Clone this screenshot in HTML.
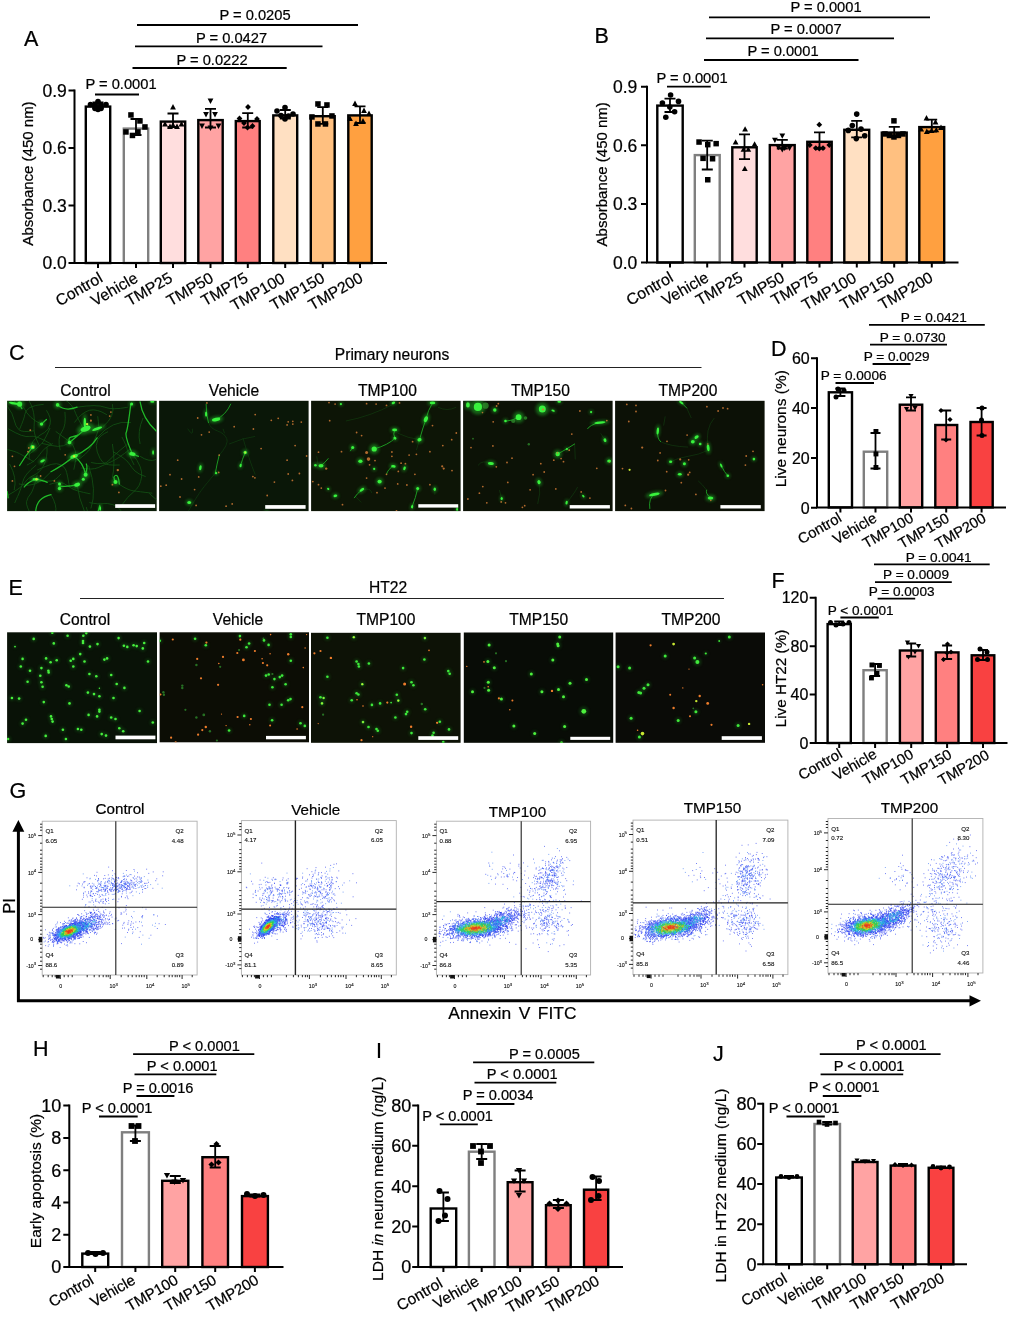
<!DOCTYPE html>
<html lang="en"><head><meta charset="utf-8"><title>Figure</title><style>html,body{margin:0;padding:0;background:#fff}svg{display:block}text{stroke:#000;stroke-width:.22px}.ns2 text{stroke:#111;stroke-width:.12px}</style></head><body>
<svg width="1010" height="1317" viewBox="0 0 1010 1317" font-family="'Liberation Sans', Arial, sans-serif" fill="#000">
<defs>
<filter id="b1" x="-20%" y="-20%" width="140%" height="140%"><feGaussianBlur stdDeviation="0.55"/></filter>
<filter id="b2" x="-20%" y="-20%" width="140%" height="140%"><feGaussianBlur stdDeviation="1.6"/></filter>
<filter id="b3" x="-20%" y="-20%" width="140%" height="140%"><feGaussianBlur stdDeviation="0.35"/></filter>
<filter id="b4" x="-20%" y="-20%" width="140%" height="140%"><feGaussianBlur stdDeviation="0.8"/></filter>
</defs>
<g><rect x="85.8" y="106.6" width="24.4" height="156.4" fill="#fff" stroke="#000" stroke-width="2.4"/><rect x="123.8" y="128.6" width="24.4" height="134.4" fill="#fff" stroke="#7f7f7f" stroke-width="2.4"/><rect x="160.8" y="121.6" width="24.4" height="141.4" fill="#FFDEDE" stroke="#000" stroke-width="2.4"/><rect x="198.3" y="120.1" width="24.4" height="142.9" fill="#FFA3A3" stroke="#000" stroke-width="2.4"/><rect x="235.8" y="121.1" width="23.9" height="141.9" fill="#FF8080" stroke="#000" stroke-width="2.4"/><rect x="273.3" y="115.4" width="23.9" height="147.6" fill="#FFE0C2" stroke="#000" stroke-width="2.4"/><rect x="310.8" y="116.2" width="23.9" height="146.8" fill="#FFC080" stroke="#000" stroke-width="2.4"/><rect x="348.3" y="115.4" width="23.4" height="147.6" fill="#FFA040" stroke="#000" stroke-width="2.4"/><path d="M74.5 90.5V263H386" fill="none" stroke="#000" stroke-width="2.0" stroke-linecap="square"/><path d="M74.5 90.5h-6M74.5 148h-6M74.5 205.5h-6M74.5 263h-6M98 263v5M136 263v5M173 263v5M210.5 263v5M247.8 263v5M285.2 263v5M322.8 263v5M360 263v5" stroke="#000" stroke-width="2.0" fill="none"/><text x="66.8" y="96.7" font-size="17.5" text-anchor="end">0.9</text><text x="66.8" y="154.2" font-size="17.5" text-anchor="end">0.6</text><text x="66.8" y="211.7" font-size="17.5" text-anchor="end">0.3</text><text x="66.8" y="269.2" font-size="17.5" text-anchor="end">0.0</text><path d="M92.5 102.5h11M92.5 108h11M98 102.5V108" stroke="#000" stroke-width="1.8" fill="none"/><circle cx="98" cy="101.5" r="2.8"/><circle cx="90.5" cy="104.5" r="2.8"/><circle cx="95" cy="105" r="2.8"/><circle cx="101" cy="105" r="2.8"/><circle cx="106" cy="104.5" r="2.8"/><circle cx="98" cy="109.5" r="2.8"/><circle cx="95" cy="108.5" r="2.8"/><circle cx="101" cy="108.5" r="2.8"/><path d="M130.5 119h11M130.5 135h11M136 119V135" stroke="#000" stroke-width="1.8" fill="none"/><rect x="128.2" y="112.2" width="5.5" height="5.5"/><rect x="137.2" y="118.2" width="5.5" height="5.5"/><rect x="142.2" y="124.2" width="5.5" height="5.5"/><rect x="123.2" y="129.2" width="5.5" height="5.5"/><rect x="135.2" y="129.2" width="5.5" height="5.5"/><rect x="129.7" y="132.7" width="5.5" height="5.5"/><path d="M167.5 113.5h11M167.5 127h11M173 113.5V127" stroke="#000" stroke-width="1.8" fill="none"/><path d="M173 104.1L175.9 109.4L170.1 109.4Z"/><path d="M165 121.1L167.9 126.4L162.1 126.4Z"/><path d="M170 123.6L172.9 128.9L167.1 128.9Z"/><path d="M177 123.6L179.9 128.9L174.1 128.9Z"/><path d="M181.5 121.1L184.4 126.4L178.6 126.4Z"/><path d="M173 122.1L175.9 127.4L170.1 127.4Z"/><path d="M205 108.8h11M205 127.5h11M210.5 108.8V127.5" stroke="#000" stroke-width="1.8" fill="none"/><path d="M210.5 103.9L213.4 98.6L207.6 98.6Z"/><path d="M206 117.4L208.9 112.1L203.1 112.1Z"/><path d="M215 117.4L217.9 112.1L212.1 112.1Z"/><path d="M202 128.9L204.9 123.6L199.1 123.6Z"/><path d="M218.5 128.9L221.4 123.6L215.6 123.6Z"/><path d="M210.5 130.9L213.4 125.6L207.6 125.6Z"/><path d="M242.2 113.2h11M242.2 127.5h11M247.8 113.2V127.5" stroke="#000" stroke-width="1.8" fill="none"/><path d="M248 104.1L250.9 107L248 109.9L245.1 107Z"/><path d="M239.5 115.6L242.4 118.5L239.5 121.4L236.6 118.5Z"/><path d="M257 116.1L259.9 119L257 121.9L254.1 119Z"/><path d="M244 120.1L246.9 123L244 125.9L241.1 123Z"/><path d="M252.5 123.1L255.4 126L252.5 128.9L249.6 126Z"/><path d="M247.5 124.6L250.4 127.5L247.5 130.4L244.6 127.5Z"/><path d="M279.8 110h11M279.8 118.5h11M285.2 110V118.5" stroke="#000" stroke-width="1.8" fill="none"/><circle cx="285" cy="107.5" r="2.8"/><circle cx="277" cy="111" r="2.8"/><circle cx="281" cy="115.5" r="2.8"/><circle cx="288.5" cy="116" r="2.8"/><circle cx="293" cy="114" r="2.8"/><circle cx="285" cy="119" r="2.8"/><path d="M317.2 107.2h11M317.2 123.8h11M322.8 107.2V123.8" stroke="#000" stroke-width="1.8" fill="none"/><rect x="315.2" y="101.2" width="5.5" height="5.5"/><rect x="324.2" y="102.2" width="5.5" height="5.5"/><rect x="309.2" y="114.2" width="5.5" height="5.5"/><rect x="329.2" y="113.2" width="5.5" height="5.5"/><rect x="315.2" y="121.2" width="5.5" height="5.5"/><rect x="322.7" y="121.2" width="5.5" height="5.5"/><path d="M354.5 106.4h11M354.5 123h11M360 106.4V123" stroke="#000" stroke-width="1.8" fill="none"/><path d="M355 100.6L357.9 105.9L352.1 105.9Z"/><path d="M364 107.6L366.9 112.9L361.1 112.9Z"/><path d="M369 110.6L371.9 115.9L366.1 115.9Z"/><path d="M350 115.6L352.9 120.9L347.1 120.9Z"/><path d="M363 118.1L365.9 123.4L360.1 123.4Z"/><path d="M356 120.6L358.9 125.9L353.1 125.9Z"/><text font-size="15.8" text-anchor="end" transform="translate(103.7 281) rotate(-30)">Control</text><text font-size="15.8" text-anchor="end" transform="translate(139 281) rotate(-30)">Vehicle</text><text font-size="15.8" text-anchor="end" transform="translate(173.5 281) rotate(-30)">TMP25</text><text font-size="15.8" text-anchor="end" transform="translate(214.5 281) rotate(-30)">TMP50</text><text font-size="15.8" text-anchor="end" transform="translate(249.2 281) rotate(-30)">TMP75</text><text font-size="15.8" text-anchor="end" transform="translate(286.2 281.5) rotate(-30)">TMP100</text><text font-size="15.8" text-anchor="end" transform="translate(325.8 281) rotate(-30)">TMP150</text><text font-size="15.8" text-anchor="end" transform="translate(364 281) rotate(-30)">TMP200</text><text font-size="15" text-anchor="middle" transform="translate(32.5 173.5) rotate(-90)">Absorbance (450 nm)</text><path d="M137 25H358" stroke="#000" stroke-width="1.8"/><text x="255" y="19.9" font-size="14.7" text-anchor="middle">P = 0.0205</text><path d="M135 46.3H322.5" stroke="#000" stroke-width="1.8"/><text x="231.5" y="42.9" font-size="14.7" text-anchor="middle">P = 0.0427</text><path d="M132.5 68H286.7" stroke="#000" stroke-width="1.8"/><text x="212" y="64.7" font-size="14.7" text-anchor="middle">P = 0.0222</text><path d="M95 94.5H139" stroke="#000" stroke-width="1.8"/><text x="121" y="89.2" font-size="14.7" text-anchor="middle">P = 0.0001</text><text x="24" y="45.8" font-size="21.5" text-anchor="start">A</text></g>
<g><rect x="657.3" y="105.6" width="25.4" height="156.9" fill="#fff" stroke="#000" stroke-width="2.4"/><rect x="694.8" y="155.1" width="24.9" height="107.4" fill="#fff" stroke="#7f7f7f" stroke-width="2.4"/><rect x="732.3" y="147.3" width="24.4" height="115.2" fill="#FFDEDE" stroke="#000" stroke-width="2.4"/><rect x="769.8" y="145.1" width="24.9" height="117.4" fill="#FFA3A3" stroke="#000" stroke-width="2.4"/><rect x="807.3" y="141.8" width="24.4" height="120.7" fill="#FF8080" stroke="#000" stroke-width="2.4"/><rect x="844.3" y="129.8" width="24.9" height="132.7" fill="#FFE0C2" stroke="#000" stroke-width="2.4"/><rect x="881.8" y="132.6" width="24.9" height="129.9" fill="#FFC080" stroke="#000" stroke-width="2.4"/><rect x="919.3" y="127.1" width="24.9" height="135.4" fill="#FFA040" stroke="#000" stroke-width="2.4"/><path d="M647 86.7V262.5H957.5" fill="none" stroke="#000" stroke-width="2.0" stroke-linecap="square"/><path d="M647 86.7h-6M647 145.3h-6M647 203.9h-6M647 262.5h-6M670 262.5v5M707.2 262.5v5M744.5 262.5v5M782.2 262.5v5M819.5 262.5v5M856.8 262.5v5M894.2 262.5v5M931.8 262.5v5" stroke="#000" stroke-width="2.0" fill="none"/><text x="637.3" y="92.9" font-size="17.5" text-anchor="end">0.9</text><text x="637.3" y="151.5" font-size="17.5" text-anchor="end">0.6</text><text x="637.3" y="210.1" font-size="17.5" text-anchor="end">0.3</text><text x="637.3" y="268.7" font-size="17.5" text-anchor="end">0.0</text><path d="M664.5 98.7h11M664.5 112h11M670 98.7V112" stroke="#000" stroke-width="1.8" fill="none"/><circle cx="670.6" cy="95" r="2.8"/><circle cx="662.4" cy="103" r="2.8"/><circle cx="678.5" cy="101.4" r="2.8"/><circle cx="669.8" cy="107" r="2.8"/><circle cx="674.6" cy="111.7" r="2.8"/><circle cx="665.8" cy="117.2" r="2.8"/><path d="M701.8 140.7h11M701.8 169.5h11M707.2 140.7V169.5" stroke="#000" stroke-width="1.8" fill="none"/><rect x="696.3" y="139.3" width="5.5" height="5.5"/><rect x="705" y="141.9" width="5.5" height="5.5"/><rect x="713.4" y="140.9" width="5.5" height="5.5"/><rect x="700.3" y="155.6" width="5.5" height="5.5"/><rect x="709.8" y="156" width="5.5" height="5.5"/><rect x="705" y="177" width="5.5" height="5.5"/><path d="M739 134.4h11M739 159.2h11M744.5 134.4V159.2" stroke="#000" stroke-width="1.8" fill="none"/><path d="M745.1 126.2L748 131.5L742.2 131.5Z"/><path d="M735.6 139.2L738.5 144.5L732.7 144.5Z"/><path d="M754.6 141.3L757.5 146.6L751.7 146.6Z"/><path d="M743.5 146.4L746.4 151.7L740.6 151.7Z"/><path d="M748.3 146.4L751.2 151.7L745.4 151.7Z"/><path d="M744.8 165.8L747.7 171.1L741.9 171.1Z"/><path d="M776.8 139.9h11M776.8 148.5h11M782.2 139.9V148.5" stroke="#000" stroke-width="1.8" fill="none"/><path d="M782.3 138.7L785.2 133.4L779.4 133.4Z"/><path d="M774.9 143.1L777.8 137.8L772 137.8Z"/><path d="M789.5 151L792.4 145.7L786.6 145.7Z"/><path d="M778.4 150.3L781.3 145L775.5 145Z"/><path d="M784.7 151L787.6 145.7L781.8 145.7Z"/><path d="M782.3 152.6L785.2 147.3L779.4 147.3Z"/><path d="M814 132.3h11M814 148.5h11M819.5 132.3V148.5" stroke="#000" stroke-width="1.8" fill="none"/><path d="M819.3 121.8L822.2 124.7L819.3 127.6L816.4 124.7Z"/><path d="M809.8 142.1L812.7 145L809.8 147.9L806.9 145Z"/><path d="M829.3 142.1L832.2 145L829.3 147.9L826.4 145Z"/><path d="M815.8 145.2L818.7 148.1L815.8 151L812.9 148.1Z"/><path d="M819.3 145.6L822.2 148.5L819.3 151.4L816.4 148.5Z"/><path d="M823 145.2L825.9 148.1L823 151L820.1 148.1Z"/><path d="M851.2 120.9h11M851.2 137.4h11M856.8 120.9V137.4" stroke="#000" stroke-width="1.8" fill="none"/><circle cx="856.7" cy="114.1" r="2.8"/><circle cx="852.3" cy="125.6" r="2.8"/><circle cx="848.3" cy="130.4" r="2.8"/><circle cx="861" cy="129.1" r="2.8"/><circle cx="864.7" cy="135.8" r="2.8"/><circle cx="856.3" cy="138.6" r="2.8"/><path d="M888.8 126.8h11M888.8 137h11M894.2 126.8V137" stroke="#000" stroke-width="1.8" fill="none"/><rect x="891.2" y="118.1" width="5.5" height="5.5"/><rect x="882.2" y="131.2" width="5.5" height="5.5"/><rect x="886.7" y="132.7" width="5.5" height="5.5"/><rect x="891.2" y="134.2" width="5.5" height="5.5"/><rect x="895.7" y="132.7" width="5.5" height="5.5"/><rect x="900.2" y="131.2" width="5.5" height="5.5"/><path d="M926.2 119.6h11M926.2 131.5h11M931.8 119.6V131.5" stroke="#000" stroke-width="1.8" fill="none"/><path d="M926.5 115.1L929.4 120.4L923.6 120.4Z"/><path d="M935.5 119.1L938.4 124.4L932.6 124.4Z"/><path d="M921.2 126.2L924.1 131.5L918.3 131.5Z"/><path d="M926.8 128.6L929.7 133.9L923.9 133.9Z"/><path d="M931.5 127.8L934.4 133.1L928.6 133.1Z"/><path d="M936.3 127L939.2 132.3L933.4 132.3Z"/><path d="M941 124.6L943.9 129.9L938.1 129.9Z"/><text font-size="15.8" text-anchor="end" transform="translate(674.3 280.5) rotate(-30)">Control</text><text font-size="15.8" text-anchor="end" transform="translate(709.8 280.5) rotate(-30)">Vehicle</text><text font-size="15.8" text-anchor="end" transform="translate(743.8 280.5) rotate(-30)">TMP25</text><text font-size="15.8" text-anchor="end" transform="translate(785.5 280.5) rotate(-30)">TMP50</text><text font-size="15.8" text-anchor="end" transform="translate(819.2 280.5) rotate(-30)">TMP75</text><text font-size="15.8" text-anchor="end" transform="translate(857.5 281) rotate(-30)">TMP100</text><text font-size="15.8" text-anchor="end" transform="translate(895.6 280.5) rotate(-30)">TMP150</text><text font-size="15.8" text-anchor="end" transform="translate(934.2 280.5) rotate(-30)">TMP200</text><text font-size="15" text-anchor="middle" transform="translate(606.5 174.3) rotate(-90)">Absorbance (450 nm)</text><path d="M709 17.3H930" stroke="#000" stroke-width="1.8"/><text x="826" y="11.7" font-size="14.7" text-anchor="middle">P = 0.0001</text><path d="M706 38.4H894" stroke="#000" stroke-width="1.8"/><text x="806" y="33.9" font-size="14.7" text-anchor="middle">P = 0.0007</text><path d="M704 60H858.5" stroke="#000" stroke-width="1.8"/><text x="783" y="56.4" font-size="14.7" text-anchor="middle">P = 0.0001</text><path d="M667 86.7H710.8" stroke="#000" stroke-width="1.8"/><text x="692" y="83.3" font-size="14.7" text-anchor="middle">P = 0.0001</text><text x="594.5" y="43.2" font-size="21.5" text-anchor="start">B</text></g>
<g><rect x="828.8" y="392.3" width="23.2" height="115.1" fill="#fff" stroke="#000" stroke-width="2.4"/><rect x="863.8" y="451.7" width="23.4" height="55.7" fill="#fff" stroke="#7f7f7f" stroke-width="2.4"/><rect x="899.8" y="404.7" width="22.4" height="102.7" fill="#FFA3A3" stroke="#000" stroke-width="2.4"/><rect x="935.3" y="425" width="21.9" height="82.4" fill="#FF8080" stroke="#000" stroke-width="2.4"/><rect x="970.5" y="422" width="22.2" height="85.4" fill="#F94141" stroke="#000" stroke-width="2.4"/><path d="M817 358.3V507.4H1005" fill="none" stroke="#000" stroke-width="2.0" stroke-linecap="square"/><path d="M817 358.3h-6M817 408.1h-6M817 457.9h-6M817 507.8h-6M840.4 507.4v5M875.5 507.4v5M911 507.4v5M946.2 507.4v5M981.6 507.4v5" stroke="#000" stroke-width="2.0" fill="none"/><text x="809.7" y="364" font-size="16" text-anchor="end">60</text><text x="809.7" y="413.8" font-size="16" text-anchor="end">40</text><text x="809.7" y="463.6" font-size="16" text-anchor="end">20</text><text x="809.7" y="513.5" font-size="16" text-anchor="end">0</text><path d="M835.4 388.5h10M835.4 396h10M840.4 388.5V396" stroke="#000" stroke-width="1.8" fill="none"/><circle cx="838" cy="389" r="2.5"/><circle cx="844" cy="390.5" r="2.5"/><circle cx="836" cy="397" r="2.5"/><path d="M870.5 433h10M870.5 468.5h10M875.5 433V468.5" stroke="#000" stroke-width="1.8" fill="none"/><rect x="873.5" y="429" width="4.9" height="4.9"/><rect x="873.5" y="451.5" width="4.9" height="4.9"/><rect x="873.5" y="465" width="4.9" height="4.9"/><path d="M906 397.3h10M906 410.5h10M911 397.3V410.5" stroke="#000" stroke-width="1.8" fill="none"/><path d="M911 398.6L913.6 393.9L908.4 393.9Z"/><path d="M906.5 411.6L909.1 406.9L903.9 406.9Z"/><path d="M915 410.6L917.6 405.9L912.4 405.9Z"/><path d="M941.2 410.5h10M941.2 439.5h10M946.2 410.5V439.5" stroke="#000" stroke-width="1.8" fill="none"/><path d="M941 407.9L943.6 410.5L941 413.1L938.4 410.5Z"/><path d="M950 416.9L952.6 419.5L950 422.1L947.4 419.5Z"/><path d="M946 437.4L948.6 440L946 442.6L943.4 440Z"/><path d="M976.6 408h10M976.6 435.5h10M981.6 408V435.5" stroke="#000" stroke-width="1.8" fill="none"/><circle cx="982" cy="408" r="2.5"/><circle cx="981.5" cy="420" r="2.5"/><circle cx="982" cy="435.5" r="2.5"/><text font-size="14.8" text-anchor="end" transform="translate(842.7 520.7) rotate(-30)">Control</text><text font-size="14.8" text-anchor="end" transform="translate(877.8 520.9) rotate(-30)">Vehicle</text><text font-size="14.8" text-anchor="end" transform="translate(914.6 520.9) rotate(-30)">TMP100</text><text font-size="14.8" text-anchor="end" transform="translate(950.5 521.1) rotate(-30)">TMP150</text><text font-size="14.8" text-anchor="end" transform="translate(987.1 521.1) rotate(-30)">TMP200</text><text font-size="15.5" text-anchor="middle" transform="translate(786 428.7) rotate(-90)">Live neurons (%)</text><path d="M869 324.9H984.8" stroke="#000" stroke-width="1.8"/><text x="933.8" y="322" font-size="13.6" text-anchor="middle">P = 0.0421</text><path d="M870 344.7H947" stroke="#000" stroke-width="1.8"/><text x="912.7" y="342.1" font-size="13.6" text-anchor="middle">P = 0.0730</text><path d="M872.6 364H910.5" stroke="#000" stroke-width="1.8"/><text x="896.6" y="360.6" font-size="13.6" text-anchor="middle">P = 0.0029</text><path d="M835.5 383H874" stroke="#000" stroke-width="1.8"/><text x="853.6" y="379.7" font-size="13.6" text-anchor="middle">P = 0.0006</text><text x="771" y="356.3" font-size="21.5" text-anchor="start">D</text></g>
<g><rect x="827.6" y="624.1" width="23.2" height="118.9" fill="#fff" stroke="#000" stroke-width="2.4"/><rect x="863.5" y="670.2" width="23.2" height="72.8" fill="#fff" stroke="#7f7f7f" stroke-width="2.4"/><rect x="899.9" y="650.5" width="22.7" height="92.5" fill="#FFA3A3" stroke="#000" stroke-width="2.4"/><rect x="935.8" y="652.4" width="22.7" height="90.6" fill="#FF8080" stroke="#000" stroke-width="2.4"/><rect x="971.7" y="655.3" width="22.6" height="87.7" fill="#F94141" stroke="#000" stroke-width="2.4"/><path d="M815.7 597.7V743H1006.5" fill="none" stroke="#000" stroke-width="2.0" stroke-linecap="square"/><path d="M815.7 597.7h-6M815.7 646.2h-6M815.7 694.6h-6M815.7 743h-6M839.2 743v5M875.1 743v5M911.2 743v5M947.1 743v5M983 743v5" stroke="#000" stroke-width="2.0" fill="none"/><text x="808.4" y="603.4" font-size="16" text-anchor="end">120</text><text x="808.4" y="651.9" font-size="16" text-anchor="end">80</text><text x="808.4" y="700.3" font-size="16" text-anchor="end">40</text><text x="808.4" y="748.7" font-size="16" text-anchor="end">0</text><path d="M834.2 621.5h10M834.2 625h10M839.2 621.5V625" stroke="#000" stroke-width="1.8" fill="none"/><circle cx="830.5" cy="622.5" r="2.5"/><circle cx="836" cy="625" r="2.5"/><circle cx="843" cy="624" r="2.5"/><circle cx="849" cy="622.5" r="2.5"/><path d="M870.1 664h10M870.1 676h10M875.1 664V676" stroke="#000" stroke-width="1.8" fill="none"/><rect x="869.5" y="662.5" width="4.9" height="4.9"/><rect x="877" y="663" width="4.9" height="4.9"/><rect x="874.5" y="671" width="4.9" height="4.9"/><rect x="869" y="675.5" width="4.9" height="4.9"/><path d="M906.2 643.5h10M906.2 656.5h10M911.2 643.5V656.5" stroke="#000" stroke-width="1.8" fill="none"/><path d="M907.5 645.1L910.1 640.4L904.9 640.4Z"/><path d="M918.5 648.6L921.1 643.9L915.9 643.9Z"/><path d="M915 654.6L917.6 649.9L912.4 649.9Z"/><path d="M908.5 659.6L911.1 654.9L905.9 654.9Z"/><path d="M942.1 645.5h10M942.1 659h10M947.1 645.5V659" stroke="#000" stroke-width="1.8" fill="none"/><path d="M947.5 641.4L950.1 644L947.5 646.6L944.9 644Z"/><path d="M951 649.4L953.6 652L951 654.6L948.4 652Z"/><path d="M943.5 656.9L946.1 659.5L943.5 662.1L940.9 659.5Z"/><path d="M947 650.4L949.6 653L947 655.6L944.4 653Z"/><path d="M978 650h10M978 660h10M983 650V660" stroke="#000" stroke-width="1.8" fill="none"/><circle cx="980" cy="649" r="2.5"/><circle cx="987" cy="652" r="2.5"/><circle cx="977.5" cy="659.5" r="2.5"/><circle cx="987.5" cy="659.5" r="2.5"/><text font-size="14.8" text-anchor="end" transform="translate(843.3 756.7) rotate(-30)">Control</text><text font-size="14.8" text-anchor="end" transform="translate(877.8 757) rotate(-30)">Vehicle</text><text font-size="14.8" text-anchor="end" transform="translate(914.6 757.2) rotate(-30)">TMP100</text><text font-size="14.8" text-anchor="end" transform="translate(953 757.5) rotate(-30)">TMP150</text><text font-size="14.8" text-anchor="end" transform="translate(990.3 757.9) rotate(-30)">TMP200</text><text font-size="15.3" text-anchor="middle" transform="translate(786 678.5) rotate(-90)">Live HT22 (%)</text><path d="M874 564.3H989.7" stroke="#000" stroke-width="1.8"/><text x="938.7" y="562" font-size="13.6" text-anchor="middle">P = 0.0041</text><path d="M875 582.1H951.8" stroke="#000" stroke-width="1.8"/><text x="916" y="579.3" font-size="13.6" text-anchor="middle">P = 0.0009</text><path d="M877.6 598.7H915.2" stroke="#000" stroke-width="1.8"/><text x="901.6" y="596.1" font-size="13.6" text-anchor="middle">P = 0.0003</text><path d="M840.4 617.5H878.8" stroke="#000" stroke-width="1.8"/><text x="860.7" y="615.2" font-size="13.6" text-anchor="middle">P &lt; 0.0001</text><text x="771.5" y="588.3" font-size="21.5" text-anchor="start">F</text></g>
<g><rect x="82.3" y="1253.6" width="25.9" height="13.4" fill="#fff" stroke="#000" stroke-width="2.4"/><rect x="122" y="1132.3" width="26.9" height="134.7" fill="#fff" stroke="#7f7f7f" stroke-width="2.4"/><rect x="162.2" y="1180.8" width="26.1" height="86.2" fill="#FFA3A3" stroke="#000" stroke-width="2.4"/><rect x="202.4" y="1157.2" width="25.6" height="109.8" fill="#FF8080" stroke="#000" stroke-width="2.4"/><rect x="242" y="1196.1" width="25.9" height="70.9" fill="#F94141" stroke="#000" stroke-width="2.4"/><path d="M69.3 1105.6V1267H282.5" fill="none" stroke="#000" stroke-width="2.0" stroke-linecap="square"/><path d="M69.3 1105.6h-6M69.3 1137.9h-6M69.3 1170.2h-6M69.3 1202.5h-6M69.3 1234.8h-6M69.3 1267h-6M95.2 1267v5M135.4 1267v5M175.2 1267v5M215.2 1267v5M254.9 1267v5" stroke="#000" stroke-width="2.0" fill="none"/><text x="61.3" y="1112" font-size="18" text-anchor="end">10</text><text x="61.3" y="1144.3" font-size="18" text-anchor="end">8</text><text x="61.3" y="1176.6" font-size="18" text-anchor="end">6</text><text x="61.3" y="1208.9" font-size="18" text-anchor="end">4</text><text x="61.3" y="1241.2" font-size="18" text-anchor="end">2</text><text x="61.3" y="1273.4" font-size="18" text-anchor="end">0</text><path d="M89.8 1252h11M89.8 1254h11M95.2 1252V1254" stroke="#000" stroke-width="1.8" fill="none"/><circle cx="88" cy="1253" r="3"/><circle cx="95.5" cy="1254" r="3"/><circle cx="103" cy="1253" r="3"/><path d="M129.9 1125.5h11M129.9 1141h11M135.4 1125.5V1141" stroke="#000" stroke-width="1.8" fill="none"/><rect x="128.6" y="1123.1" width="5.8" height="5.8"/><rect x="135.6" y="1123.1" width="5.8" height="5.8"/><rect x="132.1" y="1138.1" width="5.8" height="5.8"/><path d="M169.8 1176h11M169.8 1183h11M175.2 1176V1183" stroke="#000" stroke-width="1.8" fill="none"/><path d="M167 1178.6L170.1 1173L163.9 1173Z"/><path d="M174.5 1185.1L177.6 1179.5L171.4 1179.5Z"/><path d="M183 1183.6L186.1 1178L179.9 1178Z"/><path d="M209.7 1146h11M209.7 1167.5h11M215.2 1146V1167.5" stroke="#000" stroke-width="1.8" fill="none"/><path d="M216.5 1140.9L219.6 1144L216.5 1147.1L213.4 1144Z"/><path d="M211.5 1161.4L214.6 1164.5L211.5 1167.6L208.4 1164.5Z"/><path d="M218.5 1159.4L221.6 1162.5L218.5 1165.6L215.4 1162.5Z"/><path d="M249.4 1194.5h11M249.4 1196.5h11M254.9 1194.5V1196.5" stroke="#000" stroke-width="1.8" fill="none"/><circle cx="247" cy="1194" r="3"/><circle cx="255" cy="1196" r="3"/><circle cx="263.5" cy="1195" r="3"/><text font-size="15.2" text-anchor="end" transform="translate(94.8 1283) rotate(-30)">Control</text><text font-size="15.2" text-anchor="end" transform="translate(136.5 1283) rotate(-30)">Vehicle</text><text font-size="15.2" text-anchor="end" transform="translate(179.4 1283) rotate(-30)">TMP100</text><text font-size="15.2" text-anchor="end" transform="translate(217.6 1283) rotate(-30)">TMP150</text><text font-size="15.2" text-anchor="end" transform="translate(259.9 1283) rotate(-30)">TMP200</text><text font-size="15.5" text-anchor="middle" transform="translate(41 1181) rotate(-90)">Early apoptosis (%)</text><path d="M133.1 1054.1H254.3" stroke="#000" stroke-width="1.8"/><text x="204.4" y="1050.6" font-size="14.6" text-anchor="middle">P &lt; 0.0001</text><path d="M134.5 1074.4H216.3" stroke="#000" stroke-width="1.8"/><text x="182.2" y="1071.2" font-size="14.6" text-anchor="middle">P &lt; 0.0001</text><path d="M136.4 1096H174.4" stroke="#000" stroke-width="1.8"/><text x="158" y="1092.8" font-size="14.6" text-anchor="middle">P = 0.0016</text><path d="M99 1116.5H137.7" stroke="#000" stroke-width="1.8"/><text x="117" y="1113" font-size="14.6" text-anchor="middle">P &lt; 0.0001</text><text x="33" y="1055.5" font-size="21.5" text-anchor="start">H</text></g>
<g><rect x="430.7" y="1208.5" width="25.5" height="58.5" fill="#fff" stroke="#000" stroke-width="2.4"/><rect x="468.9" y="1151.7" width="25.6" height="115.3" fill="#fff" stroke="#7f7f7f" stroke-width="2.4"/><rect x="507.7" y="1182.2" width="24.8" height="84.8" fill="#FFA3A3" stroke="#000" stroke-width="2.4"/><rect x="546" y="1205.2" width="24.7" height="61.8" fill="#FF8080" stroke="#000" stroke-width="2.4"/><rect x="584" y="1189.7" width="24.2" height="77.3" fill="#F94141" stroke="#000" stroke-width="2.4"/><path d="M418.2 1105.4V1267H622" fill="none" stroke="#000" stroke-width="2.0" stroke-linecap="square"/><path d="M418.2 1105.4h-6M418.2 1145.8h-6M418.2 1186.2h-6M418.2 1226.6h-6M418.2 1267h-6M443.4 1267v5M481.7 1267v5M520.1 1267v5M558.4 1267v5M596.1 1267v5" stroke="#000" stroke-width="2.0" fill="none"/><text x="411.2" y="1111.8" font-size="18" text-anchor="end">80</text><text x="411.2" y="1152.2" font-size="18" text-anchor="end">60</text><text x="411.2" y="1192.6" font-size="18" text-anchor="end">40</text><text x="411.2" y="1233" font-size="18" text-anchor="end">20</text><text x="411.2" y="1273.4" font-size="18" text-anchor="end">0</text><path d="M437.9 1192.5h11M437.9 1221h11M443.4 1192.5V1221" stroke="#000" stroke-width="1.8" fill="none"/><circle cx="439.5" cy="1191" r="3"/><circle cx="447.5" cy="1199" r="3"/><circle cx="445" cy="1215.5" r="3"/><circle cx="438.5" cy="1221" r="3"/><path d="M476.2 1144h11M476.2 1159h11M481.7 1144V1159" stroke="#000" stroke-width="1.8" fill="none"/><rect x="470.1" y="1143.1" width="5.8" height="5.8"/><rect x="487.1" y="1143.1" width="5.8" height="5.8"/><rect x="478.1" y="1148.6" width="5.8" height="5.8"/><rect x="478.1" y="1160.1" width="5.8" height="5.8"/><path d="M514.6 1170.5h11M514.6 1191.5h11M520.1 1170.5V1191.5" stroke="#000" stroke-width="1.8" fill="none"/><path d="M519 1173.6L522.1 1168L515.9 1168Z"/><path d="M514 1184.1L517.1 1178.5L510.9 1178.5Z"/><path d="M524 1184.1L527.1 1178.5L520.9 1178.5Z"/><path d="M519 1198.6L522.1 1193L515.9 1193Z"/><path d="M552.9 1200h11M552.9 1208h11M558.4 1200V1208" stroke="#000" stroke-width="1.8" fill="none"/><path d="M549.5 1200.4L552.6 1203.5L549.5 1206.6L546.4 1203.5Z"/><path d="M566.5 1200.4L569.6 1203.5L566.5 1206.6L563.4 1203.5Z"/><path d="M558 1197.4L561.1 1200.5L558 1203.6L554.9 1200.5Z"/><path d="M558 1205.9L561.1 1209L558 1212.1L554.9 1209Z"/><path d="M590.6 1176.5h11M590.6 1200h11M596.1 1176.5V1200" stroke="#000" stroke-width="1.8" fill="none"/><circle cx="592.5" cy="1177" r="3"/><circle cx="599" cy="1181" r="3"/><circle cx="598.5" cy="1196" r="3"/><circle cx="591" cy="1200" r="3"/><text font-size="15.5" text-anchor="end" transform="translate(443.8 1286.3) rotate(-30)">Control</text><text font-size="15.5" text-anchor="end" transform="translate(480.3 1284.3) rotate(-30)">Vehicle</text><text font-size="15.5" text-anchor="end" transform="translate(523.3 1284.3) rotate(-30)">TMP100</text><text font-size="15.5" text-anchor="end" transform="translate(560.8 1284.3) rotate(-30)">TMP150</text><text font-size="15.5" text-anchor="end" transform="translate(600.6 1284) rotate(-30)">TMP200</text><text font-size="15.5" text-anchor="middle" transform="translate(382.5 1178.8) rotate(-90)">LDH <tspan font-style="italic">in</tspan> neuron medium (<tspan font-style="italic">n</tspan>g/L)</text><path d="M473.1 1062.4H594.3" stroke="#000" stroke-width="1.8"/><text x="544.4" y="1058.7" font-size="14.6" text-anchor="middle">P = 0.0005</text><path d="M474.5 1082.7H556.3" stroke="#000" stroke-width="1.8"/><text x="522.2" y="1079.4" font-size="14.6" text-anchor="middle">P &lt; 0.0001</text><path d="M476.4 1104H514.4" stroke="#000" stroke-width="1.8"/><text x="498" y="1100.3" font-size="14.6" text-anchor="middle">P = 0.0034</text><path d="M439.8 1124.3H477.8" stroke="#000" stroke-width="1.8"/><text x="457.6" y="1121.1" font-size="14.6" text-anchor="middle">P &lt; 0.0001</text><text x="376" y="1057.7" font-size="21.5" text-anchor="start">I</text></g>
<g><rect x="776.2" y="1177.5" width="25.6" height="86.8" fill="#fff" stroke="#000" stroke-width="2.4"/><rect x="814.5" y="1124" width="25.5" height="140.3" fill="#fff" stroke="#7f7f7f" stroke-width="2.4"/><rect x="852.7" y="1162" width="24.8" height="102.3" fill="#FFA3A3" stroke="#000" stroke-width="2.4"/><rect x="890.7" y="1165.6" width="24.7" height="98.7" fill="#FF8080" stroke="#000" stroke-width="2.4"/><rect x="928.7" y="1167.8" width="24.7" height="96.5" fill="#F94141" stroke="#000" stroke-width="2.4"/><path d="M763.2 1103.8V1264.3H966" fill="none" stroke="#000" stroke-width="2.0" stroke-linecap="square"/><path d="M763.2 1103.8h-6M763.2 1143.9h-6M763.2 1184h-6M763.2 1224.2h-6M763.2 1264.3h-6M789 1264.3v5M827.2 1264.3v5M865.1 1264.3v5M903 1264.3v5M941 1264.3v5" stroke="#000" stroke-width="2.0" fill="none"/><text x="756.5" y="1110.2" font-size="18" text-anchor="end">80</text><text x="756.5" y="1150.3" font-size="18" text-anchor="end">60</text><text x="756.5" y="1190.4" font-size="18" text-anchor="end">40</text><text x="756.5" y="1230.6" font-size="18" text-anchor="end">20</text><text x="756.5" y="1270.7" font-size="18" text-anchor="end">0</text><path d="M784 1176h10M784 1177.5h10M789 1176V1177.5" stroke="#000" stroke-width="1.8" fill="none"/><circle cx="781" cy="1176.5" r="2.4"/><circle cx="789" cy="1177.5" r="2.4"/><circle cx="797" cy="1176.5" r="2.4"/><path d="M822.2 1122h10M822.2 1124.5h10M827.2 1122V1124.5" stroke="#000" stroke-width="1.8" fill="none"/><rect x="816.7" y="1119.7" width="4.6" height="4.6"/><rect x="824.7" y="1122.2" width="4.6" height="4.6"/><rect x="833.2" y="1120.7" width="4.6" height="4.6"/><path d="M860.1 1160.5h10M860.1 1162h10M865.1 1160.5V1162" stroke="#000" stroke-width="1.8" fill="none"/><path d="M857 1163L859.5 1158.5L854.5 1158.5Z"/><path d="M865 1164L867.5 1159.5L862.5 1159.5Z"/><path d="M873.5 1163.5L876 1159L871 1159Z"/><path d="M898 1164h10M898 1165.5h10M903 1164V1165.5" stroke="#000" stroke-width="1.8" fill="none"/><path d="M895 1162L897.5 1164.5L895 1167L892.5 1164.5Z"/><path d="M903 1163L905.5 1165.5L903 1168L900.5 1165.5Z"/><path d="M911.5 1162.5L914 1165L911.5 1167.5L909 1165Z"/><path d="M936 1166.5h10M936 1168h10M941 1166.5V1168" stroke="#000" stroke-width="1.8" fill="none"/><circle cx="933" cy="1166.5" r="2.4"/><circle cx="941" cy="1168" r="2.4"/><circle cx="949.5" cy="1167" r="2.4"/><text font-size="15.5" text-anchor="end" transform="translate(788.3 1281.6) rotate(-30)">Control</text><text font-size="15.5" text-anchor="end" transform="translate(825.4 1281.6) rotate(-30)">Vehicle</text><text font-size="15.5" text-anchor="end" transform="translate(867.5 1281.5) rotate(-30)">TMP100</text><text font-size="15.5" text-anchor="end" transform="translate(904.9 1281.4) rotate(-30)">TMP150</text><text font-size="15.5" text-anchor="end" transform="translate(945.5 1281.3) rotate(-30)">TMP200</text><text font-size="15.5" text-anchor="middle" transform="translate(726 1185.5) rotate(-90)">LDH in HT22 medium (ng/L)</text><path d="M819.8 1054.1H940.6" stroke="#000" stroke-width="1.8"/><text x="891.3" y="1050.4" font-size="14.6" text-anchor="middle">P &lt; 0.0001</text><path d="M820.6 1074.4H903.2" stroke="#000" stroke-width="1.8"/><text x="869.1" y="1071.2" font-size="14.6" text-anchor="middle">P &lt; 0.0001</text><path d="M822.8 1096H861.4" stroke="#000" stroke-width="1.8"/><text x="844.2" y="1092.2" font-size="14.6" text-anchor="middle">P &lt; 0.0001</text><path d="M786.5 1116.5H824.8" stroke="#000" stroke-width="1.8"/><text x="804" y="1113" font-size="14.6" text-anchor="middle">P &lt; 0.0001</text><text x="713" y="1061" font-size="21.5" text-anchor="start">J</text></g>
<g><clipPath id="mc1"><rect x="7.1" y="400.8" width="149.6" height="110.3"/></clipPath><rect x="7.1" y="400.8" width="149.6" height="110.3" fill="#0a1c07"/><g clip-path="url(#mc1)"><path d="M74.7 462.1Q87.8 453.7 91.1 446.9Q94.4 440.1 97 434Q99.6 427.9 97.7 416.2M29 459.8Q29.9 443.1 35.2 438.8Q40.5 434.5 44.6 432.4Q48.7 430.3 50.1 424.2Q51.5 418.1 46.4 410.2M43.7 404.3Q34.3 405 29.8 407.6Q25.4 410.3 24.8 414.5Q24.2 418.7 19.6 429.2M89.3 502.6Q98.9 504.4 103 503.7Q107.1 502.9 112.5 504.5Q118 506.1 124.8 515M149.2 493.4Q155.1 499.1 161.1 502.8Q167.2 506.5 179 511.5M37.3 474.6Q33.3 490.7 30.5 494Q27.6 497.3 26.6 501.5Q25.5 505.7 33.2 518.5M34.2 462Q21.6 454.4 16.4 452.2Q11.3 450.1 -5.2 446.6M8.1 495.2Q21.9 487.5 24.8 482.6Q27.7 477.8 34 475.1Q40.2 472.5 43.9 465Q47.6 457.4 47 447.4M121.9 436.9Q126.3 445.4 127.2 449.2Q128.1 453.1 134.1 465M26.8 465.1Q35.4 461.4 39.7 454.6Q43.9 447.8 52.8 443.5M36 481.6Q47.3 481.2 51.5 480.9Q55.6 480.6 61.1 473.8M83.6 428.9Q76.2 415.5 74.5 410.6Q72.8 405.7 67.2 401.3Q61.5 397 51.8 398.1M90.5 493.9Q74.7 490.8 71.4 488.3Q68.1 485.8 63.7 483.4Q59.3 481.1 49.5 484.4M86.3 507.1Q91 523.1 91.1 530.1Q91.1 537.1 89.8 546M13.2 403Q18.2 396.7 21.3 394Q24.4 391.2 24.7 385.9Q25.1 380.7 22.7 377.2Q20.4 373.7 13.5 365.1M14.6 503.1Q21.5 488.6 22.8 481.7Q24 474.8 36.3 465M69.5 487.2Q67.3 473.6 65.8 470Q64.4 466.4 60.5 464.7Q56.6 462.9 51.8 464.3Q46.9 465.6 37.2 470M145.7 476.7Q137.8 473.9 135 471Q132.2 468.2 128.8 463.2Q125.4 458.2 112.9 451.6M81.3 468Q92.1 470.3 98.2 467.6Q104.2 464.8 111 461.9Q117.7 459.1 130.3 448.9M81.5 427.4Q76.6 438 70 442.5Q63.3 446.9 57.7 446.4Q52.1 445.9 41.9 443.4M28.1 455.2Q41.2 445.3 43.5 441.3Q45.9 437.3 50.1 428M39.6 446.2Q33.1 433.5 34.1 426.8Q35 420.2 33.6 412.7Q32.3 405.1 25 394M108 431.7Q100.7 434.7 97.8 439.8Q94.8 445 97.3 452.2Q99.8 459.4 103.1 462.6Q106.3 465.7 119.7 465M73.8 469.7Q77 456.1 75.1 450.4Q73.3 444.6 70.2 442.2Q67.2 439.8 55.7 431.4M34.5 430.7Q22.3 432.8 18.9 429.7Q15.5 426.7 14 419.8Q12.5 412.9 8.8 408.6Q5 404.2 5 393M74.4 422.5Q82.1 412.2 89.4 410.3Q96.7 408.4 106.9 414.7M8.1 428.7Q23.4 437.9 29.6 436.4Q35.7 434.8 51 444M51 471.7Q35.7 490.1 18.8 483.9M77.1 407.2Q97.1 404.1 104.8 407.2Q112.4 410.3 127.8 407.2M97.1 437.9Q104.8 428.7 113.2 424.9Q121.6 421 130.8 422.6M90.9 462.5Q104.8 465.5 108.6 460.9Q112.4 456.3 127.8 444M88.6 465.5Q97.1 490.1 90.9 508.5M112.4 444Q115.5 462.5 112.4 477.8M132.4 454Q143.1 467.1 141.6 477Q140.1 487 133.9 491.6Q127.8 496.2 121.6 505.4M51 494.7Q57.2 505.4 55.6 512.3M77.1 484.7Q78.7 497.8 84.8 512.3M23.4 407.2Q29.6 419.5 41.8 424.1M140.1 456.3Q149.3 462.5 156.2 459.4M9.6 464Q17.3 477.8 14.2 490.1M64.9 411.8Q66.4 425.6 61.8 431.8Q57.2 437.9 60.2 450.2M118.6 483.9Q127.8 490.1 133.1 490.8Q138.5 491.6 152.3 493.2M103.2 426.4Q115.5 416.4 112.4 404.1M143.1 418Q137 431.8 140.1 444" fill="none" stroke="#1b7a20" stroke-width="0.8" opacity="0.6" filter="url(#b3)"/><path d="M85.6 428.7Q78.7 434.8 69.5 442.5M69.5 442.5Q67.9 437.9 71 437.1Q74.1 436.4 78.7 434.8M74.1 456.3Q90.9 448.6 97.1 437.9M74.1 456.3Q63.3 465.5 51 471.7M74.1 456.3Q83.3 462.5 85.6 474.7M85.6 474.7Q87.9 467.1 86.3 464M35.7 479.3Q28 481.6 24.2 487M35.7 479.3Q43.4 480.1 47.2 482.4M59.5 486.2Q69.5 487 77.1 484.7M132.4 454Q124.7 436.4 126.2 432.5Q127.8 428.7 130.8 404.1M132.4 454L138.5 456.3M140.1 401.8Q142.4 418 156.2 431M57.6 404.9Q64.9 411.8 77.1 407.2M32.6 447.1Q25 456.3 19.6 465.5M115.5 482.1Q112.4 476.3 115.5 475.5Q118.6 474.7 119.3 483.9M35.7 511.6Q36.5 497.8 51 494.7M97.8 512.3L99.8 505.4M19.6 404.1L21.9 408.7M41.5 424.1L46.4 419.5M8.1 497.8L7.3 491.6" fill="none" stroke="#23c42c" stroke-width="1.25" opacity="0.95" stroke-linecap="round" filter="url(#b3)"/><g fill="#22b52a" opacity="0.5" filter="url(#b2)"><circle cx="19.6" cy="404.1" r="4.9"/><ellipse cx="14.2" cy="403.4" rx="9" ry="2.2" transform="rotate(10 14.2 403.4)"/><circle cx="57.6" cy="404.9" r="3.5"/><circle cx="41.5" cy="424.1" r="3.1"/><ellipse cx="85.6" cy="428.7" rx="9" ry="5.1" transform="rotate(-20 85.6 428.7)"/><ellipse cx="97.1" cy="428.7" rx="9" ry="2.6" transform="rotate(-20 97.1 428.7)"/><ellipse cx="84.8" cy="422.6" rx="2.1" ry="9.1" transform="rotate(0 84.8 422.6)"/><circle cx="69.5" cy="442.5" r="3.5"/><circle cx="32.6" cy="447.1" r="4.2"/><ellipse cx="74.1" cy="456.3" rx="6.6" ry="3.6" transform="rotate(-20 74.1 456.3)"/><ellipse cx="42.6" cy="460.9" rx="4.2" ry="2.2" transform="rotate(-25 42.6 460.9)"/><ellipse cx="132.4" cy="454" rx="5.4" ry="3.6" transform="rotate(10 132.4 454)"/><circle cx="131.6" cy="404.1" r="2.8"/><circle cx="85.6" cy="474.7" r="3.8"/><circle cx="83.3" cy="479.3" r="2.8"/><ellipse cx="35.7" cy="479.3" rx="5.4" ry="2.6" transform="rotate(0 35.7 479.3)"/><circle cx="59.5" cy="483.9" r="2.8"/><circle cx="59.5" cy="488.5" r="3.1"/><ellipse cx="77.1" cy="484.7" rx="5.1" ry="3.6" transform="rotate(-20 77.1 484.7)"/><circle cx="115.5" cy="482.1" r="3.8"/><ellipse cx="100.2" cy="508.5" rx="1.5" ry="4.4" transform="rotate(0 100.2 508.5)"/><ellipse cx="152.3" cy="401.8" rx="3.6" ry="1.8" transform="rotate(0 152.3 401.8)"/><ellipse cx="153.1" cy="452.5" rx="1.5" ry="4.4" transform="rotate(0 153.1 452.5)"/></g><g fill="#38f23c" filter="url(#b1)"><circle cx="19.6" cy="404.1" r="2.6"/><ellipse cx="14.2" cy="403.4" rx="5.3" ry="1.2" transform="rotate(10 14.2 403.4)"/><circle cx="57.6" cy="404.9" r="1.8"/><circle cx="41.5" cy="424.1" r="1.7"/><ellipse cx="85.6" cy="428.7" rx="5.3" ry="2.7" transform="rotate(-20 85.6 428.7)"/><ellipse cx="97.1" cy="428.7" rx="5.3" ry="1.3" transform="rotate(-20 97.1 428.7)"/><ellipse cx="84.8" cy="422.6" rx="1.2" ry="4.8" transform="rotate(0 84.8 422.6)"/><circle cx="69.5" cy="442.5" r="1.8"/><circle cx="32.6" cy="447.1" r="2.2"/><ellipse cx="74.1" cy="456.3" rx="3.9" ry="1.9" transform="rotate(-20 74.1 456.3)"/><ellipse cx="42.6" cy="460.9" rx="2.5" ry="1.2" transform="rotate(-25 42.6 460.9)"/><ellipse cx="132.4" cy="454" rx="3.2" ry="1.9" transform="rotate(10 132.4 454)"/><circle cx="131.6" cy="404.1" r="1.5"/><circle cx="85.6" cy="474.7" r="2"/><circle cx="83.3" cy="479.3" r="1.5"/><ellipse cx="35.7" cy="479.3" rx="3.2" ry="1.3" transform="rotate(0 35.7 479.3)"/><circle cx="59.5" cy="483.9" r="1.5"/><circle cx="59.5" cy="488.5" r="1.7"/><ellipse cx="77.1" cy="484.7" rx="3" ry="1.9" transform="rotate(-20 77.1 484.7)"/><circle cx="115.5" cy="482.1" r="2"/><ellipse cx="100.2" cy="508.5" rx="0.9" ry="2.3" transform="rotate(0 100.2 508.5)"/><ellipse cx="152.3" cy="401.8" rx="2.1" ry="1" transform="rotate(0 152.3 401.8)"/><ellipse cx="153.1" cy="452.5" rx="0.9" ry="2.3" transform="rotate(0 153.1 452.5)"/></g><g fill="#c8e832" filter="url(#b1)"><circle cx="87.1" cy="424.1" r="1.2"/><circle cx="32.9" cy="447.1" r="1.1"/><circle cx="74.1" cy="456.3" r="1.2"/><circle cx="36.5" cy="479.3" r="1.2"/></g><g fill="#cf7a36" opacity="0.85" filter="url(#b1)"><circle cx="30.3" cy="430.2" r="0.9"/><circle cx="28.8" cy="447.9" r="0.9"/><circle cx="28" cy="451.7" r="0.9"/><circle cx="12.4" cy="456.3" r="0.9"/><circle cx="14.5" cy="466.3" r="0.9"/><circle cx="40.6" cy="476" r="0.9"/><circle cx="54.4" cy="480.9" r="0.9"/><circle cx="12.4" cy="480.9" r="0.9"/><circle cx="65.2" cy="454.8" r="0.9"/><circle cx="90.9" cy="420.7" r="1.1"/><circle cx="90.9" cy="414.9" r="0.9"/><circle cx="117.8" cy="470.1" r="1.2"/><circle cx="112.4" cy="484.7" r="0.9"/><circle cx="118.9" cy="492.4" r="0.9"/><circle cx="110.9" cy="412.1" r="0.9"/><circle cx="109.7" cy="416.1" r="0.9"/></g></g><rect x="115.2" y="504.2" width="39.9" height="3.7" fill="#fff"/></g>
<g><clipPath id="mc2"><rect x="159.1" y="400.8" width="149.5" height="110.3"/></clipPath><rect x="159.1" y="400.8" width="149.5" height="110.3" fill="#0a1708"/><g clip-path="url(#mc2)"><path d="M208.4 422.6Q210.7 428.7 217.6 431Q224.5 433.3 226.8 438.7Q229.1 444 218.4 456.3M215.3 473.2Q206.1 483.9 201.5 490.1Q196.9 496.2 187.7 512.3M187.7 428.7Q193.8 437.9 192.3 428.7M229.1 444Q242.9 437.9 255.2 436.4M224.5 433.3L223 428.7M242.9 437.9Q249.1 459.4 255.2 474.7" fill="none" stroke="#1b7a20" stroke-width="0.8" opacity="0.33" filter="url(#b3)"/><path d="M216.1 419.5Q226.1 414.9 230.7 404.1M206.1 404.1Q206.1 414.1 208.4 422.6M219.2 455.1Q216.9 464 215.3 473.2M245.2 452.5Q242.2 459.4 240.6 465.5" fill="none" stroke="#23c42c" stroke-width="1.0" opacity="0.75" stroke-linecap="round" filter="url(#b3)"/><g fill="#22b52a" opacity="0.5" filter="url(#b2)"><ellipse cx="216.1" cy="419.5" rx="7.2" ry="3.3" transform="rotate(-10 216.1 419.5)"/><ellipse cx="206.1" cy="414.1" rx="1.8" ry="5.1" transform="rotate(0 206.1 414.1)"/><circle cx="245.2" cy="452.5" r="3.1"/><ellipse cx="240.6" cy="465.5" rx="1.8" ry="3.3" transform="rotate(10 240.6 465.5)"/><ellipse cx="200.4" cy="467.8" rx="2.1" ry="4.7" transform="rotate(10 200.4 467.8)"/><ellipse cx="189.2" cy="502.4" rx="3.3" ry="2.9" transform="rotate(0 189.2 502.4)"/><circle cx="216.1" cy="473.2" r="2.1"/><ellipse cx="266.7" cy="511.9" rx="2.4" ry="1.8" transform="rotate(0 266.7 511.9)"/></g><g fill="#38f23c" filter="url(#b1)"><ellipse cx="216.1" cy="419.5" rx="4.2" ry="1.7" transform="rotate(-10 216.1 419.5)"/><ellipse cx="206.1" cy="414.1" rx="1.1" ry="2.7" transform="rotate(0 206.1 414.1)"/><circle cx="245.2" cy="452.5" r="1.7"/><ellipse cx="240.6" cy="465.5" rx="1.1" ry="1.7" transform="rotate(10 240.6 465.5)"/><ellipse cx="200.4" cy="467.8" rx="1.2" ry="2.5" transform="rotate(10 200.4 467.8)"/><ellipse cx="189.2" cy="502.4" rx="1.9" ry="1.5" transform="rotate(0 189.2 502.4)"/><circle cx="216.1" cy="473.2" r="1.1"/><ellipse cx="266.7" cy="511.9" rx="1.4" ry="1" transform="rotate(0 266.7 511.9)"/></g><g fill="#c8e832" filter="url(#b1)"><circle cx="245.2" cy="452.5" r="0.9"/></g><g fill="#cf7a36" opacity="0.85" filter="url(#b1)"><circle cx="206.9" cy="402.9" r="0.9"/><circle cx="197.7" cy="418" r="0.9"/><circle cx="201.5" cy="434.8" r="0.9"/><circle cx="209.2" cy="432.1" r="0.9"/><circle cx="234.2" cy="426.7" r="0.9"/><circle cx="255.2" cy="414.6" r="0.9"/><circle cx="253.4" cy="429" r="0.9"/><circle cx="271.3" cy="420.3" r="0.9"/><circle cx="278.2" cy="418.3" r="0.9"/><circle cx="288.2" cy="421.8" r="0.9"/><circle cx="292.8" cy="421.3" r="0.9"/><circle cx="292.8" cy="424.1" r="0.9"/><circle cx="287.1" cy="424.9" r="0.9"/><circle cx="301.3" cy="422.1" r="0.9"/><circle cx="295.1" cy="445.6" r="0.9"/><circle cx="261.1" cy="448.6" r="0.9"/><circle cx="219.2" cy="455.1" r="0.9"/><circle cx="177.7" cy="460.2" r="0.9"/><circle cx="287.1" cy="460.2" r="0.9"/><circle cx="170" cy="474.7" r="0.9"/><circle cx="181.6" cy="479" r="0.9"/><circle cx="198.7" cy="476.9" r="0.9"/><circle cx="218.7" cy="472.4" r="0.9"/><circle cx="252.9" cy="476.6" r="0.9"/><circle cx="254.9" cy="477.8" r="0.9"/><circle cx="288.2" cy="474" r="0.9"/><circle cx="299.4" cy="473.5" r="0.9"/><circle cx="292.4" cy="480.4" r="0.9"/><circle cx="274.4" cy="482.1" r="0.9"/><circle cx="166.2" cy="485.2" r="0.9"/><circle cx="160.8" cy="486.2" r="0.9"/><circle cx="194.6" cy="489.6" r="0.9"/><circle cx="180" cy="497" r="0.9"/><circle cx="267.2" cy="495.5" r="0.9"/><circle cx="196.1" cy="505.4" r="0.9"/><circle cx="226.1" cy="506.2" r="0.9"/><circle cx="232.2" cy="503.9" r="0.9"/><circle cx="306.6" cy="456" r="0.9"/></g></g><rect x="265.2" y="505.1" width="40.4" height="3.7" fill="#fff"/></g>
<g><clipPath id="mc3"><rect x="311.1" y="400.8" width="149.5" height="110.3"/></clipPath><rect x="311.1" y="400.8" width="149.5" height="110.3" fill="#0d1506"/><g clip-path="url(#mc3)"><path d="M419.5 439.7Q407.2 437.9 398 433.3M345.8 421Q370.4 416.4 393.4 404.1M362.7 490.1Q370.4 487 371.9 493.2M355 496.2L361.2 502.4M434.8 489.3L434.8 494.7M419.5 439.7L416.4 450.2M316.7 456.3L318.2 465.5M437.9 407.2Q447.1 411.8 456.3 407.2" fill="none" stroke="#1b7a20" stroke-width="0.8" opacity="0.33" filter="url(#b3)"/><path d="M432.5 402.9Q427.9 410.3 425.9 419.2M425.9 419.2Q422.6 428.7 419.5 439.7M374.2 449Q388.8 444.8 394.9 438.2M394.9 438.2Q392.6 434.1 394.6 429.9M321 465.8Q325.1 462.5 328.2 458.6M412.1 506.7Q415.7 497.8 417.7 488.5M361.9 489.8Q356.6 493.9 354.3 497.8M393.4 466.3Q388 468.6 386.5 474.3M352.7 447.4L350.4 450.9" fill="none" stroke="#23c42c" stroke-width="1.0" opacity="0.75" stroke-linecap="round" filter="url(#b3)"/><g fill="#22b52a" opacity="0.5" filter="url(#b2)"><circle cx="340.9" cy="404.1" r="2.1"/><ellipse cx="393.4" cy="402.9" rx="3" ry="2.2" transform="rotate(-20 393.4 402.9)"/><ellipse cx="432.5" cy="402.9" rx="4.8" ry="2.6" transform="rotate(0 432.5 402.9)"/><ellipse cx="425.9" cy="419.2" rx="3.3" ry="5.8" transform="rotate(20 425.9 419.2)"/><ellipse cx="394.6" cy="429.9" rx="4.2" ry="2.6" transform="rotate(0 394.6 429.9)"/><ellipse cx="394.9" cy="438.2" rx="2.7" ry="2.6" transform="rotate(30 394.9 438.2)"/><ellipse cx="419.5" cy="439.7" rx="3.6" ry="3.3" transform="rotate(-20 419.5 439.7)"/><circle cx="352.7" cy="447.4" r="2.8"/><circle cx="374.2" cy="449" r="4.9"/><ellipse cx="360.4" cy="461.2" rx="3.6" ry="3.3" transform="rotate(0 360.4 461.2)"/><ellipse cx="321" cy="465.8" rx="4.2" ry="3.3" transform="rotate(0 321 465.8)"/><circle cx="315.4" cy="465.2" r="2.4"/><circle cx="374.2" cy="468.9" r="2.1"/><ellipse cx="393.4" cy="466.3" rx="3.9" ry="2.6" transform="rotate(10 393.4 466.3)"/><ellipse cx="404.5" cy="468.3" rx="2.1" ry="3.6" transform="rotate(20 404.5 468.3)"/><ellipse cx="379.6" cy="481.6" rx="3.6" ry="3.6" transform="rotate(0 379.6 481.6)"/><ellipse cx="361.9" cy="489.8" rx="4.5" ry="2.6" transform="rotate(-35 361.9 489.8)"/><circle cx="417.7" cy="488.5" r="2.8"/><ellipse cx="434.8" cy="489.3" rx="2.1" ry="3.3" transform="rotate(0 434.8 489.3)"/><ellipse cx="328.2" cy="488.9" rx="2.1" ry="1.8" transform="rotate(30 328.2 488.9)"/><ellipse cx="335.4" cy="495.8" rx="3.3" ry="2.6" transform="rotate(-10 335.4 495.8)"/><ellipse cx="412.1" cy="506.7" rx="1.8" ry="3.3" transform="rotate(10 412.1 506.7)"/><ellipse cx="457.1" cy="509.3" rx="1.5" ry="3.3" transform="rotate(0 457.1 509.3)"/></g><g fill="#38f23c" filter="url(#b1)"><circle cx="340.9" cy="404.1" r="1.1"/><ellipse cx="393.4" cy="402.9" rx="1.8" ry="1.2" transform="rotate(-20 393.4 402.9)"/><ellipse cx="432.5" cy="402.9" rx="2.8" ry="1.3" transform="rotate(0 432.5 402.9)"/><ellipse cx="425.9" cy="419.2" rx="1.9" ry="3.1" transform="rotate(20 425.9 419.2)"/><ellipse cx="394.6" cy="429.9" rx="2.5" ry="1.3" transform="rotate(0 394.6 429.9)"/><ellipse cx="394.9" cy="438.2" rx="1.6" ry="1.3" transform="rotate(30 394.9 438.2)"/><ellipse cx="419.5" cy="439.7" rx="2.1" ry="1.7" transform="rotate(-20 419.5 439.7)"/><circle cx="352.7" cy="447.4" r="1.5"/><circle cx="374.2" cy="449" r="2.6"/><ellipse cx="360.4" cy="461.2" rx="2.1" ry="1.7" transform="rotate(0 360.4 461.2)"/><ellipse cx="321" cy="465.8" rx="2.5" ry="1.7" transform="rotate(0 321 465.8)"/><circle cx="315.4" cy="465.2" r="1.3"/><circle cx="374.2" cy="468.9" r="1.1"/><ellipse cx="393.4" cy="466.3" rx="2.3" ry="1.3" transform="rotate(10 393.4 466.3)"/><ellipse cx="404.5" cy="468.3" rx="1.2" ry="1.9" transform="rotate(20 404.5 468.3)"/><ellipse cx="379.6" cy="481.6" rx="2.1" ry="1.9" transform="rotate(0 379.6 481.6)"/><ellipse cx="361.9" cy="489.8" rx="2.6" ry="1.3" transform="rotate(-35 361.9 489.8)"/><circle cx="417.7" cy="488.5" r="1.5"/><ellipse cx="434.8" cy="489.3" rx="1.2" ry="1.7" transform="rotate(0 434.8 489.3)"/><ellipse cx="328.2" cy="488.9" rx="1.2" ry="1" transform="rotate(30 328.2 488.9)"/><ellipse cx="335.4" cy="495.8" rx="1.9" ry="1.3" transform="rotate(-10 335.4 495.8)"/><ellipse cx="412.1" cy="506.7" rx="1.1" ry="1.7" transform="rotate(10 412.1 506.7)"/><ellipse cx="457.1" cy="509.3" rx="0.9" ry="1.7" transform="rotate(0 457.1 509.3)"/></g><g fill="#cf7a36" opacity="0.85" filter="url(#b1)"><circle cx="366.6" cy="452.5" r="1.5"/><circle cx="368.5" cy="459.1" r="1.8"/><circle cx="329" cy="402.6" r="0.9"/><circle cx="335.1" cy="404.1" r="0.9"/><circle cx="366.6" cy="403.7" r="0.9"/><circle cx="376.1" cy="404.1" r="0.9"/><circle cx="386.5" cy="405.4" r="0.9"/><circle cx="399.5" cy="402.9" r="0.9"/><circle cx="329.7" cy="420.7" r="0.9"/><circle cx="356.6" cy="432.5" r="0.9"/><circle cx="361.6" cy="435.6" r="0.9"/><circle cx="318.5" cy="452.2" r="0.9"/><circle cx="341.5" cy="451.7" r="0.9"/><circle cx="326.2" cy="468.6" r="1.2"/><circle cx="312.8" cy="481.6" r="0.9"/><circle cx="318.5" cy="484.7" r="0.9"/><circle cx="321.3" cy="488.1" r="0.9"/><circle cx="342.5" cy="504.7" r="0.9"/><circle cx="366.6" cy="478.1" r="0.9"/><circle cx="369.6" cy="464.8" r="0.9"/><circle cx="375" cy="460.6" r="0.9"/><circle cx="391.9" cy="452" r="0.9"/><circle cx="391.9" cy="456.3" r="0.9"/><circle cx="386.5" cy="474.3" r="0.9"/><circle cx="397.7" cy="483.9" r="0.9"/><circle cx="385" cy="488.1" r="0.9"/><circle cx="377" cy="492.7" r="0.9"/><circle cx="406.9" cy="485" r="0.9"/><circle cx="401.1" cy="463.2" r="0.9"/><circle cx="405.4" cy="463.7" r="0.9"/><circle cx="398.3" cy="471.4" r="0.9"/><circle cx="409.1" cy="455.1" r="0.9"/><circle cx="416.4" cy="454.3" r="0.9"/><circle cx="414.9" cy="474.3" r="0.9"/><circle cx="412.6" cy="441.7" r="0.9"/><circle cx="429.9" cy="451.7" r="0.9"/><circle cx="432.5" cy="425.6" r="0.9"/><circle cx="442.8" cy="445.6" r="0.9"/><circle cx="451.7" cy="439.7" r="0.9"/><circle cx="456.3" cy="433" r="0.9"/><circle cx="442.2" cy="466.3" r="1.1"/><circle cx="443.7" cy="468.6" r="1.1"/><circle cx="452" cy="470.6" r="0.9"/><circle cx="429.9" cy="484.7" r="0.9"/><circle cx="396.5" cy="510.8" r="0.9"/></g></g><rect x="418.3" y="504.2" width="39.9" height="3.4" fill="#fff"/></g>
<g><clipPath id="mc4"><rect x="463.1" y="400.8" width="149.5" height="110.3"/></clipPath><rect x="463.1" y="400.8" width="149.5" height="110.3" fill="#0c1206"/><g clip-path="url(#mc4)"><path d="M539 482.1Q541.1 493.2 537.7 503.9M600.7 433.3L605 440.2M490.9 463.5Q482.5 459.4 477.9 465.5M574.6 444L575.3 459.4M566.6 502.7Q574.6 493.2 577.6 487M501.7 498.5L499.4 490.1" fill="none" stroke="#1b7a20" stroke-width="0.8" opacity="0.33" filter="url(#b3)"/><path d="M557.7 454Q566.9 449 574.6 444M599.1 422.6Q589.9 424.9 587.6 428.7M518.6 417.2Q511.6 421 507 421" fill="none" stroke="#23c42c" stroke-width="1.0" opacity="0.75" stroke-linecap="round" filter="url(#b3)"/><g fill="#22b52a" opacity="0.5" filter="url(#b2)"><ellipse cx="467.9" cy="404.9" rx="3.3" ry="5.1" transform="rotate(0 467.9 404.9)"/><circle cx="477.9" cy="406.9" r="7.7"/><circle cx="494.8" cy="410" r="3.1"/><circle cx="518.6" cy="417.2" r="5.6"/><circle cx="505.5" cy="421" r="2.4"/><circle cx="542.3" cy="409" r="6.6"/><ellipse cx="553.1" cy="410.6" rx="3" ry="1.8" transform="rotate(20 553.1 410.6)"/><ellipse cx="559.2" cy="401.8" rx="3" ry="1.8" transform="rotate(0 559.2 401.8)"/><circle cx="591.1" cy="412.1" r="2.1"/><ellipse cx="599.9" cy="422.6" rx="9.6" ry="2.2" transform="rotate(-5 599.9 422.6)"/><ellipse cx="605" cy="440.2" rx="2.4" ry="3.6" transform="rotate(-20 605 440.2)"/><ellipse cx="609.1" cy="460.9" rx="3.3" ry="2.9" transform="rotate(0 609.1 460.9)"/><circle cx="566.9" cy="449" r="2.1"/><circle cx="557.7" cy="454" r="4.2"/><ellipse cx="490.9" cy="463.5" rx="5.1" ry="2.9" transform="rotate(5 490.9 463.5)"/><ellipse cx="539" cy="482.1" rx="2.7" ry="4" transform="rotate(-20 539 482.1)"/><ellipse cx="501.7" cy="498.5" rx="1.8" ry="2.9" transform="rotate(0 501.7 498.5)"/><ellipse cx="566.6" cy="502.7" rx="1.8" ry="3.6" transform="rotate(10 566.6 502.7)"/><ellipse cx="583.3" cy="496.2" rx="1.5" ry="2.9" transform="rotate(-40 583.3 496.2)"/></g><g fill="#2f8a2c" opacity="0.8" filter="url(#b1)"><circle cx="528.8" cy="444.3" r="1.2"/><circle cx="473" cy="438.7" r="0.9"/><circle cx="485.6" cy="405.7" r="3.1"/><circle cx="513.2" cy="421" r="2.1"/><circle cx="525.5" cy="418" r="1.8"/></g><g fill="#38f23c" filter="url(#b1)"><ellipse cx="467.9" cy="404.9" rx="1.9" ry="2.7" transform="rotate(0 467.9 404.9)"/><circle cx="477.9" cy="406.9" r="4.1"/><circle cx="494.8" cy="410" r="1.7"/><circle cx="518.6" cy="417.2" r="2.9"/><circle cx="505.5" cy="421" r="1.3"/><circle cx="542.3" cy="409" r="3.5"/><ellipse cx="553.1" cy="410.6" rx="1.8" ry="1" transform="rotate(20 553.1 410.6)"/><ellipse cx="559.2" cy="401.8" rx="1.8" ry="1" transform="rotate(0 559.2 401.8)"/><circle cx="591.1" cy="412.1" r="1.1"/><ellipse cx="599.9" cy="422.6" rx="5.6" ry="1.2" transform="rotate(-5 599.9 422.6)"/><ellipse cx="605" cy="440.2" rx="1.4" ry="1.9" transform="rotate(-20 605 440.2)"/><ellipse cx="609.1" cy="460.9" rx="1.9" ry="1.5" transform="rotate(0 609.1 460.9)"/><circle cx="566.9" cy="449" r="1.1"/><circle cx="557.7" cy="454" r="2.2"/><ellipse cx="490.9" cy="463.5" rx="3" ry="1.5" transform="rotate(5 490.9 463.5)"/><ellipse cx="539" cy="482.1" rx="1.6" ry="2.1" transform="rotate(-20 539 482.1)"/><ellipse cx="501.7" cy="498.5" rx="1.1" ry="1.5" transform="rotate(0 501.7 498.5)"/><ellipse cx="566.6" cy="502.7" rx="1.1" ry="1.9" transform="rotate(10 566.6 502.7)"/><ellipse cx="583.3" cy="496.2" rx="0.9" ry="1.5" transform="rotate(-40 583.3 496.2)"/></g><g fill="#cf7a36" opacity="0.85" filter="url(#b1)"><circle cx="543.1" cy="409.5" r="1.1"/><circle cx="498.3" cy="403.7" r="0.9"/><circle cx="496.6" cy="406" r="0.9"/><circle cx="482.5" cy="412.6" r="0.8"/><circle cx="493.2" cy="421.8" r="0.9"/><circle cx="579.9" cy="411" r="0.9"/><circle cx="606.8" cy="420.6" r="0.9"/><circle cx="571.8" cy="434.1" r="0.9"/><circle cx="471" cy="447.6" r="0.9"/><circle cx="492.9" cy="445.9" r="0.9"/><circle cx="512" cy="458.2" r="0.9"/><circle cx="507" cy="462.5" r="0.9"/><circle cx="496.3" cy="466.8" r="0.9"/><circle cx="540.8" cy="463.7" r="0.9"/><circle cx="553.8" cy="460.2" r="0.9"/><circle cx="561.1" cy="458.6" r="0.9"/><circle cx="563.5" cy="461.7" r="0.9"/><circle cx="569.2" cy="450.2" r="0.9"/><circle cx="533.1" cy="474.7" r="0.9"/><circle cx="544.2" cy="472" r="0.9"/><circle cx="596.8" cy="468.3" r="0.9"/><circle cx="507.8" cy="482.4" r="0.9"/><circle cx="482.8" cy="486.6" r="0.9"/><circle cx="479.4" cy="493.2" r="0.9"/><circle cx="467.9" cy="499" r="0.9"/><circle cx="486.8" cy="502.8" r="0.9"/><circle cx="501.2" cy="501.9" r="0.9"/><circle cx="505.5" cy="502.8" r="0.9"/><circle cx="522.4" cy="507.3" r="0.9"/><circle cx="524.7" cy="505.7" r="0.9"/><circle cx="530.1" cy="489.8" r="0.9"/><circle cx="555.8" cy="488.9" r="0.9"/><circle cx="581.2" cy="491.9" r="0.9"/><circle cx="589.9" cy="498.1" r="0.9"/><circle cx="609.6" cy="462.1" r="0.7"/><circle cx="557.4" cy="452.9" r="0.8"/></g></g><rect x="569.7" y="505.1" width="40.2" height="3.4" fill="#fff"/></g>
<g><clipPath id="mc5"><rect x="615.1" y="400.8" width="149.5" height="110.3"/></clipPath><rect x="615.1" y="400.8" width="149.5" height="110.3" fill="#0c1106"/><g clip-path="url(#mc5)"><path d="M660.6 441.7Q669.8 446.3 688.2 447.1M708.2 447.9Q704.8 428.7 714.3 418M686.7 408L691.3 418M706.6 490.1Q702 483.9 698.2 480.9M670.6 461.7Q677.5 457.9 688.2 456.3Q698.9 454.8 708.2 450.2M665.2 416.4L663.6 425.6" fill="none" stroke="#1b7a20" stroke-width="0.8" opacity="0.33" filter="url(#b3)"/><path d="M657.8 431Q656.7 437.9 660.6 441.7M721.2 465.5Q724.3 472.4 727.8 475.8M654.4 494.4Q648.3 497.8 649.8 508.5M710.5 497.8Q705.1 493.9 706.6 490.1M681.3 402.6L686.7 408" fill="none" stroke="#23c42c" stroke-width="1.0" opacity="0.75" stroke-linecap="round" filter="url(#b3)"/><g fill="#22b52a" opacity="0.5" filter="url(#b2)"><ellipse cx="681.3" cy="402.6" rx="4.2" ry="1.8" transform="rotate(35 681.3 402.6)"/><ellipse cx="657.8" cy="431" rx="2.1" ry="6.6" transform="rotate(5 657.8 431)"/><ellipse cx="696.6" cy="437.1" rx="3.9" ry="2.9" transform="rotate(-35 696.6 437.1)"/><ellipse cx="692.8" cy="441.7" rx="3.3" ry="3.3" transform="rotate(0 692.8 441.7)"/><circle cx="700.2" cy="444" r="2.4"/><ellipse cx="708.2" cy="447.9" rx="2.4" ry="6.2" transform="rotate(-5 708.2 447.9)"/><ellipse cx="670.6" cy="461.7" rx="2.7" ry="2.6" transform="rotate(0 670.6 461.7)"/><circle cx="684.4" cy="463.7" r="2.8"/><ellipse cx="679.8" cy="474.3" rx="3.3" ry="2.6" transform="rotate(0 679.8 474.3)"/><circle cx="753.9" cy="459.1" r="2.4"/><ellipse cx="721.2" cy="465.5" rx="1.5" ry="4" transform="rotate(-25 721.2 465.5)"/><circle cx="727.8" cy="475.8" r="2.4"/><ellipse cx="654.4" cy="494.4" rx="9" ry="2.9" transform="rotate(-12 654.4 494.4)"/><ellipse cx="710.5" cy="498.1" rx="4.8" ry="3.3" transform="rotate(0 710.5 498.1)"/></g><g fill="#38f23c" filter="url(#b1)"><ellipse cx="681.3" cy="402.6" rx="2.5" ry="1" transform="rotate(35 681.3 402.6)"/><ellipse cx="657.8" cy="431" rx="1.2" ry="3.5" transform="rotate(5 657.8 431)"/><ellipse cx="696.6" cy="437.1" rx="2.3" ry="1.5" transform="rotate(-35 696.6 437.1)"/><ellipse cx="692.8" cy="441.7" rx="1.9" ry="1.7" transform="rotate(0 692.8 441.7)"/><circle cx="700.2" cy="444" r="1.3"/><ellipse cx="708.2" cy="447.9" rx="1.4" ry="3.3" transform="rotate(-5 708.2 447.9)"/><ellipse cx="670.6" cy="461.7" rx="1.6" ry="1.3" transform="rotate(0 670.6 461.7)"/><circle cx="684.4" cy="463.7" r="1.5"/><ellipse cx="679.8" cy="474.3" rx="1.9" ry="1.3" transform="rotate(0 679.8 474.3)"/><circle cx="753.9" cy="459.1" r="1.3"/><ellipse cx="721.2" cy="465.5" rx="0.9" ry="2.1" transform="rotate(-25 721.2 465.5)"/><circle cx="727.8" cy="475.8" r="1.3"/><ellipse cx="654.4" cy="494.4" rx="5.3" ry="1.5" transform="rotate(-12 654.4 494.4)"/><ellipse cx="710.5" cy="498.1" rx="2.8" ry="1.7" transform="rotate(0 710.5 498.1)"/></g><g fill="#c8e832" filter="url(#b1)"><circle cx="629.6" cy="469.8" r="1.1"/></g><g fill="#cf7a36" opacity="0.85" filter="url(#b1)"><circle cx="626.8" cy="404.4" r="0.9"/><circle cx="636" cy="405.4" r="0.9"/><circle cx="636" cy="411.5" r="0.9"/><circle cx="628.8" cy="421.5" r="0.9"/><circle cx="706.9" cy="406.7" r="0.9"/><circle cx="718.1" cy="411" r="0.9"/><circle cx="723" cy="408" r="0.9"/><circle cx="727.6" cy="408.7" r="0.9"/><circle cx="687.1" cy="435.1" r="0.9"/><circle cx="667" cy="441.3" r="0.9"/><circle cx="642.2" cy="447.6" r="1.1"/><circle cx="660.1" cy="452.9" r="0.9"/><circle cx="657.8" cy="460.5" r="0.9"/><circle cx="680.2" cy="459.4" r="1.1"/><circle cx="688.7" cy="459.8" r="0.9"/><circle cx="666.7" cy="471.7" r="0.9"/><circle cx="689.7" cy="472.4" r="0.9"/><circle cx="688.2" cy="474.7" r="1.1"/><circle cx="681.3" cy="482.7" r="0.9"/><circle cx="622.5" cy="468.6" r="0.9"/><circle cx="665.5" cy="490.5" r="0.9"/><circle cx="695.9" cy="494.4" r="0.9"/><circle cx="710.8" cy="500.5" r="0.8"/><circle cx="625.3" cy="505.4" r="0.9"/><circle cx="631.4" cy="508.5" r="0.9"/><circle cx="753" cy="451.3" r="0.9"/><circle cx="746.2" cy="456" r="0.9"/><circle cx="745.4" cy="465.1" r="0.9"/><circle cx="707.8" cy="444" r="0.7"/></g></g><rect x="720.4" y="505.1" width="40.4" height="3.4" fill="#fff"/></g>
<g><clipPath id="mc6"><rect x="7.1" y="632.3" width="149.9" height="110.8"/></clipPath><rect x="7.1" y="632.3" width="149.9" height="110.8" fill="#091207"/><g clip-path="url(#mc6)"><g fill="#22b52a" opacity="0.25" filter="url(#b2)"><circle cx="52.3" cy="632.8" r="2.6"/><circle cx="86.3" cy="633.1" r="2.6"/><circle cx="67.6" cy="635.8" r="2.6"/><circle cx="83.3" cy="635.8" r="2.6"/><circle cx="33.7" cy="638.9" r="2.6"/><circle cx="118.6" cy="638.1" r="2.6"/><circle cx="53.8" cy="643.4" r="2.6"/><circle cx="83" cy="641" r="2.6"/><circle cx="83" cy="643" r="2.6"/><circle cx="89.9" cy="646.6" r="2.6"/><circle cx="97.5" cy="644.1" r="2.6"/><circle cx="123.9" cy="645.7" r="2.6"/><circle cx="127.3" cy="646.9" r="2.6"/><circle cx="133.6" cy="645.3" r="2.6"/><circle cx="136.7" cy="646.1" r="2.6"/><circle cx="144.2" cy="643" r="2.6"/><circle cx="142.8" cy="648.4" r="2.6"/><circle cx="80.2" cy="654.1" r="2.6"/><circle cx="22.6" cy="658.9" r="2.6"/><circle cx="46.1" cy="658.4" r="2.6"/><circle cx="50.6" cy="662.2" r="2.6"/><circle cx="56.7" cy="660.2" r="2.6"/><circle cx="70.7" cy="660.7" r="2.6"/><circle cx="73.3" cy="658.9" r="2.6"/><circle cx="84.5" cy="661.5" r="2.6"/><circle cx="104.4" cy="659.6" r="2.6"/><circle cx="107.1" cy="658.4" r="2.6"/><circle cx="148" cy="661.5" r="2.6"/><circle cx="20.8" cy="666.5" r="2.6"/><circle cx="41.4" cy="668.1" r="2.6"/><circle cx="73.3" cy="666.5" r="2.6"/><circle cx="30" cy="670.7" r="2.6"/><circle cx="48.4" cy="670.7" r="2.6"/><circle cx="48.7" cy="672.5" r="2.6"/><circle cx="40.3" cy="675.7" r="2.6"/><circle cx="89.4" cy="674" r="2.6"/><circle cx="96.3" cy="676.3" r="2.6"/><circle cx="111.2" cy="675" r="2.6"/><circle cx="27.6" cy="681.7" r="2.6"/><circle cx="41.4" cy="682.2" r="2.6"/><circle cx="42.6" cy="686.8" r="2.6"/><circle cx="66.4" cy="685.2" r="2.6"/><circle cx="68.7" cy="686.5" r="2.6"/><circle cx="116.7" cy="684" r="2.6"/><circle cx="124.4" cy="687.9" r="2.6"/><circle cx="87.9" cy="692.6" r="2.6"/><circle cx="94" cy="694.1" r="2.6"/><circle cx="99.4" cy="696.3" r="2.6"/><circle cx="11.9" cy="698" r="2.6"/><circle cx="19.1" cy="698.6" r="2.6"/><circle cx="113.5" cy="698" r="2.6"/><circle cx="43.8" cy="702.1" r="2.6"/><circle cx="69.5" cy="703.4" r="2.6"/><circle cx="99.4" cy="709.8" r="2.6"/><circle cx="99.4" cy="711.6" r="2.6"/><circle cx="139.6" cy="711" r="2.6"/><circle cx="88.6" cy="714.9" r="2.6"/><circle cx="97.1" cy="716.4" r="2.6"/><circle cx="111.2" cy="717.5" r="2.6"/><circle cx="115.5" cy="719" r="2.6"/><circle cx="51" cy="716.4" r="2.6"/><circle cx="51.8" cy="719" r="2.6"/><circle cx="52.6" cy="721.6" r="2.6"/><circle cx="26" cy="719.8" r="2.6"/><circle cx="22.6" cy="723.6" r="2.6"/><circle cx="152.8" cy="722.5" r="2.6"/><circle cx="62.9" cy="729.8" r="2.6"/><circle cx="77.9" cy="729" r="2.6"/><circle cx="81.3" cy="729.8" r="2.6"/><circle cx="119.3" cy="728.2" r="2.6"/><circle cx="123.2" cy="731.3" r="2.6"/><circle cx="101.7" cy="734.1" r="2.6"/><circle cx="106" cy="735.6" r="2.6"/><circle cx="45.7" cy="735.9" r="2.6"/><circle cx="65.9" cy="739" r="2.6"/><circle cx="8.1" cy="739" r="2.6"/><circle cx="15" cy="646.6" r="1.7"/><circle cx="99.4" cy="688.3" r="1.4"/></g><g fill="#46ee3c" filter="url(#b1)"><circle cx="52.3" cy="632.8" r="1.3"/><circle cx="86.3" cy="633.1" r="1.3"/><circle cx="67.6" cy="635.8" r="1.3"/><circle cx="83.3" cy="635.8" r="1.3"/><circle cx="33.7" cy="638.9" r="1.3"/><circle cx="118.6" cy="638.1" r="1.3"/><circle cx="53.8" cy="643.4" r="1.3"/><circle cx="83" cy="641" r="1.3"/><circle cx="83" cy="643" r="1.3"/><circle cx="89.9" cy="646.6" r="1.3"/><circle cx="97.5" cy="644.1" r="1.3"/><circle cx="123.9" cy="645.7" r="1.3"/><circle cx="127.3" cy="646.9" r="1.3"/><circle cx="133.6" cy="645.3" r="1.3"/><circle cx="136.7" cy="646.1" r="1.3"/><circle cx="144.2" cy="643" r="1.3"/><circle cx="142.8" cy="648.4" r="1.3"/><circle cx="80.2" cy="654.1" r="1.3"/><circle cx="22.6" cy="658.9" r="1.3"/><circle cx="46.1" cy="658.4" r="1.3"/><circle cx="50.6" cy="662.2" r="1.3"/><circle cx="56.7" cy="660.2" r="1.3"/><circle cx="70.7" cy="660.7" r="1.3"/><circle cx="73.3" cy="658.9" r="1.3"/><circle cx="84.5" cy="661.5" r="1.3"/><circle cx="104.4" cy="659.6" r="1.3"/><circle cx="107.1" cy="658.4" r="1.3"/><circle cx="148" cy="661.5" r="1.3"/><circle cx="20.8" cy="666.5" r="1.3"/><circle cx="41.4" cy="668.1" r="1.3"/><circle cx="73.3" cy="666.5" r="1.3"/><circle cx="30" cy="670.7" r="1.3"/><circle cx="48.4" cy="670.7" r="1.3"/><circle cx="48.7" cy="672.5" r="1.3"/><circle cx="40.3" cy="675.7" r="1.3"/><circle cx="89.4" cy="674" r="1.3"/><circle cx="96.3" cy="676.3" r="1.3"/><circle cx="111.2" cy="675" r="1.3"/><circle cx="27.6" cy="681.7" r="1.3"/><circle cx="41.4" cy="682.2" r="1.3"/><circle cx="42.6" cy="686.8" r="1.3"/><circle cx="66.4" cy="685.2" r="1.3"/><circle cx="68.7" cy="686.5" r="1.3"/><circle cx="116.7" cy="684" r="1.3"/><circle cx="124.4" cy="687.9" r="1.3"/><circle cx="87.9" cy="692.6" r="1.3"/><circle cx="94" cy="694.1" r="1.3"/><circle cx="99.4" cy="696.3" r="1.3"/><circle cx="11.9" cy="698" r="1.3"/><circle cx="19.1" cy="698.6" r="1.3"/><circle cx="113.5" cy="698" r="1.3"/><circle cx="43.8" cy="702.1" r="1.3"/><circle cx="69.5" cy="703.4" r="1.3"/><circle cx="99.4" cy="709.8" r="1.3"/><circle cx="99.4" cy="711.6" r="1.3"/><circle cx="139.6" cy="711" r="1.3"/><circle cx="88.6" cy="714.9" r="1.3"/><circle cx="97.1" cy="716.4" r="1.3"/><circle cx="111.2" cy="717.5" r="1.3"/><circle cx="115.5" cy="719" r="1.3"/><circle cx="51" cy="716.4" r="1.3"/><circle cx="51.8" cy="719" r="1.3"/><circle cx="52.6" cy="721.6" r="1.3"/><circle cx="26" cy="719.8" r="1.3"/><circle cx="22.6" cy="723.6" r="1.3"/><circle cx="152.8" cy="722.5" r="1.3"/><circle cx="62.9" cy="729.8" r="1.3"/><circle cx="77.9" cy="729" r="1.3"/><circle cx="81.3" cy="729.8" r="1.3"/><circle cx="119.3" cy="728.2" r="1.3"/><circle cx="123.2" cy="731.3" r="1.3"/><circle cx="101.7" cy="734.1" r="1.3"/><circle cx="106" cy="735.6" r="1.3"/><circle cx="45.7" cy="735.9" r="1.3"/><circle cx="65.9" cy="739" r="1.3"/><circle cx="8.1" cy="739" r="1.3"/><circle cx="15" cy="646.6" r="0.9"/><circle cx="99.4" cy="688.3" r="0.7"/></g></g><rect x="115.5" y="735.6" width="39.9" height="3.7" fill="#fff"/></g>
<g><clipPath id="mc7"><rect x="159.6" y="632.3" width="149.4" height="110"/></clipPath><rect x="159.6" y="632.3" width="149.4" height="110" fill="#0c0d05"/><g clip-path="url(#mc7)"><g fill="#22b52a" opacity="0.25" filter="url(#b2)"><circle cx="239.9" cy="636.1" r="2.6"/><circle cx="290.8" cy="634.3" r="2.6"/><circle cx="290.8" cy="636.9" r="2.6"/><circle cx="195.1" cy="638.7" r="2.6"/><circle cx="205.8" cy="645.3" r="2.6"/><circle cx="249.1" cy="643.5" r="2.6"/><circle cx="246.5" cy="647.2" r="2.6"/><circle cx="264" cy="640.4" r="2.6"/><circle cx="268.6" cy="644.9" r="2.6"/><circle cx="290.8" cy="660.7" r="2.6"/><circle cx="266" cy="675.6" r="2.6"/><circle cx="268.7" cy="674.5" r="2.6"/><circle cx="279.8" cy="677.1" r="2.6"/><circle cx="282.1" cy="675.6" r="2.6"/><circle cx="274.4" cy="679.1" r="2.6"/><circle cx="285.6" cy="684.2" r="2.6"/><circle cx="272.4" cy="687.2" r="2.6"/><circle cx="288.2" cy="700.3" r="2.6"/><circle cx="290.5" cy="699.1" r="2.6"/><circle cx="269.5" cy="704.7" r="2.6"/><circle cx="281.6" cy="704.7" r="2.6"/><circle cx="244.2" cy="715.9" r="2.6"/><circle cx="272.1" cy="720.2" r="2.6"/><circle cx="300.5" cy="723.2" r="2.6"/><circle cx="304.8" cy="725.9" r="2.6"/><circle cx="229.1" cy="730.5" r="2.6"/><circle cx="159.8" cy="640.7" r="2.6"/></g><g fill="#2f8a2c" opacity="0.8" filter="url(#b1)"><circle cx="196.4" cy="665" r="1.2"/><circle cx="220.2" cy="666.8" r="1.1"/><circle cx="272.4" cy="674" r="1.1"/><circle cx="182.3" cy="685.6" r="1.2"/><circle cx="182.3" cy="688" r="1.2"/><circle cx="163.4" cy="692.2" r="1.2"/><circle cx="163.9" cy="694.8" r="1.2"/><circle cx="185.4" cy="709.8" r="1.1"/><circle cx="203.8" cy="714.9" r="1.4"/><circle cx="196.4" cy="717.5" r="1.2"/><circle cx="209.9" cy="731.3" r="1.2"/><circle cx="216.9" cy="740.5" r="1.1"/><circle cx="239.1" cy="650" r="1.1"/><circle cx="263.4" cy="638.4" r="0.9"/></g><g fill="#3ee83a" filter="url(#b1)"><circle cx="239.9" cy="636.1" r="1.3"/><circle cx="290.8" cy="634.3" r="1.3"/><circle cx="290.8" cy="636.9" r="1.3"/><circle cx="195.1" cy="638.7" r="1.3"/><circle cx="205.8" cy="645.3" r="1.3"/><circle cx="249.1" cy="643.5" r="1.3"/><circle cx="246.5" cy="647.2" r="1.3"/><circle cx="264" cy="640.4" r="1.3"/><circle cx="268.6" cy="644.9" r="1.3"/><circle cx="290.8" cy="660.7" r="1.3"/><circle cx="266" cy="675.6" r="1.3"/><circle cx="268.7" cy="674.5" r="1.3"/><circle cx="279.8" cy="677.1" r="1.3"/><circle cx="282.1" cy="675.6" r="1.3"/><circle cx="274.4" cy="679.1" r="1.3"/><circle cx="285.6" cy="684.2" r="1.3"/><circle cx="272.4" cy="687.2" r="1.3"/><circle cx="288.2" cy="700.3" r="1.3"/><circle cx="290.5" cy="699.1" r="1.3"/><circle cx="269.5" cy="704.7" r="1.3"/><circle cx="281.6" cy="704.7" r="1.3"/><circle cx="244.2" cy="715.9" r="1.3"/><circle cx="272.1" cy="720.2" r="1.3"/><circle cx="300.5" cy="723.2" r="1.3"/><circle cx="304.8" cy="725.9" r="1.3"/><circle cx="229.1" cy="730.5" r="1.3"/><circle cx="159.8" cy="640.7" r="1.3"/></g><g fill="#ee7d2c" opacity="1" filter="url(#b1)"><circle cx="172.8" cy="639.5" r="1.1"/><circle cx="240.3" cy="639.7" r="1.1"/><circle cx="206.4" cy="642.6" r="1.1"/><circle cx="254.9" cy="651" r="1.1"/><circle cx="237.3" cy="653" r="1.1"/><circle cx="223" cy="656.9" r="1.1"/><circle cx="197.2" cy="658.9" r="1.1"/><circle cx="243.4" cy="659.9" r="1.4"/><circle cx="262.1" cy="658.7" r="0.8"/><circle cx="262.9" cy="663" r="1.1"/><circle cx="267.2" cy="665.3" r="1.1"/><circle cx="288.2" cy="654.2" r="1.2"/><circle cx="218.8" cy="663.5" r="0.8"/><circle cx="270.1" cy="653.8" r="0.7"/><circle cx="305.1" cy="648" r="0.7"/><circle cx="303.3" cy="667.6" r="0.8"/><circle cx="201" cy="678.3" r="1.1"/><circle cx="218.1" cy="684.8" r="1.1"/><circle cx="160.4" cy="694.5" r="1.1"/><circle cx="302.3" cy="707.2" r="1.1"/><circle cx="237.6" cy="717" r="1.1"/><circle cx="250.9" cy="719" r="1.1"/><circle cx="249.8" cy="724.7" r="0.7"/><circle cx="226.1" cy="725.6" r="0.7"/><circle cx="205.8" cy="727" r="1.2"/><circle cx="202.3" cy="730.1" r="1.1"/><circle cx="198.1" cy="734.7" r="1.1"/><circle cx="171.1" cy="737.7" r="1.1"/><circle cx="297.1" cy="729" r="0.8"/><circle cx="270.1" cy="725.5" r="1"/><circle cx="221.5" cy="714.1" r="0.6"/><circle cx="175.7" cy="742.3" r="1.1"/><circle cx="270.6" cy="634.6" r="0.8"/><circle cx="306.6" cy="634.6" r="0.7"/></g></g><rect x="266" y="735.9" width="39.9" height="3.4" fill="#fff"/></g>
<g><clipPath id="mc8"><rect x="311" y="632.8" width="149.6" height="110"/></clipPath><rect x="311" y="632.8" width="149.6" height="110" fill="#0d1206"/><g clip-path="url(#mc8)"><g fill="#22b52a" opacity="0.25" filter="url(#b2)"><circle cx="327.4" cy="637.7" r="2.6"/><circle cx="353.8" cy="637.2" r="2.6"/><circle cx="424.9" cy="638.1" r="2.6"/><circle cx="356.6" cy="661.5" r="2.6"/><circle cx="358.4" cy="664.1" r="2.6"/><circle cx="358.9" cy="666.5" r="2.6"/><circle cx="368.9" cy="663.5" r="2.6"/><circle cx="403.1" cy="668.1" r="2.6"/><circle cx="424.4" cy="659.5" r="2.6"/><circle cx="448.3" cy="671.1" r="2.6"/><circle cx="449.7" cy="673.7" r="2.6"/><circle cx="327.4" cy="676.8" r="2.6"/><circle cx="362.3" cy="684.2" r="2.6"/><circle cx="411.5" cy="682.2" r="2.6"/><circle cx="413.4" cy="685.2" r="2.6"/><circle cx="356.6" cy="693.2" r="2.6"/><circle cx="358.4" cy="694.5" r="2.6"/><circle cx="396.8" cy="694.8" r="2.6"/><circle cx="320.5" cy="697.2" r="2.6"/><circle cx="323.6" cy="698" r="2.6"/><circle cx="322" cy="703.4" r="2.6"/><circle cx="351.7" cy="700.3" r="2.6"/><circle cx="398.3" cy="700.6" r="2.6"/><circle cx="371.9" cy="704.9" r="2.6"/><circle cx="380.1" cy="703.4" r="2.6"/><circle cx="425.2" cy="709.3" r="2.6"/><circle cx="407.2" cy="711.8" r="2.6"/><circle cx="406" cy="714.1" r="2.6"/><circle cx="395.4" cy="717.5" r="2.6"/><circle cx="363" cy="722.1" r="2.6"/><circle cx="368.5" cy="727" r="2.6"/><circle cx="376.5" cy="729" r="2.6"/><circle cx="377.8" cy="730.8" r="2.6"/><circle cx="439.8" cy="721.8" r="2.6"/><circle cx="449" cy="729.4" r="2.6"/><circle cx="411.5" cy="733.1" r="2.6"/><circle cx="433.6" cy="732.8" r="2.6"/><circle cx="432.5" cy="735.6" r="2.6"/><circle cx="443.3" cy="742" r="2.6"/><circle cx="391.1" cy="702.6" r="1.7"/></g><g fill="#2f8a2c" opacity="0.8" filter="url(#b1)"><circle cx="421.8" cy="704" r="1.2"/><circle cx="323.1" cy="714.7" r="1.1"/></g><g fill="#3ee83a" filter="url(#b1)"><circle cx="327.4" cy="637.7" r="1.3"/><circle cx="353.8" cy="637.2" r="1.3"/><circle cx="424.9" cy="638.1" r="1.3"/><circle cx="356.6" cy="661.5" r="1.3"/><circle cx="358.4" cy="664.1" r="1.3"/><circle cx="358.9" cy="666.5" r="1.3"/><circle cx="368.9" cy="663.5" r="1.3"/><circle cx="403.1" cy="668.1" r="1.3"/><circle cx="424.4" cy="659.5" r="1.3"/><circle cx="448.3" cy="671.1" r="1.3"/><circle cx="449.7" cy="673.7" r="1.3"/><circle cx="327.4" cy="676.8" r="1.3"/><circle cx="362.3" cy="684.2" r="1.3"/><circle cx="411.5" cy="682.2" r="1.3"/><circle cx="413.4" cy="685.2" r="1.3"/><circle cx="356.6" cy="693.2" r="1.3"/><circle cx="358.4" cy="694.5" r="1.3"/><circle cx="396.8" cy="694.8" r="1.3"/><circle cx="320.5" cy="697.2" r="1.3"/><circle cx="323.6" cy="698" r="1.3"/><circle cx="322" cy="703.4" r="1.3"/><circle cx="351.7" cy="700.3" r="1.3"/><circle cx="398.3" cy="700.6" r="1.3"/><circle cx="371.9" cy="704.9" r="1.3"/><circle cx="380.1" cy="703.4" r="1.3"/><circle cx="425.2" cy="709.3" r="1.3"/><circle cx="407.2" cy="711.8" r="1.3"/><circle cx="406" cy="714.1" r="1.3"/><circle cx="395.4" cy="717.5" r="1.3"/><circle cx="363" cy="722.1" r="1.3"/><circle cx="368.5" cy="727" r="1.3"/><circle cx="376.5" cy="729" r="1.3"/><circle cx="377.8" cy="730.8" r="1.3"/><circle cx="439.8" cy="721.8" r="1.3"/><circle cx="449" cy="729.4" r="1.3"/><circle cx="411.5" cy="733.1" r="1.3"/><circle cx="433.6" cy="732.8" r="1.3"/><circle cx="432.5" cy="735.6" r="1.3"/><circle cx="443.3" cy="742" r="1.3"/><circle cx="391.1" cy="702.6" r="0.9"/></g><g fill="#c8e832" filter="url(#b1)"><circle cx="353.8" cy="637.2" r="0.9"/><circle cx="424.9" cy="638.1" r="0.8"/><circle cx="362.3" cy="684.2" r="0.9"/><circle cx="398.3" cy="700.6" r="0.9"/><circle cx="322" cy="703.4" r="0.8"/><circle cx="363" cy="722.1" r="0.8"/><circle cx="323.6" cy="698" r="0.8"/></g><g fill="#ee7d2c" opacity="1" filter="url(#b1)"><circle cx="314.4" cy="653.3" r="1.1"/><circle cx="320.5" cy="651" r="1.1"/><circle cx="330.9" cy="657.9" r="1.2"/><circle cx="429" cy="650.4" r="0.8"/><circle cx="404.6" cy="684" r="1.5"/><circle cx="357" cy="699.8" r="0.8"/><circle cx="363" cy="706" r="0.8"/><circle cx="387.3" cy="702.6" r="1.1"/><circle cx="411.1" cy="726.7" r="1.2"/><circle cx="437.1" cy="722.8" r="1.1"/><circle cx="361.5" cy="740.2" r="1.1"/><circle cx="372.7" cy="736.7" r="0.6"/><circle cx="318.2" cy="723.6" r="0.6"/></g></g><rect x="418.3" y="736.2" width="39.9" height="3.7" fill="#fff"/></g>
<g><clipPath id="mc9"><rect x="463.8" y="632.5" width="149.4" height="110.3"/></clipPath><rect x="463.8" y="632.5" width="149.4" height="110.3" fill="#080c06"/><g clip-path="url(#mc9)"><g fill="#22b52a" opacity="0.25" filter="url(#b2)"><circle cx="559.7" cy="636.9" r="2.8"/><circle cx="489.1" cy="644.9" r="2.8"/><circle cx="557.7" cy="644.1" r="2.8"/><circle cx="558.1" cy="645.8" r="2.8"/><circle cx="487.9" cy="661.5" r="2.8"/><circle cx="552.8" cy="660.1" r="2.8"/><circle cx="494.3" cy="667.8" r="2.8"/><circle cx="531.3" cy="673.9" r="2.8"/><circle cx="586.5" cy="679.6" r="2.8"/><circle cx="488.3" cy="682.2" r="2.8"/><circle cx="570" cy="683.3" r="2.8"/><circle cx="488.6" cy="690.3" r="2.8"/><circle cx="472.5" cy="691.7" r="2.8"/><circle cx="541.9" cy="691.7" r="2.8"/><circle cx="558.5" cy="689.4" r="2.8"/><circle cx="563.5" cy="696.8" r="2.8"/><circle cx="501.4" cy="699.1" r="2.8"/><circle cx="513.9" cy="726.1" r="2.8"/><circle cx="564.6" cy="726.4" r="2.8"/><circle cx="534.7" cy="733.6" r="2.8"/><circle cx="561.5" cy="742.8" r="2.8"/><circle cx="583.8" cy="711.3" r="4.5"/></g><g fill="#2f8a2c" opacity="0.8" filter="url(#b1)"><circle cx="496" cy="653.3" r="1.1"/><circle cx="506" cy="661.2" r="1.1"/><circle cx="484.5" cy="687.9" r="1.1"/></g><g fill="#4df03c" filter="url(#b1)"><circle cx="559.7" cy="636.9" r="1.5"/><circle cx="489.1" cy="644.9" r="1.5"/><circle cx="557.7" cy="644.1" r="1.5"/><circle cx="558.1" cy="645.8" r="1.5"/><circle cx="487.9" cy="661.5" r="1.5"/><circle cx="552.8" cy="660.1" r="1.5"/><circle cx="494.3" cy="667.8" r="1.5"/><circle cx="531.3" cy="673.9" r="1.5"/><circle cx="586.5" cy="679.6" r="1.5"/><circle cx="488.3" cy="682.2" r="1.5"/><circle cx="570" cy="683.3" r="1.5"/><circle cx="488.6" cy="690.3" r="1.5"/><circle cx="472.5" cy="691.7" r="1.5"/><circle cx="541.9" cy="691.7" r="1.5"/><circle cx="558.5" cy="689.4" r="1.5"/><circle cx="563.5" cy="696.8" r="1.5"/><circle cx="501.4" cy="699.1" r="1.5"/><circle cx="513.9" cy="726.1" r="1.5"/><circle cx="564.6" cy="726.4" r="1.5"/><circle cx="534.7" cy="733.6" r="1.5"/><circle cx="561.5" cy="742.8" r="1.5"/><circle cx="583.8" cy="711.3" r="2.4"/></g><g fill="#ee7d2c" opacity="1" filter="url(#b1)"><circle cx="484" cy="661.9" r="0.8"/><circle cx="466.8" cy="666.4" r="0.7"/><circle cx="488.2" cy="686.8" r="0.8"/><circle cx="552" cy="690.9" r="1.2"/><circle cx="498.9" cy="698.3" r="1.1"/><circle cx="512.4" cy="700.6" r="1"/><circle cx="509.8" cy="709.8" r="0.8"/></g></g><rect x="570.3" y="736.8" width="39.9" height="3.1" fill="#fff"/></g>
<g><clipPath id="mc10"><rect x="615.6" y="632.5" width="149.4" height="110.3"/></clipPath><rect x="615.6" y="632.5" width="149.4" height="110.3" fill="#0a0b07"/><g clip-path="url(#mc10)"><g fill="#22b52a" opacity="0.25" filter="url(#b2)"><circle cx="729.3" cy="636.9" r="2.9"/><circle cx="665.2" cy="656.1" r="2.9"/><circle cx="694.6" cy="658.1" r="2.9"/><circle cx="618.1" cy="666.8" r="2.9"/><circle cx="629.6" cy="668.1" r="2.9"/><circle cx="648" cy="684.8" r="2.9"/><circle cx="644" cy="688.3" r="2.9"/><circle cx="640.6" cy="692.9" r="2.9"/><circle cx="638.8" cy="692.6" r="2.9"/><circle cx="695.9" cy="711.8" r="2.9"/><circle cx="631.1" cy="718.2" r="2.9"/><circle cx="678.2" cy="720.5" r="2.9"/><circle cx="738.1" cy="725.5" r="2.9"/><circle cx="639.4" cy="737" r="2.9"/><circle cx="697.4" cy="661.9" r="3.8"/><circle cx="719.2" cy="641" r="1.7"/><circle cx="705.8" cy="653.5" r="2.1"/></g><g fill="#2f8a2c" opacity="0.8" filter="url(#b1)"><circle cx="693.3" cy="708.3" r="0.9"/></g><g fill="#3fe83a" filter="url(#b1)"><circle cx="729.3" cy="636.9" r="1.5"/><circle cx="665.2" cy="656.1" r="1.5"/><circle cx="694.6" cy="658.1" r="1.5"/><circle cx="618.1" cy="666.8" r="1.5"/><circle cx="629.6" cy="668.1" r="1.5"/><circle cx="648" cy="684.8" r="1.5"/><circle cx="644" cy="688.3" r="1.5"/><circle cx="640.6" cy="692.9" r="1.5"/><circle cx="638.8" cy="692.6" r="1.5"/><circle cx="695.9" cy="711.8" r="1.5"/><circle cx="631.1" cy="718.2" r="1.5"/><circle cx="678.2" cy="720.5" r="1.5"/><circle cx="738.1" cy="725.5" r="1.5"/><circle cx="639.4" cy="737" r="1.5"/><circle cx="697.4" cy="661.9" r="2"/><circle cx="719.2" cy="641" r="0.9"/><circle cx="705.8" cy="653.5" r="1.1"/></g><g fill="#c8e832" filter="url(#b1)"><circle cx="673.6" cy="644.1" r="1.4"/><circle cx="696.3" cy="701.1" r="1.2"/><circle cx="749.1" cy="723.9" r="1.2"/><circle cx="642.5" cy="733.6" r="1.8"/></g><g fill="#ee7d2c" opacity="1" filter="url(#b1)"><circle cx="650.6" cy="645.3" r="1.1"/><circle cx="689" cy="669.1" r="0.7"/><circle cx="762.6" cy="684.8" r="0.8"/><circle cx="699.7" cy="696" r="1.2"/><circle cx="707.7" cy="703.4" r="1.4"/><circle cx="673.6" cy="708" r="1.2"/><circle cx="670.2" cy="694.8" r="1"/><circle cx="690" cy="716.2" r="1"/><circle cx="711.5" cy="724.8" r="1.1"/><circle cx="637.6" cy="730.2" r="0.8"/><circle cx="682.8" cy="687.9" r="0.7"/></g></g><rect x="721.7" y="736.2" width="40.2" height="3.7" fill="#fff"/></g>
<g font-size="15.6" text-anchor="middle"><text x="392" y="360" font-size="15.6" text-anchor="middle">Primary neurons</text><text x="85.5" y="396" font-size="15.6" text-anchor="middle">Control</text><text x="234" y="396" font-size="15.6" text-anchor="middle">Vehicle</text><text x="387.5" y="396" font-size="15.6" text-anchor="middle">TMP100</text><text x="540.5" y="396" font-size="15.6" text-anchor="middle">TMP150</text><text x="688" y="396" font-size="15.6" text-anchor="middle">TMP200</text><text x="388" y="592.5" font-size="15.6" text-anchor="middle">HT22</text><text x="85" y="625" font-size="15.6" text-anchor="middle">Control</text><text x="238" y="625" font-size="15.6" text-anchor="middle">Vehicle</text><text x="386" y="625" font-size="15.6" text-anchor="middle">TMP100</text><text x="538.7" y="625" font-size="15.6" text-anchor="middle">TMP150</text><text x="691" y="625" font-size="15.6" text-anchor="middle">TMP200</text></g>
<path d="M55 367.5H701.5M80 598.5H724" stroke="#222" stroke-width="1" fill="none"/>
<text x="9" y="360" font-size="21.5" text-anchor="start">C</text><text x="8.5" y="595" font-size="21.5" text-anchor="start">E</text>
<g><rect x="42.2" y="821.2" width="154.9" height="153.8" fill="#fff" stroke="#b0b0b0" stroke-width="0.9"/><path d="M112.1 883.8h.8M100.1 885.2h.8M135.1 886.2h.8M122.8 885.7h.8M88 891.8h.8M124.8 887.3h.8M86.6 877.8h.8M121.2 884.6h.8M124.6 881.1h.8M121.4 887h.8M125.9 891h.8M105.2 882h.8M126.9 885.8h.8M107.6 892.4h.8M102.4 887.5h.8M113.9 880.9h.8M124.5 884.3h.8M91.4 891.4h.8M127.8 889.5h.8M117.6 878.1h.8M107.8 878.9h.8M137.2 872.7h.8M91.3 888.2h.8M121.8 880.8h.8M97.3 891.8h.8M134.8 884.8h.8M120.4 887.3h.8M143.4 886.7h.8M125.1 887.6h.8M89.8 894h.8M132.5 886.9h.8M82.2 884.1h.8M129.7 874.5h.8M113.3 890.9h.8M94.3 895.5h.8M125.4 883.8h.8M121.8 888.3h.8M118.5 891.3h.8M104.6 883.8h.8M133.7 884.1h.8M140.8 881.1h.8M92.5 886.1h.8M113.4 883.8h.8M139.5 878h.8M137 876.9h.8M102.9 889.6h.8M135.5 888.5h.8M121.9 885.6h.8M118.8 888.1h.8M113.1 886.9h.8M125.8 884.5h.8M129.2 887.4h.8M108.6 883.7h.8M116.1 890.2h.8M110.4 887.7h.8M146.3 869.2h.8M108.9 889.3h.8M120.6 882.1h.8M106.6 885.3h.8M112.2 885.1h.8M132.7 877.7h.8M131.1 892.2h.8M110.5 889h.8M133.6 869.5h.8M134 876.1h.8M127.1 876.4h.8M119.5 891.5h.8M129.6 885h.8M115.1 893.6h.8M133.7 882.4h.8M162.3 875.8h.8M131.5 882.7h.8M118.5 888.9h.8M120 888.4h.8M126.1 879.3h.8M98 878.5h.8M115.6 879.1h.8M129.7 892.9h.8M83 895.1h.8M114.2 882.1h.8M141.1 877.9h.8M140.7 882.5h.8M118 885.8h.8M76.8 885.9h.8M84.8 891.8h.8M117.9 892.3h.8M115.4 890.9h.8M142 892.1h.8M104.9 890.8h.8M83.7 881.6h.8M83 893.3h.8M95.1 886.6h.8M146.5 883.3h.8M125.4 890h.8M107 891.7h.8M133.5 888.3h.8M116.5 889.6h.8M118.4 878.7h.8M89.2 883.6h.8M131.5 881.1h.8M100.4 882.1h.8M89.9 886.4h.8M96.1 888.6h.8M76 889.8h.8M104.4 875.5h.8M128.2 882.9h.8M77.8 883.2h.8M120.8 882.4h.8M129.6 888.3h.8M127.5 886.2h.8M131.8 891.2h.8M110.8 883h.8M148.4 873.4h.8M124.9 897.7h.8M100.5 890h.8M148.1 882.3h.8M125.9 889.4h.8M100.6 885.8h.8M121.3 889.3h.8M115.4 884.2h.8M98.6 884.5h.8M131.2 884.7h.8M125.9 870.5h.8M126.8 887.1h.8M144.8 885.5h.8M115.1 888.1h.8M121.3 881h.8M152.5 888.3h.8M145.4 888.5h.8M79 883.8h.8M124 886.7h.8M127 885.6h.8M116.6 880.7h.8M114.2 886.2h.8M113.3 878.6h.8M123.6 890.4h.8M123.3 879.5h.8M83.8 887.8h.8M100.5 890.3h.8M96.6 872.3h.8M98.9 895h.8M109 878.3h.8M103.2 888.9h.8M141.5 887.3h.8M144.5 888.5h.8M113.8 889.3h.8M111.4 891.3h.8M126.5 889.4h.8M113.4 899.2h.8M118.5 899.1h.8M110.5 890.3h.8M96.2 887.6h.8M129.3 884.4h.8M130.7 887.1h.8M112.1 889.2h.8M115.6 877.3h.8M107.9 874.9h.8M125.6 884.3h.8M111.5 877.9h.8M134.3 879.2h.8M129.7 889.3h.8M83.7 887.2h.8M84.6 881.6h.8M104.8 878.4h.8M116.7 886.5h.8M127.1 888.2h.8M142 889.7h.8M93.5 884.1h.8M97.6 880.7h.8M114.6 885.3h.8M123.8 876.1h.8M112.5 883.8h.8M114.7 881.2h.8M128.1 886.3h.8M114.3 881.7h.8M112 870.7h.8M99.3 886.6h.8M90.5 888.1h.8M118 877.6h.8M111.6 883.8h.8M124.1 888h.8M115.1 880.7h.8M113.5 885h.8M128.6 885.9h.8M103.2 878.8h.8M109.4 881.7h.8M107.7 886.4h.8M124.8 882.4h.8M155.4 880.7h.8M134.8 884.6h.8M127.2 897.1h.8M122 891.7h.8M129.4 889.4h.8M124.6 883.8h.8M124.3 878.8h.8M135.7 878.3h.8M121.1 896.4h.8M112.2 885.6h.8M126.2 888.4h.8M144.4 883.3h.8M120.4 882.6h.8M139.8 879.7h.8M127.3 881.8h.8M104.5 889.9h.8M104.8 890.4h.8M115.3 887h.8M108 898.2h.8M116.4 889.5h.8M105 885.7h.8M86.9 896.9h.8M138.8 877h.8M135.8 881.3h.8M114.9 883.6h.8M113.6 879.5h.8M115.9 877.4h.8M108.4 894.2h.8M100 884.4h.8M126.5 895.9h.8M104 886.1h.8M162.8 871.8h.8M107.2 886.8h.8M118.8 887.2h.8M112.1 887.5h.8M83.5 882.7h.8M105.2 889.4h.8M128.8 886h.8M124.6 884.1h.8M123.5 881.8h.8M114.6 889.4h.8M101.3 889.7h.8M118.5 884.2h.8M131 880.4h.8M115.7 885.2h.8M86.4 895.1h.8M90.5 885.9h.8M98.1 879.1h.8M95.4 888.5h.8M121 897h.8M106.9 882.2h.8M125.2 887.5h.8M121.1 886.2h.8M107 888.3h.8M110.4 891.3h.8M130.1 880.1h.8M117.5 889.2h.8M141.6 881.4h.8M114.8 886.4h.8M90.6 887.1h.8M96.1 875.9h.8M116.8 886.6h.8M107 890.7h.8M123.6 876.2h.8M104.5 885.9h.8M130.4 883.3h.8M121 881.3h.8M121.8 893.8h.8M105.2 898.8h.8M105.1 886.1h.8M94.2 875.4h.8M126.6 888.8h.8M127.6 898.7h.8M108.3 867.1h.8M107.2 881.3h.8M105.5 889.4h.8M116.7 885.5h.8M113.4 890.4h.8M97 894.4h.8M134.5 885.8h.8M90 895.8h.8M122 889.6h.8M119.3 884.2h.8M116.4 883.6h.8M122 885.2h.8M127.4 882.4h.8M114.6 873.7h.8M109.1 889.4h.8M138.6 881.7h.8M110.8 889.6h.8M144.6 883.4h.8M119.5 884.6h.8M156.4 878.8h.8M106.4 888.6h.8M98.3 889.2h.8M125.6 883h.8M128.4 876h.8M109.5 890.3h.8M117.3 883h.8M116.3 887.2h.8M95.1 900.2h.8M152.8 871.9h.8M115.5 887.5h.8M118.2 890.7h.8M97.1 881h.8M114.9 874.8h.8M102.5 902.2h.8M88.6 906.8h.8M97.7 909.2h.8M93 893.7h.8M108.1 900.4h.8M90.7 891.6h.8M90.8 896.1h.8M100.1 896.4h.8M98.8 897.2h.8M99.9 901.1h.8M99.2 902.9h.8M81.9 899.3h.8M96.4 891.6h.8M93.1 902.2h.8M88.2 893.2h.8M102.9 901.5h.8M105.1 900.4h.8M102 895h.8M90.7 890.7h.8M100.7 899.7h.8M98.1 902.1h.8M95 901.2h.8M117.5 901.7h.8M105.1 899.5h.8M113.5 894.4h.8M95.4 893.5h.8M102.7 903.4h.8M102.6 899.1h.8M95.6 899.2h.8M85 905.1h.8M92.7 893.8h.8M89.7 895.6h.8M106 901.5h.8M83 897.2h.8M91.7 900.7h.8M98.2 890.8h.8M104.7 891.2h.8M90.3 895.4h.8M99 890.6h.8M92.1 896.5h.8M88.7 902h.8M127 932.5h.8M145.6 909.2h.8M127.5 924.4h.8M131.2 921.8h.8M142.2 916.3h.8M130.6 927.5h.8M130.3 925.4h.8M132.6 932.1h.8M122.1 928.2h.8M131 916.4h.8M157 916h.8M156.9 928.5h.8M153.4 914.9h.8M150.5 935.2h.8M135.5 922h.8M164.9 924.5h.8M141.9 925.8h.8M138.8 937.4h.8M133.1 927h.8M121.3 913.9h.8M124.9 907.7h.8M118.3 920.4h.8M114.9 929.5h.8M128.4 920.8h.8M137.4 927.6h.8M132.8 923.2h.8M130.6 924h.8M123.4 923.6h.8M158.7 923.7h.8M122.4 925.2h.8M125.7 909.3h.8M128.4 929.2h.8M126.2 914.1h.8M125.9 905.5h.8M121.1 943.6h.8M123.7 922.4h.8M139.2 921.7h.8M128.2 930.1h.8M117.4 920.8h.8M139.8 931.7h.8M124 928h.8M141.2 916.9h.8M142.3 915.6h.8M127.7 922.9h.8M105.8 922.1h.8M125.4 910.9h.8M132 929.4h.8M123.6 912.1h.8M82.9 922.5h.8M104.8 919.9h.8M76.1 918.4h.8M70.2 925h.8M59.9 938.3h.8M88.9 937.4h.8M101.8 919h.8M80.6 934.9h.8M99.6 928.4h.8M76.5 933.7h.8M69.8 934.3h.8M100.2 926.5h.8M76 934.6h.8M75.2 925h.8M71.7 936.7h.8M102.8 914.7h.8M115.7 918.1h.8M75.2 919.4h.8M79.3 933.8h.8M105.9 915.2h.8M75.9 926h.8M64.7 938.1h.8M74.3 935.1h.8M62.7 927.2h.8M72.4 933.5h.8M91 912.4h.8M106.9 918.9h.8M90.2 913h.8M94.6 913.3h.8M70.8 919.9h.8M64.2 930.3h.8M93.7 930.1h.8M92 920.6h.8M69.5 926.3h.8M87.4 933.1h.8M86.2 918.8h.8M104.5 922.3h.8M61.3 929.1h.8M93.9 917.2h.8M69.9 932.2h.8M95.1 928.6h.8M77 933.6h.8M74.7 933h.8M87.4 925.4h.8M96 920.5h.8M99.3 924h.8M85.3 921.9h.8M120.5 914.2h.8M92.1 917.6h.8M85.1 919.4h.8M102.4 915h.8M92.9 909.3h.8M85.3 926.5h.8M61.6 930.7h.8M58.9 939h.8M74.3 926.3h.8M109.4 924.5h.8M86.6 931.4h.8M62.9 923.6h.8M77.6 923.3h.8M78.7 928.6h.8M118.6 907.9h.8M86.2 929.6h.8M103 911.1h.8M86.2 923.2h.8M86.1 916.4h.8M60.2 922.6h.8M91.3 923.6h.8M81.3 913.8h.8M79.1 923.4h.8M66.8 927.5h.8M93.9 924.4h.8M78 928.3h.8M86.3 927.5h.8M83.8 924.8h.8M111.6 917.1h.8M94.1 933.7h.8M98.2 911.4h.8M94.4 925.8h.8M109.1 922.4h.8M91.6 916.1h.8M75.3 930.4h.8M88.8 918.1h.8M79.6 925.1h.8M79.2 920.8h.8M102.2 926.7h.8M85.5 930.4h.8M91.2 926.1h.8M93.4 927.1h.8M78.1 938.4h.8M112.4 923.8h.8M109.2 919.3h.8M75.7 929.5h.8M85.7 928.4h.8M65.8 945.3h.8M111.1 914.4h.8M93.5 924.2h.8M87.6 922.9h.8M81.9 921.9h.8M86.9 919.7h.8M89.8 917.4h.8M91.5 927.7h.8M91.1 920.6h.8M78.7 926.3h.8M96.2 928.9h.8M73 926h.8M84.9 928.7h.8M69.1 926h.8M88.3 917.1h.8M86.8 926.3h.8M81.7 920.9h.8M87.2 919.7h.8M94.3 912.3h.8M82.8 926h.8M94.8 917.8h.8M90.1 920h.8M96.6 929.7h.8M81 929.1h.8M75.9 934h.8M98.9 919.6h.8M72.5 932.3h.8M100.2 924.8h.8M90.8 912.9h.8M79.6 934.9h.8M72.8 936.1h.8M108 919.9h.8M97.2 918.4h.8M70.5 930.4h.8M92.6 921.2h.8M88.2 933.7h.8M90.1 923.5h.8M81.3 923.2h.8M100.7 919.5h.8M71.3 927.6h.8M95.2 914.7h.8M90.8 923.5h.8M71.3 930.9h.8M80.2 928.6h.8M63.6 927.9h.8M95.9 926.3h.8M93.5 910.4h.8M76.8 932h.8M90.5 917.3h.8M65.7 940.7h.8M84.9 920.3h.8M56.9 942.4h.8M89.5 912h.8M90.4 913.3h.8M98.8 921.7h.8M109.7 911.8h.8M86.9 930h.8M73.2 932.4h.8M91.3 922.9h.8M103.9 915.7h.8M98.9 916.5h.8M90 912.7h.8M78 924.6h.8M58.4 932.6h.8M77.5 925.3h.8M72.4 929.5h.8M81.7 933.7h.8M97.9 924.8h.8M97.6 918.2h.8M85.4 930.9h.8M78.2 927.2h.8M83.5 931h.8M98.5 923.2h.8M91.2 916.3h.8M68.5 928.4h.8M93.1 929.9h.8M71.3 932.3h.8M73.6 925.7h.8M82.9 929.6h.8M89.5 929.6h.8M75.1 933.9h.8M95.7 921.1h.8M71.5 928.4h.8M82.8 941.5h.8M82.3 935h.8M92 918.1h.8M96.1 922.6h.8M68.4 935h.8M92.1 924.6h.8M102.4 915.8h.8M92.2 926.2h.8M76.7 934.9h.8M65.6 925.9h.8M88.8 917.7h.8M80.4 918.1h.8M83.5 919.6h.8M85.9 916.4h.8M85.5 924.5h.8M83.9 918.4h.8M55.2 937.3h.8M73.2 927.4h.8M86.1 914h.8M73.2 931.6h.8M81.7 922h.8M75 933.5h.8M86.5 914.3h.8M72.3 930.2h.8M90.3 927.1h.8M96.1 926.2h.8M80.1 925.9h.8M94.1 912.8h.8M63.9 938.9h.8M71.5 928h.8M100.8 914.2h.8M43.1 937.4h.8M70.7 930.1h.8M78.6 922.8h.8M77.1 933.9h.8M71.8 940.9h.8M76.5 922.6h.8M95 924.1h.8M74.2 933.5h.8M61.8 929.5h.8M97.4 918.7h.8M70.7 933.6h.8M63.3 932h.8M105.8 915.3h.8M79.2 927.2h.8M97 915.1h.8M94.8 906.3h.8M92.8 918.3h.8M91.4 926.2h.8M71 930.3h.8M88.7 926.7h.8M72.2 924.9h.8M67.3 945.9h.8M69.3 936.4h.8M81.3 934.3h.8M91.2 916.6h.8M80 924h.8M70.2 931.1h.8M85.8 932.5h.8M44.8 937.7h.8M73.3 927.3h.8M90.5 925h.8M63 932.5h.8M66.7 926.1h.8M86.6 924.7h.8M84.5 920.6h.8M90.5 926.5h.8M107.5 922.8h.8M74.7 926.8h.8M109.1 919.2h.8M57.1 929.6h.8M70.9 933.6h.8M103.9 913h.8M78.7 938.2h.8M58.5 927.6h.8M56.7 936.9h.8M87.2 929.5h.8M81.9 922.6h.8M79.8 937.4h.8M64.7 934.2h.8M94 920.6h.8M102.7 924.9h.8M85.6 926.3h.8M97.4 927.1h.8M65.5 936.5h.8M76.1 935.6h.8M67.3 941.7h.8M96.7 933.1h.8M81 922.7h.8M95.8 916.5h.8M80 930.1h.8M70.2 930.5h.8M85.5 934h.8M74 934.7h.8M75.1 927.2h.8M81.6 927.9h.8M98.1 929.2h.8M80 934.3h.8M97.9 924.2h.8M77.7 932.9h.8M83 929.5h.8M99.8 925.2h.8M84.3 930.7h.8M99.9 914h.8M99.4 912.1h.8M102.5 919.5h.8M71.8 934.5h.8M80.8 922.9h.8M89.6 919.1h.8M106.7 924.2h.8M80.1 918.6h.8M89.9 926.1h.8M90.8 916.8h.8M69.9 934.4h.8M92.2 914.1h.8M84.6 926.8h.8M92.4 916.2h.8M93.5 922.8h.8M102.6 924.1h.8M95.2 932.5h.8M84 923.2h.8M79.1 922.4h.8M81 916.6h.8M95.7 918.9h.8M99.7 915.6h.8M79.8 917.1h.8M74.6 925h.8M102.7 920.7h.8M73.3 932.6h.8M84.5 923.7h.8M75.5 919.6h.8M86.2 931.4h.8M100.5 917.3h.8M77.6 920.4h.8M72.2 929.7h.8M94.1 919.4h.8M81.2 937.3h.8M96.1 926h.8M77.2 936.8h.8M65.2 930.3h.8M95.6 927.8h.8M73.2 926.4h.8M83.5 915.6h.8M93 924.7h.8M93.5 929.6h.8M79.8 928h.8M80.8 932.1h.8M103.9 917h.8M102.2 922.4h.8M99.3 918.4h.8M96.6 924.3h.8M78.5 929.1h.8M83.3 925.6h.8M98.1 916h.8M62.9 924.9h.8M86 927.6h.8M105.1 918.6h.8M93.8 928.6h.8M96.3 910.4h.8M97.6 928.2h.8M91.4 914.7h.8M88 919.6h.8M76.7 933.4h.8M72.6 937.5h.8M68.9 928.5h.8M89.9 915.5h.8M105.4 909.6h.8M71.3 930.8h.8M91.5 926.2h.8M80.3 925.9h.8M81.2 923.6h.8M57.9 941h.8M87.9 924.7h.8M94 912.5h.8M85.7 919.3h.8M84 933.2h.8M72.6 929.6h.8M80 932h.8M70.9 922.1h.8M89.9 921.3h.8M83.2 931.4h.8M81 932.1h.8M109 913.3h.8M101.8 907.4h.8M99.8 917.3h.8M75.5 922.3h.8M82.8 932.7h.8M96.9 918.5h.8M77.7 924.4h.8M74.8 938.5h.8M77.5 922.8h.8M100.9 922.7h.8M76 933.8h.8M73.7 933h.8M73.4 927.6h.8M94.6 916.9h.8M104.8 924h.8M75.9 927.9h.8M70.3 931.5h.8M89.5 930.2h.8M96.8 924.5h.8M81.5 927.7h.8M64.8 937.2h.8M66.5 929.9h.8M103.1 917.2h.8M104.4 923.3h.8M98.7 917.8h.8M84.8 922.3h.8M84.9 923.3h.8M87.6 929.2h.8M100.5 919.5h.8M79.7 921.7h.8M95.5 916h.8M93.4 916.7h.8M103.3 912.3h.8M97 928h.8M76.8 936h.8M72.5 921h.8M94.1 925h.8M78.1 914.8h.8M80.1 925.6h.8M63.9 930.6h.8M107.6 923.9h.8M79.5 923.6h.8M91.1 928.1h.8M90.8 916.7h.8M103 924h.8M92.8 928.2h.8M83.2 933.7h.8M80.8 928.8h.8M93.4 917h.8M73.9 920.5h.8M86.6 924.2h.8M82.1 928.8h.8M61.3 934.5h.8M85.3 923.6h.8M96.8 929.4h.8M78.2 923h.8M78.3 928.3h.8M94.1 916.1h.8M93.9 932.6h.8M70.5 932.4h.8M100.1 919.2h.8M53.4 941.8h.8M91.4 923.3h.8M79.1 923.7h.8M85 931.3h.8M86.1 931.6h.8M55.5 934.6h.8M87.9 923.8h.8M65.2 929.6h.8M96.4 913.8h.8M71.9 924.7h.8M87.8 913.5h.8M100 916h.8M81.3 935.2h.8M81.7 920h.8M73 928.2h.8M74.5 943.7h.8M82 928.6h.8M108.4 916.1h.8M73.4 931.4h.8M87.5 925.8h.8M80.4 920.2h.8M97.1 916.8h.8M52.2 930.6h.8M74.9 936.4h.8M65.5 937.7h.8M97.9 922.4h.8M90.8 926.4h.8M81.3 922.9h.8M79.3 929.5h.8M64.1 927h.8M77.1 914.5h.8M80.6 925.5h.8M89.9 912.9h.8M82.3 928.6h.8M92.4 928.3h.8M94.7 915.7h.8M91.3 920.8h.8M78.7 935.6h.8M76.3 924.2h.8M78.8 923.2h.8M96.7 922.3h.8M101.1 920.7h.8M79.9 932.6h.8M76.7 926h.8M83 926.1h.8M97 917.1h.8M68.9 925.9h.8M89.3 925.8h.8M87.8 918.7h.8M69.3 929.7h.8M68 929.3h.8M82.9 921.8h.8M77 919.4h.8M84.3 910.7h.8M57 934.5h.8M68.6 932.9h.8M84.7 920.1h.8M98.3 922h.8M78.6 915.5h.8M98.1 919.1h.8M86.9 918.6h.8M77.3 938.6h.8M101.4 923.9h.8M101.2 921.6h.8M68.1 938.1h.8M99.6 921.7h.8M65.2 939.5h.8M99.2 916.8h.8M85.9 930.4h.8M83.1 918.1h.8M79.4 943.8h.8M90.3 929.7h.8M100.7 927.7h.8M90 920h.8M81.6 916.4h.8M60.9 935.8h.8M96.5 927.4h.8M73.3 926.4h.8M61.9 929.1h.8M94.6 932h.8M74.5 936.5h.8M88.7 921h.8M104.9 903.9h.8M84.5 926.4h.8M112 923.5h.8M110.5 915.5h.8M98.3 926.8h.8M91.2 924.4h.8M82 924.1h.8M74.6 939.5h.8M76 917.8h.8M90.1 932.5h.8M120.7 912.7h.8M78.7 937.7h.8M96 924.9h.8M94.4 925.6h.8M95 928.4h.8M98.6 926.6h.8M78.4 932.8h.8M93.3 919.3h.8M96.2 934.3h.8M96.7 914.5h.8M85.1 927h.8M98.7 921.2h.8M73.8 933.3h.8M75.9 921.5h.8M70.2 929.2h.8M67.9 917.8h.8M95.7 914.7h.8M60.1 942.2h.8M77.4 931.6h.8M80 928.7h.8M86 924.7h.8M61.6 926.8h.8M86.9 931.7h.8M93.3 913.9h.8M87.6 923.1h.8M72.2 934.4h.8M69.3 938.6h.8M56.4 938.8h.8M69.5 928.7h.8M67 930.7h.8M70.3 927.9h.8M69.6 943.1h.8M65.1 935.4h.8M77.2 923.6h.8M75.1 925.8h.8M44.9 941h.8M78.2 936h.8M76.5 933.3h.8M74.5 929h.8M77.8 925.8h.8M70.1 927.3h.8M66.6 934h.8M49.6 935.9h.8M59.3 934.7h.8M85.2 920.2h.8M66.1 930.7h.8M76.9 926.8h.8M59.5 929.2h.8M61.9 938.3h.8M56.1 926.9h.8M59.6 935.1h.8M71.8 929.9h.8M65.2 922.5h.8M87.1 933h.8M72.1 928.2h.8M56.8 932.8h.8M78.2 928.9h.8M66 925.5h.8M68.3 939.6h.8M67.6 937.7h.8M47.8 946.2h.8M56 929.4h.8M64.6 929.3h.8M77 933.4h.8M73.7 921.6h.8M66.4 934.5h.8M48.9 938.3h.8M79.1 933.9h.8M73.8 933h.8M76.6 929.5h.8M74.3 928.3h.8M64.1 944.1h.8M72.7 933.8h.8M64.7 933.8h.8M69.7 935.8h.8M53.1 945.9h.8M69.1 934.5h.8M76.4 925.4h.8M73.6 923.4h.8M68.7 927.2h.8M57.1 937.2h.8M58.5 928.3h.8M67.7 938.4h.8M70.5 939h.8M86.6 926.4h.8M59.9 933.1h.8M75.1 927.4h.8M69.4 932.9h.8M69.5 928.8h.8M66.1 939h.8M81.3 924.8h.8M60 927h.8M53.3 944.7h.8M65.9 935h.8M75.2 924.4h.8M54.3 936.2h.8M72.2 928.4h.8M60.1 937.8h.8M75 923h.8M61.2 932.6h.8M75.5 921.5h.8M70.7 928.2h.8M58.6 928.2h.8M48.3 939.5h.8M72.3 923.5h.8M71.6 928.4h.8M61.9 931.5h.8M81.4 929h.8M70.8 927h.8M71.4 933.6h.8M85 923.4h.8M61.3 940.2h.8M86.4 928.3h.8M68.7 933h.8M69.1 929.9h.8M70 928.7h.8M73.1 936.3h.8M65.3 936.4h.8M62.1 932.6h.8M69.3 927.9h.8M75.2 921.2h.8M68.6 930.2h.8M81.9 928.7h.8M64.4 926.7h.8M60.6 938h.8M62.2 932.1h.8M72.6 918h.8M79.2 929.5h.8M77 932h.8M60.1 927.8h.8M60.7 935.8h.8M73.8 933.9h.8M68.4 934.6h.8M65.7 929.4h.8M69.6 937.2h.8M64.2 921.3h.8M69.3 931.9h.8M65.9 934.8h.8M45 929.8h.8M68.1 933h.8M74.1 933.2h.8M80.6 921.3h.8M64.6 933.6h.8M73.5 931.1h.8M89.3 922.4h.8M69.8 925.6h.8M62.1 933.9h.8M55.5 939.8h.8M75.3 929h.8M59.8 932.5h.8M86.7 924.6h.8M88.8 926h.8M64.9 932.5h.8M64.8 939h.8M63.6 930.9h.8M73.6 934.5h.8M64.1 928.1h.8M83.6 928.5h.8M79.4 928.9h.8M58.6 939.7h.8M57.9 929.7h.8M63.6 933.9h.8M78.2 923.9h.8M72.5 923.6h.8M68 930.3h.8M92.8 929h.8M69 929.9h.8M75.7 929.6h.8M74.2 927.7h.8M52 929.7h.8M69.2 934h.8M84.8 925.8h.8M91.7 930h.8M66 929.4h.8M69.7 928.2h.8M64.1 933h.8M74.1 924.2h.8M71.7 924.9h.8M69.1 929.3h.8M67.8 936.4h.8M84.4 925.4h.8M70.9 925.5h.8M80.2 931.6h.8M73 934.6h.8M59.7 933.7h.8M82.9 930h.8M76.8 920.4h.8M66.1 940.2h.8M78.2 932.8h.8M84.4 923.9h.8M72.4 929.9h.8M58.1 932.2h.8M59.8 936.3h.8M80.6 922.6h.8M71.1 920.1h.8M74.2 922.5h.8M83.2 926.9h.8M73.1 925.4h.8M72.2 927.8h.8M77.6 925.9h.8M67.4 933.8h.8M45.3 945.6h.8M52.9 928.4h.8M84.4 924.7h.8M74.5 939.1h.8M75.4 926.6h.8M67.8 923.3h.8M64.1 932.7h.8M71.1 926.6h.8M61.1 931.1h.8M43.6 938.5h.8M76.6 933.2h.8M60 930h.8M77 926.1h.8M79.7 923h.8M72.5 929.4h.8M70.3 938.4h.8M56.2 939.2h.8M67.5 928.1h.8M71.5 942.8h.8M59.6 929.6h.8M64.5 929.1h.8M72.1 930.7h.8M64.5 929.4h.8M76 930.8h.8M57.8 939.8h.8M55.1 939.5h.8M61.5 942h.8M86.8 925.8h.8M74.7 938.4h.8M70.9 923.6h.8M68.6 932h.8M79.6 936.8h.8M78.3 933.4h.8M55.4 933h.8M71.7 932.6h.8M93.6 929.3h.8M60 939.6h.8M62 932.6h.8M70.2 931h.8M70.9 928.4h.8M77 926.9h.8M66.8 929.5h.8M69.1 927.6h.8M74.9 931.2h.8M69.5 927.2h.8M58.7 941h.8M70.7 933.7h.8M72.1 934.7h.8M61.4 939.5h.8M50.3 940.5h.8M79 928.1h.8M66.9 930h.8M77.9 931.4h.8M72.9 932.8h.8M77.5 929.7h.8M47.5 942.1h.8M65 932.2h.8M74.1 937.1h.8M86.1 922.1h.8M61.5 933.7h.8M80.7 935.1h.8M70.2 932.7h.8M70.4 941.7h.8M54.3 939.1h.8M78.8 929.7h.8M67 935h.8M62.6 929.9h.8M91.9 931.5h.8M62.8 934.1h.8M82.6 926.2h.8M66.5 932.1h.8M53.8 938.8h.8M61.6 933.4h.8M55.7 936.6h.8M72.3 918.8h.8M57.5 943.6h.8M72.6 933h.8M49.8 932.9h.8M75 930.5h.8M79 928.4h.8M73.4 931.9h.8M66.3 925.9h.8M67.7 931h.8M74.8 927.7h.8M57.7 936.6h.8M78.5 925.6h.8M81.7 925.7h.8M75.5 937.6h.8M86.2 942.7h.8M76.4 927.2h.8M62.2 936.4h.8M65.4 934.8h.8M68.7 931.3h.8M62.1 931.7h.8M66.5 929.7h.8M69.8 933.4h.8M73.6 928.7h.8M77.7 932.2h.8M49.6 934.1h.8M75.6 929.8h.8M59.8 936.4h.8M77.7 923.1h.8M66.3 933.2h.8M72 928.8h.8M76.6 928.6h.8M74.1 925.4h.8M49.9 937.2h.8M71.2 923.7h.8M63.8 933.1h.8M85.6 917.1h.8M70.6 932.4h.8M77.2 924.1h.8M77.1 934.8h.8M69.6 934.6h.8M66.4 930.6h.8M65.5 925.8h.8M68.8 930.7h.8M54.9 938.1h.8M62.8 926.9h.8M82.7 936.8h.8M69 927.8h.8M72.9 934.5h.8M87.6 921.2h.8M73.1 937.5h.8M61.6 939.7h.8M70.9 933.8h.8M68.8 932.6h.8M76.3 932h.8M46.9 934.4h.8M60 932.7h.8M64 928.2h.8M75.3 933.7h.8M83.1 926.3h.8M83.7 923.3h.8M73.5 923.4h.8M56.8 930.4h.8M74.5 928.3h.8M68 927.5h.8M71.1 939.4h.8M69.4 931.9h.8M68.8 933.2h.8M68.2 931.1h.8M70.9 934.3h.8M57 922.1h.8M89.9 917.6h.8M75 932.4h.8M69 932.8h.8M81.1 930h.8M64.9 929.3h.8M70 923.2h.8M64.3 937.9h.8M80.5 937h.8M65.6 932h.8M79.1 933.3h.8M59.1 940.4h.8M73.8 937.9h.8M69.3 929.1h.8M62.7 932.1h.8M73.7 938.4h.8M58.6 934.5h.8M56.4 938.4h.8M57.9 940.6h.8M75.8 922.7h.8M70.4 925.1h.8M83.7 923.2h.8M69.4 938.3h.8M74.1 919.9h.8M68.9 938.8h.8M83.1 929.4h.8M56.1 939.9h.8M79.4 930.1h.8M80.2 931.2h.8M70.1 936.2h.8M58.2 935.8h.8M81 922.5h.8M57 933.4h.8M88.2 926.8h.8M57.7 934.4h.8M74.9 923.1h.8M78.1 932.2h.8M78.7 933.9h.8M57.6 936.8h.8M71.2 937.8h.8M73.7 936.5h.8M53.4 931.7h.8M55.6 935.3h.8M62.4 928.8h.8M73.4 921.7h.8M77.9 933.6h.8M59.6 941.3h.8M52.2 933.6h.8M68.3 936.1h.8M52.8 934.6h.8M55.4 934.9h.8M79.3 931.4h.8M85.3 920h.8M62.4 929.1h.8M54.5 941h.8M63.7 941.2h.8M80.8 929.1h.8M57.6 928.7h.8M89.3 922.6h.8M71.4 936.5h.8M53.7 937.2h.8M64.4 939.7h.8M79.3 931.6h.8M81.9 930h.8M48.4 936.8h.8M67.3 939.5h.8M64.4 926.4h.8M74.5 925.1h.8M81.3 918.2h.8M65 939.5h.8M69.3 924.5h.8M52.3 933.3h.8M56.6 929.8h.8M63.4 927.9h.8M63 929.4h.8M85.6 926.2h.8M79.8 925.6h.8M79 931h.8M77.3 923.9h.8M78.9 924.1h.8M64.3 938.8h.8M75.4 922.8h.8M80.5 928h.8M49.8 938h.8M84.2 929.3h.8M55.8 940.7h.8M74.7 937.3h.8M61 930.3h.8M66.7 936.9h.8M53.2 940.4h.8M84.1 926.7h.8M76 934h.8M71.9 925.6h.8M55.4 935.4h.8M75.1 935.6h.8M79.9 923.3h.8M79.6 919.5h.8M58.5 937.7h.8M68.3 939h.8M57.9 937h.8M66 926.1h.8M74.8 937.1h.8M79.1 933.3h.8M68.7 936h.8M60.3 931.9h.8M78.1 931.7h.8M67.5 938.3h.8M58.6 928.1h.8M60.8 935.2h.8M72.9 935.4h.8M66.7 937.2h.8M74.6 932.5h.8M73.6 923.6h.8M75.8 930.5h.8M68.9 920.3h.8M58.5 939.4h.8M55.5 934.3h.8M79.7 920.6h.8M58.4 930.7h.8M67.2 937h.8M68 937.4h.8M66.2 940.7h.8M74 938h.8M66 936.8h.8M56.7 938.3h.8M56.1 940h.8M58.8 932.6h.8M83.4 928.4h.8M78.2 932.2h.8M83.1 930.2h.8M78.6 929.4h.8M58.1 939.3h.8M69.1 940.5h.8M82 919.6h.8M79 938.4h.8M77.4 935.8h.8M83.8 922.5h.8M68.5 921h.8M56.9 937.5h.8M71.2 935.9h.8M62.6 926.1h.8M73.3 923.5h.8M69.4 936.9h.8M62.2 938.4h.8M73.7 923.9h.8M85.3 924.7h.8M65 928.5h.8M67.7 940.4h.8M57.4 943.2h.8M63.7 927.4h.8M55.1 932.4h.8M64.1 940.1h.8M58.2 928.8h.8M58.3 936.9h.8M63 940.7h.8M79.5 934.9h.8M73.7 924.6h.8M62.2 936.9h.8M48.9 932.3h.8M80.4 925.3h.8M65.2 926.8h.8M56.5 932.3h.8M79.5 926.5h.8M82.2 927.8h.8M65.1 930.5h.8M78.3 924.4h.8M53.4 935.5h.8M54.3 934.1h.8M48.5 935.3h.8M65 939h.8M80.2 928.9h.8M53.2 933.3h.8M68.7 923.2h.8M53.5 935.2h.8M67 937h.8M78.9 924.9h.8M75.2 924h.8M75.1 920.3h.8M64.7 938.6h.8M63 929h.8M75.5 923.2h.8M68.6 925.7h.8M68.4 937.1h.8M57.3 937.2h.8M62.7 939.4h.8M69.3 925.9h.8M68.3 936.9h.8M68.3 938.1h.8M59.7 940.2h.8M55.8 933.8h.8M51.8 942.4h.8M73.9 923.2h.8M55 938.4h.8M79.6 922.7h.8M52.3 939.2h.8M80.1 932.5h.8M58.3 930.3h.8M53.3 942.9h.8M81.5 927.2h.8M85.7 929.4h.8M79 922h.8M52.1 941.2h.8M76.8 927.5h.8M69 924.3h.8M78.2 924.5h.8M75.6 934.2h.8M63.5 938.4h.8M78 936h.8M57 938.4h.8M68.9 926h.8M73.1 920.6h.8M57.1 942.9h.8M82.2 926.3h.8M61.3 938h.8M80 928.1h.8M78.3 922.2h.8M71 938.6h.8M82.8 926.2h.8M57.1 935.1h.8M82.3 930.3h.8M56 935.1h.8M74.5 932.3h.8M72.8 935.3h.8M54.2 938.7h.8M81.6 924.6h.8M83.7 930.3h.8M54.3 941.3h.8M83.2 922.7h.8M65.8 928h.8M83.7 926h.8M83.7 926.7h.8M85.4 932.9h.8M79.1 932.9h.8M79.5 932h.8M48.7 938.6h.8M83.6 927h.8M55.5 937.4h.8M63.4 928.3h.8M59.8 933.4h.8M71.7 921.4h.8M54 934.4h.8M64 935.5h.8M58.8 941.8h.8M82.1 926.6h.8M82.4 928.3h.8M70.3 924.3h.8M50.9 933.1h.8M55.4 937.9h.8M82.8 922.8h.8M56.6 931.4h.8M61.1 937.9h.8M60.8 938h.8M79 927.3h.8M63.7 938.2h.8M56.3 935.3h.8M72.8 939.2h.8M87.4 926.5h.8M76.8 931.3h.8M62 939.6h.8M74.4 934.8h.8M76.5 934.4h.8M64.2 926.1h.8M60.1 938.2h.8M79.6 924.2h.8M69.9 925.1h.8M65.8 925.5h.8M59.2 939h.8M77.2 936.1h.8M80.7 928h.8M60.8 927.3h.8M54.3 935.9h.8M79.2 925.6h.8M74.7 925.4h.8M56 936.9h.8M63.8 927.2h.8M56.6 943.9h.8M82.5 929.2h.8M84.4 923.7h.8M64.7 926.7h.8M53.3 942.2h.8M74.5 921.7h.8M67.1 937.2h.8M75.8 934.6h.8M76.4 923.7h.8M63.8 923.6h.8M76.8 927.1h.8M83.7 924.5h.8M84.7 926.2h.8M82 922.7h.8M56.4 940.4h.8M82.3 930.1h.8M90.7 928h.8M70.4 922.1h.8M60.6 929h.8M79.7 932.9h.8M71.1 924.1h.8M52.1 941.7h.8M65.2 938.1h.8M58.9 931.6h.8M83.2 918.9h.8M71.8 934.8h.8M55.4 924.9h.8M58.3 940.5h.8M60.5 936.5h.8M60.7 942.5h.8M56.4 930.7h.8M74.6 935.3h.8M55.9 940.9h.8M64.2 936.8h.8M58.1 931.8h.8M77 925.3h.8M81.2 927.7h.8M82.3 924.8h.8M69.5 925.3h.8M80.4 930.2h.8M72.2 936.5h.8M87.4 923.9h.8M60 937.8h.8M79.7 926.4h.8M82.4 922h.8M79.1 929.9h.8M60.9 942.9h.8M87.2 932.2h.8M58.5 935.6h.8M57.3 935.2h.8M64.6 927.7h.8M64.3 926.9h.8M73.5 925.8h.8M61.8 930.7h.8M87 924h.8M72.6 937h.8M72.3 923.5h.8M73.5 923.7h.8M74.7 924.1h.8M59.1 933h.8M79.3 930.6h.8M62.3 930.8h.8M73.7 924.8h.8M62.5 940.7h.8M55.9 934.9h.8M55.6 930.1h.8M71.9 934.3h.8M62 924h.8M53.1 937.9h.8M57.8 941.5h.8M68.8 938.3h.8M50.5 939.5h.8M59.8 937.9h.8M63.9 927.5h.8M80.5 931.3h.8M55.5 937.9h.8M76.8 921.7h.8M59.9 934.6h.8M76.7 932.3h.8M74 922.3h.8M83.8 920.7h.8M65.5 925.3h.8M81.6 924.7h.8M68.5 941h.8M78.8 930.4h.8M56.6 939.8h.8M73.2 936.3h.8M57.2 941.8h.8M63.7 937.6h.8M84.9 923h.8M48 941.6h.8M86.4 924.8h.8M69.9 923.9h.8M58.8 931.6h.8M77.8 927.3h.8M73.7 933.4h.8M72.4 935.5h.8M79.7 922.3h.8M62.5 938.3h.8M54.2 939h.8M54.2 938.4h.8M79 928.2h.8M57.4 937.8h.8M80.5 931.7h.8M62.1 926.7h.8M73.6 925.7h.8M57.5 937.3h.8M52.4 935h.8M57.1 931.4h.8M58 929.9h.8M78.4 930h.8M80.3 935.2h.8M54.3 935.4h.8M74.9 924.6h.8M82.9 925.4h.8M69.5 937.4h.8M55 934.9h.8M62.6 940.5h.8M81 921.2h.8M78.8 925.7h.8M74 923.7h.8M84.4 928.4h.8M55.2 935.6h.8M80.1 927.1h.8M51.8 939.7h.8M66.6 923.4h.8M72.1 924.7h.8M74.3 924.5h.8M66.9 942.4h.8" stroke="#2b3cf0" stroke-width="0.8" fill="none"/><path d="M111.9 888.3h.8M133.8 885.3h.8M100.7 883.8h.8M105.4 895.3h.8M110.1 885.1h.8M108.1 880.6h.8M122.7 876.7h.8M117.3 892.2h.8M81.6 885.9h.8M140.7 885.5h.8M126.3 881.2h.8M99.4 883.5h.8M140.8 886.6h.8M82.8 873.9h.8M101.4 891.4h.8M150.3 884.6h.8M97 887.9h.8M122.9 886h.8M157.5 884.2h.8M69.4 885.8h.8M115.2 890.4h.8M87 885.3h.8M113.6 886.4h.8M89.5 878.9h.8M137.8 887.7h.8M140.7 878.4h.8M101.5 894.7h.8M132.8 883.1h.8M123 887h.8M135.9 891.9h.8M103.8 891.6h.8M140.1 882.1h.8M121.2 881.5h.8M116.2 889.7h.8M112.7 885.3h.8M106.1 887.2h.8M112.2 878.7h.8M87.8 884h.8M139 887.2h.8M122.9 873.4h.8M101.2 881.7h.8M161.8 888.2h.8M83.3 893.1h.8M139.2 893.4h.8M91.9 883.3h.8M121 885.9h.8M108.9 880.4h.8M95.2 879.4h.8M147.3 887.4h.8M101.3 887.7h.8M115.2 888.1h.8M103.6 885.4h.8M110.8 889.9h.8M105.4 886h.8M116.1 886.2h.8M123.3 883.7h.8M124.5 885.6h.8M115.9 888.5h.8M133 878.2h.8M137 882.6h.8M132.7 884.1h.8M122.6 890.9h.8M119.5 885.3h.8M97.9 883.1h.8M104.6 889.1h.8M147.3 885.8h.8M112.2 875.6h.8M126.1 875h.8M95 886.6h.8M97.1 885.9h.8M134.1 871.1h.8M103.3 887.4h.8M135.8 884h.8M102.4 887.6h.8M103.5 895.6h.8M138.7 883.6h.8M142.3 889.5h.8M89.8 878.3h.8M114.9 887h.8M123.9 883.4h.8M100.7 887.2h.8M129 883.7h.8M107.7 882h.8M121.2 887.6h.8M117.2 889.3h.8M115.6 879.7h.8M98.5 889.8h.8M92 886.7h.8M147.5 880h.8M142.3 885.1h.8M130.7 874.7h.8M128.6 883.6h.8M123.8 886.7h.8M141.2 880.3h.8M145 885.5h.8M98.3 880.1h.8M93.7 885.7h.8M114 884.9h.8M139.5 881.6h.8M104.7 888h.8M111.2 882.3h.8M119.4 890.5h.8M119.6 886.3h.8M132 886.1h.8M143.9 876.6h.8M129.7 882.2h.8M132.5 895.7h.8M115.8 883.9h.8M124.4 883.9h.8M127.3 883.6h.8M123.6 879.5h.8M90.1 892.3h.8M114.6 893.9h.8M136.6 879.9h.8M118.4 891.2h.8M124.5 876.2h.8M104 883h.8M125.9 893.1h.8M137.2 885.2h.8M132.7 887.7h.8M111 879.9h.8M111.4 883.2h.8M96.5 901.4h.8M112.2 899.5h.8M90.3 902.1h.8M105.6 893.5h.8M84.6 907h.8M108.5 903.5h.8M98.1 891.9h.8M100.7 901.2h.8M91.8 898.7h.8M111.8 894.4h.8M85.5 904.5h.8M105 894.1h.8M92.4 889.6h.8M93.3 904.8h.8M105.6 899.4h.8M141.2 944.2h.8M142.1 917.8h.8M155.1 923.3h.8M135.1 929.2h.8M132 917.8h.8M153.5 914.7h.8M148.7 938.3h.8M142 907.6h.8M142.5 935.1h.8M114.7 919h.8M141.2 922.2h.8M152.2 925.1h.8M133.6 911.6h.8M124.8 937.1h.8M132.2 933.6h.8M154.6 926.4h.8M86.6 925.2h.8M81.8 922.4h.8M83.4 923.5h.8M86.1 922.6h.8M80.8 926.9h.8M86.7 920.3h.8M75.9 926.9h.8M82.7 927.9h.8M77.4 928.9h.8M84.7 921.3h.8M88.8 926.8h.8M75.1 926.2h.8M82.5 926h.8M76 927h.8M88.2 927h.8M85.5 927.6h.8M89 919.4h.8M79.8 923.9h.8M86.9 924.2h.8M85.4 925.2h.8M81.8 922.9h.8M82.5 925.8h.8M83.6 922.4h.8M87.2 929.1h.8M76.1 924.9h.8M86.8 923.4h.8M79.5 923.4h.8M93.4 920.3h.8M89.3 920.3h.8M89.5 921.8h.8M74.9 925.9h.8M93 919.5h.8M95.4 920.7h.8M91.1 926.7h.8M82.2 925h.8M94.7 921.3h.8M91.2 924.5h.8M80.8 921.9h.8M74.6 930.9h.8M85.4 926.5h.8M87.3 919.9h.8M86.3 927.9h.8M81.1 929.3h.8M79.2 926.4h.8M81.7 927.5h.8M80.8 930h.8M89.7 927.3h.8M78 923.7h.8M93.3 924.1h.8M87.1 921.8h.8M86.1 921.6h.8M76.5 928.4h.8M77.8 925.6h.8M88.3 921.8h.8M92.2 925.3h.8M78.9 925.1h.8M88.2 924.2h.8M82.9 930.9h.8M94.9 922.2h.8M79.2 924.8h.8M81.6 922.4h.8M84.7 927.5h.8M89.9 921.9h.8M76 927.6h.8M95.6 922.6h.8M78.9 929.4h.8M86.9 928.3h.8M80.8 929.6h.8M94.1 923h.8M81.1 929.1h.8M86.5 924.8h.8M88.7 919.8h.8M78.3 929.1h.8M84.6 924.9h.8M74.3 927.5h.8M85.8 923h.8M92.4 922.7h.8M91.1 924.8h.8M85.6 927.2h.8M80.4 925.8h.8M84.2 922.8h.8M88.6 928h.8M83.7 924h.8M86.9 925h.8M89.8 918.7h.8M94.8 923.3h.8M81.6 925.6h.8M91.7 926.8h.8M77.7 931.3h.8M84 926.4h.8M79.9 930.5h.8M76.4 924.8h.8M95.2 922.8h.8M86.6 928.4h.8M93.9 919.6h.8M91.8 924h.8M91.4 919.9h.8M85.1 926.2h.8M83.1 927.9h.8M76.3 929.8h.8M86.1 925.2h.8M84.2 923h.8M90.1 925.7h.8M85 921.1h.8M76.6 924.7h.8M87.7 928h.8M84.4 930.1h.8M83.2 924.4h.8M79.2 927.4h.8M77.6 930.8h.8M79.7 930h.8M87.5 926.6h.8M74.1 923.6h.8M68.3 933.5h.8M60 931.1h.8M73.7 922.9h.8M58.3 933.7h.8M63.7 925.3h.8M77.2 928.9h.8M63 929.4h.8M82.6 924h.8M53.2 946.2h.8M80.2 933.4h.8M68.8 935.9h.8M77.7 924.7h.8M52.6 935.4h.8M62.8 929.2h.8M66.7 927.7h.8M57.1 941.5h.8M67.3 933.4h.8M59.3 932.8h.8M79.6 922.2h.8M61.9 926.8h.8M81.9 930.1h.8M68.4 931.8h.8M64.4 931.2h.8M57.9 937.8h.8M66.2 932.1h.8M58.6 935.3h.8M85.6 912.6h.8M59.7 947.5h.8M65.6 926.7h.8M63.2 934.8h.8M56.6 923.7h.8M80.6 922.7h.8M67.4 930.2h.8M76.5 922.3h.8M62.6 931h.8M68.6 926h.8M70 928.5h.8M79.5 931h.8M68.9 932.3h.8M79.8 922.7h.8M92.1 917.3h.8M57.7 941.7h.8M70.6 928.4h.8M69.2 925.8h.8M75.6 924.9h.8M73.2 940.1h.8M65.9 934h.8M64 931.9h.8M55.8 933h.8M65.8 929h.8M75.6 929.9h.8M75.3 928.4h.8M57.4 941.3h.8M54.8 927h.8M69.8 921h.8M69.1 931h.8M57.7 931.3h.8M80.6 928.6h.8M86.8 925.4h.8M91.6 930.6h.8M76.9 930.8h.8M81.4 931.1h.8M56.5 931.7h.8M65.4 929.1h.8M67.4 936.2h.8M66.8 922.8h.8M68.8 935h.8M67.1 932.5h.8M79.7 921.4h.8M71.8 934h.8M69.8 930.5h.8M74.5 928.8h.8M60.3 927.2h.8M68.9 932.4h.8M65.2 929.6h.8M59 930.2h.8M77.7 928.1h.8M72.2 931.8h.8M43.7 941.9h.8M68.3 928.5h.8M89.1 929.5h.8M62.4 938.3h.8M82.7 927.9h.8M71.2 927.3h.8M77.7 931.3h.8M64.5 933.9h.8M49.6 935.3h.8M88.8 930.7h.8M64.8 930.7h.8M64.2 923.6h.8M76.9 926.2h.8M62.4 934.8h.8M67.3 931h.8M57.5 937.6h.8M76.8 933.7h.8M80.6 917.1h.8M69.9 942.4h.8M66.9 944.4h.8M71.6 937.3h.8M52.4 933.4h.8M62.4 938.3h.8M55.1 938.1h.8M48.7 944.6h.8M68.3 929h.8M65.6 933.5h.8M74.8 932.8h.8M51.8 932.5h.8M76 923.8h.8M53.1 935.9h.8M74.5 929.1h.8M73.4 929.7h.8M60.1 934.2h.8M60.2 937.6h.8M74 930.7h.8M76.1 926.3h.8M69.7 925.2h.8M75 926.3h.8M59.4 937h.8M72.4 934.6h.8M68.6 934.6h.8M67.7 928h.8M78 931.4h.8M76.2 931.8h.8M76.1 929.2h.8M58.7 936.4h.8M77.7 924.6h.8M63.9 929.4h.8M64.1 936.4h.8M76.9 926.5h.8M77 928.2h.8M72.1 933.8h.8M62.2 929.5h.8M75.8 933.1h.8M71.5 935.8h.8M64.6 937.9h.8M72 934.9h.8M78.1 930.2h.8M74.5 928.9h.8M69.4 936.1h.8M73.6 934.1h.8M56.8 936.3h.8M77.3 929.3h.8M75.4 928.1h.8M61 936.9h.8M73.1 933.4h.8M68.8 937h.8M67 926.5h.8M69 926.4h.8M74.8 930.1h.8M58.5 935.9h.8M74.5 934.4h.8M62.5 936.6h.8M63.2 929.3h.8M63.1 929.5h.8M71.1 934.8h.8M59.1 931.1h.8M61.1 938.4h.8M62.1 935.7h.8M65.4 936.7h.8M63 929.1h.8M69.8 935.7h.8M75.8 932h.8M59.5 933.7h.8M68.7 927h.8M71.1 934h.8M71.4 926.4h.8M71.3 925.9h.8M78.7 926.3h.8M69.5 937.5h.8M73.3 927.2h.8M70.8 925.4h.8M75.4 926.7h.8M57.2 931.7h.8M76.3 932.3h.8M70.6 935.8h.8M64.4 936.1h.8M66.9 926.5h.8M62.8 936h.8M69.1 926.2h.8M62.7 935.9h.8M63.9 930.7h.8M61 930.4h.8M69.3 925.9h.8M67.9 925.4h.8M61.5 937h.8M77.9 928h.8M61.3 930.5h.8M72.7 933.6h.8M71.6 936.6h.8M58.7 932.6h.8M68.6 935.2h.8M66.3 929.1h.8M70.7 926.3h.8M59.8 930h.8M62.8 937.4h.8M66.4 927.4h.8M62.5 936.3h.8M74.6 932.6h.8M68.7 926.7h.8M76.5 926.2h.8M58.5 931.3h.8M70.5 935.7h.8M74.7 931.9h.8M69.5 926.4h.8M76 929.1h.8M59.6 935.7h.8M58.2 934.5h.8M78.2 928.4h.8M57.4 933.8h.8M69.8 927.1h.8M77.9 932.5h.8M78.9 930.5h.8M72.3 926.3h.8M70.9 935.6h.8M74.8 927.5h.8M60.1 930.6h.8M76.4 926h.8M67.4 928.1h.8M70.1 925.6h.8M76.2 926.6h.8M71.6 936h.8M78.2 929.5h.8M66.2 927.6h.8M63.6 929.8h.8M67.7 927.4h.8M63 930.9h.8M65.8 927.5h.8M58.9 932.2h.8M71.4 933h.8M64 937.7h.8M68.3 937h.8M64.4 929h.8M77.7 924.8h.8M61.2 932.9h.8M75.8 933.8h.8M73.6 924.7h.8M67 927.5h.8M78.4 930h.8M61.1 936.1h.8M62.9 929.9h.8M80 924.9h.8M70.4 934.4h.8M62.3 930.4h.8M67.9 928.8h.8M63.6 938.6h.8M78 930.9h.8M66.7 927.3h.8M61.5 930.3h.8M66.3 929h.8M60.8 936h.8M70.5 926h.8M76.6 930.8h.8M77.4 925.5h.8M65.2 936.4h.8M60.8 931.2h.8M76.3 927.7h.8M63.9 929.5h.8M69.3 926h.8M70.4 937.2h.8M77.7 927h.8M74.8 933h.8M63.1 930.2h.8M60.6 935.2h.8M58.2 932h.8M73.1 925.4h.8M60.3 933.4h.8M77.5 925.1h.8M72 927.9h.8M78 930.7h.8M77 932.5h.8M65.4 929.7h.8M64 937.4h.8M67.7 927.5h.8M76.1 924.4h.8M61.8 933.3h.8M76.3 932.1h.8M59.5 930.4h.8M71.6 936h.8M74.4 932.4h.8M75.8 925.3h.8M76.7 929.6h.8M67.2 936.7h.8M59.8 933.2h.8M63 928.7h.8M61.7 934.9h.8M57.9 934.3h.8M78.5 929.6h.8M69.6 927.4h.8M68.8 935.3h.8M78.9 926.6h.8M78.3 930.4h.8M79.7 927.1h.8M66.7 927.2h.8M58.2 936.4h.8M59.2 934.4h.8M78.7 931h.8M83.1 925.1h.8M64.7 926.9h.8M69.9 926.6h.8M66.4 927h.8M66.3 936.6h.8M62.5 939.5h.8M76.5 930.6h.8M79.7 926.5h.8M58.1 934.4h.8M79.1 926.1h.8M65.4 928.9h.8M80.4 926.6h.8M66.9 928.2h.8M65 935.3h.8M61.2 936h.8M77.4 926.7h.8M57.2 932.4h.8M76.1 927.3h.8M62.8 938.5h.8M74.2 932.3h.8M77 925.4h.8M64.8 938.5h.8M69.5 935.8h.8M69.6 925.5h.8M60.5 931.6h.8M77.6 927.9h.8M71.9 934.9h.8M70.6 936.6h.8M76.7 927.1h.8M70.7 934.9h.8M57.5 932.2h.8M59.9 935.9h.8M70.6 937h.8M63.6 929.4h.8M74.1 925.2h.8M78.3 928.9h.8M60.4 937.2h.8M62.2 931.3h.8M74.4 933.8h.8M58.2 935.2h.8M70.2 926.1h.8M58.9 931.9h.8M57.5 934.4h.8M64 935h.8M81.6 929.3h.8M72 935h.8M61.3 936.4h.8M73.3 934h.8M77.9 925.9h.8M56.3 934.5h.8" stroke="#3f7bf5" stroke-width="0.8" fill="none"/><path d="M84.2 924.6h.8M75.4 927.1h.8M93.9 921.5h.8M88.4 924.6h.8M88 922.8h.8M85.9 926.2h.8M82.1 922.8h.8M86.2 926.4h.8M89.6 924.3h.8M83.5 923.9h.8M87.9 926.2h.8M82.4 923.7h.8M84.7 927.9h.8M80.4 926.5h.8M89.9 925.1h.8M84.1 929.3h.8M87.8 925.6h.8M78.3 930.9h.8M92.1 921.3h.8M88.5 923.8h.8M84.3 922.8h.8M73.3 928.7h.8M79.3 928.2h.8M84.3 927.3h.8M77.8 923.7h.8M84.6 925.4h.8M83.5 928.4h.8M78.6 924.3h.8M82.5 929.1h.8M85.6 926.4h.8M87.2 926.3h.8M80 929.1h.8M74.1 930.1h.8M75.3 927.1h.8M83.2 930.2h.8M79.3 924.5h.8M88.7 923.4h.8M84.6 922.9h.8M75.5 926h.8M84.9 920.6h.8M93.1 921.6h.8M91.1 923.1h.8M77.5 926.9h.8M94.4 919.4h.8M86.7 925.5h.8M87 927.9h.8M87.7 923.8h.8M76.4 928.4h.8M80.3 928h.8M85 928.4h.8M83.9 926.1h.8M74.5 928.4h.8M78.8 927.1h.8M75.8 929.2h.8M69.3 926.8h.8M63.2 931.8h.8M69.5 927.7h.8M63.2 929.8h.8M67.1 935h.8M65.5 929.9h.8M72.3 926.8h.8M67.7 927.4h.8M75.5 928.5h.8M76.1 932.4h.8M66.8 929.1h.8M68.2 926.8h.8M67.7 927.3h.8M63.4 936.3h.8M65.2 929.8h.8M66.7 936.2h.8M74.9 926.3h.8M73.4 926.7h.8M61.3 937.3h.8M73.2 932.1h.8M60.6 931.2h.8M72.2 928.4h.8M75 932.4h.8M61.9 932.8h.8M75.5 929.9h.8M62.4 934.4h.8M71.2 927.2h.8M64.9 931.6h.8M63.6 930.6h.8M67.1 935.7h.8M72.6 932.1h.8M65.5 929.2h.8M62.7 933.7h.8M78.4 930.7h.8M74.9 933.2h.8M60.5 936.7h.8M64.8 929.6h.8M61 934.4h.8M64.4 928.9h.8M64 927.3h.8M73.7 931.3h.8M61 934h.8M59.8 934.6h.8M60.8 934.4h.8M63.6 933.1h.8M75 927h.8M61.3 937.4h.8M65.9 929.9h.8M58.7 934.6h.8M70.4 933.7h.8M72.4 927.2h.8M73.7 927.3h.8M75 929h.8M61.9 930.5h.8M62.6 932.1h.8M68.5 927.6h.8M65.8 934.2h.8M71.9 926.5h.8M67.9 936.7h.8M73.7 932.9h.8M72.3 927.7h.8M66.8 934.8h.8M65.3 935.3h.8M75.2 932.9h.8M70.8 927.7h.8M73.5 932.9h.8M66.7 936h.8M74.6 931.8h.8M76.7 931h.8M77.6 929.8h.8M64.7 933.6h.8M65.9 927.6h.8M61.2 935.1h.8M66.5 929.1h.8M69.3 928.7h.8M70.3 927.4h.8M61.9 935.6h.8M80 928.2h.8M60.6 932.8h.8M73.6 930.2h.8M77.6 931h.8M67.7 928.3h.8M74.1 927.8h.8M75.6 927.3h.8M74.7 930.5h.8M63.6 934.5h.8M72.5 932.9h.8M61.8 934.1h.8M75.3 931.5h.8M67.9 929h.8M71.9 933.5h.8M74.3 932.4h.8M61.9 932.8h.8M75.8 929.2h.8M72 931.9h.8M62.1 936.5h.8M72.5 933.1h.8M68.4 935.8h.8M60.8 934.3h.8M73 928.7h.8M69.7 935.6h.8M72.4 933.4h.8M59.5 935.8h.8M71.1 933.4h.8M69.1 934.5h.8M75.7 928.8h.8M71.9 927.6h.8M64.5 929.1h.8M65.6 933.9h.8M64.9 928.6h.8M70.5 926.6h.8M65.1 937.4h.8M68.6 927.8h.8M64 931.9h.8M67.3 935.6h.8M71.4 933.2h.8M72.3 925.4h.8M60.4 932.4h.8M76.7 929.8h.8M64.2 935.9h.8M67.4 937.3h.8M63.5 931.4h.8M58 933.9h.8M77.3 927h.8M65.7 934.2h.8M63.4 931.6h.8M70.2 934.8h.8M69 935.1h.8M71.2 927.5h.8M68.3 926.8h.8M68.7 933.9h.8M65 932.3h.8M70.5 935.6h.8M65.2 934.6h.8M62.8 930.8h.8M75.6 930.9h.8M62.4 934.3h.8M67.1 935.8h.8M59.8 934.4h.8M59 933.6h.8M59.2 936.7h.8M59.8 932.2h.8M63 936.3h.8M77 928.8h.8M68.9 927.1h.8M71.4 934h.8M61.3 929.4h.8M72.2 933.9h.8M72 933.4h.8M70.7 928.1h.8M74 931.3h.8M70.2 935.2h.8M65.2 935.9h.8M65.8 930.6h.8M77.1 930.6h.8M79 930.7h.8M69.8 927.3h.8M73.5 925.5h.8M64.8 929.2h.8M56.7 935.7h.8M73.8 926.7h.8M74.3 931.5h.8M61.4 932.2h.8M67.5 927.5h.8M62.4 932.7h.8M65.8 928.9h.8M67.9 930.4h.8M76.2 926.4h.8M66.6 935.4h.8M65.8 936.6h.8M74.6 931.2h.8M75.6 931.6h.8M63.6 932h.8M69.3 934.7h.8M63.3 935.7h.8M73.6 927.3h.8M64.9 929.9h.8M65.1 929.3h.8M74.7 925.7h.8M62 932.2h.8M72.5 933.1h.8M70.4 934.7h.8M77.5 931h.8M75.4 932.7h.8M73 932.5h.8M74 931.6h.8M56.9 934.8h.8M62.6 936.1h.8M65.9 934.5h.8M60.2 934h.8M66.4 928.4h.8M61.1 935.8h.8M70 926.9h.8M73 932.1h.8M69.4 934.7h.8M60.1 935.8h.8M71.8 932.5h.8M73 928h.8M76.7 928.1h.8M69.4 935.4h.8M64.3 936.5h.8M69.6 934.2h.8M64.5 928.3h.8M75.2 926.9h.8M62.4 936.2h.8M59.9 933.9h.8M62 936.4h.8M75.7 928.9h.8M78.4 929.8h.8M61.4 937.3h.8M61.5 934.9h.8M63.6 929.2h.8M60.9 935.5h.8M69.7 933.9h.8M73.4 926.8h.8M63.4 936.1h.8M62.9 929.5h.8M74.7 929.3h.8M71.2 926.8h.8M70.5 933.6h.8M62.1 932.7h.8M69.3 935.1h.8M75 926.4h.8M68.9 929.6h.8M76.4 928.7h.8M69.9 933.8h.8M63.9 934.9h.8M72.6 925.1h.8M62.9 929.5h.8M63.2 931.3h.8M68.4 929.4h.8M68.6 936.1h.8M71.9 934.5h.8M61 932.2h.8M60.2 937.1h.8M69.5 936h.8M63.2 934.6h.8M62.9 933.1h.8M63.3 934.6h.8M60.6 934.6h.8M66.3 933.5h.8M77.1 928.4h.8M67.3 928.7h.8M73.6 926.3h.8M73.2 931.2h.8M59.6 934.8h.8M75 930.2h.8M74.7 932h.8M61.4 935.4h.8M68.8 929.2h.8M76.6 929h.8M61.8 932.4h.8M59.7 933.2h.8M62.4 933h.8M60.5 934.4h.8M73.4 925.5h.8M66 935.5h.8M62 930.7h.8M63.2 933.3h.8M66.6 934h.8M62.1 931.2h.8M59.8 932.1h.8M76.3 931h.8M73.1 926.5h.8M75.1 927.2h.8M61.7 929.7h.8M59.2 935.7h.8M78.9 928.8h.8M63.3 930h.8M73.2 931.6h.8M72.5 926.3h.8M62.2 934.1h.8M70.6 928.4h.8M64.4 929.5h.8M64.1 929.4h.8M68.7 935.3h.8M74.2 931.1h.8M76.1 930.1h.8M65.9 934.5h.8M63.8 930.7h.8M72.6 927.9h.8M61.5 930.3h.8M70.3 926.3h.8" stroke="#22c7d8" stroke-width="0.8" fill="none"/><path d="M75.4 928.2h.8M71.2 932.2h.8M73 932.2h.8M72.6 932.7h.8M66.5 928.8h.8M68 929h.8M65.2 931.5h.8M68.1 929.7h.8M72.1 927.4h.8M75.3 927.5h.8M65.7 934.3h.8M65.9 932.7h.8M72.1 929.1h.8M62.7 933.8h.8M70.7 934.2h.8M71.7 929.2h.8M65.7 933.7h.8M74.4 931.9h.8M63.5 933.6h.8M72.1 929.7h.8M68.3 932.3h.8M64.7 930.2h.8M63.6 931.6h.8M75.5 928.8h.8M71.7 929.9h.8M67.6 929.1h.8M62.4 932.9h.8M71.6 931.7h.8M69.2 929.3h.8M60 934.8h.8M69.3 932.6h.8M72.8 928.7h.8M69.9 931.7h.8M65.8 930.9h.8M66.7 931.3h.8M65.6 928.6h.8M73.3 929.5h.8M70.9 933.8h.8M70.3 927.2h.8M74.4 932h.8M76.9 931.7h.8M70.5 930.4h.8M65.5 929.6h.8M66.5 929.6h.8M74.2 931.3h.8M66.3 935.1h.8M70.5 933.3h.8M65.5 934.6h.8M70.5 927.1h.8M67.3 929.6h.8M63.1 934.6h.8M67.5 934.8h.8M66.7 928.3h.8M65.8 934.5h.8M72.3 932.2h.8M73.2 927.3h.8M64.4 935.2h.8M68.2 933.7h.8M63 932.3h.8M70.9 933.3h.8M63.8 934.9h.8M70.9 929.5h.8M73.4 929.2h.8M69.7 928.5h.8M73.2 931.1h.8M67.5 928.2h.8M64.4 933.6h.8M71.5 930.2h.8M74.5 930.7h.8M62.4 934h.8M70.9 928.7h.8M63.3 932.5h.8M66.8 933.3h.8M62.9 930.2h.8M63.9 930.1h.8M65.1 934.1h.8M69.2 927.5h.8M61.2 934.4h.8M67.6 928.6h.8M71.9 931.4h.8M68.1 934.2h.8M69.5 932.5h.8M65.4 934.1h.8M67.1 932h.8M71.2 933.3h.8M68.9 929.1h.8M62.4 934.2h.8M64.2 932h.8M71.4 926.5h.8M72 931.9h.8M72.1 927.5h.8M71.7 931.9h.8M72.2 929h.8M71.3 934.6h.8M66.3 932.5h.8M69.6 933.8h.8M62.8 934.5h.8M72.7 931.3h.8M74.5 929.1h.8M62.5 935.1h.8M64.7 933.3h.8M63.8 932.2h.8M63.2 931.8h.8M76.6 931.7h.8M67.2 935.9h.8M66.5 929h.8M64.3 935.5h.8M70.9 927.6h.8M70.3 931.3h.8M72 928.5h.8M73.5 931.2h.8M66.6 933.4h.8M71.4 931h.8M64.7 934.2h.8M79.5 928.6h.8M67.9 934.2h.8M69.7 927.2h.8M64.1 935.5h.8M64.3 932.9h.8M63.2 934h.8M66.1 930.6h.8M72.1 931.2h.8M71.1 927.9h.8M71.1 928.1h.8M70.2 933.3h.8M63.7 933.3h.8M69.2 930.6h.8M69.5 929.2h.8M63.4 932.8h.8M75.7 928.4h.8M62.1 934.4h.8M74.8 927.9h.8M62.8 933.6h.8M75.5 929.8h.8M69.6 935.7h.8M65.6 931.6h.8M62.4 932.3h.8M65 928.9h.8M64.8 935h.8M69.3 929.1h.8M74.4 930.2h.8M71.1 931.9h.8M69.9 928.8h.8M68.2 930.1h.8M66.8 930.9h.8M72.5 927.4h.8M67.1 932.2h.8M66.7 934.2h.8M68.9 927.2h.8M67 930.4h.8M68.4 929.5h.8M68.2 935.1h.8M70.3 927.8h.8M70.1 928.7h.8M70.9 933.7h.8M62 936.3h.8M63.6 931h.8M64 934.9h.8M61.6 933.3h.8M69.6 933.9h.8M61.6 934.4h.8M69.6 932.1h.8M72.8 932.3h.8M61.5 935.7h.8M65.2 929.7h.8M68.3 932.7h.8M68.6 935h.8M67 934.1h.8M67.9 934h.8M66.5 929.1h.8M67.6 933.9h.8M67.5 927.9h.8M64.7 932h.8M67.7 930.1h.8M68 929.7h.8M63.4 933.2h.8M66.7 934.7h.8M68.8 933.6h.8M63.7 934.3h.8M66.6 929.1h.8M67.5 933.4h.8M74.3 926h.8M66.3 929.9h.8M62.9 931.2h.8M72.7 929.5h.8M66.2 935.3h.8M74.1 928.3h.8M72.5 933.8h.8M71.5 929.6h.8M66.7 929.3h.8M64.8 929.7h.8M74.1 927.8h.8M69.8 928.3h.8M66 932.5h.8M69.8 928.4h.8M67.5 929.5h.8M74.1 931.7h.8M71.7 930.1h.8M64.5 934.3h.8M66.8 934.7h.8M68.7 927.4h.8M74.3 931.7h.8M63.1 935.3h.8M66 934.3h.8M73.3 928.5h.8M63.2 934.2h.8M70.4 928.5h.8M70.1 936h.8M69.5 927.4h.8M70.4 931.6h.8M64.7 934.2h.8M72.6 931.4h.8M69.6 929h.8M66.5 929.3h.8M72.2 932.5h.8M63.5 933.2h.8M71 933.4h.8M72.5 927.7h.8M64.1 932.8h.8M72.2 932.7h.8M66.5 932.7h.8M69.1 933.5h.8M67.1 934.2h.8M68.2 934.2h.8M72 932.2h.8M67.7 928.7h.8M68.3 933h.8M65.5 930.1h.8M70.5 930.5h.8M63.3 931.5h.8M72.7 928.6h.8M69.3 927.8h.8M72.1 928h.8M71.1 927.1h.8M66.5 935.9h.8M68.4 929.5h.8M67.3 928.5h.8M63.5 933.8h.8M65.4 930.1h.8M69.4 928h.8M67.2 931.1h.8M63 932.4h.8M71.8 926.4h.8M63.7 934.4h.8M63.1 931.7h.8M67.2 933.4h.8M70.3 933.1h.8M73.9 929.6h.8M70.4 927.1h.8M65.8 935h.8M65.7 931.6h.8M71.1 927.9h.8M74.3 931h.8M64 932h.8M70.5 928.8h.8M65 933.6h.8M72.7 931.6h.8M62.9 931.8h.8M70.9 934.9h.8M72.8 931.2h.8M67 934.7h.8M62.7 931.1h.8M71 929.6h.8M66.7 933.4h.8M65.2 933.7h.8M62.8 932.7h.8M67.4 929.3h.8M71 928.7h.8M74.2 930.3h.8M63.4 932.8h.8M74.2 929.8h.8M63 935.4h.8M75 926.8h.8M68.8 931h.8M73.6 931.4h.8M75.6 929.9h.8M66.2 935.3h.8M72.3 928h.8M73.3 925h.8M73.8 930.9h.8M74.2 930.2h.8M61 933.5h.8M68.9 928.1h.8M72.7 931.3h.8M66.2 930.9h.8M75.1 931.5h.8M65.4 932.1h.8M70.8 927.6h.8M73 928.6h.8M70.4 933.9h.8M67.1 931.9h.8M66.2 931.5h.8M63.9 935.4h.8M64.5 933.9h.8M68.7 929h.8M76.1 929h.8M75.4 931h.8M72.6 930.7h.8M66 934.8h.8M64.5 930.9h.8M73.5 927.8h.8M70.4 933.3h.8M72.5 931.3h.8M63.7 933.7h.8M61.5 934.7h.8M61.8 935.1h.8M62.9 933h.8M77.7 928h.8M69.3 932.2h.8M65.6 931.6h.8M69.1 933.8h.8M70.3 929.5h.8M71.6 930.9h.8M71.6 927.6h.8M61.4 936.1h.8M66.6 935.6h.8M62.9 933.5h.8M62.5 933.9h.8M69.1 932.5h.8M66.4 930.5h.8M75.4 926.7h.8M74.4 927.2h.8M66.9 932.1h.8M64.7 932.4h.8M69.1 929.8h.8M72 932.7h.8M74 932.2h.8M62.9 933.8h.8M63.8 934h.8M73.8 930.4h.8M73.5 928.9h.8M68.4 928.6h.8M75.8 930.5h.8M71.2 928.2h.8M74.7 930.3h.8M63.6 933.5h.8M73 927.7h.8M77 929.6h.8M66.4 934.8h.8M71 930.9h.8" stroke="#37d04a" stroke-width="0.8" fill="none"/><path d="M65.3 934.3h.8M68 930.4h.8M65 932.1h.8M73.4 931.1h.8M69 930.4h.8M72.2 931.4h.8M66 933h.8M70.1 932.4h.8M73.3 929h.8M70.5 932.6h.8M72.9 928.5h.8M66.5 929.1h.8M65.6 931.1h.8M68.3 931.3h.8M74.8 929.7h.8M64.3 932.2h.8M70.7 932.9h.8M64.1 934.6h.8M68 928.6h.8M65.2 932.6h.8M71 928.5h.8M71.5 930.2h.8M71.1 927.8h.8M70.6 932.5h.8M65.6 931.4h.8M67.7 932.8h.8M73.5 928.7h.8M72.2 927.7h.8M69.3 929.7h.8M64.5 932h.8M67.8 930.2h.8M73.4 930.7h.8M61.4 932.9h.8M65.3 933h.8M69.2 929.6h.8M67.9 930.4h.8M68.1 928.9h.8M72.9 928.2h.8M69.6 932.6h.8M66 932h.8M70.7 928.9h.8M67.6 930.9h.8M70.8 929.4h.8M70.9 929.3h.8M70.2 931.9h.8M75.1 929h.8M66.4 933.1h.8M72 928.5h.8M72 929.2h.8M68.7 931.5h.8M70.8 931.9h.8M70.4 931.8h.8M70.9 933.3h.8M66.6 933.4h.8M70.8 931.3h.8M65.5 933.7h.8M69.8 933h.8M66.3 931.1h.8M66.1 929.7h.8M73.7 929.3h.8M73.2 931h.8M69.7 930.4h.8M67.8 930.7h.8M70.3 929.3h.8M66.9 932.6h.8M65 932.9h.8M67.3 929.7h.8M72.5 931.4h.8M65.5 934.2h.8M70.2 929.4h.8M68.8 933.1h.8M71 926.6h.8M70.3 931.3h.8M68.7 932.8h.8M69 930.6h.8M73.1 931.6h.8M74.2 930.7h.8M69.9 928h.8M68.1 932.9h.8M69.4 931h.8M71.9 930.8h.8M68.5 932.3h.8M67.9 933.6h.8M73.2 928.8h.8M71.6 928.4h.8M67 933.5h.8M71.1 929h.8M73 929.3h.8M64.9 933.2h.8M70.4 931.1h.8M67.3 932.2h.8M66.9 930.3h.8M67.5 934.3h.8M66.1 933.2h.8M62.1 932.5h.8M66 931.9h.8M70.4 931.4h.8M72 929.2h.8M73.7 929.4h.8M65.9 934h.8M73.7 929.4h.8M64.5 933.6h.8M72 934h.8M71.7 932.3h.8M70.6 931.7h.8M66.6 931h.8M68.5 929h.8M73.7 928.8h.8M72.6 930.4h.8M70.6 929.1h.8M70.8 929h.8M69.5 932.8h.8M64.1 934h.8M65.9 933h.8M71.1 931.1h.8M65.6 932.2h.8M66.9 930.5h.8M70.5 931.3h.8M65.4 932.5h.8M68.3 934h.8M72.8 931.1h.8M68.3 930.1h.8M67.2 933.5h.8M71 930.5h.8M68.5 930.1h.8M67.8 932.5h.8M71.2 930.9h.8M67.7 929.8h.8" stroke="#d8e02a" stroke-width="0.8" fill="none"/><path d="M66.4 931h.8M68.9 930.8h.8M69.7 929.6h.8M71.3 930.9h.8M67.7 933h.8M70.4 931.7h.8M71 929.7h.8M66.7 933.3h.8M74.5 929.7h.8M70.2 932.2h.8M69.4 932h.8M67.2 929.7h.8M69.9 930.6h.8M68.1 930.9h.8M67.5 931.9h.8M70.2 929.6h.8M67.4 930.4h.8M66.5 930.9h.8M66.9 929.7h.8M68 932h.8M66.9 933.2h.8M67.8 933.2h.8M69.3 928.7h.8M69.7 930.7h.8M73.1 928.2h.8M68.1 933h.8M69.3 933.7h.8M65.4 933.9h.8M66.7 932h.8M66.9 932.1h.8M69.6 930.8h.8M69.6 930.5h.8M72.1 931.4h.8M68.3 930.5h.8M67.1 931.8h.8M68.1 930.6h.8M69.1 931.8h.8M67.9 932.4h.8M68.7 929.4h.8M71.5 929.1h.8M66.8 932.3h.8M67.7 933.4h.8M65.4 931.9h.8M69.1 932.7h.8M67.1 933.6h.8M71 929.6h.8M69.6 931.1h.8M69.3 931.4h.8M69.3 930h.8M69.3 930.5h.8M67.6 932.8h.8M69.5 931.4h.8M64.6 931.4h.8M68.2 932.1h.8M70.5 929.9h.8M66.8 934h.8M66.3 931.7h.8M68.9 930h.8M70 932.6h.8M67.4 931.3h.8M68.2 931.6h.8M65.9 930.9h.8" stroke="#f29a1c" stroke-width="0.8" fill="none"/><path d="M68.3 931.2h.8M67.9 931.6h.8M70.9 930.2h.8M70.7 930.5h.8M67.5 931.7h.8M65.6 933.9h.8M71.5 930.2h.8M72.6 929.4h.8M68.8 932h.8M69.3 931.7h.8M70.8 930.4h.8M68.2 930.7h.8M67.4 931.8h.8M68.1 932.3h.8M68.3 931.6h.8M69.1 930.7h.8M68.1 932.8h.8M67.7 931.2h.8M66.5 931.1h.8M71.7 930.4h.8M67.5 932h.8M71.6 930.3h.8M69.6 930.8h.8M65.4 931.8h.8M66.5 930.7h.8M69.3 932.1h.8M69 930.7h.8M67.4 933.1h.8M68.7 933h.8M68.7 932.3h.8M69.1 931.1h.8M68.6 929.4h.8M69.8 931.2h.8M70.4 932.3h.8M72.6 928.6h.8M72.2 931.3h.8M67.7 933.4h.8M65.8 932h.8M70.8 931.4h.8M69 930.6h.8M68.2 931.7h.8M70.3 932.1h.8M68.4 931.3h.8M68.6 931.1h.8M64.8 931.4h.8M68.8 933.2h.8M68.1 931.6h.8M69.8 931.2h.8M70.6 932.2h.8M68.7 931h.8M72.2 931.6h.8M68 932.4h.8M66.7 931.6h.8M70.4 929.4h.8M69.1 930.8h.8M68.1 930.9h.8M68.8 932.1h.8M66.8 931.5h.8M69.8 932.8h.8M67.2 931.7h.8M70.4 930.2h.8M66 930.6h.8M67.8 932.9h.8" stroke="#ee3a1e" stroke-width="0.8" fill="none"/><path d="M115.8 821.2V975M42.2 907.3H197.1" stroke="#222" stroke-width="1.1" fill="none"/><path d="M60.3 975v4M110.2 975v4M146.8 975v4M182.1 975v4M43.2 975v2.2M48.2 975v2.2M52.2 975v2.2M55.2 975v2.2M64.2 975v2.2M68.2 975v2.2M72.2 975v2.2M87.2 975v2.2M94.2 975v2.2M99.2 975v2.2M103.2 975v2.2M106.2 975v2.2M108.2 975v2.2M121.2 975v2.2M128.2 975v2.2M132.2 975v2.2M136.2 975v2.2M139.2 975v2.2M141.7 975v2.2M144.2 975v2.2M157.2 975v2.2M164.2 975v2.2M169.2 975v2.2M172.2 975v2.2M175.2 975v2.2M177.2 975v2.2M179.7 975v2.2M192.2 975v2.2M42.2 835.6h-4M42.2 872.4h-4M42.2 914.6h-4M42.2 939.6h-4M42.2 965.5h-4M42.2 824.2h-2.2M42.2 827.2h-2.2M42.2 830.2h-2.2M42.2 843.2h-2.2M42.2 850.2h-2.2M42.2 854.2h-2.2M42.2 858.2h-2.2M42.2 861.2h-2.2M42.2 864.2h-2.2M42.2 867.2h-2.2M42.2 869.7h-2.2M42.2 883.2h-2.2M42.2 891.2h-2.2M42.2 896.2h-2.2M42.2 900.2h-2.2M42.2 903.2h-2.2M42.2 906.2h-2.2M42.2 909.2h-2.2M42.2 911.2h-2.2M42.2 921.2h-2.2M42.2 926.2h-2.2M42.2 930.2h-2.2M42.2 934.2h-2.2M42.2 944.2h-2.2M42.2 948.2h-2.2M42.2 952.2h-2.2M42.2 957.2h-2.2M42.2 961.2h-2.2M42.2 969.2h-2.2" stroke="#111" stroke-width="0.9" fill="none"/><path d="M57.9 975v3.5" stroke="#111" stroke-width="4" fill="none"/><path d="M42.2 939.6h-3.5" stroke="#111" stroke-width="5.5" fill="none"/><g class="ns2" font-size="5.3" fill="#111"><text x="60.7" y="987.8" text-anchor="middle">0</text><text x="113.7" y="987.8" text-anchor="middle">10<tspan dy="-2.3" font-size="4.3">3</tspan></text><text x="150.2" y="987.8" text-anchor="middle">10<tspan dy="-2.3" font-size="4.3">4</tspan></text><text x="185.7" y="987.8" text-anchor="middle">10<tspan dy="-2.3" font-size="4.3">5</tspan></text><text x="36.2" y="837.8" text-anchor="end">10<tspan dy="-2.3" font-size="4.3">5</tspan></text><text x="36.2" y="874.6" text-anchor="end">10<tspan dy="-2.3" font-size="4.3">4</tspan></text><text x="36.2" y="916.8" text-anchor="end">10<tspan dy="-2.3" font-size="4.3">3</tspan></text><text x="33.2" y="941.2" text-anchor="end">0</text><text x="36.2" y="967.7" text-anchor="end">-10<tspan dy="-2.3" font-size="4.3">3</tspan></text></g><g class="ns2" font-size="6.1" fill="#111"><text x="45.4" y="833.2">Q1</text><text x="45.4" y="843">6.05</text><text x="183.6" y="833.2" text-anchor="end">Q2</text><text x="183.6" y="843" text-anchor="end">4.48</text><text x="183.6" y="957.4" text-anchor="end">Q3</text><text x="183.6" y="967.2" text-anchor="end">0.89</text><text x="45.4" y="957.4">Q4</text><text x="45.4" y="967.2">88.6</text></g><text x="120" y="813.9" font-size="15.2" text-anchor="middle">Control</text></g>
<g><rect x="241.4" y="820.6" width="154.9" height="154.4" fill="#fff" stroke="#b0b0b0" stroke-width="0.9"/><path d="M280.5 885.3h.8M268.7 897.5h.8M280.9 894.1h.8M288.8 908.4h.8M289.3 890.8h.8M268.8 898.3h.8M284.1 890h.8M282.1 891.7h.8M289.9 899.9h.8M267.5 888.9h.8M279.6 884.9h.8M295.9 885.9h.8M263.3 902.3h.8M274.7 887.2h.8M269.7 891.8h.8M280.2 885.5h.8M262 898.2h.8M287.8 878.8h.8M273.3 894.6h.8M266.5 881.5h.8M276.5 888.8h.8M288.2 888.6h.8M268.9 887.1h.8M281.7 890.2h.8M262.5 893.8h.8M282.1 890.2h.8M286.7 884.1h.8M252.4 884h.8M271.4 892.2h.8M276.9 905.4h.8M284.9 901.3h.8M282.7 877.9h.8M274.1 883.4h.8M245.9 887.2h.8M286.4 887.6h.8M293.2 901.9h.8M270.7 888.1h.8M274.6 879.6h.8M285.3 909.4h.8M288.8 892.8h.8M292.1 891.2h.8M255.9 895.6h.8M288.5 887.8h.8M271.5 884.9h.8M279.8 901.3h.8M281.4 900.6h.8M287.3 901.1h.8M279.6 912.8h.8M285.3 900.6h.8M265.5 885h.8M263.9 908.4h.8M285 896.2h.8M279 893h.8M280.3 884.9h.8M271.4 902.2h.8M282.3 879.9h.8M277.1 900.1h.8M282 896.4h.8M257.7 891h.8M254.9 892.3h.8M287.2 892.8h.8M271.8 888.8h.8M276.9 891.2h.8M305.3 902.8h.8M270.1 890.4h.8M269.3 900.1h.8M272.9 877.7h.8M272.1 887.7h.8M252.7 897.6h.8M278.5 900.1h.8M289.4 895h.8M262.4 895.5h.8M276.7 889.6h.8M274.8 879.1h.8M281.3 890.9h.8M272.1 911.7h.8M251 881.3h.8M287.3 882.8h.8M258.8 884.7h.8M255.8 902.3h.8M278 897.1h.8M261.7 887.8h.8M259.7 889.2h.8M281.9 896.9h.8M280.1 893.6h.8M277.4 889.1h.8M266.2 888.1h.8M264.8 877.3h.8M291.1 891.8h.8M272.7 900.6h.8M255.2 890.4h.8M291.3 903.6h.8M267.8 882.6h.8M261.1 900.6h.8M297.8 895.4h.8M268.4 896.4h.8M284.8 893.6h.8M271.5 891.2h.8M286.4 883h.8M273.8 901.8h.8M260.7 899.8h.8M272.2 900.9h.8M259.3 899.1h.8M270.9 892.8h.8M294.1 900.5h.8M284.7 899.1h.8M264.4 890.4h.8M259.7 880h.8M272.8 895.7h.8M260.7 884.4h.8M269.5 882.4h.8M279.3 890.2h.8M283.6 887.5h.8M268.5 886.9h.8M271.3 886h.8M277.3 899.3h.8M271.6 879.3h.8M263.5 893.6h.8M281.3 894.1h.8M274.1 883.2h.8M246.4 887.7h.8M278.2 889.3h.8M267.3 889.6h.8M266 899.5h.8M272.7 898.1h.8M267.3 882.3h.8M279.8 896.8h.8M272.4 901.1h.8M252.7 894.1h.8M268.8 888.2h.8M267.6 900.4h.8M287.4 883.1h.8M270.5 893.3h.8M265.1 896.4h.8M272.4 891h.8M282.1 898.8h.8M279.1 887.6h.8M264.8 890.1h.8M261.6 909.4h.8M261.4 863.1h.8M268.6 901.3h.8M260.9 906h.8M264.1 902.7h.8M271.5 912.1h.8M316.3 879h.8M326.5 898.5h.8M319.1 891.5h.8M321.7 875.9h.8M302.3 892h.8M325.4 892.2h.8M319.3 886.6h.8M302.1 897.7h.8M339 888.7h.8M301.2 888.2h.8M304.9 890.4h.8M296.5 902.6h.8M334.8 888.6h.8M315 887.9h.8M295.9 879.3h.8M320.9 909.5h.8M319.5 907.9h.8M316.9 904.9h.8M321.9 893.7h.8M321.9 905.9h.8M314.6 886.4h.8M307.2 879.3h.8M321.4 906.7h.8M339.7 913.2h.8M295.3 882.1h.8M318.2 874.1h.8M307.3 901.9h.8M321.1 872.6h.8M325.9 918.9h.8M330.3 883.2h.8M352.5 873.7h.8M325.2 896.4h.8M317.8 881.2h.8M313.6 896.9h.8M313.9 888.2h.8M327.1 885.6h.8M325.7 891.7h.8M311.6 878.1h.8M322.9 905.2h.8M314.5 892.9h.8M321.2 882.6h.8M308.4 894.6h.8M321.7 895.8h.8M309.9 885.6h.8M320.9 877.6h.8M324.7 896.6h.8M320.5 887h.8M335.8 881.7h.8M325.8 879.3h.8M315.3 891.8h.8M318.2 912.9h.8M314.6 913.8h.8M320.1 892.1h.8M305.9 886.8h.8M322.1 898.4h.8M325.2 867.2h.8M334.2 900.8h.8M311.5 886.5h.8M320.3 908.1h.8M313 885.7h.8M305.3 893.1h.8M314.7 904.4h.8M316.7 888.9h.8M328.6 901.3h.8M320.7 884.2h.8M338.4 870.9h.8M302 878.2h.8M308.4 886h.8M327 900.9h.8M330.8 881.2h.8M330.4 886.1h.8M300.9 884.8h.8M320.3 892.4h.8M318.7 882.5h.8M328.8 877.9h.8M329.1 900.2h.8M323.7 888.7h.8M313.1 875.9h.8M326.8 886.2h.8M333.6 893.8h.8M301.2 904.2h.8M316.1 906.9h.8M311.5 885.9h.8M327.5 885.2h.8M317.6 896.9h.8M314.6 873h.8M316.2 894.1h.8M311.4 883.9h.8M304.1 884.6h.8M323.5 889.8h.8M326.9 894h.8M300.6 899.5h.8M334.5 895.2h.8M338 886.6h.8M329.1 884.3h.8M343.7 882.9h.8M317 909.2h.8M326.9 885.9h.8M304.7 902.2h.8M297.1 878.4h.8M308.6 894.9h.8M324.5 897.7h.8M326.3 883.5h.8M336.4 877.3h.8M325.7 889.8h.8M333.6 864.3h.8M329 887.6h.8M331.3 885h.8M303.1 908.3h.8M318.8 895.1h.8M316.8 897.1h.8M327.8 882.1h.8M321.6 889.8h.8M317.3 888.9h.8M317.5 888.9h.8M312.3 887.8h.8M336.2 863.8h.8M330.3 865.4h.8M330.8 887.8h.8M308.6 886.6h.8M321.6 883h.8M321.8 902.2h.8M286.3 880.2h.8M302.2 904.9h.8M331.4 897.6h.8M302.3 877h.8M312.7 903.6h.8M310.4 885.7h.8M309.1 874.8h.8M312.7 874.3h.8M306.4 901.8h.8M315 896.5h.8M331.7 898.3h.8M324.5 898h.8M316.7 900.3h.8M308.3 898.2h.8M325.4 877h.8M309.4 889h.8M323.1 897.1h.8M331.5 892.8h.8M324.7 873.2h.8M330.4 899.7h.8M314.4 895.7h.8M352.7 896.8h.8M326.4 895.7h.8M309.7 896.3h.8M311.5 871.7h.8M326.9 893.8h.8M329 890.1h.8M331.7 880h.8M327.5 892.6h.8M317 887.2h.8M298.9 889.4h.8M329.4 889.9h.8M306.6 897.9h.8M318.4 872.6h.8M310.5 894h.8M332.7 883.7h.8M305.4 881.1h.8M312 876.5h.8M329.7 889.7h.8M309.6 895.9h.8M305.2 891.6h.8M333.4 899.8h.8M318.1 882.5h.8M320 893h.8M303.1 892.8h.8M311.6 892.8h.8M321 878.4h.8M314.8 870.9h.8M300.6 903.8h.8M318.1 891.4h.8M326.7 912.9h.8M318.6 885.1h.8M317.4 890.1h.8M332.4 883.2h.8M296 878.3h.8M315.6 867.6h.8M331.8 877.7h.8M309.7 884h.8M320.9 894h.8M331.2 877.1h.8M314.2 883.8h.8M336.9 878.2h.8M330.6 886.2h.8M309.9 889.3h.8M303.2 912.6h.8M356 882.8h.8M331.1 882.6h.8M306.7 868.7h.8M319.5 923.4h.8M314.4 931.1h.8M312.4 915.6h.8M312.8 919.2h.8M325.2 918.5h.8M303.3 923.7h.8M312 926.2h.8M316 933.5h.8M307.5 921.1h.8M339.4 930.9h.8M328.5 924.9h.8M316.3 919.1h.8M325.4 918.7h.8M330.4 919h.8M303.8 915.4h.8M330 926h.8M317.8 907h.8M316.1 909.1h.8M326.5 926.8h.8M314.4 920.8h.8M318.5 917.3h.8M333.4 937.6h.8M320.9 918.9h.8M311.8 924.8h.8M308 916.5h.8M325.6 918.2h.8M315.6 912.7h.8M304.2 930.2h.8M321.1 935.1h.8M341.8 928.8h.8M319.6 919.6h.8M332.3 935.8h.8M322.1 915h.8M312.2 923.2h.8M318.4 929.3h.8M313.1 914h.8M317.2 930.6h.8M317.7 930.1h.8M355.5 918.6h.8M335.2 921.6h.8M323.2 925.1h.8M327.3 928h.8M349.2 920.1h.8M300.6 933.5h.8M316.1 918.1h.8M325.7 917.3h.8M324.3 920.4h.8M310.3 920.5h.8M286.2 913.3h.8M331.1 930.6h.8M297.7 911.4h.8M311 928.5h.8M321.5 915.4h.8M309.6 913.6h.8M338.3 922.3h.8M310.3 923.9h.8M313 923.8h.8M335.5 918.5h.8M318.4 921h.8M314.2 924.7h.8M322.5 926.5h.8M320.5 924.2h.8M306.9 919.8h.8M312.1 921h.8M309.1 928.4h.8M330.2 925.7h.8M326.6 912.1h.8M329.6 929.1h.8M323.7 923.2h.8M332.7 921.6h.8M322.2 926.7h.8M336.5 932.5h.8M329 930.3h.8M322.5 912.9h.8M308.5 917.4h.8M325.6 910.1h.8M334.5 926.8h.8M326.7 928h.8M323.5 929.3h.8M316.1 923.3h.8M292.5 926.4h.8M302 917.5h.8M319.6 909.8h.8M346.4 914.8h.8M316.3 906.7h.8M323.8 925.8h.8M314 910.9h.8M331.4 910.6h.8M314.3 925.2h.8M314.7 917.8h.8M308.2 921.2h.8M303.6 927.7h.8M306.7 912.8h.8M341.6 927.2h.8M310.5 904.4h.8M315.6 919.3h.8M336.8 922.9h.8M324.7 914.6h.8M321.1 929.2h.8M328.9 909.8h.8M323.4 924.9h.8M323.1 933.6h.8M317.8 937.5h.8M312.2 923.2h.8M326.2 922.3h.8M341.7 919.9h.8M337.9 912.5h.8M315.6 910.9h.8M291.8 908.3h.8M328.9 936.3h.8M328 911.5h.8M326.8 917.8h.8M304.9 906.8h.8M327 911.5h.8M321.2 920.2h.8M322.1 916.8h.8M318.7 915.8h.8M300.6 938.9h.8M334.5 925.8h.8M316.5 940.8h.8M317.7 918.2h.8M317.4 913.2h.8M325.6 936.8h.8M333.6 926h.8M325 922.4h.8M317.8 914.7h.8M323.9 908.7h.8M331 916.4h.8M319.9 924.1h.8M316.7 942.1h.8M313.9 926.8h.8M314.7 920.6h.8M318.6 915.6h.8M334.5 917.8h.8M351.3 925.4h.8M330.5 914.2h.8M316 919.6h.8M322.8 934.6h.8M331.6 931.5h.8M297.8 925.1h.8M345.5 910h.8M322 928h.8M328 918.3h.8M311.4 916.6h.8M316.2 914.6h.8M300.9 926.9h.8M321 917.1h.8M321.8 925.8h.8M319.9 909.2h.8M313.4 906.9h.8M329.1 921.2h.8M320.2 915.7h.8M300.8 925.2h.8M321.1 932.5h.8M314.8 922.4h.8M329.5 912.1h.8M322 906.1h.8M305.6 915.5h.8M322.6 925.9h.8M322.9 922.9h.8M314.9 937.6h.8M321.9 916.5h.8M311.1 918.2h.8M325.7 923.2h.8M318.3 921.9h.8M339.5 923.3h.8M333.8 909.2h.8M320.3 921.7h.8M325.2 915h.8M307.3 919.6h.8M321.4 924.1h.8M311.7 904.3h.8M326.2 922.3h.8M303.7 921.6h.8M317.4 924.9h.8M327.6 928.5h.8M323.7 911.4h.8M302.1 935.9h.8M313.6 929.6h.8M295.9 925.6h.8M306.8 914.2h.8M292.6 919.4h.8M314 924.3h.8M321.9 926.3h.8M297.6 916.2h.8M303.9 923.7h.8M321.8 937.4h.8M316.7 905.1h.8M307.7 921.9h.8M316.9 934.6h.8M308 930h.8M316 924.7h.8M321.9 907.6h.8M324.4 929.3h.8M328.4 909h.8M317.6 929h.8M336.5 907.4h.8M316.7 926.9h.8M325.7 925.9h.8M342.5 933.1h.8M305.4 916.8h.8M318.6 934.5h.8M327.6 928.4h.8M314.6 931h.8M316 915.5h.8M327.7 928h.8M307.3 926h.8M308.6 913.7h.8M326.7 937.5h.8M317.1 928.6h.8M330.1 920h.8M320 917.1h.8M310.1 917.3h.8M331.2 933.8h.8M268.3 916.8h.8M288.4 913.8h.8M281.2 920.8h.8M272.6 921.2h.8M284.8 920.7h.8M261.6 927.6h.8M285.9 919.7h.8M285.9 914.9h.8M268.5 919.7h.8M283.2 926.4h.8M279.2 919.9h.8M283 926.2h.8M281.9 925.2h.8M281.6 925.6h.8M277.9 921h.8M272.7 925.8h.8M284 924.2h.8M283.1 916h.8M264.5 925.6h.8M283.2 906.4h.8M283.1 914.2h.8M273.5 928.2h.8M262.1 918.9h.8M269.2 929.4h.8M276.5 922.5h.8M279.9 929.2h.8M276 913.8h.8M270.3 927.6h.8M285.9 916.4h.8M270.7 929.3h.8M271 928.1h.8M285.4 909.6h.8M277.1 927.7h.8M285.5 930.7h.8M283.9 922.6h.8M284.5 917.8h.8M283.6 923.3h.8M270.6 926.1h.8M283.1 919.8h.8M264.4 927.1h.8M285 917.6h.8M262.4 920.8h.8M266.9 917.3h.8M277.2 912.6h.8M260.4 932.3h.8M293 916.2h.8M273.1 929.5h.8M276.1 918.8h.8M295.3 914.3h.8M280.4 925.7h.8M292.4 921.9h.8M262 929.8h.8M278 927.4h.8M279.8 927.7h.8M270.7 918h.8M269.9 923.2h.8M277.5 921h.8M284.9 924.5h.8M289.3 912.7h.8M282.7 932.1h.8M268.2 928.7h.8M267.6 920.7h.8M283.9 909.2h.8M275 933.9h.8M275.4 930.6h.8M284.9 923.9h.8M276.7 939.5h.8M270.6 920.4h.8M279.5 919.5h.8M272.5 915.9h.8M284.6 917.9h.8M305.5 921.2h.8M286.7 920.8h.8M283.6 914.8h.8M281.4 919.9h.8M269.2 926.3h.8M275.2 919.5h.8M281.6 925.7h.8M273.4 931.7h.8M277.5 922.9h.8M291.1 911.3h.8M274.7 911.3h.8M272.2 918.8h.8M280.4 908.2h.8M284 925.4h.8M292.6 927.5h.8M276 916.6h.8M273.9 918.6h.8M285.5 919.4h.8M284.7 920.1h.8M279.4 914.2h.8M267.2 924.8h.8M269.2 927.4h.8M274.1 925.9h.8M271.7 929.5h.8M280.6 924.3h.8M258.5 930h.8M270 926.3h.8M285.5 918.2h.8M275.4 924.9h.8M267 928.7h.8M272.6 931.7h.8M273.9 921.9h.8M285.6 918.8h.8M267.1 922.8h.8M272.4 918.6h.8M268.6 921.7h.8M288.5 915.2h.8M276.3 906h.8M285.4 913.6h.8M271.2 925.9h.8M271.7 918.9h.8M265 923h.8M282.6 926.3h.8M290.4 922.6h.8M283.9 914.1h.8M278.9 927.9h.8M267.8 920.6h.8M284.5 911.9h.8M269.2 919.8h.8M281.7 913.9h.8M272 919.9h.8M285.5 921.3h.8M286.1 931.4h.8M284.3 929.5h.8M275.4 925.8h.8M269.7 923.5h.8M286.2 916h.8M284.6 921.6h.8M270.3 920h.8M277.5 913.5h.8M280.3 930.6h.8M281.8 919.6h.8M294.9 913.8h.8M261.8 928h.8M277.2 920.8h.8M268.2 916.9h.8M268.5 934.6h.8M274.3 916.5h.8M285.7 919.9h.8M271.5 924.2h.8M276.4 930.1h.8M283.9 923.4h.8M290.1 922.9h.8M285.9 929.4h.8M289.4 907.2h.8M277.8 929.7h.8M296.6 916.9h.8M275 921.3h.8M271.4 936h.8M293.3 918.1h.8M256.4 917.6h.8M267.3 921.1h.8M284.1 922.3h.8M281.7 914.4h.8M269 921.3h.8M278.8 924.2h.8M278.8 921.6h.8M269 907.4h.8M267.5 916.8h.8M284.5 928.1h.8M269.3 933.8h.8M279.7 929.3h.8M274.4 907.1h.8M267.6 928.5h.8M259.8 924.5h.8M256.9 927.2h.8M268.9 927.1h.8M279.8 931.9h.8M278.8 919.2h.8M267.7 923.5h.8M268.4 925.3h.8M273.5 922.7h.8M266.6 922.5h.8M282.8 925.2h.8M288.1 910.3h.8M267.8 922.3h.8M273.6 917.3h.8M272.1 919.1h.8M263.9 926h.8M266.2 923.9h.8M269.7 920.7h.8M270.7 927.3h.8M277.2 929.4h.8M278.6 918.1h.8M268.6 920.7h.8M266.6 921.2h.8M275.7 922.9h.8M272.9 929.3h.8M260.9 921.4h.8M267.5 920.1h.8M272.3 932.6h.8M290.4 922.6h.8M268.6 926.9h.8M270.2 918.8h.8M279.9 919.9h.8M286.5 919.1h.8M285.1 916.9h.8M276.8 927h.8M294.5 923.4h.8M273.3 918.3h.8M295.8 920.7h.8M278.1 919.4h.8M280.2 914.4h.8M283.8 917.1h.8M278.9 917.8h.8M276.6 913.3h.8M283.6 914.7h.8M274.2 926.7h.8M277.8 923.8h.8M267.7 926.9h.8M285.6 924.1h.8M283.4 927.1h.8M288 925.6h.8M280.5 922.7h.8M282.1 922.3h.8M269.4 932h.8M279.6 921.3h.8M279.8 923.3h.8M268.7 910.6h.8M269.5 931.3h.8M272 925.4h.8M280.7 929.7h.8M283.6 920.9h.8M275.5 921h.8M285.2 915.1h.8M284.9 927.7h.8M286.5 919.8h.8M290.4 920.1h.8M277.9 917.2h.8M284 923h.8M274.1 920.5h.8M285.6 920.1h.8M276.7 933.9h.8M283.6 912.6h.8M265.7 927.5h.8M274.7 928.6h.8M268.4 924.8h.8M264.8 932.5h.8M287.8 914.8h.8M278.5 916.9h.8M264.1 929.1h.8M269.2 913.4h.8M285.1 919.2h.8M273.7 933.7h.8M282 914.7h.8M274.1 914.1h.8M268.3 925.9h.8M287.3 912.7h.8M254 927.5h.8M287.1 923.7h.8M285.3 922.3h.8M278.2 918.3h.8M289 904.6h.8M282.4 925.3h.8M281.8 921.9h.8M287.5 911.6h.8M283.5 915.8h.8M269.3 929.5h.8M278.9 920.4h.8M274.4 921.6h.8M269.5 918.3h.8M281.2 925.4h.8M273.1 925.6h.8M264.9 913.8h.8M268.6 924.9h.8M272.2 924.1h.8M271.7 915.9h.8M287.1 922.1h.8M291.3 914.5h.8M290.8 918h.8M282.3 925.1h.8M266.5 914.5h.8M278.2 918.6h.8M255.8 926.8h.8M277.9 920.4h.8M269.5 926.1h.8M261.3 922.6h.8M271 923.7h.8M274 922.2h.8M267.2 929.5h.8M267.7 924.5h.8M264.5 927.5h.8M264.9 927.1h.8M279.6 928.4h.8M269.4 929.9h.8M249.1 929.2h.8M264.5 928.7h.8M260.3 927.2h.8M261.5 929.8h.8M259.8 932h.8M274.5 916.5h.8M270.1 928.7h.8M261.7 929.4h.8M287.1 914.4h.8M264.9 929.7h.8M268.5 926.4h.8M269.7 923.4h.8M252.6 935.9h.8M269 931.9h.8M267.6 923.8h.8M254.9 932.6h.8M265.8 925.7h.8M268.4 926.2h.8M259.5 931.2h.8M261 933.8h.8M270.5 926.8h.8M258.9 935.9h.8M271.7 923.8h.8M271.8 926.9h.8M279.3 924.8h.8M267.8 930h.8M273.6 923.1h.8M272 918.8h.8M262 928h.8M267.4 925.2h.8M262.6 926.5h.8M262.2 927.6h.8M265.9 927.5h.8M257.3 942.1h.8M252 932.1h.8M268.6 917.8h.8M272.1 929h.8M267.9 930.3h.8M267.4 922.8h.8M272.1 919.9h.8M268.8 923.8h.8M266.7 928.1h.8M271.7 915.6h.8M272.8 921h.8M267.6 928.8h.8M274.8 916.2h.8M257.7 934.3h.8M269.2 919.4h.8M253.4 926.6h.8M276.3 923.1h.8M266 928h.8M271.8 926h.8M265.4 926.4h.8M264.1 934.2h.8M260.8 917.9h.8M268.4 923.4h.8M265.5 930.7h.8M257.8 927.5h.8M261.1 926.5h.8M271.4 922.2h.8M256 933.3h.8M256.6 935.9h.8M271.4 927.4h.8M273.7 920.6h.8M269.4 921h.8M272.8 917.7h.8M262.8 934.5h.8M267.7 927.9h.8M265.9 928.3h.8M271.1 922.9h.8M272.1 926.1h.8M264.9 929.8h.8M267.6 924.2h.8M262.7 930.2h.8M265 927.2h.8M256.5 936.9h.8M271.5 923.3h.8M279.4 919.7h.8M264.1 926.8h.8M269.7 923.1h.8M258.5 935.3h.8M265.4 927.6h.8M271.6 923.8h.8M277.8 914.2h.8M267.7 927.8h.8M274.6 914h.8M265.8 920.6h.8M265.4 920.2h.8M263.2 935.4h.8M254 943.2h.8M266.6 922.7h.8M262.7 925.3h.8M266.9 926.9h.8M270 927.8h.8M259.1 924.7h.8M258.1 929.7h.8M265.4 923.9h.8M281.2 920.9h.8M277.2 918.3h.8M264 938.4h.8M267.8 927.4h.8M263.5 926.2h.8M268.2 920h.8M260.8 935.1h.8M263.6 926.6h.8M273.5 927.4h.8M265.7 927.8h.8M272.8 925.9h.8M275 922.8h.8M264.9 931.3h.8M264 922.5h.8M276 921.5h.8M275.4 919.3h.8M270.5 927.9h.8M269.2 927.7h.8M270 929.7h.8M267.8 919.3h.8M278.2 919h.8M263.3 927.8h.8M279.3 916.4h.8M271.8 925.3h.8M267.9 933.9h.8M278.1 913.8h.8M270.7 916.8h.8M265.8 928.5h.8M269.1 927.7h.8M270.7 925.4h.8M268.6 934.1h.8M267.9 925.7h.8M263.8 924.5h.8M280.5 916.7h.8M267.4 924.8h.8M274.3 919.1h.8M277.2 919.3h.8M265.4 925.8h.8M275.7 920.6h.8M276.6 923.2h.8M263.4 924.7h.8M265.8 927h.8M267.8 930h.8M272.3 923.5h.8M266.2 927.3h.8M264.8 924.8h.8M275.6 925.8h.8M268.6 924.4h.8M262.6 933.9h.8M268.4 920.4h.8M266.7 917h.8M261 926.4h.8M267.9 929.7h.8M263 936.5h.8M275.6 918.6h.8M265.1 924.8h.8M274.1 920.5h.8M262.9 926.8h.8M266.1 925.3h.8M256.5 938.1h.8M274.1 921.3h.8M269.1 918.7h.8M265.5 932.8h.8M267.3 927.2h.8M268.7 931.1h.8M261.8 925.7h.8M267.5 930.4h.8M278.2 917.6h.8M265.4 931.1h.8M271.5 924.9h.8M262.1 930.8h.8M279.6 921.4h.8M267.8 927.9h.8M268.1 930.7h.8M261.8 938.4h.8M261.6 928.4h.8M270.8 922.3h.8M266.3 927.9h.8M274.8 928.1h.8M267.4 923.2h.8M263.5 928.8h.8M256.7 932.1h.8M260.5 932.2h.8M263.6 925.3h.8M271.3 925.9h.8M271.5 923.4h.8M260.2 930.6h.8M279.8 914.9h.8M278.8 920h.8M276.8 917.5h.8M259.1 929.4h.8M266.9 920.4h.8M268 922.5h.8M266.9 921.4h.8M256.1 930.9h.8M264.7 922.3h.8M270.7 925.9h.8M267 933h.8M271.4 925.2h.8M269.1 930.8h.8M259.5 923.3h.8M273.9 917.4h.8M271.2 928.1h.8M269.7 922.9h.8M261.7 937.9h.8M275.3 917.2h.8M265.3 929h.8M276.6 925h.8M267.6 933.1h.8M263.9 926.9h.8M271.8 927.6h.8M255.5 937.7h.8M263.3 925.9h.8M261.3 934.4h.8M253.4 932.9h.8M263.5 928.5h.8M277 916.5h.8M270.6 928.1h.8M273.8 929.2h.8M262.9 929.5h.8M266.9 924.8h.8M262 933.8h.8M271.1 925.9h.8M271.2 925.9h.8M275.3 923.4h.8M266.7 928h.8M268.4 929.9h.8M270.2 923.4h.8M273.9 924.6h.8M267.4 930.4h.8M252.5 934.7h.8M266.4 928.3h.8M266 928.6h.8M269.2 928.3h.8M266.1 931h.8M260.1 927.1h.8M271.1 924.1h.8M268.7 917.4h.8M267.1 924.3h.8M266 926.4h.8M264.3 926.7h.8M270 917.2h.8M259.2 935.7h.8M277.6 914.4h.8M260.3 928.2h.8M270.3 925.2h.8M262.5 927.1h.8M276.6 929h.8M277.3 917.6h.8M275.8 914h.8M270.5 923h.8M269.7 926.2h.8M277.1 921.8h.8M264.7 934.9h.8M277.5 919.7h.8M271.8 921.8h.8M261.8 936h.8M267.8 934.5h.8M271.7 922.8h.8M261.4 930.6h.8M276.2 917.6h.8M278 916.8h.8M268.2 922.1h.8M265.2 926.9h.8M264.1 938h.8M271 923.2h.8M261.7 932h.8M259.9 929.5h.8M259.2 936.5h.8M258.6 922.4h.8M259.6 933.2h.8M266.6 924.3h.8M260.8 925.7h.8M267.4 923.9h.8M271.4 918.7h.8M273.6 919.2h.8M268.3 924.8h.8M273.8 925.9h.8M262.8 927h.8M280.5 919h.8M267 930h.8M262.6 930.3h.8M262.5 930.2h.8M276.5 923.3h.8M271.9 933.5h.8M264.8 931.1h.8M273.9 920.6h.8M276.3 923.7h.8M272.5 921.3h.8M261.9 931.4h.8M258.2 930.7h.8M265.9 920.3h.8M274.8 922.3h.8M271.6 919.3h.8M275 918.6h.8M259.8 929.4h.8M263.1 931h.8M267.9 929.8h.8M272.1 926.5h.8M275.4 922.9h.8M268.2 933.3h.8M260.4 934.2h.8M276.6 919h.8M268.8 922.2h.8M274.1 918h.8M260.9 936.5h.8M266.8 921h.8M273.3 919.4h.8M267.7 921.9h.8M266.5 919.8h.8M261.8 925.7h.8M274.4 925.6h.8M256.6 934h.8M276.1 923.5h.8M260.9 931.8h.8M266.5 923h.8M266.6 933.7h.8M265.5 923.8h.8M263.5 925.8h.8M273.2 927.7h.8M261.6 936.1h.8M265.5 933.3h.8M260.6 929.9h.8M270.2 920.2h.8M270.7 929.1h.8M255.3 929.2h.8M265.4 922.6h.8M273 926h.8M262 926.5h.8M273.1 927.4h.8M261.6 931.4h.8M259.9 933.4h.8M268.1 919.6h.8M273 920.8h.8M259.5 928.4h.8M260.6 930.3h.8M274.9 924.5h.8M271 930.1h.8M262.1 933.3h.8M268.8 930.1h.8M276.1 922.1h.8M259.5 932h.8M273 919.6h.8M270.1 920.4h.8M280.3 918h.8M259.2 935.5h.8M273.1 920h.8M277.2 927.1h.8M271.8 928.9h.8M271.3 928.4h.8M262.7 925.2h.8M269.7 930h.8M265.4 922.8h.8M274.2 924.6h.8M275.9 930.6h.8M276.9 920.9h.8M261.7 926.3h.8M273.8 927.7h.8M272.3 928.1h.8M258.3 932.8h.8M272.4 916.5h.8M265.1 923h.8M260.4 931.6h.8M276 923.3h.8M266.2 934.7h.8M265.2 924.7h.8M266.4 920.7h.8M264.1 934.3h.8M278 917.4h.8M262.9 923.6h.8M261.4 928.5h.8M265 923.8h.8M283.1 921.9h.8M266.9 931.2h.8M258 938.5h.8M262 927.8h.8M265.8 932.8h.8M269.1 920.6h.8M264.4 934.4h.8M261.6 934h.8M265 922.8h.8M258.9 931.4h.8M260.2 937.4h.8M270.1 919.1h.8M268.4 920.9h.8M260.6 927.2h.8M266.9 931.5h.8M273 926.9h.8M275.7 919.3h.8M266.4 932.7h.8M268.4 919.2h.8M273.3 918.4h.8M266.8 933.6h.8M271.2 919.6h.8M277.6 919.2h.8M273 926.8h.8M263.9 924.5h.8M259.5 933.1h.8M258.6 935.8h.8M262 924.9h.8M272.9 930.5h.8M275.3 922.1h.8M267.6 933.5h.8M266.6 930.9h.8M266.7 931.3h.8M269.1 929.7h.8M272.1 918.9h.8M270.9 929h.8M266.6 921.5h.8M263.3 935.3h.8M259 934h.8M266.4 919.4h.8M277.8 917.9h.8M262.9 933.7h.8M265.2 923.8h.8M271.2 930.5h.8M262.3 934.5h.8M276.8 922.6h.8M258.4 934.7h.8M263 934.3h.8M276.3 922h.8M271.5 919.7h.8M258.7 933.8h.8M277.1 917.5h.8M262.3 926.6h.8M270.4 928.3h.8M271.6 930h.8M275.6 926.3h.8M275.7 920.4h.8M258.9 926.9h.8M275.4 924.9h.8M259 931.1h.8M274.9 919.3h.8M260.5 928h.8M270.1 930.1h.8M264.4 922.9h.8M271.2 930.2h.8M273.6 924.2h.8M271.8 929.1h.8M266.8 934.2h.8M274.1 920.6h.8M272 919.8h.8M266.8 923.3h.8M271.4 918.7h.8M268.4 921.4h.8M270.6 928.4h.8M260.5 928.8h.8M263.1 926.6h.8M269.5 932.1h.8M264.7 923.9h.8M264.8 923.7h.8M271.3 920.2h.8M269.6 918.9h.8M263.5 935.2h.8M274.2 925.1h.8M260 931.2h.8M270.2 917.9h.8M272.7 918.4h.8M279.4 923.9h.8M256.3 938.5h.8M260.2 933.8h.8M274 924.9h.8M279.2 923.9h.8M263.9 922.1h.8M274.3 920h.8M274.7 917h.8M265.1 920.9h.8M258.9 935.5h.8M271.4 918.5h.8M261.4 927.3h.8M265.9 933.3h.8M260.5 935.8h.8M276.3 916.8h.8M273.4 926.3h.8M258.5 934h.8M264.6 923.6h.8M277 919.7h.8M251.1 937.2h.8M265.6 923.4h.8M276 919.3h.8M264.2 935.4h.8M264.1 924.2h.8M270.2 931.6h.8M270.4 918.1h.8M272.4 920h.8M261.7 935.5h.8M273 919.2h.8M261 926.8h.8M270.4 930h.8M280.6 920.1h.8M264.8 922.3h.8M275.9 925.2h.8M262.5 927.7h.8M269.2 919.2h.8M263.5 924.1h.8M275.7 916.4h.8M267.8 932h.8M272.9 927.4h.8M260.6 930.4h.8M272.6 928.8h.8M260.2 928.7h.8M272.3 918.5h.8M264.4 922.7h.8M271.6 927.1h.8M274.2 919.9h.8M267.8 921.5h.8M263.3 935.3h.8M270.4 929.9h.8M272.7 915.7h.8M271 915.4h.8M272.1 929.5h.8M275.3 918.5h.8M260.3 929.3h.8M260.3 929.8h.8M269.2 920.8h.8M276.7 925.2h.8M264.1 937.6h.8M262.4 927.8h.8M266.5 922h.8M276.2 917.2h.8M265.3 934.9h.8M272.5 916.2h.8M261.5 934h.8M266.6 933.4h.8M263.8 934.1h.8M272.5 919.5h.8M265.1 930.6h.8M273.5 924.7h.8M276.9 924.9h.8M272.2 915.7h.8M265.2 932.9h.8M275.1 921.9h.8M274.2 924.7h.8M269 932.9h.8M267.1 931.4h.8M261.4 933.5h.8M260 934.9h.8M278.6 917.6h.8M257 935.8h.8M274.9 926.5h.8M274.5 918.5h.8M275.9 921.8h.8M265.3 924h.8M261.8 936.3h.8M266.5 933.3h.8M264.4 924.8h.8M274.6 918.5h.8M262.9 923.9h.8M274.1 918.2h.8M253.3 938h.8M276.5 925.1h.8M271.1 918.4h.8M258.2 935.9h.8M262.6 925.5h.8M259.5 933.7h.8M268.2 932.1h.8M261.4 927.4h.8M269.8 930.8h.8M274.6 922.4h.8M276 917.4h.8M274 916.9h.8M260.7 925.1h.8M276 917.4h.8M253.9 926.1h.8M272 928.2h.8M261.5 927.1h.8M275.1 920.7h.8M276.2 920.7h.8M271 919.2h.8M274.1 925.3h.8M261.1 927.4h.8M263.8 922.6h.8M260 926.8h.8M273.7 930.4h.8M269.2 931.1h.8M275.6 920.6h.8M270.4 921.1h.8M258.7 934.4h.8M263.8 926.6h.8M268.4 915.8h.8M273 928.8h.8M264.8 921.2h.8M276.4 921.1h.8M267 931.3h.8M261.5 931.4h.8M266.7 920.3h.8M260.6 928.5h.8M268.8 918.7h.8M263.1 933.7h.8M274 926.6h.8M259.4 933.6h.8M268.9 932.7h.8M264.5 933h.8M261.2 935.9h.8M278.7 916.2h.8M270.1 931h.8M275.1 922.7h.8M274.2 926.1h.8M271.9 930.4h.8M267.4 921.4h.8M269.8 930.2h.8M262 932.3h.8M262 926.7h.8M269.7 920.1h.8M272.7 919.1h.8M265.6 932.5h.8M271.1 918.5h.8M278.9 920.6h.8" stroke="#2b3cf0" stroke-width="0.8" fill="none"/><path d="M254.9 891.7h.8M270.9 900.5h.8M269.9 894.6h.8M294.7 898.4h.8M286.9 891.8h.8M272.2 880.3h.8M289.3 894.8h.8M277.3 894.7h.8M290.5 892.5h.8M268.5 895.3h.8M263.4 880.3h.8M279.6 881.6h.8M279.3 895.9h.8M286.6 883.2h.8M268.6 900h.8M279 894.1h.8M282.6 897.1h.8M270.1 888.3h.8M269.5 889.2h.8M255.5 895.3h.8M268.8 888.5h.8M263.7 892.1h.8M278.1 894.1h.8M279.4 894.2h.8M263.7 899.1h.8M249.9 873.9h.8M267.1 888.5h.8M269.3 895.4h.8M275.7 879.4h.8M259 887.3h.8M267.5 878.2h.8M264.5 913h.8M266.7 899.9h.8M276.8 903.3h.8M273.5 895.5h.8M260.1 902.4h.8M286.6 873.1h.8M284.1 891h.8M266.1 897.6h.8M259.5 897.8h.8M277.3 890.3h.8M280.6 907.9h.8M282.4 893.4h.8M266.9 892.8h.8M266.7 902.1h.8M275.4 901.5h.8M265.4 889.9h.8M282.6 909.2h.8M280.6 910h.8M267.5 897.9h.8M265.8 904.1h.8M275.4 888.8h.8M283.1 888.2h.8M290.9 899.3h.8M273.6 906.8h.8M287.6 882.2h.8M284.3 893h.8M271 892.3h.8M297.7 904.3h.8M284.7 899.7h.8M262.7 905.4h.8M265.2 882.3h.8M265.2 891.4h.8M279.8 902.7h.8M317.8 875h.8M329.2 879.8h.8M342.1 885.1h.8M311.2 895.5h.8M302.3 894.1h.8M320.4 886.9h.8M327.5 878h.8M320.3 899.6h.8M302.3 883.5h.8M304.1 900.9h.8M318.4 879h.8M316.1 882.9h.8M315.8 896h.8M320.5 903h.8M319.7 887.6h.8M311.1 882.2h.8M312.1 890.9h.8M342.7 892.1h.8M330.1 885.4h.8M300.1 902.1h.8M329.5 871h.8M307.7 903h.8M326 871.4h.8M316.3 879.4h.8M319.3 896.6h.8M333.3 908.8h.8M328.1 902h.8M332.9 867.5h.8M327.6 899.1h.8M324.9 881.2h.8M315.3 884.6h.8M314.7 892.7h.8M311.3 885.7h.8M329.2 884.5h.8M328.7 897.8h.8M306.6 880.9h.8M331.7 879.5h.8M315.3 870h.8M332 891.2h.8M321.1 881.7h.8M329.1 902.1h.8M313.1 899h.8M329.6 868.9h.8M309.6 916.5h.8M340.9 903.2h.8M311.2 885.6h.8M327.3 874.2h.8M323.6 897.9h.8M325.3 903.7h.8M304.4 892.8h.8M319.5 890.7h.8M349.3 880.8h.8M293.1 905.3h.8M305.7 887.4h.8M327.9 894.8h.8M314.9 887.3h.8M320.4 877.3h.8M311.3 881.3h.8M318.2 908.7h.8M323.3 888.2h.8M329.9 888.2h.8M302.3 873.2h.8M327.3 895.1h.8M316.4 892.4h.8M311.1 880.7h.8M306.8 891.3h.8M289 890.9h.8M325.7 876.4h.8M317.6 896.6h.8M312 893.4h.8M307 897.8h.8M317.3 887.7h.8M332.8 894.3h.8M335.9 881.6h.8M331.1 901.9h.8M327.9 894.5h.8M317.4 901h.8M319.7 892.7h.8M329.2 893.3h.8M316.1 902.1h.8M324.4 885.2h.8M296.7 900.6h.8M322.1 922.6h.8M307.1 920.3h.8M317.7 920.9h.8M310.6 919.3h.8M309 923.1h.8M304.6 910.3h.8M336.1 903.3h.8M285.5 919.9h.8M336.7 925.5h.8M310.7 930.5h.8M316.8 921.2h.8M309.2 918.5h.8M303.6 912.2h.8M305.7 914.7h.8M314.7 938.5h.8M329.4 931.1h.8M322.9 911.1h.8M318.3 933h.8M329.3 910.9h.8M323 919.9h.8M329.6 915.4h.8M297.6 922h.8M292.4 917.3h.8M301.8 932h.8M329.5 909.1h.8M324.6 928h.8M314.6 919h.8M326.5 914.8h.8M306.9 910.3h.8M304.7 913.6h.8M333.2 912.5h.8M311.2 923.7h.8M319.8 919.8h.8M307.7 924.8h.8M296.4 928.6h.8M298.8 920.1h.8M318.3 912.4h.8M323.6 915.7h.8M305.6 927.5h.8M326.7 919.9h.8M331.8 912.8h.8M310.5 919.3h.8M285 918.5h.8M315 926.5h.8M329.1 928.4h.8M314.8 934.1h.8M309.4 931.3h.8M346 924.3h.8M300.1 907.9h.8M312.1 914.7h.8M326.2 923.1h.8M327.6 920.4h.8M307.7 912.5h.8M332.4 932.4h.8M323.1 907.7h.8M316.9 922.8h.8M335.7 912.5h.8M315.5 916.2h.8M325.8 921.4h.8M332.3 925.4h.8M320.9 914.1h.8M319.3 930.2h.8M310.4 917.3h.8M331.7 928h.8M325.9 910.3h.8M310.1 925.1h.8M297 915.3h.8M307.4 931.1h.8M308.5 920h.8M298.7 928h.8M325.9 894.6h.8M345.1 933.2h.8M307.1 924.8h.8M331.7 920.8h.8M297.9 927.8h.8M310.7 923.4h.8M313.3 910.6h.8M303.6 914.9h.8M319.9 923.3h.8M319.2 919.7h.8M312.2 909.4h.8M342.8 927.1h.8M320.6 927h.8M313 924.5h.8M331.8 929.8h.8M305.7 912h.8M304.8 919.2h.8M318.9 927.7h.8M304.1 927.9h.8M297.9 929.6h.8M278.5 922.9h.8M273.1 925.2h.8M283.1 918.2h.8M281.5 923.5h.8M277.9 916.6h.8M277.7 918.4h.8M275.4 925.7h.8M278.4 918.6h.8M276 919.4h.8M279.7 922.2h.8M280.1 923.8h.8M270.4 925.6h.8M275.3 924.8h.8M270.9 922.1h.8M281.8 923.1h.8M278.6 923.6h.8M273.6 927.9h.8M276.1 918.1h.8M272 925.5h.8M279.5 925.5h.8M270.9 924.4h.8M282.6 921.3h.8M279.4 920.1h.8M273.3 923.3h.8M276.4 921.2h.8M268.8 924.8h.8M278.9 925.4h.8M270.6 920.9h.8M283 919.1h.8M273.5 924.7h.8M272.9 927.6h.8M278.9 924.6h.8M279 924.8h.8M279.6 916.6h.8M276.1 924.5h.8M282.7 917.3h.8M279.1 916.7h.8M272.3 921.3h.8M277.5 921.2h.8M274.2 925.6h.8M281.7 920.8h.8M275.4 917.8h.8M269.6 924.3h.8M270.1 926.1h.8M274.8 924.2h.8M283.4 921.4h.8M268.8 925.6h.8M267.8 925h.8M265.5 922.5h.8M270.7 928.4h.8M262.8 929h.8M261.3 929.9h.8M254.7 938.3h.8M274.8 922h.8M266.4 922.2h.8M268.8 921.3h.8M271.5 925.5h.8M273.9 926.6h.8M261.9 929.8h.8M262.2 932.5h.8M261.3 932.7h.8M276.2 922.9h.8M270.4 920.4h.8M261.5 934.9h.8M270.6 926.9h.8M259.1 932h.8M259.2 932.2h.8M267.3 926.6h.8M259.2 932.5h.8M268.3 934.2h.8M263.9 927.7h.8M276.8 918.8h.8M264.5 927.5h.8M270.3 930.1h.8M263.9 926.1h.8M267.4 929.2h.8M262.5 934.2h.8M271.7 922.6h.8M267.5 928h.8M270.6 929.2h.8M263.8 927.7h.8M267.6 930.4h.8M270.6 919.7h.8M273.2 920.1h.8M262.4 933.5h.8M276.5 923h.8M266.1 935.1h.8M264.8 926.3h.8M262.7 929h.8M271.8 919.7h.8M263.8 929.6h.8M265.2 932.1h.8M273.3 927.5h.8M272 924.2h.8M269.2 923.1h.8M271.9 927.7h.8M272.2 925.6h.8M274 922.5h.8M264.3 926.3h.8M273.8 928.6h.8M269.2 921.7h.8M269.4 928.2h.8M271.9 921.6h.8M272.1 919.7h.8M262.4 929.6h.8M274.7 919.1h.8M272.4 921h.8M272.1 921.6h.8M276.6 919.8h.8M268.9 927.3h.8M270.2 919.6h.8M272.9 924.9h.8M269.3 933.7h.8M282.5 913.2h.8M264.6 934h.8M266.1 923.9h.8M260.8 935.7h.8M268 928.1h.8M272.3 925.1h.8M278 918.8h.8M261.8 924.2h.8M275.9 920.5h.8M274.8 920.5h.8M264 928.1h.8M277.2 914.2h.8M270.7 930.2h.8M282.9 914.2h.8M262.7 937.2h.8M264.7 934.5h.8M273.6 925h.8M268.4 931.2h.8M264 930h.8M270.2 921.8h.8M274.6 921.9h.8M264.6 929.7h.8M271.3 932.4h.8M279 918.6h.8M280.6 918.9h.8M272 929.5h.8M263.1 928.8h.8M260.4 923.6h.8M271.9 926.9h.8M268.1 930.1h.8M262.5 926.5h.8M259.8 933.7h.8M262.6 929h.8M275.1 920.4h.8M269 929.4h.8M263.4 926.5h.8M272.7 920.1h.8M262 927.8h.8M271 925.6h.8M267.2 923.9h.8M265.1 925.7h.8M263.1 932.2h.8M261.4 931.6h.8M262.5 925.8h.8M262.3 932.7h.8M260.8 932.9h.8M275.9 920.2h.8M267.8 929.9h.8M272 924.5h.8M263.6 933.5h.8M265.5 932.7h.8M274 924h.8M272.1 924.2h.8M264.2 931.5h.8M261 933.5h.8M270.8 925.3h.8M272 921.8h.8M273.3 922.6h.8M266.3 931.2h.8M260.7 930.9h.8M272 921.2h.8M274.7 920.7h.8M273.7 923.3h.8M272.9 923h.8M259.1 931.3h.8M260.6 928.6h.8M275.8 922.9h.8M272.2 925.1h.8M273.5 922.2h.8M274 921.4h.8M265.5 931.6h.8M266.3 922.8h.8M273.7 920.7h.8M267.2 922.8h.8M271.8 927.2h.8M267.1 922.3h.8M267.1 931.8h.8M262.2 931.2h.8M262.5 933.1h.8M274.2 918.4h.8M271.9 927.1h.8M273.8 922.6h.8M266.5 923.3h.8M263.2 928.9h.8M267 930.5h.8M264.3 931.4h.8M262.8 925.6h.8M263.5 930h.8M262.4 929.4h.8M272.6 927h.8M265.7 931.1h.8M264.1 930.6h.8M274.3 924.8h.8M265.3 924.4h.8M273.5 924.6h.8M263.5 926.4h.8M268.3 921.4h.8M270 919.6h.8M264.5 924.5h.8M263.2 930.9h.8M261.4 932.5h.8M267.1 929.8h.8M272.6 926.4h.8M264.5 924.3h.8M262.7 928.5h.8M272.7 921.6h.8M262.2 928.9h.8M263.6 932.5h.8M262.7 925.4h.8M272 921.6h.8M265.9 931.4h.8M270.1 928.9h.8M261.8 931.7h.8M262.7 928.2h.8M268.2 921.3h.8M268.2 930h.8M262.9 931.8h.8M270.4 927.6h.8M271.1 919.6h.8M266.4 923.1h.8M262.6 926.8h.8M264.7 933.8h.8M270.8 927.5h.8M266.7 922.3h.8M263 927.9h.8M264.2 925.4h.8M262 928.1h.8M269 922h.8M265.8 924.3h.8M260.7 928.8h.8M264.8 926.5h.8M274.1 922.3h.8M271 928.3h.8M266.8 929.7h.8M263.2 931.6h.8M272.7 924.6h.8M261.3 933.6h.8M267.5 929.6h.8M272.8 923.2h.8M267.9 931h.8M264.1 931.7h.8M268.3 930.5h.8M269.3 922h.8M275.6 920h.8M269 923.6h.8M266.3 923.8h.8M261.5 931h.8M259.8 933.5h.8M266.2 923.9h.8M272.4 925.1h.8M268.7 922.8h.8M262.9 930.5h.8M264.2 925h.8M261.7 930.2h.8M263.8 930.7h.8M272.7 926.2h.8M271.9 920.8h.8M260.8 931.1h.8M266.1 930.3h.8M266.9 930h.8M267 922.7h.8M269.8 921.1h.8M270.2 927.3h.8M272.4 921.9h.8M264.7 924.4h.8M272.8 920.8h.8M268.9 929.8h.8M269.5 920.2h.8M272.6 922.2h.8M264.8 925h.8M265.7 933.3h.8M270.3 920.7h.8M267.1 931.1h.8M264.2 931.8h.8M262.9 933.5h.8M273.2 920.4h.8M270.7 928.8h.8M268.7 928.7h.8M268 930.2h.8M268.9 922.2h.8M273.7 923h.8M266.4 923.8h.8M268 922.6h.8M272.1 926.9h.8M267 922.6h.8M275.2 922.3h.8M263.4 931.9h.8M262.4 926.4h.8M262.3 931.2h.8M261.5 928.8h.8M261.1 933.4h.8M270.8 927.3h.8M272.3 922.8h.8M268.3 930.5h.8M269.9 921h.8M275 922.8h.8M269.4 922.3h.8M269.4 921.6h.8M271.2 927.9h.8M270.6 922.8h.8M264 933.1h.8M267 921.9h.8M262.9 933.3h.8M272.4 926.2h.8M263.3 924.5h.8M267 922.9h.8M269 921.6h.8M262.1 933.7h.8M267.6 921.9h.8M261.6 932.2h.8M263 931.8h.8M266.7 930.6h.8M266.5 930.1h.8M262.6 932.3h.8M264.5 932.8h.8M266.3 923.2h.8M271.6 928.2h.8M265.9 933.3h.8M260.7 933.2h.8M272.8 923.2h.8M270.6 927.2h.8M269.5 929.3h.8M266.7 930.5h.8M263.3 927.6h.8M265.8 933.1h.8M264.6 930h.8M273 924.6h.8M270 921.8h.8M261.3 932.4h.8M269.7 929.7h.8M272.8 923.1h.8M272.6 923.8h.8M262.5 928.6h.8M266.1 932.2h.8M269.2 921.9h.8M270 929.6h.8M261 930.4h.8M262.8 927.9h.8M266.1 923.9h.8" stroke="#3f7bf5" stroke-width="0.8" fill="none"/><path d="M271.6 927.7h.8M275.2 922.9h.8M271.2 922.6h.8M272.1 920.9h.8M275.1 922.8h.8M272.4 923.5h.8M271.9 919.9h.8M275.8 926.6h.8M277.5 925.3h.8M279.1 918.4h.8M275.9 924.9h.8M275.4 919.3h.8M274.7 917.7h.8M269.8 924.9h.8M276.9 925h.8M279.4 922.3h.8M275.7 917.4h.8M275.9 922.9h.8M271 924.4h.8M275.3 922.7h.8M282.7 919.9h.8M275.6 922.7h.8M270.8 923.3h.8M276.5 926.7h.8M276.4 921.3h.8M275.8 927.1h.8M276.8 918.2h.8M275.6 920.8h.8M273.8 923.5h.8M280.8 918.8h.8M262.8 931.3h.8M270.6 927h.8M270.8 922.2h.8M271.3 925.8h.8M269.5 922.3h.8M272.6 923.1h.8M262.5 930.9h.8M264.9 925.4h.8M263 928.7h.8M272.2 925h.8M272 924.8h.8M273 923.1h.8M264.6 930.9h.8M262.3 929.2h.8M269.5 922.7h.8M264.2 930.3h.8M271.7 923.3h.8M270.6 922.4h.8M268.2 928.4h.8M267.3 930.7h.8M264.5 925.5h.8M270.2 922.9h.8M263.4 928.1h.8M268.5 922.5h.8M269.9 922.2h.8M267.9 924.1h.8M271 925.7h.8M267.6 930.1h.8M267.2 923.4h.8M261.4 931h.8M268.8 928.6h.8M261.9 932.7h.8M271.7 923.2h.8M262.9 929.9h.8M263.2 932h.8M268.6 923.2h.8M265.8 925.6h.8M271.1 926.3h.8M266.1 924.6h.8M265.1 931.5h.8M269.4 927.7h.8M272.9 921.1h.8M265.8 924h.8M272.3 924.2h.8M271.6 924.7h.8M269.8 926.6h.8M267.3 928.9h.8M270.1 927.4h.8M270.9 925.5h.8M267.3 923.7h.8M272.9 922.4h.8M263.1 931.2h.8M270.7 923.4h.8M270.8 926.5h.8M260.7 933.9h.8M269.6 929h.8M266.1 925.1h.8M262.9 926.9h.8M265.1 925.4h.8M267.9 929.5h.8M262 932h.8M262.7 930.4h.8M261.8 930h.8M269.2 921.6h.8M265.7 930.6h.8M273 922.7h.8M261.5 931.8h.8M270.3 926.5h.8M265.4 932.5h.8M271.3 923.3h.8M263.8 925.8h.8M272.1 923.5h.8M262.5 929.9h.8M263.8 928.8h.8M267.8 923h.8M270.1 928.4h.8M266.6 923.9h.8M269.7 922.6h.8M271.1 926.7h.8M272 922.9h.8M264.3 927.9h.8M263.1 927.8h.8M263.7 931.6h.8M271.6 924.7h.8M268.6 923.2h.8M269.3 929.2h.8M266 929.3h.8M271.8 924.3h.8M268.7 923.4h.8M269.3 928h.8M266.8 922.7h.8M269.6 922h.8M263.3 932.4h.8M271.3 920.2h.8M268.6 927.7h.8M262.5 928.3h.8M263.2 930.4h.8M264.1 930.1h.8M262.3 930h.8M273.9 922.2h.8M270.8 926.5h.8M270.8 922.8h.8M267.5 930h.8M271 923h.8M262.3 930.6h.8M274.5 921.8h.8M271.4 922.2h.8M262.8 926.1h.8M268 922.6h.8M262.8 930.5h.8M274.3 922.5h.8M267.4 924.6h.8M266.7 929.7h.8M264.3 927.6h.8M262.3 932.2h.8M262.4 927.6h.8M271.9 922.8h.8M264.4 927.1h.8M261.9 931.6h.8M262.6 928.3h.8M271.4 922.8h.8M264.5 930.5h.8M263.3 927.7h.8M272.1 923.7h.8M269.3 927.3h.8M263.3 931.6h.8M271.6 927.2h.8M270 923h.8M265.7 925h.8M262.3 931.1h.8M270.3 928.2h.8M271.2 927.2h.8M266.4 923.4h.8M267.6 929.6h.8M263.4 929.9h.8M268.8 928.9h.8M271 921.8h.8M267.9 922.5h.8M267 922.5h.8M273.1 921.2h.8M264.7 925.9h.8M262.5 931.4h.8M264.3 931.9h.8M271.5 920.9h.8M270.8 926.1h.8M264.1 927.1h.8M267.6 924h.8M272.6 923.9h.8M268.1 922h.8M272.2 922.9h.8M271.7 925.3h.8M262.7 931.5h.8M264.3 928.6h.8M263.4 926.4h.8M270.6 922.6h.8M270.7 927.4h.8M267.6 923.4h.8M264.4 930.5h.8M266.9 929.4h.8M266.6 932.6h.8M267.8 923.7h.8M262.5 931.8h.8M268.5 923.5h.8M263.3 929.4h.8M265.8 924.9h.8M267.9 929.7h.8M265.5 926.6h.8M270.2 923.2h.8M269 930.5h.8M268.5 922.7h.8M264.3 931.3h.8M260.6 930.1h.8M270.4 927.4h.8M266.3 925.6h.8M263 931.4h.8M263.2 930.8h.8M270.4 922.6h.8M266.8 922.5h.8M268.2 929.8h.8M263.1 927h.8M268.2 929.2h.8M263 929.2h.8M263 928h.8M271.2 926.4h.8M271.6 925.9h.8M271.4 923.3h.8M261.2 930.9h.8M265.2 932h.8M271.3 923.9h.8M271.9 920.7h.8M265.4 929.9h.8M271.6 920.3h.8M267 929.5h.8M262.2 931.7h.8M264.4 930.7h.8M269.8 927.7h.8M265.9 931.4h.8M273.7 920.8h.8M265.8 923.8h.8M266 930.5h.8M260.3 931.7h.8M262.5 929.7h.8M274.1 921h.8M266.6 932h.8M265.3 926h.8M263.9 930.1h.8M260.1 930.9h.8M268.4 929.6h.8M271.1 926.4h.8M261.9 930.2h.8M270.3 927.9h.8M266 924h.8M263.4 930.9h.8M269.8 928.1h.8M272.3 924.1h.8M271.7 923.5h.8M268.8 923.7h.8M268.9 928.9h.8M266 923.9h.8M266.4 931.9h.8M267.3 930.2h.8M271 921.7h.8M268.4 928.9h.8M270.9 925.7h.8M263.8 927.6h.8M271.6 922.4h.8M268.1 923.2h.8M264.7 929.6h.8M269.1 929h.8M268 928.2h.8M269.7 921.9h.8M271.4 926h.8M269.3 923.3h.8M261.5 931.2h.8M267.1 930.6h.8M267.3 922.6h.8M269.9 922.7h.8M266 931.3h.8M267.3 930.8h.8M271.7 924h.8M266 931.3h.8M265.6 930.9h.8M266.2 923.7h.8M272.6 921.6h.8M272.6 923.5h.8M270.9 923.1h.8M263.2 931.8h.8M268.3 924.1h.8M270.4 923.8h.8M272.1 921h.8M263.5 930.1h.8M266.7 924.3h.8M262.5 929.8h.8M265.2 925h.8M262.4 930.2h.8M265.6 931.8h.8M266.6 924.3h.8M263.1 932h.8M263.6 928.2h.8M270.4 926.4h.8M268.3 924.1h.8M264.1 926.7h.8M263.9 927.6h.8M271.4 922.6h.8M272.3 923.1h.8M272.4 920.1h.8M266.7 929.5h.8M263.1 926.3h.8M262 930.2h.8M266.4 930.4h.8M263 931.2h.8M267.8 923.5h.8" stroke="#22c7d8" stroke-width="0.8" fill="none"/><path d="M264.5 929h.8M264.5 926.3h.8M270.8 926.9h.8M262.8 927.5h.8M270.4 925.2h.8M262.4 931.8h.8M269.3 924.7h.8M272.1 925.1h.8M264.6 932.6h.8M265.8 929.1h.8M268.7 925h.8M266.7 924.1h.8M264.4 929h.8M270.3 923.2h.8M270 924.9h.8M270.8 923.3h.8M267.4 929h.8M265.1 926.8h.8M267.8 923.2h.8M269.3 927.4h.8M270.7 924.9h.8M268.9 927.2h.8M270.6 925.8h.8M267.1 929.2h.8M264.2 929.7h.8M265 929.6h.8M269.9 925.6h.8M267 928.3h.8M268 924.7h.8M273.1 925.5h.8M264.4 928.1h.8M271.2 924.8h.8M270.8 924.3h.8M263.3 929.9h.8M271.6 922.8h.8M263.4 930.2h.8M266.3 926h.8M265.1 929.2h.8M263.9 927.6h.8M268.6 924.1h.8M267.9 927.6h.8M265.7 928.6h.8M270.3 924.1h.8M267.7 925.5h.8M265.5 927.7h.8M271.5 923h.8M266.1 930.9h.8M269.7 926.1h.8M269.2 925.6h.8M263.9 928.8h.8M261 931.3h.8M271.8 925h.8M266.9 924.7h.8M269.9 923.6h.8M270 923.1h.8M262.1 929.7h.8M268 925.6h.8M264.5 929h.8M271 924.1h.8M268.9 925.4h.8M268 927.5h.8M263.6 927.9h.8M267.4 928.2h.8M269.8 927.4h.8M270.4 923h.8M271 922.2h.8M268.1 926.4h.8M266.7 927.1h.8M267.3 930.6h.8M265.5 929.2h.8M267.6 924.7h.8M264.2 929h.8M265.7 929.1h.8M270.3 926.5h.8M265.2 927.4h.8M265.8 930.6h.8M271.3 924.3h.8M271 924h.8M264.9 928.2h.8M266.4 928.6h.8M267.5 924.5h.8M263.6 929.2h.8M264.7 928.7h.8M268.3 923.3h.8M263.6 928.2h.8M267.1 924.1h.8M264.5 928h.8M268 925h.8M271.2 926.5h.8M268.6 925.3h.8M266.8 925.4h.8M270.2 925.7h.8M271.9 922.7h.8M265.8 926.7h.8M269.5 924.9h.8M270.7 922.8h.8M266.7 925.3h.8M266.6 929.2h.8M271 926.8h.8M270 922.8h.8M271.1 923.2h.8M264.7 927.7h.8M270.3 925.2h.8M270.7 923h.8M270 925.1h.8M268 928.2h.8M265 930.3h.8M264.7 931h.8M272.1 921.9h.8M264.2 930.1h.8M267.5 929.2h.8M261.2 931h.8M266 925.3h.8M270.1 924.9h.8M270 927.5h.8M265.9 926.4h.8M267.8 923.8h.8M267.8 924.2h.8M267.6 928h.8M266.1 926.5h.8M270.8 922.7h.8M264.8 927.6h.8M269.5 927.8h.8M268.5 928.9h.8M270.3 922.4h.8M267.5 926.5h.8M272 922.7h.8M268.3 928.2h.8M264.2 928.8h.8M265.6 928.1h.8M267 924.9h.8M265.9 927.2h.8M265.7 928h.8M265.5 930.7h.8M272.5 923.4h.8M266.9 929.2h.8M264.2 927.8h.8M266.1 925.4h.8M267 929.5h.8M270.1 927.5h.8M265.8 927.1h.8M267.9 927.8h.8M263.8 929h.8M266.3 929h.8M268.8 925.9h.8M268.4 929.4h.8M270.6 923h.8M265.7 930.3h.8M266.9 929.3h.8M265.1 929.4h.8M269.4 926.8h.8M266.2 927.7h.8M265.9 929.2h.8M263.1 930.7h.8M266.1 928.5h.8M265.1 929.9h.8M270.5 921.4h.8M266.5 925h.8M270.5 926.8h.8M267.9 924.9h.8M265.5 928.4h.8M269.3 928.3h.8M269.4 928h.8M271.5 924.9h.8M269.3 927.7h.8M265.9 925.7h.8M266.5 924.7h.8M263.4 928.7h.8M269.9 928h.8M271 923.2h.8M267.3 927.8h.8M272.8 921.3h.8M270.1 925.8h.8M267.5 927.4h.8M267.6 927.7h.8M270.2 924.8h.8M268.3 927.3h.8M267.3 923.9h.8M269.2 923.6h.8M266.5 926.2h.8M265.6 929.2h.8M263.8 932.5h.8M264.6 927.2h.8M265.5 928.4h.8M264.5 928.8h.8M269.5 926.9h.8M262.5 928.6h.8M266.4 926.3h.8M266.8 924.8h.8M271.4 925.3h.8M269.5 923.3h.8M266.6 925.7h.8M267.8 925.6h.8M266.6 925.7h.8M268.3 924.5h.8M265.5 929.5h.8M272.4 923.6h.8M271.1 923.5h.8M268 928.2h.8M270.1 927.8h.8M270.4 924.4h.8M272.5 923.1h.8M265.6 930.7h.8M263.7 929.8h.8M267.4 928.1h.8M263.7 927.5h.8M262.9 930.2h.8M265.7 929.9h.8M265.8 928.2h.8M268.2 929.1h.8M269.3 927.3h.8M267 923.9h.8M266.7 926.9h.8M269 926.9h.8M263 929.5h.8M267.4 928.3h.8M267.8 927.7h.8M267.5 924.5h.8M266.2 927.7h.8M266.4 929.9h.8M270.3 925.6h.8M263.4 927.1h.8M268.8 927.5h.8M271.5 923.2h.8M269.3 924.6h.8M270.7 925.4h.8M264.1 927.5h.8M269.1 929h.8M263.9 929.9h.8M269.3 926.8h.8M266.5 927.6h.8M263.1 928.2h.8M267.7 928.6h.8M271.9 926.2h.8M266.2 925.1h.8M271.1 923.7h.8M267.9 923.9h.8M269.7 923.8h.8M272.5 922.4h.8M272.6 921.7h.8M271.1 923.6h.8M272.3 924.1h.8M270.9 925.5h.8M264.2 928.1h.8M265.8 926.9h.8M264.3 928.4h.8M266.6 928.5h.8M263.6 928.6h.8M270.5 925.7h.8M265.1 927.3h.8M267.4 928.5h.8M269.7 921.9h.8M269.2 923.1h.8M268.3 924.6h.8M271.2 923.9h.8M265.8 930.1h.8M271.1 925.1h.8M268.2 924.1h.8M265.6 928.1h.8M268 924.5h.8M267.7 925.4h.8M267.4 923.4h.8M265.6 925.3h.8M269.8 927.3h.8M267.2 924h.8M264.7 927.9h.8M265.2 931.1h.8M265.6 929.7h.8M270.4 926.4h.8M271.1 924.3h.8M263.6 929.8h.8M270.6 924.4h.8M265.4 925.1h.8M264.8 925.9h.8M268.6 925.1h.8M265 929.5h.8M268.7 924.8h.8M263.9 930.1h.8M269.5 926.9h.8M266.6 930.5h.8M267.7 929.3h.8M267.5 928.4h.8M267.2 923.3h.8M270.4 922.5h.8M267.3 927.1h.8M268.1 924.8h.8M270.3 923.8h.8M268.5 927.9h.8M267.5 928.8h.8M268.5 924.8h.8M272.9 922.5h.8" stroke="#37d04a" stroke-width="0.8" fill="none"/><path d="M268 928.3h.8M265.3 930.3h.8M267.5 927.7h.8M267.7 927.2h.8M265.7 926.3h.8M267 926.1h.8M270.4 926.7h.8M263.9 930h.8M268.5 927.7h.8M267.1 928.3h.8M267.6 925.9h.8M267 924.8h.8M268 928.6h.8M265.5 929h.8M263.9 927.9h.8M266.3 929h.8M266.1 927h.8M267.8 928.5h.8M270.7 925h.8M268.8 924.9h.8M268.5 923.7h.8M267.9 924.2h.8M265.6 927.5h.8M265.1 928.1h.8M268.3 924.1h.8M266.1 927.5h.8M267.6 928.2h.8M263.7 929h.8M268.9 927.4h.8M270 925h.8M268.1 926.9h.8M268.7 926.3h.8M269.5 925.1h.8M271.7 925.7h.8M267.2 927.9h.8M265.8 926.4h.8M266.7 924.6h.8M263.1 930.4h.8M267.5 928.6h.8M271 923.4h.8M263.9 931h.8M264.2 929.3h.8M266.5 924.7h.8M270.2 924.9h.8M265.7 929.9h.8M268.2 926.8h.8M270.8 925.4h.8M266.7 927.1h.8M266.2 928.2h.8M265.9 929.7h.8M268.5 926.5h.8M269.4 923.5h.8M265.6 926h.8M265.6 927.2h.8M265.2 928h.8M266.7 928.8h.8M266.7 925.8h.8M265 929.3h.8M266.4 927.3h.8M269.6 925.2h.8M267.8 925.1h.8M264.4 928.6h.8M265.8 928.6h.8M266.6 925.7h.8M267.5 928.7h.8M264.5 931.3h.8M270.5 926.2h.8M268.8 927.1h.8M270.4 926h.8M270.3 924.5h.8M268.1 924.3h.8M268 925h.8M267.2 928.3h.8M266.3 927.2h.8M265.7 926.1h.8M269.4 924.3h.8M270.1 926h.8M270.7 923.3h.8M266.7 928.8h.8M269.8 924.4h.8M266.7 926h.8M266.9 928.3h.8M266.1 928.8h.8M268.8 926h.8M267.4 925.4h.8M268.6 925.4h.8M268.3 927.4h.8M269.2 926.8h.8M268 927.9h.8M266.1 929.9h.8M270.3 924.2h.8M269.7 924.2h.8M266.5 924.8h.8M267.7 928.6h.8M265.3 928.9h.8M268.9 926.3h.8M270.5 923.9h.8M269.5 924h.8M266.2 927.9h.8M267.3 929.2h.8M265.3 928.5h.8M269.6 924.3h.8M269.9 926.3h.8M264 929.1h.8M268.6 925.6h.8M268.1 927.1h.8M268.5 924.7h.8M267.3 925.1h.8M265.3 928.8h.8M268.8 926h.8M265.1 926.9h.8M270.3 925.3h.8M269.4 926h.8M269.7 925h.8M265.6 925.6h.8" stroke="#d8e02a" stroke-width="0.8" fill="none"/><path d="M267 927.2h.8M266.3 927.4h.8M265.8 928.7h.8M267.7 926.4h.8M268.4 925.6h.8M267.8 927.1h.8M270 927h.8M265.2 927.8h.8M268.5 927.8h.8M269.7 926.7h.8M268 927.4h.8M268.1 926.8h.8M265.9 928.8h.8M267.7 925.5h.8M268 927.8h.8M270 924.2h.8M268.5 926.2h.8M267.4 926.6h.8M269.3 924.4h.8M267.7 926h.8M268.2 927.4h.8M266.4 926.4h.8M269.7 926h.8M269.1 925.4h.8M267.3 928.4h.8M268.1 925.9h.8M266.8 927.8h.8M265.8 927.8h.8M268.4 925.5h.8M268.2 925.4h.8M269.4 925.6h.8M269.5 924.7h.8M266.1 927.5h.8M265.9 928.1h.8M268 926.9h.8M269 924.2h.8M263.9 928.1h.8M266.3 928.3h.8M265.6 928.2h.8M264.7 927.7h.8M265.4 928.3h.8M267.6 927.7h.8" stroke="#f29a1c" stroke-width="0.8" fill="none"/><path d="M267.5 926h.8M267.3 928.4h.8M267.3 926.1h.8M268.1 925.9h.8M265.9 926.7h.8M268.2 926.4h.8M266.9 926.3h.8M266.9 927.2h.8M269.2 925.8h.8M267.4 927.1h.8M268 926.8h.8M266 928.7h.8M268.3 925.9h.8M267.4 927h.8M269.4 925.9h.8M268.5 925.3h.8M265.6 928.4h.8M268.1 927.8h.8M270.2 927.2h.8M265.1 927.8h.8M267.5 926.6h.8M268 926.1h.8M266.9 926.6h.8M267.6 927.5h.8M269.6 924.7h.8M266.7 927.4h.8M267 925.7h.8M267.9 926.1h.8M267.5 927.8h.8M267.7 925.2h.8M267.1 927.2h.8M266.6 927.3h.8M268.9 923.9h.8M269.4 926.1h.8M268.2 926.3h.8M266.9 926.4h.8M266.5 926.8h.8M269.2 925.5h.8M267.1 927.2h.8M267.2 927h.8M268.5 925.7h.8M268.1 926.8h.8M267.1 927.7h.8M268.6 925.2h.8M267.7 927h.8M266.6 927.3h.8M267.7 927.2h.8" stroke="#ee3a1e" stroke-width="0.8" fill="none"/><path d="M295.4 820.6V975M241.4 909.1H396.3" stroke="#222" stroke-width="1.4" fill="none"/><path d="M259.5 975v4M309.4 975v4M346 975v4M381.3 975v4M242.4 975v2.2M247.4 975v2.2M251.4 975v2.2M254.4 975v2.2M263.4 975v2.2M267.4 975v2.2M271.4 975v2.2M286.4 975v2.2M293.4 975v2.2M298.4 975v2.2M302.4 975v2.2M305.4 975v2.2M307.4 975v2.2M320.4 975v2.2M327.4 975v2.2M331.4 975v2.2M335.4 975v2.2M338.4 975v2.2M340.9 975v2.2M343.4 975v2.2M356.4 975v2.2M363.4 975v2.2M368.4 975v2.2M371.4 975v2.2M374.4 975v2.2M376.4 975v2.2M378.9 975v2.2M391.4 975v2.2M241.4 835h-4M241.4 871.8h-4M241.4 914h-4M241.4 939h-4M241.4 964.9h-4M241.4 823.6h-2.2M241.4 826.6h-2.2M241.4 829.6h-2.2M241.4 842.6h-2.2M241.4 849.6h-2.2M241.4 853.6h-2.2M241.4 857.6h-2.2M241.4 860.6h-2.2M241.4 863.6h-2.2M241.4 866.6h-2.2M241.4 869.1h-2.2M241.4 882.6h-2.2M241.4 890.6h-2.2M241.4 895.6h-2.2M241.4 899.6h-2.2M241.4 902.6h-2.2M241.4 905.6h-2.2M241.4 908.6h-2.2M241.4 910.6h-2.2M241.4 920.6h-2.2M241.4 925.6h-2.2M241.4 929.6h-2.2M241.4 933.6h-2.2M241.4 943.6h-2.2M241.4 947.6h-2.2M241.4 951.6h-2.2M241.4 956.6h-2.2M241.4 960.6h-2.2M241.4 968.6h-2.2" stroke="#111" stroke-width="0.9" fill="none"/><path d="M257.1 975v3.5" stroke="#111" stroke-width="4" fill="none"/><path d="M241.4 939h-3.5" stroke="#111" stroke-width="5.5" fill="none"/><g class="ns2" font-size="5.3" fill="#111"><text x="259.9" y="987.8" text-anchor="middle">0</text><text x="312.9" y="987.8" text-anchor="middle">10<tspan dy="-2.3" font-size="4.3">3</tspan></text><text x="349.4" y="987.8" text-anchor="middle">10<tspan dy="-2.3" font-size="4.3">4</tspan></text><text x="384.9" y="987.8" text-anchor="middle">10<tspan dy="-2.3" font-size="4.3">5</tspan></text><text x="235.4" y="837.2" text-anchor="end">10<tspan dy="-2.3" font-size="4.3">5</tspan></text><text x="235.4" y="874" text-anchor="end">10<tspan dy="-2.3" font-size="4.3">4</tspan></text><text x="235.4" y="916.2" text-anchor="end">10<tspan dy="-2.3" font-size="4.3">3</tspan></text><text x="232.4" y="940.6" text-anchor="end">0</text><text x="235.4" y="967.1" text-anchor="end">-10<tspan dy="-2.3" font-size="4.3">3</tspan></text></g><g class="ns2" font-size="6.1" fill="#111"><text x="244.6" y="832.6">Q1</text><text x="244.6" y="842.4">4.17</text><text x="382.8" y="832.6" text-anchor="end">Q2</text><text x="382.8" y="842.4" text-anchor="end">6.05</text><text x="382.8" y="956.8" text-anchor="end">Q3</text><text x="382.8" y="966.6" text-anchor="end">8.65</text><text x="244.6" y="956.8">Q4</text><text x="244.6" y="966.6">81.1</text></g><text x="315.8" y="814.5" font-size="15.2" text-anchor="middle">Vehicle</text></g>
<g><rect x="436.4" y="821.2" width="154.2" height="153.8" fill="#fff" stroke="#b0b0b0" stroke-width="0.9"/><path d="M548.9 900.5h.8M556.1 887.8h.8M550.2 870.3h.8M545.3 875h.8M550.9 882.1h.8M550.3 896.7h.8M545.1 899.8h.8M561.1 856.7h.8M539.1 897.8h.8M554.5 874.8h.8M545.1 871.7h.8M545.6 881.2h.8M540.8 887.5h.8M545.9 880.9h.8M551.2 866.1h.8M551.6 887.6h.8M557.3 879.8h.8M564.1 889.8h.8M552.2 870h.8M563.5 886.1h.8M543 868.6h.8M545.4 894.5h.8M552.6 869.2h.8M566.4 857.4h.8M544 846.4h.8M562.1 862.4h.8M554.9 873.3h.8M539.1 877h.8M549.6 883.8h.8M554.2 875.8h.8M557.3 870.1h.8M542.5 886.8h.8M552.7 878.9h.8M549.9 897.1h.8M540.3 872.8h.8M553.7 880.2h.8M547.7 887h.8M553.5 875.9h.8M556.7 884.6h.8M530 888.5h.8M557 877.4h.8M552.1 881.2h.8M542.2 868.5h.8M552.8 862.4h.8M540.7 887.1h.8M552.4 866.4h.8M548.5 865.6h.8M549.2 883.1h.8M552.4 880.7h.8M546.8 879.7h.8M544.4 887.6h.8M530.2 904.4h.8M553.6 874.2h.8M561.5 859.6h.8M553 907.1h.8M546.8 883.2h.8M555.3 889.2h.8M536.8 879.5h.8M552.4 875.4h.8M536.5 881.5h.8M540.6 876.8h.8M550.7 879.6h.8M549.6 881.8h.8M534.7 892.9h.8M548.3 861.4h.8M541.5 872.9h.8M547.5 881.1h.8M533.9 875.2h.8M550.2 896.8h.8M542.6 875.2h.8M552.2 885.2h.8M540.3 883.1h.8M545.3 889.7h.8M557.8 907.6h.8M556.6 883.8h.8M555.5 883.1h.8M557.1 867.6h.8M546.8 892h.8M553.6 881.9h.8M543.6 901h.8M553.5 863.1h.8M545.3 875.4h.8M545.9 883h.8M545.4 887h.8M546.4 873.1h.8M544.5 889.6h.8M555.6 888.3h.8M539 889h.8M551.9 870.2h.8M561.2 873.2h.8M544.1 899.3h.8M548.5 864.2h.8M543.5 895.3h.8M547.3 877.4h.8M546.9 874.6h.8M551.1 870.4h.8M559.8 859.8h.8M537.3 878.3h.8M548.6 880.2h.8M560.3 862h.8M545.4 872.9h.8M545.2 872.4h.8M546.1 893.5h.8M563.5 869h.8M542.1 867.9h.8M540 883.4h.8M572.8 884.7h.8M554 867.5h.8M537.3 882.2h.8M552.2 881.5h.8M554.5 868.7h.8M557.2 860.1h.8M547.7 880.8h.8M562.4 868.1h.8M566.4 880.7h.8M548.5 862.2h.8M558.1 876.9h.8M535.9 887.4h.8M562.7 863h.8M549.1 868h.8M548.9 868.1h.8M548.3 869h.8M554.3 873.8h.8M553.3 885.6h.8M554.3 872.2h.8M551.1 859.8h.8M547.1 878.9h.8M542 900.9h.8M560.8 860.4h.8M554.1 875.4h.8M558.5 866.9h.8M553.2 870h.8M548.9 885.9h.8M552 882.9h.8M566.4 867.5h.8M545.7 869.7h.8M541.1 877.7h.8M552.5 872.6h.8M539.6 869.8h.8M529.2 886.3h.8M560.5 863.4h.8M539.2 894.7h.8M543.1 878.8h.8M542.7 860.3h.8M556.3 877.4h.8M545 863.8h.8M556.5 861.2h.8M551.2 880.6h.8M550.1 881h.8M565.3 878.6h.8M544.8 873.7h.8M569.4 860.6h.8M551.9 858.1h.8M558.2 881.8h.8M555.5 866.7h.8M554.8 875.5h.8M557.5 888.8h.8M538.7 883.2h.8M551.3 869.4h.8M549.9 880.6h.8M539.5 873.1h.8M556.7 867h.8M533.1 877.6h.8M550 866.5h.8M556.7 866.3h.8M557 891.7h.8M562.2 858.6h.8M549.9 871.4h.8M547.8 875.6h.8M554 882.3h.8M556.3 863.1h.8M552.9 867.4h.8M557.6 871.9h.8M542.9 882.9h.8M550.3 870.9h.8M543.6 893.1h.8M545 865.6h.8M555.5 882.2h.8M548.3 881.7h.8M543 881.2h.8M545.3 861.8h.8M539.2 886.3h.8M559.2 850.8h.8M556.2 870.7h.8M538.6 870.5h.8M529.6 890.9h.8M519.4 893.2h.8M551.8 875.1h.8M539.9 885.9h.8M544.3 883.8h.8M533.2 859.1h.8M562.7 875.1h.8M542.3 884.2h.8M534.7 876.6h.8M551 878.9h.8M535.8 867.9h.8M525.3 883.5h.8M545.9 877.4h.8M555.2 856.6h.8M539.2 879h.8M535 878.6h.8M542.7 887.7h.8M551.2 872.5h.8M551.9 875.8h.8M537.8 888.9h.8M553.2 889.1h.8M534.1 888.5h.8M546.8 879.8h.8M528.1 878h.8M538.1 873.6h.8M536.4 883.7h.8M563 897h.8M540.7 877.3h.8M527.3 890h.8M538.5 895h.8M546.2 867.9h.8M545.7 885.6h.8M513.8 872.4h.8M551 897.6h.8M549.4 880.9h.8M546.6 891.6h.8M537.2 892.8h.8M545.3 883h.8M547.2 884h.8M533.2 895.4h.8M537.6 878.7h.8M518.4 866.1h.8M541.6 877.7h.8M534.4 884h.8M557.5 886.3h.8M535.7 869h.8M551.2 885.7h.8M548.8 885.8h.8M556.4 867h.8M536 876.3h.8M559.7 917h.8M541.4 914h.8M542.8 929.1h.8M545.3 916.4h.8M530.6 934h.8M547.8 951.6h.8M570.9 925.4h.8M572 924.5h.8M532.5 918h.8M553.3 940.2h.8M552.5 905.8h.8M547.9 907.2h.8M544.1 918.5h.8M557.9 923.8h.8M565 894.2h.8M559.4 945.8h.8M538.9 947.5h.8M533.3 928h.8M552.1 923.9h.8M551 919.5h.8M535.3 901.7h.8M542.7 909.5h.8M541.6 933.7h.8M548.3 930.6h.8M540.2 921.7h.8M539.4 899.5h.8M551.6 917.6h.8M557 923.6h.8M548 922.3h.8M553.7 938.7h.8M535.9 919.7h.8M544.1 920.4h.8M568.9 922.1h.8M525.6 926h.8M545.8 910.8h.8M563.6 944.7h.8M539.4 934.7h.8M545.7 922.9h.8M546.4 922.2h.8M533.4 905.5h.8M541.1 896.7h.8M539.1 914.1h.8M546.7 919.7h.8M542.6 930.9h.8M531.4 912.3h.8M560.2 921.7h.8M556.6 928.1h.8M544.1 930.5h.8M537.8 906.2h.8M544.9 918.1h.8M532.7 943h.8M557.9 928.9h.8M547.6 934.7h.8M550 944.3h.8M553.7 933.9h.8M547.2 926.2h.8M548.9 923.7h.8M552.1 917.3h.8M553.9 925.7h.8M551.4 908.6h.8M568 921.9h.8M544.3 917.3h.8M563.7 918.5h.8M557.5 918.6h.8M533.3 933.7h.8M535.2 911h.8M541.6 929.8h.8M548.4 921.6h.8M543.3 905.4h.8M544.1 923.3h.8M546.5 917.9h.8M547.2 924.3h.8M529 917.2h.8M547.3 915.9h.8M546.5 923.7h.8M549.2 907.8h.8M541.6 926h.8M557.3 923.2h.8M548.5 909.7h.8M542.4 924.2h.8M535.8 925.3h.8M542 920.8h.8M549.3 915.5h.8M548.8 927.4h.8M546.2 919.6h.8M538.4 918.4h.8M549 916.9h.8M539.9 928.2h.8M538.9 933.5h.8M548 920.2h.8M541.1 923.8h.8M542.1 903.3h.8M555.6 900h.8M561.3 925.3h.8M564.9 908.2h.8M543.9 922.5h.8M543.2 920.3h.8M545.6 926.9h.8M564.4 900.8h.8M555.6 909.8h.8M564.9 908h.8M540 924.3h.8M545.5 927.1h.8M532 929.6h.8M546.5 919h.8M552.5 908.3h.8M533.5 923.6h.8M556.7 916.3h.8M544.7 911.9h.8M551.4 924.8h.8M543.7 923.8h.8M522.1 911.3h.8M542.7 921.9h.8M558.4 926.3h.8M544.3 928.3h.8M539 901.8h.8M533.3 923.9h.8M558 924.7h.8M549.9 919.6h.8M551.7 910.4h.8M557.5 930.3h.8M556.7 921.1h.8M568.1 935.1h.8M543.1 911.3h.8M554.9 926.7h.8M552.9 921.8h.8M566.7 931.2h.8M542.3 910.4h.8M568 930.6h.8M542.7 925.4h.8M547.2 909.3h.8M529.1 927.3h.8M555.9 927.3h.8M557 912.7h.8M538 944.7h.8M562 926.9h.8M552.4 922.1h.8M553.4 923.4h.8M540.7 915.5h.8M546.1 924h.8M570.7 907.6h.8M544.6 919h.8M569.3 913h.8M544 925.3h.8M547.5 930.5h.8M536.9 934.7h.8M541.2 912.9h.8M556 927.7h.8M545.2 928.3h.8M580.9 901h.8M529.9 919.2h.8M531.4 928h.8M537.3 939.8h.8M564.7 905.9h.8M554.6 918.5h.8M560.6 926.1h.8M513.2 855h.8M507 888.7h.8M524.6 871h.8M504.3 867.1h.8M507.2 876.8h.8M523 862.9h.8M502.6 884.3h.8M488.4 863h.8M519.8 868h.8M497.3 873.8h.8M520.9 873.5h.8M513.1 873.8h.8M495.5 877.2h.8M490.4 876.2h.8M485.4 874.3h.8M509.5 869.1h.8M524.1 875.1h.8M509.8 863.2h.8M500.9 877h.8M512.8 879.8h.8M495 884.1h.8M506.8 874.7h.8M505 868.4h.8M503.8 876.9h.8M503.4 873.5h.8M516.3 880.8h.8M506.3 876.1h.8M518.5 864.3h.8M489.4 866.4h.8M507.7 876.7h.8M502.3 868.9h.8M514.4 872.6h.8M494.9 878.4h.8M517 877.5h.8M501.3 871.9h.8M502.6 866.6h.8M530.4 896.7h.8M523.9 897h.8M523 908.8h.8M527.2 917.9h.8M540.3 912.4h.8M519.6 906.4h.8M520.8 896.7h.8M523.4 917.6h.8M520.6 910.2h.8M520.9 916.7h.8M534.8 889h.8M532.6 891.1h.8M521.7 921.5h.8M536.3 912.6h.8M522.8 896.6h.8M526.8 906h.8M523.8 916.6h.8M528.8 894.8h.8M540.4 881.7h.8M525.6 948.8h.8M506.7 928.7h.8M526.3 928h.8M526.3 919.5h.8M536.3 899.6h.8M509.6 920.5h.8M525.6 913.5h.8M520.5 887.3h.8M539.7 909.5h.8M529.3 892.4h.8M534.1 923.2h.8M523.9 901.8h.8M531.7 888.9h.8M521.3 902h.8M497.9 920.3h.8M497.4 914.5h.8M504.6 921h.8M493.1 924.2h.8M503.4 913.2h.8M489.9 927.5h.8M493.4 921.4h.8M484.9 922.5h.8M510.6 909.5h.8M498.8 914.7h.8M523.9 914.4h.8M488.3 920h.8M521 919.2h.8M488.5 926.5h.8M508.9 913.7h.8M495.5 927h.8M483.5 927.6h.8M498.1 920.1h.8M497 914.2h.8M525.3 920h.8M497.3 931.1h.8M514.4 911.1h.8M498.4 927.1h.8M468 926.9h.8M484.7 923.5h.8M484 928.3h.8M506.4 917.9h.8M514.5 912.7h.8M509.6 918.2h.8M517.3 921.5h.8M483 919h.8M511.8 917.5h.8M502.6 917.6h.8M492.8 929.4h.8M503.9 916.6h.8M483.3 924.5h.8M484 928.7h.8M523.4 914.3h.8M483.4 925.2h.8M491 920.7h.8M488.9 922.4h.8M496.3 916.3h.8M523.3 915.4h.8M511.3 918.6h.8M496.4 917.1h.8M507.3 918.3h.8M515.3 912.3h.8M502.6 924.8h.8M504.1 917.5h.8M491.8 918.7h.8M510.6 921.3h.8M500.5 924.3h.8M494 930.8h.8M494.4 920.7h.8M508.6 917.3h.8M490.5 928.3h.8M478.2 928.2h.8M491.3 930.1h.8M499.4 928h.8M527.8 915.1h.8M525.3 906.1h.8M492 919.1h.8M481.9 922h.8M508.4 913.6h.8M497.3 929.3h.8M514.3 918.4h.8M519.5 915.5h.8M503.4 924.6h.8M509.2 910.7h.8M513.9 920h.8M476.9 939.8h.8M503.7 926h.8M486.4 927.3h.8M490.2 920.8h.8M500.3 913.9h.8M500.3 924h.8M489.1 920.1h.8M507.4 922.2h.8M509.1 914.6h.8M497.1 928.5h.8M483.4 926.9h.8M518.1 914.6h.8M483.1 925.5h.8M502.9 926.5h.8M524 911h.8M498 922.3h.8M489 931.5h.8M487 929.6h.8M492.6 918.9h.8M506 926.3h.8M486 927.5h.8M493.3 928.6h.8M480.6 922.7h.8M493 917.6h.8M508.3 910.5h.8M499.4 918.8h.8M509.9 914.3h.8M500.1 928.8h.8M509 923.2h.8M516.6 916.5h.8M500.3 912.8h.8M479.1 927.4h.8M504.6 924.3h.8M490.1 923.3h.8M521.5 906.9h.8M494 930.4h.8M480.8 927.3h.8M479.1 926h.8M514 905.7h.8M480.3 928.9h.8M502.4 916.4h.8M504.2 918.3h.8M511.6 910.6h.8M509.8 918.3h.8M495.9 919.1h.8M490 928.4h.8M501.2 924.3h.8M502.2 919h.8M482.9 927.8h.8M472 933.1h.8M512.4 920.3h.8M517.4 918.3h.8M527.9 906.4h.8M496.1 924.5h.8M490.3 925.5h.8M487.7 926h.8M502.7 915.1h.8M501.2 920.9h.8M485.3 931.1h.8M493 928.5h.8M500.7 920.9h.8M485.4 930.4h.8M490.5 935.2h.8M504.8 919.9h.8M505.4 920.6h.8M509.2 916.4h.8M515.5 907.4h.8M481.6 931.1h.8M496.7 915h.8M484.5 923.7h.8M515.1 917.9h.8M478.3 923.3h.8M499 915.4h.8M491.5 921.6h.8M490.5 922.2h.8M505.2 926.4h.8M510 916.2h.8M484.8 930.1h.8M516.4 908.9h.8M506.2 912.6h.8M495.3 922.2h.8M506.4 915.9h.8M490.6 918.6h.8M498.1 926.4h.8M525.2 918h.8M507.8 924.3h.8M499 912.3h.8M515.9 917.1h.8M516.6 912h.8M516.7 914.8h.8M506.2 920.2h.8M486.5 930.6h.8M495.4 925.7h.8M497.3 917.3h.8M498.9 929.3h.8M513.6 915.8h.8M497.7 928.6h.8M501.9 925.6h.8M480.6 919.2h.8M509.8 921.2h.8M498.7 921.5h.8M504 924.3h.8M503.4 907.2h.8M513.1 919h.8M493.3 923.1h.8M472.6 931.3h.8M487.2 926.6h.8M493.3 929.4h.8M513.8 913.6h.8M491.5 930.4h.8M483.5 925.8h.8M495.6 923.8h.8M510.2 918.5h.8M505.9 926h.8M521.5 913.3h.8M496.4 917.2h.8M490.6 922.2h.8M468.6 925.9h.8M490.7 919.5h.8M496.3 914h.8M505.6 922.1h.8M493.8 918.3h.8M499.9 912.8h.8M479.6 921.4h.8M520.9 914.4h.8M499.6 915.4h.8M478.5 939.1h.8M502.5 908.1h.8M518.6 915.1h.8M499.4 922.3h.8M506.5 908.7h.8M500.6 914.5h.8M493.4 920h.8M503.8 922.8h.8M489.3 924.2h.8M491 928.3h.8M509.5 921.8h.8M511.9 916.6h.8M486.8 922.5h.8M513.6 915.9h.8M507.7 914.9h.8M500 929.9h.8M508.1 910h.8M491.7 924.8h.8M513.1 920.1h.8M511.3 922.1h.8M508.9 921.3h.8M487.4 920.1h.8M495.7 928.6h.8M513.2 910.3h.8M506.7 919.7h.8M517 915.2h.8M511.5 914.9h.8M504.8 916.9h.8M482.5 917.7h.8M508.2 915.7h.8M490 928.3h.8M498 931.5h.8M494.4 923.4h.8M493.1 930.8h.8M494.9 913h.8M513.9 915.2h.8M511.4 912.2h.8M515 911.6h.8M503.2 929.1h.8M497.8 922.2h.8M515.8 917.6h.8M485.5 924.1h.8M479.1 934.5h.8M475.9 927.6h.8M489 923.6h.8M510 921.1h.8M490.2 930.3h.8M498.3 934.3h.8M480.4 925.6h.8M510.4 925.3h.8M476.2 933.5h.8M480 924.2h.8M513.9 919.8h.8M524.7 915.5h.8M521.4 915.9h.8M500.3 912.5h.8M510.4 916h.8M492.8 917.4h.8M513.9 915.1h.8M493.2 919.8h.8M499.2 923.2h.8M496.5 927.7h.8M496.9 919.3h.8M517.7 909.2h.8M512.2 920.7h.8M487.2 934.9h.8M484.2 922.3h.8M505.6 913.7h.8M487 930h.8M517.3 918.7h.8M493.3 921.3h.8M500.1 914.1h.8M518.2 913.1h.8M500.7 912.7h.8M496.9 916h.8M516.9 911.7h.8M483.3 926.9h.8M488.9 925.6h.8M485.8 918.4h.8M496.7 920.7h.8M491.3 927.5h.8M510.3 917.5h.8M487.6 928.8h.8M527.8 912.6h.8M482.7 930.2h.8M503.3 925.5h.8M495.1 913.9h.8M508.2 919.7h.8M500.9 914.9h.8M497.4 926.6h.8M513.9 902.6h.8M497 919.9h.8M506 909.1h.8M493.2 924.4h.8M487.3 917.7h.8M520.4 911.4h.8M501.1 923.2h.8M520.1 909.3h.8M497.1 920.4h.8M511.9 920.4h.8M516.9 911.9h.8M484.4 924.1h.8M478 931.3h.8M476.4 932.3h.8M488 927.7h.8M516.2 913.7h.8M492.7 925.4h.8M496.7 922.9h.8M490.9 927h.8M496.2 915.7h.8M481.2 923.1h.8M496.4 932.5h.8M490.9 927.3h.8M499.4 929.6h.8M486 926h.8M503 917.3h.8M524.2 912.2h.8M501.2 912.4h.8M502.1 914.2h.8M506.3 920h.8M488.9 922.3h.8M515.8 910.6h.8M496.4 924.2h.8M482.9 925.7h.8M512.8 916.8h.8M495 911.6h.8M508.9 919.8h.8M471.6 931.2h.8M513.6 909.8h.8M512.5 922.6h.8M497.5 920.5h.8M488.7 928.4h.8M494.1 928.2h.8M499.6 926.8h.8M508.3 913.9h.8M488 930.5h.8M507.9 908h.8M505.3 917h.8M506.7 915.3h.8M501.2 913.5h.8M506.5 921.5h.8M478.7 924.9h.8M484.5 922.4h.8M494.4 932h.8M486.1 921.9h.8M498.5 927.6h.8M496.1 926.8h.8M510.4 914.6h.8M505.4 923.3h.8M504.5 926.6h.8M506.3 925.7h.8M488.1 926.7h.8M469.3 926.4h.8M479.7 920.9h.8M511.5 920.1h.8M502 917.5h.8M503.4 915h.8M483.6 925.8h.8M523.3 906.8h.8M514.3 914.2h.8M518.2 911.1h.8M484.5 924h.8M497.8 924.3h.8M491.2 925.3h.8M526.3 910.2h.8M511.1 928.7h.8M490.4 924.6h.8M495.7 923.8h.8M489.5 923.6h.8M507.6 917.7h.8M478.8 934.7h.8M506.6 927.2h.8M490 928.5h.8M494.7 929h.8M496.8 911.8h.8M487.1 929.1h.8M509.4 921.7h.8M514 914.4h.8M504.6 916.4h.8M501.9 926.1h.8M517.6 913.8h.8M494.2 930.2h.8M477 929.2h.8M511.3 927.4h.8M511 915.7h.8M498.3 921.2h.8M487.5 923.9h.8M500 912.7h.8M484.9 912.8h.8M477.6 922.8h.8M493.7 931.1h.8M502.8 914.3h.8M490.5 916.8h.8M485.2 918.5h.8M520.9 915.6h.8M514.7 916.9h.8M492.1 928.6h.8M503.4 916h.8M480 928.6h.8M484.5 925.6h.8M472.5 923.1h.8M511 918.8h.8M499.7 916.3h.8M510.6 924h.8M489.5 917.6h.8M496.3 914h.8M521.7 911.4h.8M489.8 934.2h.8M501.7 925.2h.8M515.9 912.9h.8M501.6 915.3h.8M509.7 915.6h.8M491.3 927.5h.8M514.1 910.8h.8M496.6 921.3h.8M493.5 927.5h.8M520.7 913.2h.8M493.7 935.3h.8M511.1 912.7h.8M482.8 923.2h.8M535.5 912.3h.8M486.2 922.6h.8M492.6 917.5h.8M504 913.8h.8M497.2 924.6h.8M494.9 928.4h.8M482.5 929.3h.8M507 917.9h.8M516.8 917h.8M500.3 912.6h.8M497.5 923.4h.8M487.6 932.7h.8M505.3 925.7h.8M487.6 934.3h.8M515.2 915.2h.8M497.7 929.4h.8M487.2 924.8h.8M512 915.4h.8M487.6 920.1h.8M495.4 928.6h.8M529.3 904.1h.8M485.8 929.4h.8M499.5 927.3h.8M506.8 914.3h.8M502.9 913.6h.8M508.7 907.3h.8M495.4 926.9h.8M519.9 915.1h.8M475.6 929.6h.8M511 919.3h.8M475.7 928.2h.8M495.4 923.4h.8M510.3 913h.8M508.7 911.7h.8M510 918.6h.8M506.1 921.7h.8M498.6 912.8h.8M519.1 914h.8M481.3 922.5h.8M520.8 915.2h.8M489.1 932.8h.8M500.5 915.1h.8M488.8 922h.8M513.7 918.8h.8M490.9 924.9h.8M488.4 929.6h.8M517.9 914.9h.8M504.2 904.1h.8M488.6 926.5h.8M490.6 929.7h.8M475.5 933.9h.8M495.3 928.9h.8M498.2 926.7h.8M489.2 919.8h.8M516.5 918.4h.8M495 923.3h.8M482.9 935.7h.8M489.1 914.6h.8M498.4 923.8h.8M528.4 909.5h.8M497.3 911.7h.8M499.6 923.6h.8M504.8 911.2h.8M501 928h.8M479.2 930h.8M506.8 920.8h.8M484.1 919.1h.8M504.4 912.7h.8M482.2 926.3h.8M497.9 929.1h.8M514.8 924.9h.8M498.5 913.3h.8M484.5 928.2h.8M483.8 929.3h.8M512.4 918.6h.8M481.2 933.7h.8M521.1 917.2h.8M525.6 906.4h.8M513.5 922.5h.8M495.6 919h.8M499.7 919.1h.8M507 914.4h.8M508.7 913.4h.8M515.6 920.3h.8M498.5 920.2h.8M488.3 928.8h.8M475.4 924.9h.8M485.4 927.5h.8M485.3 915h.8M510.9 913.4h.8M495.9 924h.8M504.3 921.8h.8M484.6 928.4h.8M511.8 919.6h.8M514 907.9h.8M510.9 909.2h.8M486.3 927.2h.8M528.8 915h.8M497.8 922h.8M510 910.6h.8M494.1 920.2h.8M514.3 917.7h.8M505 924.7h.8M506.8 908.9h.8M480.7 929.4h.8M491.4 930.9h.8M509.8 921.1h.8M513.4 918.3h.8M507.7 922.8h.8M519.7 904.5h.8M491.4 917h.8M485.8 929.8h.8M487.5 924.7h.8M494.3 927.8h.8M518.4 913.8h.8M494.3 915h.8M485.3 927.6h.8M502 916.3h.8M496.3 917.3h.8M498.7 911.4h.8M505.8 919.5h.8M494.7 923.6h.8M511.4 916.4h.8M524 916.9h.8M500.4 919.6h.8M483.7 922h.8M501.9 920.5h.8M506.4 926.3h.8M504.9 920.7h.8M494.8 917.5h.8M508.9 920.5h.8M487.3 925.3h.8M505.8 911.4h.8M494.1 916h.8M493.3 929.1h.8M507.4 928.4h.8M488.9 929.7h.8M494.8 915h.8M498.3 927.3h.8M497 925.5h.8M505.7 923.6h.8M518.2 919.2h.8M477.4 923.3h.8M498.4 927.2h.8M477.6 930.4h.8M483.2 930h.8M491.4 919.9h.8M491.8 920.4h.8M457 927.2h.8M466.1 935.6h.8M499.7 938.6h.8M499.4 915.3h.8M492 938h.8M493.6 921.9h.8M474 929.3h.8M462 923.4h.8M496.9 920.7h.8M495 919.7h.8M459.2 916.1h.8M463.1 927.2h.8M490.7 917.9h.8M476.2 935.1h.8M476.2 931.4h.8M455.8 928.4h.8M462.6 924.8h.8M471.5 924.8h.8M440.3 942.3h.8M470.9 931.3h.8M472.9 930h.8M485.2 914.9h.8M493.7 934.5h.8M465.5 919.4h.8M482.4 922.1h.8M472.8 922h.8M451.4 933.2h.8M453.6 926.4h.8M476.6 926.1h.8M488.6 934.8h.8M473.5 916h.8M501.6 916.2h.8M488.2 935h.8M484.6 917.3h.8M489.1 924.9h.8M495.6 921.8h.8M490.8 918.8h.8M470.3 928.2h.8M496.6 921.1h.8M482.5 934.3h.8M442.5 941.2h.8M474 929.7h.8M512.3 924h.8M490.1 934.4h.8M504.1 932.8h.8M464.4 931.8h.8M447.7 923.7h.8M469.7 927h.8M464.5 924.7h.8M506.8 916.9h.8M484.8 919.5h.8M481 922.5h.8M442.2 919.4h.8M498.5 933.4h.8M470.2 927.7h.8M481 918.2h.8M489.5 945.1h.8M464.7 929.4h.8M487 923.5h.8M461.8 939.1h.8M471.9 925.1h.8M492.8 910.2h.8M487.9 920h.8M500.5 923.7h.8M467.2 935.5h.8M472.8 925h.8M471.2 927.3h.8M466.6 935.8h.8M506.2 919.4h.8M461.1 930.3h.8M478.4 927.9h.8M461.9 931.5h.8M451.3 928.4h.8M491.1 925.4h.8M456.9 932.7h.8M507.5 934.2h.8M474.4 922.3h.8M479.7 926.6h.8M460.5 920.4h.8M496.5 920h.8M495.5 932.7h.8M458.2 932.5h.8M473 919.5h.8M463.8 930.3h.8M493 921.9h.8M472.2 935h.8M447.1 933.8h.8M461.5 923.7h.8M529.7 919.1h.8M488.9 918.9h.8M491.7 928.7h.8M469.7 942.6h.8M489.9 926.2h.8M460.2 923.8h.8M508 924.2h.8M468.2 926.6h.8M445.1 928.5h.8M463.2 933.8h.8M468.7 919.9h.8M453.2 942.4h.8M485.2 918.2h.8M466.1 925.6h.8M489.2 920.1h.8M451.5 933.4h.8M457.2 931h.8M439.5 929.6h.8M508.4 915.9h.8M474 927.6h.8M477.6 927h.8M488.6 922.6h.8M457.8 931.2h.8M488.9 924.4h.8M451.7 928.4h.8M488.8 933.2h.8M472.4 932.5h.8M500.2 927.4h.8M461 940.3h.8M496.7 920.3h.8M476.1 940.9h.8M460 929.9h.8M469.3 934.1h.8M440.3 934h.8M479.6 934.8h.8M483.6 929.7h.8M481.5 927.8h.8M478.3 928.4h.8M468.5 933h.8M492.6 931.1h.8M496.4 923.5h.8M494 935.7h.8M487.9 929.4h.8M473.6 918.8h.8M456.4 929.9h.8M465.7 930.6h.8M454 928h.8M474.1 922.2h.8M458.5 932.9h.8M515.7 924.6h.8M466.9 939h.8M477.1 916.5h.8M464.1 917.6h.8M470.5 937.8h.8M515.5 944.3h.8M482.2 928.4h.8M479.1 927h.8M448.3 934.6h.8M476.5 933.2h.8M477.9 921.9h.8M493.7 931.3h.8M471.3 933.2h.8M483.7 924.6h.8M479.4 923.3h.8M500.4 923h.8M494.6 937.4h.8M477.2 932.3h.8M501.8 914.1h.8M515.8 927.9h.8M453.2 931.7h.8M515.8 924.8h.8M502 932.1h.8M464 931.9h.8M477.3 924.8h.8M465.7 928.2h.8M443.3 925.9h.8M465.7 935.8h.8M467.6 924.5h.8M444.4 932.6h.8M474.6 933.4h.8M462.9 917h.8M486.8 935.5h.8M476.3 929.1h.8M523.6 922.7h.8M485.8 932.9h.8M484.6 917h.8M482.9 925.6h.8M457.8 936h.8M463.7 932.2h.8M463.2 933.4h.8M500 920.7h.8M461.7 935.6h.8M459.8 936.6h.8M482.3 922.2h.8M466.2 937.6h.8M491.5 927.7h.8M464.7 931.8h.8M485.1 935.7h.8M480.6 926.6h.8M466.6 927.8h.8M480.7 928.7h.8M468.9 928.7h.8M452.9 926.3h.8M461.8 923.2h.8M505.1 938.3h.8M471.3 928.4h.8M473 926.6h.8M484.7 919.6h.8M479.1 923h.8M480.9 923.4h.8M472.4 931.1h.8M487.6 918.8h.8M465 924.6h.8M444.5 933.2h.8M471.4 927.1h.8M461.8 940.8h.8M457.6 914.4h.8M469.3 930.9h.8M455.6 929.8h.8M477.1 924.5h.8M466.9 934.1h.8M462.6 924.4h.8M489.8 926.9h.8M499.8 924.4h.8M470.2 931.6h.8M479.2 928.3h.8M457.7 926.2h.8M461.1 926.9h.8M484.4 930.2h.8M480 930.2h.8M463.4 924.5h.8M460.5 924.8h.8M480.4 933.8h.8M496.8 930.3h.8M495.7 929.3h.8M449.1 926.7h.8M479.7 927.9h.8M451.7 930.6h.8M448.1 929.8h.8M487.1 928.8h.8M465.2 933.3h.8M511.2 922.9h.8M472 934.3h.8M484.4 907.6h.8M459 915.4h.8M469.1 920.1h.8M517.8 931.2h.8M456.9 928.4h.8M477.2 934.1h.8M446.2 924.4h.8M488.9 918.8h.8M499.8 930.6h.8M477.5 933.2h.8M477 924.6h.8M459.5 917.3h.8M469.7 932.2h.8M467.7 926.4h.8M509.2 942.4h.8M460 928.4h.8M481.4 930.3h.8M488.5 936.2h.8M467.9 932.3h.8M489.4 929.1h.8M476.4 921.4h.8M476.5 928.2h.8M497.5 924.2h.8M482 930.5h.8M465.4 933.9h.8M494.8 925.9h.8M476 932.4h.8M489.8 927.4h.8M479.5 925.5h.8M487.5 922.6h.8M474.1 920.8h.8M520.2 925.5h.8M476.9 931h.8M445.5 935.3h.8M468.9 933.6h.8M487.7 928.6h.8M494.2 924.5h.8M479.9 926h.8M462.2 923.1h.8M483.7 938h.8M459.6 927h.8M463 932.1h.8M438.5 933.2h.8M480.3 929h.8M481.8 935.2h.8M450.2 937.8h.8M439.6 933.7h.8M504.7 930.4h.8M473.5 921h.8M460.7 927.4h.8M482.9 923.6h.8M474.4 928.3h.8M481 931.5h.8M452.6 927.1h.8M490.3 929h.8M445.7 925.1h.8M457.5 916.1h.8M443.4 934.3h.8M502.8 935.1h.8M485.7 934.4h.8M499.7 919.7h.8M504.6 920.4h.8M467.3 912.9h.8M468.3 918.4h.8M518.3 926.1h.8M493.5 929.8h.8M466.9 921.2h.8M466.3 925.5h.8M500.1 924.7h.8M481.9 927.7h.8M481.5 928.3h.8M469.4 920.6h.8M456.6 928.8h.8M481.6 941h.8M495.7 920.5h.8M489.4 917h.8M512.3 929h.8M462.6 932.2h.8M467.6 924.1h.8M480.8 919.8h.8M483.1 930.3h.8M489.4 933.4h.8M500.2 932.4h.8M497.1 917.7h.8M471.6 937.8h.8M464.6 934.1h.8M496.7 934.5h.8M464.2 931h.8M473.5 932.6h.8M439.2 931.6h.8M497.9 925.8h.8M478.2 925.4h.8M464.2 921.9h.8M467.2 928h.8M493.4 922.1h.8M462.4 929.3h.8M472.3 936.6h.8M475.6 911.8h.8M475.3 922.5h.8M492.7 924.7h.8M470.2 941.9h.8M469.2 926h.8M469.6 933.5h.8M497.5 922.2h.8M490.2 931.9h.8M481.2 924.5h.8M473.7 935.5h.8M458.5 936h.8M486 929.9h.8M506.6 925.4h.8M470.2 935.7h.8M457.2 930h.8M458.9 920h.8M494.5 926.4h.8M440.7 931.5h.8M520.9 930.2h.8M471.8 931h.8M470.6 930.3h.8M473.4 929.7h.8M452.1 919.9h.8M443.3 927.4h.8M478.3 931.6h.8M446.4 935.3h.8M479.5 926h.8M465 926.6h.8M453.1 932.9h.8M495.1 924.4h.8M491 930.9h.8M503.6 920.6h.8M462.3 927.1h.8M487 925.3h.8M486.7 915.8h.8M479.3 942.9h.8M492.1 922.5h.8M487.8 931.4h.8M450 942.6h.8M449.3 928.3h.8M489.3 930.7h.8M479.8 925.9h.8M491.3 929h.8M470.4 935.9h.8M505.2 921.5h.8M453.2 931.8h.8M493.3 917.4h.8M471.7 930.8h.8M487.3 926.8h.8M498.5 928.2h.8M497.3 930h.8M472.2 938.3h.8M463.4 932.1h.8M469.3 923.8h.8M452.3 938.2h.8M439.2 936.3h.8M478.6 931.9h.8M481.5 931.5h.8M478.6 924.7h.8M475.5 927.6h.8M463 940.8h.8M449.9 938.7h.8M470.4 928.1h.8M477.6 931.1h.8M443.4 934.9h.8M472.9 928.5h.8M476.3 927.5h.8M461.9 933h.8M472.9 934.5h.8M478.5 939.3h.8M494.7 920.5h.8M495.7 921h.8M481.6 925.4h.8M450.2 936.2h.8M459.4 925.2h.8M473.9 935.5h.8M467.5 921.5h.8M468.3 925.2h.8M498.5 927h.8M500 925.3h.8M473.8 936.9h.8M496.7 927.2h.8M507.4 927.1h.8M477.6 920.2h.8M467 920.1h.8M507.7 920.1h.8M458.1 934h.8M458.3 926.4h.8M493.5 924.3h.8M470.7 920.4h.8M451.7 932.4h.8M452.6 925.6h.8M500.1 919.9h.8M480.4 935.1h.8M488.8 934.5h.8M471.2 934.5h.8M496.8 931.9h.8M465.5 923h.8M484.9 934.5h.8M461.4 930.3h.8M450.4 933.5h.8M502.1 917.2h.8M498.6 922.9h.8M461.4 930.6h.8M447.2 934.1h.8M457.9 925.2h.8M478.7 937.7h.8M491 931.6h.8M500.5 927.8h.8M496.7 923.4h.8M488.7 929.5h.8M454 929.3h.8M483.6 933h.8M474.3 936.3h.8M454.5 938.1h.8M493.9 918.9h.8M468.4 921.4h.8M484.4 923.7h.8M475.7 936.2h.8M452.9 937.3h.8M490.3 923.8h.8M451 929.1h.8M459.4 923.9h.8M506.7 920.2h.8M494.5 928.7h.8M499.5 926.7h.8M454.2 934.2h.8M449 932.1h.8M487.6 918.5h.8M489.1 934.2h.8M495.8 927.2h.8M478.2 936.8h.8M492.3 928.5h.8M456.1 929.6h.8M444.6 928.6h.8M497.6 932.2h.8M486.3 920.8h.8M500.6 921.7h.8M454.4 927.6h.8M458.9 926.6h.8M499.8 921.1h.8M469.7 942.5h.8M460.6 934.1h.8M490.4 920.8h.8M468.2 920.4h.8M456.9 925.6h.8M462.8 933.5h.8M477.2 936.3h.8M479.5 921.6h.8M476.8 937.8h.8M488.1 940h.8M500.3 931.4h.8M498.1 926.4h.8M473.3 938.3h.8M498.3 929.4h.8M486.9 920.1h.8M474.7 920.7h.8M479.7 934.9h.8M449.2 933.1h.8M504.6 928.2h.8M482.3 936.5h.8M450.2 929.6h.8M455.7 921.3h.8M456.9 929.6h.8M458 922.4h.8M452.1 926.4h.8M452.3 931.7h.8M483 935.5h.8M452.7 927h.8M468.8 938.7h.8M465.2 935.9h.8M499.5 929.3h.8M502.1 923.1h.8M453.9 929h.8M489.2 933.2h.8M502.6 925.8h.8M473.4 921.2h.8M455.8 930.9h.8M495.3 931.5h.8M471.4 936.7h.8M439 933.2h.8M479.6 919.9h.8M479.7 933.3h.8M497.9 919.9h.8M481 934h.8M500.1 928.5h.8M491 918.6h.8M503.1 931.6h.8M458.2 938.3h.8M459.2 935.9h.8M488.8 931h.8M480.1 922h.8M461.7 926.5h.8M509.4 927h.8M456.5 933.2h.8M450.3 930.4h.8M484 937.1h.8M454.5 920.4h.8M479.9 937.6h.8M439.1 927.2h.8M456.3 928.3h.8M502 928.1h.8M467.3 924.3h.8M499 920.9h.8M491.3 921.6h.8M497.1 929.5h.8M465.5 920.8h.8M505.4 929.9h.8M461.2 932.8h.8M483.4 918.7h.8M484.2 916.9h.8M487.6 920h.8M455.6 937.9h.8M507.7 921.2h.8M500.6 931h.8M463.6 923.7h.8M511.3 930.7h.8M494.6 923.8h.8M482.5 934.7h.8M494.6 932.1h.8M472 935.9h.8M503.2 926.1h.8M474.1 921.9h.8M463.5 922h.8M482.4 920.8h.8M451.7 933.9h.8M478.8 937h.8M496.5 929.7h.8M496.9 925.9h.8M458.1 921.3h.8M475.6 922.7h.8M492.7 928.4h.8M460.1 922h.8M495 930.6h.8M489.2 932.9h.8M440 927.2h.8M471.7 919.4h.8M507.3 930.6h.8M450.2 926.2h.8M449.1 930.2h.8M443.3 934.9h.8M492.4 931.5h.8M449.2 923.5h.8M467 936.1h.8M476.3 922.4h.8M464.4 937.9h.8M464.6 936.1h.8M468.5 919.3h.8M494.4 936.5h.8M498.4 922.3h.8M461.1 933.7h.8M499.6 922.9h.8M486.1 933.4h.8M455.1 925.9h.8M467.5 919h.8M467.6 938.5h.8M483.8 932.6h.8M457.2 921.5h.8M507.4 919.1h.8M483.8 916.4h.8M464.4 935.2h.8M455.6 919.8h.8M494 921h.8M503.1 931.3h.8M453.1 929.2h.8M472.1 919h.8M463.7 924h.8M460.1 934.9h.8M500.5 925.3h.8M490 933.3h.8M475 939.4h.8M454.4 926.3h.8M466.6 939.1h.8M446.2 930.4h.8M450 929h.8M453.8 930.3h.8M483 921.6h.8M456.9 926h.8M488.7 932.5h.8M504.9 920.9h.8M457.9 929.5h.8M457.9 934.8h.8M489.1 923.9h.8M485.8 918.7h.8M476.2 936.2h.8M500.1 928.9h.8M446 934.3h.8M498.5 924.1h.8M477.2 920.4h.8M494.8 936.1h.8M492.6 922.2h.8M482 936h.8M467.6 934.2h.8M454.7 923.4h.8M472.9 935.1h.8M453.3 929.3h.8M495.7 929.5h.8M442.3 930.2h.8M456.7 926.2h.8M478.2 936.6h.8M476.4 936.9h.8M505.3 926.4h.8M488.4 920.2h.8M454.6 926.1h.8M459.9 937.1h.8M496.6 918.3h.8M486.1 920.3h.8M488 934.4h.8M456.1 929.7h.8M489.5 935.4h.8M474.2 921.9h.8M499.1 927.4h.8M485.7 934.8h.8M454.9 928.6h.8M487.8 920.3h.8M495.2 923.4h.8M471.6 938.1h.8M464.4 935.5h.8M507.2 928.3h.8M498.8 922.3h.8M447 934.4h.8M492 921.1h.8M443.3 925.5h.8M451.8 923.9h.8M456.7 937.9h.8M496.4 918.5h.8M490.5 932.4h.8M484.1 921.4h.8M456.2 930.6h.8M465.9 923.9h.8M487.5 932h.8M462.2 919.2h.8M452.2 929.1h.8M504.6 919.7h.8M469 923.4h.8M490.4 932.5h.8M478.2 921.6h.8M511.4 926.4h.8M488 933.5h.8M480.2 917.7h.8M517.6 922.6h.8M506.5 927h.8M460.8 920.2h.8M458 924h.8M475.1 918.9h.8M485.4 935.5h.8M498.4 924.7h.8M450.2 928.4h.8M489.6 922.3h.8M496 921.3h.8M506.8 931.9h.8M485.4 936.3h.8M488.1 935.2h.8M442.7 937.4h.8M467.1 936.7h.8M477.2 934.3h.8M463 933.6h.8M499.9 935.5h.8M490.2 921.6h.8M453.1 936.4h.8M467.4 936h.8M444.7 924.1h.8M495.6 931.6h.8M468.2 933.7h.8M493.7 921.3h.8M448.8 933.8h.8M453.8 925.4h.8M505.4 924h.8M478.7 934.9h.8M452.5 938.2h.8M453.4 929.3h.8M502.9 920.2h.8M491.3 920.4h.8M495.2 921h.8M471.3 937.5h.8M494.6 932.8h.8M446.1 931.4h.8M495.8 926.1h.8M474.2 936.5h.8M457.5 935.9h.8M457.4 935.7h.8M478.2 936.2h.8M487.4 931.8h.8M474.9 937.8h.8M493 930.9h.8M457.5 940.5h.8M454.4 928.1h.8M453.4 927.5h.8M458.3 926.9h.8M487.8 921.5h.8M457.9 923.8h.8M458.4 929.7h.8M462.9 922.5h.8M452.2 933.7h.8M465.6 937.1h.8M462.4 934.3h.8M461.1 931.4h.8M495.5 931.3h.8M477 938.1h.8M476.7 936.8h.8M496.4 927.6h.8M496.6 932h.8M495.5 925.7h.8M449.4 926.7h.8M451.8 929.8h.8M466.1 920.8h.8M489 934.1h.8M470.7 938.3h.8M497.8 928.8h.8M509.8 924.1h.8M472.9 935.4h.8M454.2 928.5h.8M484.1 934.8h.8M455 929.9h.8M459.4 930.9h.8M467.7 922h.8M485 936.9h.8M492.8 933.1h.8M496.7 919.3h.8M447 930.7h.8M462.3 933.9h.8M452.4 930.1h.8M444.4 930.1h.8M464.9 924.5h.8M492 934.3h.8M490.3 930.6h.8M485.9 918.6h.8M493.9 915.7h.8M452.8 935.5h.8M494.6 924.3h.8M449.7 929.8h.8M473.4 918.4h.8M501.4 929.7h.8M462.7 938.9h.8M480.1 935.2h.8M463.3 934.9h.8M453.5 925.6h.8M465.3 937.7h.8M480.8 935.6h.8M484.2 921.5h.8M508.2 931.2h.8M506.1 921.5h.8M463 937.1h.8M496 922.7h.8M500.1 925.1h.8M480.3 919.8h.8M483.4 933h.8M494.3 924.9h.8M477.9 918.7h.8M449.1 935.1h.8M484.5 921.2h.8M499.2 919.7h.8M482.3 935.1h.8M462 934.7h.8M507 926.9h.8M500.9 928.1h.8M458.4 937.8h.8M492.1 919.3h.8M459.1 927.2h.8M512.4 930.3h.8M490.4 935.8h.8M490.9 915.2h.8M482 934.9h.8M480.2 917.8h.8M505.2 928.8h.8M461.6 921.1h.8M495.7 923.5h.8M480.3 934.7h.8M494 929.4h.8M452.9 935.7h.8M495.4 931.9h.8M496.7 928.3h.8M495.6 924.1h.8M470.2 920.5h.8M455.1 937h.8M482.3 936.2h.8M457.3 926.5h.8M456.4 935.8h.8M454.9 925h.8M507.9 923h.8M458.3 924.2h.8M453.3 923.2h.8M495.2 923.2h.8M484.6 917.9h.8M479.6 934.7h.8M487.3 936.6h.8M467.4 922.4h.8M488.7 933.7h.8M458.4 935.4h.8M466 921.4h.8M454.9 932.7h.8M451.7 926h.8M503.6 931.8h.8M450.8 930.1h.8M465.8 921.4h.8M480.4 922.3h.8M460.8 935h.8M450.4 938.4h.8M463.1 922.7h.8M506.3 927.7h.8M466.8 922.2h.8M493.8 932.9h.8M463.5 933.2h.8M458.3 932.2h.8M485.3 936.3h.8M496.3 923.7h.8M497.9 918.5h.8M500.6 924.8h.8M448.4 933.9h.8M493.4 933.3h.8M460.9 925.5h.8M505.7 929.9h.8M490 916.5h.8M470.1 921.5h.8M450.7 928.5h.8M484.8 918.8h.8M475 919.3h.8M461.4 934.2h.8M491.1 929.7h.8M483.4 937.2h.8M499.9 929.6h.8M478.9 935.6h.8M456.4 936.7h.8M486.5 921.6h.8M464.4 934.7h.8M501.8 928.9h.8M475.1 935.6h.8" stroke="#2b3cf0" stroke-width="0.8" fill="none"/><path d="M551.1 867.6h.8M550 890.4h.8M537.4 889.9h.8M573.2 881h.8M561.5 885.5h.8M559.2 864.7h.8M544.8 884.2h.8M545.3 907.5h.8M538.9 867h.8M531.8 882.7h.8M559.7 861.7h.8M559.6 870.8h.8M555.4 876.2h.8M548.4 854.4h.8M548.3 879.9h.8M548.5 874.4h.8M541.6 896.3h.8M557.2 882.2h.8M551.2 884.8h.8M540.8 868.9h.8M557.5 883.9h.8M552.2 901.4h.8M542 877.9h.8M542.6 885.9h.8M552.1 880.7h.8M550.6 875.4h.8M556.4 875.2h.8M558.4 868.1h.8M544 876.8h.8M559 886.3h.8M552.2 869.8h.8M539.9 900h.8M549 874.5h.8M547.9 887.6h.8M545.8 891.4h.8M555.9 874h.8M557.1 884.6h.8M549.1 874.8h.8M554 858.4h.8M546.6 879.5h.8M550.1 864.2h.8M555.1 883.4h.8M554.3 870.3h.8M556.4 871h.8M547.9 888.5h.8M553.2 870.9h.8M541.8 860.4h.8M539.6 878.2h.8M547.7 885.6h.8M545.6 868.6h.8M559.5 866h.8M548.4 877.6h.8M534 881.1h.8M550.4 895.5h.8M556.9 848.5h.8M541.2 889.2h.8M530.1 888.3h.8M552.2 870.4h.8M547.2 876.2h.8M543.3 890h.8M560.1 865.8h.8M550.4 905.7h.8M548.4 875.2h.8M545.2 910.6h.8M556.5 865.6h.8M538.9 878.9h.8M543.2 875h.8M564.5 860.5h.8M545 881.4h.8M560.3 882.4h.8M562.3 886.7h.8M553.2 862.4h.8M562.7 871.1h.8M547.7 869.8h.8M555.6 894h.8M561.6 875.6h.8M563.8 872.6h.8M554 877.2h.8M556.3 863.6h.8M567.7 859.1h.8M543.5 896h.8M547.5 876.2h.8M544.9 890.6h.8M534 862.9h.8M545.4 881.2h.8M549.3 870.3h.8M545.6 903h.8M547.6 877.4h.8M553.8 873h.8M563.3 890.5h.8M542.6 889.7h.8M535.2 890.8h.8M522 879.6h.8M549 873.5h.8M543.3 868.7h.8M527.1 898.2h.8M548.5 880.3h.8M549.1 875.2h.8M527.4 866.3h.8M542.1 886.9h.8M532.4 899.2h.8M554.5 922.1h.8M540.3 920.9h.8M567.7 920h.8M551.9 939.3h.8M551.1 912.2h.8M559.1 900.7h.8M541.9 907.6h.8M547.3 931.5h.8M538.2 912.7h.8M547.3 902.9h.8M546.3 925.7h.8M533.9 914.1h.8M546.4 942.8h.8M556.5 925h.8M547.7 911.7h.8M549.1 895.8h.8M535.1 907.6h.8M546.9 933.6h.8M551.9 943.8h.8M558.3 916.7h.8M551.5 933.2h.8M551.4 917h.8M562.6 926.6h.8M548.4 919.8h.8M547.1 915.9h.8M556.4 905h.8M535.6 926h.8M549.6 914h.8M554.9 921.2h.8M543.7 923h.8M554.5 934h.8M556.8 929.9h.8M551.9 922.7h.8M555.9 915.2h.8M548.2 916.3h.8M538.7 917.2h.8M542.7 921.2h.8M560.4 904.1h.8M550.7 914.8h.8M539.5 918.2h.8M558.9 916.8h.8M552.8 913.3h.8M546 917.3h.8M541.8 919.9h.8M547.6 915.1h.8M551.8 920.3h.8M553.3 900.3h.8M535.9 927.4h.8M553.8 931.5h.8M540.9 920.6h.8M535 921h.8M548.5 925.7h.8M561.7 909.8h.8M561.5 920.3h.8M555.6 904.8h.8M533 908.8h.8M567.4 919.4h.8M555.9 925.8h.8M543.3 923.5h.8M541 919.2h.8M506.9 875.5h.8M506.2 870.4h.8M512.2 877.1h.8M491.1 879.6h.8M491.5 852.2h.8M488.5 883.4h.8M492.4 863.1h.8M489 865.1h.8M508.9 874.1h.8M487.4 875.3h.8M491.8 869.3h.8M497.8 874.8h.8M537.3 881.3h.8M531.8 895.8h.8M528.8 905.2h.8M540.3 910.4h.8M519.9 925.6h.8M523.8 921h.8M513.4 896.9h.8M529.2 912.7h.8M529.7 905.5h.8M528.4 898.9h.8M540.4 888.3h.8M522.7 905.4h.8M524.5 913.6h.8M529.7 905.8h.8M530 907.8h.8M510.7 916.8h.8M500.1 924.7h.8M496.8 923.7h.8M508.1 915.3h.8M490.4 922.9h.8M500.4 922h.8M505.5 919.2h.8M510.6 918h.8M492.6 925.7h.8M502.1 916.8h.8M492.9 922.1h.8M492.8 923.1h.8M501.1 918.2h.8M510.1 918.3h.8M501.9 919.3h.8M507.7 921.1h.8M500.5 921.9h.8M504.7 922.8h.8M494 923.4h.8M490 926.9h.8M500.9 923.7h.8M501 923.2h.8M503.6 917.7h.8M498.3 921h.8M496.4 920.9h.8M501.5 917.2h.8M506.8 918.2h.8M496 920.8h.8M496.4 923.7h.8M498.6 917h.8M503.3 917.4h.8M494.1 924.6h.8M494.4 922.1h.8M494.8 919.1h.8M502.4 918.7h.8M493.7 923.4h.8M497.3 926.4h.8M497.9 920.7h.8M496.6 924.3h.8M492.7 924.8h.8M494 925.2h.8M506.6 918.7h.8M494.4 923.6h.8M505.9 920.2h.8M509 916.7h.8M499 922.9h.8M509.3 919.7h.8M497.9 921.8h.8M501.8 916h.8M495.8 921.6h.8M506.9 921.4h.8M502.9 922.2h.8M498.6 921.5h.8M503.2 917.8h.8M494.9 926.1h.8M508.4 918.8h.8M490.1 926.4h.8M500.7 920.7h.8M487.9 924.2h.8M510.1 917.2h.8M504.2 919.9h.8M492.4 921.9h.8M497.7 926.3h.8M490.3 921.8h.8M496.3 920.1h.8M499.7 917.6h.8M489.6 926.7h.8M503.2 918.2h.8M495.7 921.2h.8M499.5 925.5h.8M494.9 921.8h.8M505 918.4h.8M501.7 919.2h.8M497.8 920.4h.8M496.5 921.1h.8M491.8 920.8h.8M496.2 918.8h.8M504 921.2h.8M510.8 916.3h.8M490.2 921.8h.8M502.5 920.6h.8M493.9 922.7h.8M502.1 921h.8M498.5 918.7h.8M462.6 930.6h.8M491.8 935.6h.8M472.1 919.4h.8M476.4 941.6h.8M476.1 925h.8M451.6 926.5h.8M501.6 924.8h.8M480 932h.8M481.1 922.2h.8M459.5 934.9h.8M468.5 934.4h.8M457.8 939.7h.8M482.2 930h.8M474.9 925.9h.8M474.7 929.5h.8M481.1 935h.8M477.2 941.6h.8M466.1 919.1h.8M470.7 939.4h.8M479.7 925h.8M502.2 923.7h.8M468.8 934.5h.8M507.2 910.8h.8M463 928.7h.8M472.7 928.8h.8M473.4 933.3h.8M467.4 924.9h.8M466.3 924.6h.8M456.8 923.4h.8M462 929.2h.8M505.7 922.2h.8M485.2 932.1h.8M468.8 932h.8M450.1 920.7h.8M468.4 926.3h.8M452.6 932.8h.8M478.4 916.7h.8M493.5 926.3h.8M502.7 929.3h.8M456.6 922.5h.8M457.8 931.8h.8M467 940.3h.8M474.6 922.8h.8M495.4 929.4h.8M472.9 924.1h.8M475.4 933.5h.8M493.8 924.4h.8M463.3 927.2h.8M454.9 924.8h.8M507.5 920.2h.8M455.9 935.9h.8M485.1 929h.8M480.6 934.7h.8M468.8 928.1h.8M471.4 932.3h.8M465.9 935.1h.8M486.9 922.6h.8M476.2 922.7h.8M454.6 924.2h.8M466.4 935.9h.8M498.7 920.5h.8M447.5 937.6h.8M479.8 934.1h.8M482.3 923.7h.8M472.5 935h.8M443.6 916h.8M477 919.5h.8M489.1 917.1h.8M501.7 929.7h.8M449.9 911.8h.8M462.9 936.1h.8M451.2 938.5h.8M475 928.3h.8M464.5 926.2h.8M458.4 930.3h.8M463.5 939.7h.8M480.7 922.6h.8M456.1 923h.8M494.7 919.1h.8M477.8 936.2h.8M445.5 940.4h.8M461.3 923.6h.8M487.2 942.1h.8M501.7 928.7h.8M475.7 919.3h.8M484.3 925.6h.8M478.3 924.2h.8M474 916h.8M439.7 945.7h.8M492 923.6h.8M468.8 932.4h.8M488 939.1h.8M477.9 926.2h.8M456.3 922.4h.8M491.4 930.6h.8M495.8 935.1h.8M477 937h.8M471.5 921.7h.8M480.4 928h.8M485.4 924.2h.8M491.3 925.4h.8M467.5 934.5h.8M489.6 917.1h.8M509.9 928.6h.8M473.9 935h.8M507.7 931.2h.8M473.4 928.2h.8M461.7 933.3h.8M493.5 920h.8M467.6 922.5h.8M465.4 934.9h.8M502.3 932.5h.8M485.6 934.2h.8M496.1 920.7h.8M486.5 925.2h.8M467.4 928.8h.8M458.7 928.3h.8M487.5 931h.8M489.8 926.5h.8M461.3 932.4h.8M471.5 922.9h.8M466.8 923.8h.8M466 932.7h.8M463.7 926.5h.8M492.1 929.4h.8M484.4 926.9h.8M480 922.2h.8M474 933.6h.8M477.9 921.9h.8M466.5 925.5h.8M487.3 923.5h.8M492.8 925.6h.8M460 932.7h.8M479.6 922.7h.8M493.6 926.5h.8M497.5 924.4h.8M465.3 933h.8M478.5 923.7h.8M462 934.3h.8M475.7 933.5h.8M483.7 931.6h.8M469.6 924.2h.8M487.4 927.6h.8M489.7 926.5h.8M487.8 930.9h.8M453.1 926.6h.8M467.1 934.1h.8M457.3 926.9h.8M467.5 935h.8M461.6 925.5h.8M458.9 931.1h.8M469.5 923.2h.8M470.6 932h.8M492.7 925.9h.8M494.9 925.1h.8M480.2 933.3h.8M490.2 924.5h.8M476.4 934.8h.8M492.8 923.9h.8M494.7 928h.8M470.4 924.7h.8M487.8 923h.8M490.6 927.4h.8M466 934.9h.8M492.7 927.5h.8M486.6 921.4h.8M457.5 933.9h.8M476.1 933.1h.8M483.3 932h.8M462.9 923.1h.8M482.2 934.7h.8M491.9 928.6h.8M487.5 922.2h.8M476.1 935.6h.8M463.5 927.2h.8M489.3 922.9h.8M497.2 924.2h.8M456.2 929.1h.8M455.6 930.2h.8M455.3 925.9h.8M479.4 923.6h.8M494.2 932.8h.8M470.6 932.4h.8M476.3 922.6h.8M475.4 922h.8M489.4 928.5h.8M459.4 927h.8M487.8 931.7h.8M482.6 921.5h.8M471 923.5h.8M489.7 923h.8M490.6 931.7h.8M494.7 928h.8M463.5 932.9h.8M457.8 934.3h.8M480.5 922.3h.8M488.5 923.6h.8M490.7 927.5h.8M483 923.6h.8M458.9 925.8h.8M486 930.5h.8M480.6 932.1h.8M495.5 924.3h.8M482.8 924.3h.8M494.7 923.5h.8M462.7 925.8h.8M460.6 928.7h.8M456.4 929h.8M461.6 934.6h.8M490.8 926.9h.8M457 932.7h.8M481 931.9h.8M465.9 925.8h.8M461.7 934.7h.8M485 929.6h.8M498.7 923.1h.8M488.2 926.3h.8M472.2 923.3h.8M459.4 926.5h.8M460.1 933.2h.8M483.2 918.7h.8M465.4 928.6h.8M494.7 932h.8M466.1 921.8h.8M493.9 924h.8M481.7 922.9h.8M474.3 921.8h.8M460.8 926.9h.8M452.7 929.4h.8M502.5 926.4h.8M457 932.9h.8M463.4 933.4h.8M462.9 936.6h.8M490.6 927.7h.8M471 922.1h.8M493.6 927.3h.8M467.1 935.5h.8M469 923h.8M463.2 924.4h.8M485.7 921.9h.8M461.1 932.7h.8M477.6 932.8h.8M490.1 933.1h.8M460 925.7h.8M489.7 923.8h.8M468.1 934.5h.8M483 926.4h.8M469.7 922.3h.8M470.7 934.6h.8M455.3 930.2h.8M463.1 924.4h.8M455.6 932.1h.8M487.1 931.3h.8M460.5 929.1h.8M457.9 931.9h.8M489.6 925.2h.8M475.4 921.2h.8M491.1 926.4h.8M459.9 925.1h.8M486.7 931.7h.8M457.2 926.3h.8M492.2 921.2h.8M496.2 924.9h.8M475.1 933.6h.8M471.4 922.9h.8M458 930.8h.8M463 922.1h.8M460.8 929.1h.8M470.6 933.8h.8M486 930.6h.8M465.7 932.7h.8M488 930.2h.8M490.3 922.7h.8M485.7 924.8h.8M496.4 927.4h.8M472.2 933.8h.8M485.1 933.2h.8M471.1 924.7h.8M458.9 926.8h.8M477.8 924.5h.8M460.4 928.1h.8M464.7 926.1h.8M481.3 934.8h.8M476.1 919.2h.8M478.8 923.7h.8M488.1 921.1h.8M479.1 933.9h.8M482 921.6h.8M455.5 932.3h.8M494.7 924h.8M460.4 925.8h.8M474.2 935.7h.8M479.1 923.2h.8M470.4 923.1h.8M496.8 923h.8M461.2 924.3h.8M487.9 923.6h.8M491.6 927.9h.8M454.8 927.2h.8M461.5 928.7h.8M466.4 931.8h.8M488.1 925h.8M489.3 924.8h.8M458.6 933.2h.8M496.7 925.7h.8M485.1 933.7h.8M467.8 922.5h.8M493.7 924.9h.8M473.1 922.8h.8M494.9 925.1h.8M495.3 924.3h.8M457.4 931.2h.8M466.8 924h.8M482.1 924.1h.8M486.8 931.7h.8M462.1 930.5h.8M469 923.7h.8M464 924.4h.8M479.1 922.5h.8M472.9 921.2h.8M483.9 925.6h.8M492.7 926.4h.8M473.7 933.9h.8M472.4 934.2h.8M495.1 929.6h.8M469.4 923.8h.8M463.7 922.5h.8M468.7 922.5h.8M485.8 933.1h.8M498.6 931.8h.8M462.5 924.2h.8M483.1 932.2h.8M490.5 929.3h.8M465.1 924.8h.8M490.8 922.6h.8M471.1 932.6h.8M474.3 920.9h.8M461.7 933.6h.8M457 929.4h.8M475.1 922h.8M475.4 934.6h.8M460.5 927.8h.8M452.3 934.5h.8M492.9 925.8h.8M459.5 929.7h.8M488 933.3h.8M477.8 922h.8M468.7 920.4h.8M471.9 924.7h.8M472.8 924h.8M493 929.4h.8M460.5 930.9h.8M488.8 933.7h.8M482.7 932.6h.8M487.2 922.2h.8M464.5 923.6h.8M494.3 928.2h.8M464.2 924.6h.8M468.9 936.6h.8M490.2 932.4h.8M499.2 924.8h.8M463.8 933.7h.8M485.8 931.9h.8M466.1 923.3h.8M482.8 934.8h.8M465.3 925.2h.8M472.4 924.9h.8M469 933.5h.8M489.3 925.4h.8M476.6 922.1h.8M455.9 930.6h.8M479.4 923.7h.8M478.7 920h.8M455 931h.8M469.7 934.8h.8M459.5 929.4h.8M479 936.4h.8M486.4 921.5h.8M492 925.3h.8M484.3 923.3h.8M459.2 930.5h.8M490.7 923h.8M490 932h.8M494.1 926.7h.8M455.2 924.9h.8M461.7 932.8h.8M464.7 934.2h.8M486.4 932.7h.8M472.1 933.5h.8M493.1 930.3h.8M491 924.5h.8M469.1 935.9h.8M471.2 924.4h.8M483.3 932.8h.8M487.2 932.6h.8M450.9 934h.8M462.4 928.4h.8M454 925.7h.8M475.4 921.1h.8M484.2 920.3h.8M485.4 921.5h.8M477.1 921.3h.8M495.9 926.1h.8M464.2 932.3h.8M489.2 931.1h.8M491.1 921.5h.8M496.4 926.3h.8M463.1 933.3h.8M478 934.1h.8M459.1 932h.8M451.7 930.8h.8M474.8 921.4h.8M495.5 927.3h.8M489.5 929.7h.8M484.1 932.7h.8M456.8 925.9h.8M483.2 921.5h.8M462.2 925.6h.8M460.3 933.6h.8M470.9 936.1h.8M463.4 932.2h.8" stroke="#3f7bf5" stroke-width="0.8" fill="none"/><path d="M500.8 922.4h.8M502 920.2h.8M491.4 925.4h.8M501.7 918.3h.8M501.4 918.4h.8M500.8 923.2h.8M496.6 924.9h.8M497.2 921.5h.8M495.2 923.3h.8M503 922.7h.8M495.7 918.8h.8M501 917.9h.8M509 918.7h.8M499 918.9h.8M497.4 921.1h.8M505.7 921h.8M503.1 918.1h.8M494.4 921.8h.8M506.7 921.6h.8M497.2 922.9h.8M500.8 918.6h.8M496.4 922.6h.8M496.6 921h.8M500.9 919.7h.8M503.8 917.2h.8M496.3 917.7h.8M500.1 924.2h.8M502 920.3h.8M497.3 921.5h.8M503.5 917.4h.8M503.9 923.4h.8M502.2 917.2h.8M506.8 920.2h.8M498.1 922.4h.8M503.3 917.6h.8M499.2 922.4h.8M496.9 919.4h.8M492.1 922h.8M497.5 924.2h.8M504.2 916.9h.8M500.9 925.1h.8M500.2 919.4h.8M491.9 920.4h.8M506.4 921.8h.8M496.1 917.9h.8M502.6 916.9h.8M501.5 920.3h.8M508.8 915.8h.8M489.4 924.7h.8M507.2 918.9h.8M506 917.8h.8M491 926.4h.8M499.1 925.2h.8M494.7 918.3h.8M502.5 919.6h.8M465.1 933.3h.8M469.2 924h.8M489.9 929.7h.8M488 931.4h.8M464.8 928h.8M465.9 934.3h.8M486.7 925.3h.8M464.6 927.4h.8M478.2 923.2h.8M480.8 931.9h.8M484 933.5h.8M458.4 930.6h.8M467.2 924.1h.8M486.7 922.6h.8M484.2 930.4h.8M486.5 927.3h.8M470.2 929.9h.8M479.4 922.2h.8M485.3 927.5h.8M489.6 924h.8M493.6 926.5h.8M458.5 929.5h.8M466.3 931.1h.8M485.8 929.2h.8M463.9 927.3h.8M463.4 929.6h.8M461.4 926.2h.8M468.2 923h.8M494.4 928.1h.8M476.4 933.5h.8M493.2 927.4h.8M477.8 924.7h.8M474.2 934.9h.8M491.6 924.7h.8M467.2 931.6h.8M477.7 932.2h.8M455.5 928.1h.8M475.8 935.1h.8M466.9 932.5h.8M474.6 923.6h.8M461.1 930.7h.8M479.3 923.6h.8M471.9 927.4h.8M471.8 933.9h.8M473.3 934.7h.8M463.3 928.5h.8M467.9 926.1h.8M462.3 929.3h.8M491.7 929.2h.8M461.9 928.4h.8M466.6 926.4h.8M467.6 929.7h.8M478.2 924.4h.8M461 926.2h.8M461.6 928.1h.8M465 933.5h.8M460.6 934.7h.8M463.8 932.4h.8M491.2 927.6h.8M486.4 930.8h.8M475.3 924.4h.8M474.4 926.6h.8M484.2 924.3h.8M464.4 927.8h.8M482.4 933.2h.8M474.3 924.5h.8M487.4 927.6h.8M461.5 929.5h.8M477.9 921.2h.8M470.9 925.7h.8M474.3 932h.8M462.2 928.4h.8M479.7 922.9h.8M467.3 933.2h.8M484.2 922.8h.8M464.5 925.9h.8M487.2 926h.8M461 930h.8M477.8 924.1h.8M483.1 925.1h.8M466.7 932.8h.8M473.8 923.7h.8M479.3 931.6h.8M461.9 930.2h.8M464.2 928.4h.8M490 923.3h.8M478.9 933.8h.8M484.3 928.9h.8M466.1 925h.8M482.1 923.7h.8M465.6 923.6h.8M489.2 931.1h.8M477.7 932.9h.8M463.5 927.6h.8M458.7 928.8h.8M473.6 923.8h.8M456.5 929.5h.8M489.9 925.7h.8M459.3 930.6h.8M490.9 927.8h.8M459.6 930.2h.8M464.3 932.9h.8M479 922.8h.8M481.1 929.2h.8M480.8 933.3h.8M487.8 929.9h.8M474.4 932.6h.8M481.9 924.9h.8M481.8 931.7h.8M462.1 931.4h.8M475.4 933.9h.8M476.5 922.7h.8M480 925.1h.8M479.8 932.9h.8M465 934h.8M468.3 931.5h.8M492.8 923.3h.8M476.7 923.5h.8M460.2 927.8h.8M475.2 932.3h.8M486.1 925.4h.8M473.4 925h.8M488.7 924.3h.8M472.7 924.3h.8M484.9 924.9h.8M482 924.6h.8M471.5 932.6h.8M491.3 928.9h.8M473 923.8h.8M488.5 929.7h.8M462.1 934.1h.8M466.8 925.5h.8M488.6 928.7h.8M462 930.9h.8M489.9 928.4h.8M480.8 925.2h.8M466.7 932.5h.8M486.6 924.9h.8M465.5 928h.8M486.7 926.5h.8M463.1 932.1h.8M471.7 933.2h.8M480.1 922.6h.8M492.6 928.5h.8M457.3 930.8h.8M482.8 929.8h.8M488.9 928.1h.8M491.5 926.5h.8M464.4 930.4h.8M487.8 929.4h.8M476.6 931.3h.8M462.5 928.7h.8M466.9 931.3h.8M469 926.1h.8M460.6 929.4h.8M459.8 929.3h.8M470.9 923.8h.8M484.7 922.2h.8M458.1 930h.8M488.5 922.9h.8M481.3 922.3h.8M488.2 926.5h.8M462.2 930.6h.8M481.7 932.9h.8M468.1 934h.8M469.7 932.7h.8M466.7 929.3h.8M456.2 930.6h.8M464.3 932.3h.8M489.3 927.9h.8M496.8 927h.8M461 927.7h.8M458.8 930.4h.8M472.8 923h.8M475.7 932.1h.8M463.1 930.6h.8M491.4 926.5h.8M457.3 928.8h.8M477.3 923.4h.8M474.4 934.1h.8M473.3 922.6h.8M459.9 924.6h.8M489.6 924.3h.8M465 932.6h.8M481.6 925.5h.8M461.2 929.4h.8M489.3 928.8h.8M462.1 931.4h.8M472 933.7h.8M462.3 931.9h.8M465.9 924.1h.8M481.9 932.2h.8M482.1 927.8h.8M488.3 926.8h.8M477.1 923.6h.8M466.5 927.1h.8M462.7 927.6h.8M483.1 926.4h.8M491.5 927.4h.8M458.7 927.4h.8M475.5 923h.8M466 926.1h.8M469.7 933.3h.8M485.5 926.2h.8M489.8 928.7h.8M462.4 925.9h.8M474.3 932h.8M489.6 928.4h.8M477.2 923.1h.8M476.5 934.3h.8M473.7 922.5h.8M469.6 933.6h.8M484.3 923h.8M468.3 931h.8M461.9 929.4h.8M478.1 924.8h.8M476.1 930.5h.8M493.4 925.1h.8M484.6 927.1h.8M460.3 930.3h.8M489.5 927h.8M465.4 931.2h.8M473.3 923.5h.8M465.2 924.5h.8M490 930.8h.8M473.9 930.9h.8M459.3 928.1h.8M463.3 924.7h.8M455.5 931.4h.8M468 931.9h.8M487.5 927.2h.8M493.3 929.1h.8M460.7 929.9h.8M488.6 925.2h.8M464.9 929.2h.8M462.5 931.7h.8M493.7 926.8h.8M471.2 925h.8M477.2 933.9h.8M474.5 934.9h.8M477.3 932.1h.8M480 924.6h.8M480.5 924.8h.8M465.3 933h.8M490.3 929.4h.8M465.2 922h.8M481.8 931.4h.8M482.8 923.2h.8M470.3 922.8h.8M481 923.1h.8M465.9 934.7h.8M492.4 930.9h.8M469.5 929.7h.8M480.4 930.5h.8M458.2 931.1h.8M483.6 931.1h.8M477 924.9h.8M479.2 923.3h.8M468.3 934.7h.8M489.7 926.4h.8M477.4 923.9h.8M481.1 924.4h.8M496.9 928h.8M463.6 930.3h.8M490.9 927.4h.8M487.3 928.2h.8M491 929.7h.8M468.9 922.8h.8M485.6 930.7h.8M480.8 924.1h.8M465 932.1h.8M472.7 933.1h.8M487.1 923.7h.8M463.3 928.3h.8M462.9 930.4h.8M485.5 930.5h.8M490.9 927.6h.8M490.9 930.6h.8M470.5 932.4h.8M482.4 922.5h.8M468.8 922.5h.8M476.2 924h.8M482.5 928.3h.8M482 924.8h.8M463.7 932.2h.8M460.1 930.3h.8M487.8 930.8h.8M466.2 925.7h.8M460.6 928.3h.8M464.5 932.7h.8M491.9 927.5h.8M462.4 927.5h.8M471.4 934.1h.8M462.7 926h.8M469.2 934.4h.8M472.1 925.3h.8M483.3 923.3h.8M474.6 924.9h.8M494.3 930.1h.8M463.4 927.8h.8M481.6 922.3h.8M495.2 927.3h.8M476.8 923.8h.8M474.9 931.5h.8M472.4 932.7h.8M495.3 927.6h.8M462.2 930.5h.8M486.2 927.9h.8M475.7 931.3h.8M464.8 924.5h.8M463.3 929.9h.8M490 926.5h.8M477 922.4h.8M478.5 931.6h.8M468.3 932.2h.8M470.5 926.1h.8M464.5 930.7h.8M468.9 923.6h.8M481.4 931.4h.8M461.3 931.9h.8M456.4 929h.8M483.4 923.8h.8M476 931.4h.8M464 926.1h.8M484.3 928.3h.8M459.5 926.2h.8M459.1 927.2h.8M480.4 929.8h.8M470.7 924.8h.8M476.6 933.8h.8M464.3 924.8h.8M485.9 923.3h.8M477.8 923.4h.8M482.6 929.6h.8M488.9 928.4h.8M495.3 926.6h.8M481.5 925.8h.8M488.2 923.6h.8M473 932.4h.8M466.4 927.9h.8M478.5 932.1h.8M488.9 923h.8M470.9 923.7h.8M464.5 929.3h.8M480.7 933.2h.8M475.2 923h.8M465.9 933.1h.8M462.8 927.2h.8M489 928.5h.8M459.5 927.2h.8M466.5 926.7h.8M469.8 933.7h.8" stroke="#22c7d8" stroke-width="0.8" fill="none"/><path d="M474.6 925.5h.8M484.3 924.1h.8M470.3 925.5h.8M481.2 931.1h.8M467.1 933.3h.8M468.2 926.8h.8M475.6 924.8h.8M485.5 926.1h.8M483.3 926.4h.8M476.3 924.3h.8M467.7 931.6h.8M462.8 931.2h.8M466.7 931.8h.8M472 929h.8M463.1 927.4h.8M481.9 925.6h.8M475.9 925.1h.8M473.6 931.1h.8M465.3 930.1h.8M479.4 923.5h.8M476.3 924.9h.8M477.7 926.1h.8M476.4 925.4h.8M464.6 931.5h.8M466.8 929.2h.8M473.9 925.7h.8M482.9 929.6h.8M468.9 923.8h.8M467.5 930h.8M486.4 923.3h.8M475.9 932.4h.8M478.1 927h.8M473.8 925.2h.8M480.5 926h.8M481.7 926.3h.8M469.7 926.2h.8M470.7 925.2h.8M477.6 925.7h.8M464 931.2h.8M479.2 925.4h.8M480.1 926.1h.8M461.2 928.7h.8M481.2 928.6h.8M472 924.1h.8M486.3 928.7h.8M486.1 927.1h.8M482.7 930.9h.8M476.2 924.1h.8M473.4 932.9h.8M471.7 930.9h.8M479.4 930.8h.8M464.5 929h.8M474.9 931.5h.8M470.1 929.9h.8M474.6 931.1h.8M461.6 931.6h.8M478 928.2h.8M479.8 925.2h.8M481.9 928.7h.8M487.3 926.7h.8M466.7 930h.8M464.1 928.5h.8M483.3 929.5h.8M464.1 928.5h.8M488.3 928.6h.8M484.3 925.3h.8M463.5 929.2h.8M484.7 925.7h.8M468.4 928.9h.8M472.7 926.1h.8M463.8 927.4h.8M479.2 922.9h.8M466.1 927.4h.8M482.9 930.2h.8M491.2 929.2h.8M487.7 924.8h.8M472.6 924.5h.8M470.8 927.1h.8M459.4 927.4h.8M476.4 930.5h.8M467.1 928.6h.8M479.6 925.3h.8M465.5 929.6h.8M472.6 931.1h.8M463.8 927.8h.8M471.3 929.9h.8M471.6 929.5h.8M479 928.5h.8M475.7 924.6h.8M466.3 930.2h.8M475.2 925.3h.8M491.6 927.9h.8M476.6 923.3h.8M466.7 928.1h.8M479.8 926.7h.8M482.3 928.9h.8M476.2 924.2h.8M475.9 930.1h.8M473.8 924.2h.8M476.9 926h.8M464.5 930.3h.8M485.7 925h.8M465.6 924.6h.8M469.5 932.2h.8M486.4 927.2h.8M470.1 931.4h.8M481.8 926.7h.8M482.1 925.8h.8M482.5 924.4h.8M468.3 930.2h.8M470.5 931.5h.8M485.3 924.7h.8M483.4 928.6h.8M468 928.6h.8M484.9 926.6h.8M477.9 923.9h.8M489.7 926.9h.8M475 932.6h.8M474 931.6h.8M488.7 929.3h.8M491.9 922.8h.8M476.7 932.3h.8M473.8 925.4h.8M469.1 931.6h.8M482.6 927.7h.8M489.8 926.1h.8M468.5 925.7h.8M484.8 929.2h.8M473 923.7h.8M489.9 926.8h.8M484.1 926.8h.8M474.6 924.8h.8M482.4 926.6h.8M463.5 926.1h.8M483.4 926.2h.8M467.4 930.1h.8M483.7 928.7h.8M485.5 930.6h.8M477.4 923.2h.8M478.9 922.4h.8M465.5 926.8h.8M476.6 926.5h.8M488 925.5h.8M485.9 929.4h.8M477.5 931.1h.8M482.2 924.3h.8M479.3 933.5h.8M487.2 926.1h.8M462.8 928.9h.8M469.8 927.7h.8M468.3 931.8h.8M484.9 928.4h.8M481 928.3h.8M476.6 930.7h.8M481.3 930.4h.8M481 932.2h.8M466 929.3h.8M484 929.6h.8M465.4 927.7h.8M478.6 929.5h.8M471.6 931.2h.8M487 928.5h.8M465.6 927.3h.8M465.1 925.6h.8M469.1 933.4h.8M485 925.1h.8M470.6 926.9h.8M469.6 929.5h.8M490 927.8h.8M467.4 926.2h.8M468.6 930.8h.8M479.3 929.4h.8M472.2 927.3h.8M476.9 926.1h.8M479.5 929.2h.8M486.4 929.5h.8M477.3 931.4h.8M488.6 924.8h.8M473.4 931.5h.8M476.3 931.2h.8M476.9 929.1h.8M482.2 930.9h.8M463.6 929.9h.8M471.6 924.5h.8M465.8 929.1h.8M470.1 927h.8M477.3 929.9h.8M489 924.9h.8M466.9 931.3h.8M473.1 926.3h.8M468.7 929h.8M473.2 930.8h.8M480.5 927.1h.8M484.9 926.1h.8M464.8 929h.8M481.8 925.1h.8M479.6 925.4h.8M480.3 932.4h.8M485.7 931.6h.8M484.5 928h.8M467.6 932.7h.8M483.5 928.2h.8M483.6 930.1h.8M479 932.4h.8M476.3 925.5h.8M482.8 928h.8M461.1 929.9h.8M469.7 928.8h.8M476.8 931.1h.8M474.7 931h.8M477.3 928.7h.8M475.4 932.7h.8M459.8 927.3h.8M469.3 930h.8M472.4 929h.8M477.3 929.5h.8M462.4 930.1h.8M470.8 925.3h.8M475.8 932.8h.8M488.9 927.5h.8M475.7 925.7h.8M473.7 926.5h.8M485.5 926.8h.8M472.2 930.8h.8M487.5 924.7h.8M465.9 929h.8M465.5 930.3h.8M478.2 925.5h.8M477 929.7h.8M480 931.2h.8M481.1 925.3h.8M473.8 926.4h.8M462.8 930.6h.8M459 929.1h.8M485.6 930.1h.8M482.4 924h.8M465.6 929.9h.8M467.4 930.6h.8M462.1 929.3h.8M463 929.7h.8M483.1 932h.8M469.8 930.5h.8M482.5 926.2h.8M467.8 932.1h.8M477.9 925.9h.8M484 928.5h.8M470.2 933.8h.8M473.2 926.5h.8M472.7 926.4h.8M480.4 927.5h.8M473 927.7h.8M485.4 926.9h.8M461.5 929.6h.8M483.2 928.4h.8M482.4 931.6h.8M463.8 930.9h.8M466.6 929.5h.8M475.5 926.8h.8M485 924.1h.8M469.9 928.5h.8M464 928h.8M469.1 929.8h.8M481.5 924.3h.8M475.3 929.7h.8M481.3 923.3h.8M470.8 924.7h.8M469.6 932.8h.8M469.9 932.7h.8M479.6 929.7h.8M485.1 928.1h.8M469.6 934.1h.8M469.3 930.6h.8M471.5 930.3h.8M457.3 928.4h.8M479.2 925.8h.8M477.1 931.2h.8M477.1 932h.8M467.9 926.6h.8M474.4 932.1h.8M472.3 929.8h.8M473.9 926.7h.8M481 926.8h.8M480.6 927.4h.8M473.1 930.9h.8M466.4 927.9h.8M459 928.8h.8M480.7 926.1h.8M482.8 924.4h.8M469.6 931.4h.8M484.1 929.5h.8M482 929.5h.8M472.9 924.3h.8M481.2 927.2h.8M476.3 924h.8M471.7 931.7h.8M480.7 925h.8M483.9 926.1h.8M467.8 927.7h.8M480.5 927.4h.8M486.3 930.4h.8M477.2 928.8h.8M475.7 925.9h.8M480.5 931.6h.8M468.5 926.9h.8M473.8 925.1h.8M481.4 929.5h.8M473.2 930.2h.8M481.7 924h.8M466.6 931.5h.8M483.5 923.1h.8M464.5 929.7h.8M470.6 931h.8M485.3 926h.8M489.4 925.4h.8M470.7 935h.8M464.6 929.1h.8M480 926.1h.8M476 926.2h.8M478.9 931.8h.8M484.2 925.1h.8M484.9 932.4h.8M475.4 924.1h.8M467.1 931.4h.8M473.4 924.3h.8M467.1 928.6h.8M477.8 925h.8M482.9 921.6h.8M460.2 929.9h.8M484.3 928.8h.8M457.9 932.8h.8M465.5 927.3h.8M481.4 928.5h.8M465.3 925.2h.8M469.6 925.4h.8M482.3 925.7h.8M473.2 930.2h.8M466.8 931.1h.8M481 924.4h.8M463 928.3h.8M469.2 932.9h.8M469.2 924.9h.8M480.5 923.6h.8M487.4 926.9h.8M472.2 933.1h.8M487.3 924.7h.8M471.4 923.7h.8M474.6 925.5h.8M461.3 930.4h.8M468.7 933.1h.8M467.9 931.9h.8M479.6 927.1h.8M483.7 930.6h.8M471.8 926.2h.8M480.1 929.5h.8M461.3 931.8h.8M483.7 931.8h.8M482.7 928.9h.8M475.1 931.4h.8M465.4 929h.8M460.7 930.5h.8M489.3 922h.8M482.4 932h.8M478.9 926.7h.8M476 926h.8M476.6 929.6h.8M489.4 927.5h.8M470.7 926.8h.8M467.6 926h.8M476.2 925.9h.8M469.1 927.9h.8M485.3 931.3h.8M486.1 931.2h.8M459.8 929.3h.8M468.5 925.4h.8M465.8 928.9h.8M466.7 930.4h.8M469.1 927.1h.8M474.2 923.7h.8M489.2 922.9h.8M469.6 930.9h.8M477.2 932.7h.8M471.9 929.8h.8M465.6 926.5h.8M462.5 930.1h.8M484.3 924.5h.8M469.4 929.4h.8M473.8 931.9h.8M472.9 932.9h.8M460.6 931.1h.8M480.8 931h.8M472.4 930.3h.8M465.2 931.6h.8M477.8 924.2h.8M484 929.5h.8M466.8 933.1h.8M480.1 925.9h.8M470.7 927.4h.8M476.3 923.1h.8M475.1 925.9h.8M468.2 927.5h.8M457 926.4h.8M465.3 929.7h.8M486 925.9h.8M468.4 925.1h.8M476.7 931.5h.8M466.5 929.7h.8M467.6 930h.8M467.2 931.1h.8M477.8 931.1h.8M470.9 932.6h.8M465.1 931.2h.8M481.1 930.1h.8M477.4 924.2h.8M458 929.1h.8M473.4 924.9h.8M475.7 924.5h.8M479.3 925.4h.8M462 929.5h.8M479 930.3h.8M463.3 928.6h.8M478.6 932.8h.8M479.3 927h.8" stroke="#37d04a" stroke-width="0.8" fill="none"/><path d="M479.7 926.9h.8M485 928.7h.8M478.4 926.6h.8M472.8 924.1h.8M481.6 930.4h.8M474.1 926.6h.8M469.4 929.2h.8M476.5 929.4h.8M471.1 926.2h.8M470.1 929.1h.8M474.4 930.6h.8M471 926.9h.8M475 927.4h.8M469.3 927.6h.8M480.2 929.1h.8M478.5 926.1h.8M472.5 928.2h.8M479.1 929.5h.8M484.4 927.9h.8M465.5 929h.8M472.9 928.1h.8M469.8 928.1h.8M471.7 932.4h.8M474.7 924.9h.8M469 929.4h.8M483.1 925.6h.8M470.8 927.1h.8M473.7 930.3h.8M473.4 929.1h.8M482.5 928.3h.8M472.3 930h.8M482 927.6h.8M471.2 928.5h.8M468.9 927.6h.8M477 925.7h.8M465.1 928.4h.8M478.1 930.1h.8M479.5 927.9h.8M468.1 927.9h.8M468.7 930.3h.8M480.6 930.1h.8M486.2 928.3h.8M473.7 926.3h.8M471.3 929.1h.8M478.1 929.5h.8M472.6 925.4h.8M467.1 927.8h.8M472.6 926.6h.8M468.2 929.4h.8M475.2 929h.8M471.4 925.4h.8M470.4 927.5h.8M489.2 928.8h.8M480 929.3h.8M482.1 927.2h.8M484.9 926h.8M473.4 926.1h.8M477.6 926.6h.8M484.3 926.7h.8M471.4 926.8h.8M468 928.5h.8M477.8 925.3h.8M485.1 927.5h.8M470.1 928.2h.8M469.4 928.5h.8M467.6 928.3h.8M464.2 928.8h.8M481.8 930.1h.8M477 929.5h.8M475.5 925.7h.8M480 927.2h.8M481.4 928.3h.8M479 927.6h.8M483.2 925.7h.8M481 929.2h.8M473.2 926.3h.8M473 927.1h.8M478.8 929.9h.8M474.7 926.7h.8M471.8 930h.8M466.1 925.1h.8M467.5 928.9h.8M471.9 927.4h.8M475 930.5h.8M474.3 929.4h.8M473.4 930.9h.8M476.6 929.9h.8M467.1 926.9h.8M480.3 925.8h.8M478.9 925.1h.8M476.2 930.4h.8M477.9 925.1h.8M474.6 931.4h.8M474.4 925.8h.8M477.3 924.3h.8M468.7 930.4h.8M471 927.8h.8M471.5 927.6h.8M466.2 928.5h.8M473.2 926h.8M477.1 927.5h.8M478.5 928.2h.8M472.4 925.5h.8M471.7 926.7h.8M478.5 926h.8M466.4 927.2h.8M472.1 927.8h.8M483 927.5h.8M478.3 927.2h.8M470.8 930.8h.8M464.8 928.1h.8M476.5 926.5h.8M478.9 928.5h.8M466.1 928.7h.8M484.8 926.7h.8M478 928.9h.8M464.4 929.6h.8M474.6 926.9h.8M481.3 930.3h.8M471.4 930.5h.8M465.6 930.8h.8M472.2 929.6h.8M475.5 927.9h.8M485.4 929.7h.8M477.3 928.8h.8M475.1 926.8h.8M480.1 926.8h.8M471.5 929h.8M467.4 929.9h.8M470.2 927.8h.8M483.7 929h.8M478.4 928.4h.8M470.9 928.8h.8M480.5 927.6h.8M476.5 931.7h.8M472.2 926.7h.8M467.9 929h.8M469.6 929.4h.8" stroke="#d8e02a" stroke-width="0.8" fill="none"/><path d="M471.2 925.5h.8M483.8 927.9h.8M477 927.8h.8M473.6 929.7h.8M482.3 929.1h.8M475.4 927h.8M470.4 927.9h.8M477.2 931h.8M469.3 930h.8M481.8 927.7h.8M478 927.6h.8M478.7 926.6h.8M473.6 929.1h.8M482.9 930.2h.8M471.1 930.9h.8M466.5 930.4h.8M475.3 930.8h.8M478 928h.8M472.3 929.1h.8M473.9 928.8h.8M467 928h.8M470.1 926h.8M469.8 926.6h.8M466.4 927.7h.8M475.7 927.7h.8M484.3 927.4h.8M477 929.1h.8M475.9 931.1h.8M474.8 928.6h.8M468 927.7h.8M477 928.7h.8M483.1 927.2h.8M471.8 927.6h.8M473.9 927.1h.8M478.1 927.1h.8M476.7 929.1h.8M472.9 927.8h.8M470.3 930.8h.8M485.6 928.3h.8M472.6 926.4h.8M480 928.4h.8M483.2 925.1h.8M471.8 928.3h.8M477.7 926.6h.8M473.5 926.7h.8M468.3 928.2h.8M468.2 927.9h.8M476.5 927.8h.8M473.2 927.6h.8M480.6 927h.8M476.3 930.2h.8M474.5 925.5h.8M478 926.6h.8M477.9 930.7h.8M477.7 927.5h.8M473.8 929.4h.8M471.6 928.1h.8M476.2 925.8h.8M480.9 928.4h.8M480.8 928.7h.8M480.9 927.7h.8M475.9 930.2h.8M483.8 926.2h.8M473 927.2h.8" stroke="#f29a1c" stroke-width="0.8" fill="none"/><path d="M474.7 927.9h.8M473.8 928.2h.8M472.2 927.9h.8M478.5 927.7h.8M476.4 928.4h.8M473.3 927.6h.8M477.5 927h.8M475.4 927.4h.8M474.7 928.4h.8M478.4 927.1h.8M474.3 927.4h.8M472.2 928.7h.8M479.2 927.8h.8M470.8 927.3h.8M471 928.6h.8M475.8 926.9h.8M479.3 928.7h.8M474 928.1h.8M473.6 928.3h.8M468.6 929.4h.8M472.7 927.4h.8M473.4 928.5h.8M475.8 928.2h.8M477.4 929h.8M470.6 931.1h.8M473.4 929.4h.8M472.4 926.4h.8M478.5 928h.8M477.9 928.1h.8M471.1 928.7h.8M476.1 927.9h.8M472.1 927.6h.8M470 928h.8M473.4 929.9h.8M473.2 928.4h.8M474.1 929.2h.8M471.1 929.2h.8M474.5 930h.8M477.3 927.8h.8M477.8 928.8h.8M476 927.3h.8M465.7 928h.8M474.8 928.2h.8M475 928.2h.8M480.5 928h.8M479.4 927h.8M480.1 928.9h.8M465.4 929h.8M475.2 927.3h.8M471.3 928.6h.8M474.9 928.7h.8M476.3 929.7h.8M470.6 928.3h.8M469.2 928.2h.8M472.6 928.8h.8M476.2 929.9h.8M473.9 928h.8M473.9 930.9h.8M475 927.6h.8M472.4 929.6h.8M480.2 928.7h.8M478.7 926.9h.8M475.1 930.2h.8M475.5 928.3h.8M472.3 929.9h.8M478.9 927.6h.8M475.7 927h.8M476.3 927.6h.8M475.1 928.7h.8M476.5 928.7h.8M471.4 929.1h.8" stroke="#ee3a1e" stroke-width="0.8" fill="none"/><path d="M521.2 821.2V975M436.4 901.6H590.6" stroke="#222" stroke-width="1.1" fill="none"/><path d="M454.5 975v4M504.4 975v4M541 975v4M576.3 975v4M437.4 975v2.2M442.4 975v2.2M446.4 975v2.2M449.4 975v2.2M458.4 975v2.2M462.4 975v2.2M466.4 975v2.2M481.4 975v2.2M488.4 975v2.2M493.4 975v2.2M497.4 975v2.2M500.4 975v2.2M502.4 975v2.2M515.4 975v2.2M522.4 975v2.2M526.4 975v2.2M530.4 975v2.2M533.4 975v2.2M535.9 975v2.2M538.4 975v2.2M551.4 975v2.2M558.4 975v2.2M563.4 975v2.2M566.4 975v2.2M569.4 975v2.2M571.4 975v2.2M573.9 975v2.2M586.4 975v2.2M436.4 835.6h-4M436.4 872.4h-4M436.4 914.6h-4M436.4 939.6h-4M436.4 965.5h-4M436.4 824.2h-2.2M436.4 827.2h-2.2M436.4 830.2h-2.2M436.4 843.2h-2.2M436.4 850.2h-2.2M436.4 854.2h-2.2M436.4 858.2h-2.2M436.4 861.2h-2.2M436.4 864.2h-2.2M436.4 867.2h-2.2M436.4 869.7h-2.2M436.4 883.2h-2.2M436.4 891.2h-2.2M436.4 896.2h-2.2M436.4 900.2h-2.2M436.4 903.2h-2.2M436.4 906.2h-2.2M436.4 909.2h-2.2M436.4 911.2h-2.2M436.4 921.2h-2.2M436.4 926.2h-2.2M436.4 930.2h-2.2M436.4 934.2h-2.2M436.4 944.2h-2.2M436.4 948.2h-2.2M436.4 952.2h-2.2M436.4 957.2h-2.2M436.4 961.2h-2.2M436.4 969.2h-2.2" stroke="#111" stroke-width="0.9" fill="none"/><path d="M452.1 975v3.5" stroke="#111" stroke-width="4" fill="none"/><path d="M436.4 939.6h-3.5" stroke="#111" stroke-width="5.5" fill="none"/><g class="ns2" font-size="5.3" fill="#111"><text x="454.9" y="987.8" text-anchor="middle">0</text><text x="507.9" y="987.8" text-anchor="middle">10<tspan dy="-2.3" font-size="4.3">3</tspan></text><text x="544.4" y="987.8" text-anchor="middle">10<tspan dy="-2.3" font-size="4.3">4</tspan></text><text x="579.9" y="987.8" text-anchor="middle">10<tspan dy="-2.3" font-size="4.3">5</tspan></text><text x="430.4" y="837.8" text-anchor="end">10<tspan dy="-2.3" font-size="4.3">5</tspan></text><text x="430.4" y="874.6" text-anchor="end">10<tspan dy="-2.3" font-size="4.3">4</tspan></text><text x="430.4" y="916.8" text-anchor="end">10<tspan dy="-2.3" font-size="4.3">3</tspan></text><text x="427.4" y="941.2" text-anchor="end">0</text><text x="430.4" y="967.7" text-anchor="end">-10<tspan dy="-2.3" font-size="4.3">3</tspan></text></g><g class="ns2" font-size="6.1" fill="#111"><text x="439.6" y="833.2">Q1</text><text x="439.6" y="843">0.88</text><text x="577.1" y="833.2" text-anchor="end">Q2</text><text x="577.1" y="843" text-anchor="end">6.95</text><text x="577.1" y="957.4" text-anchor="end">Q3</text><text x="577.1" y="967.2" text-anchor="end">5.35</text><text x="439.6" y="957.4">Q4</text><text x="439.6" y="967.2">86.8</text></g><text x="517.5" y="816.6" font-size="15.2" text-anchor="middle">TMP100</text></g>
<g><rect x="633" y="820.1" width="154.9" height="154.5" fill="#fff" stroke="#b0b0b0" stroke-width="0.9"/><path d="M766.9 874.3h.8M758.1 884.2h.8M757.9 860h.8M761 877.5h.8M747.9 887h.8M764.9 874.8h.8M755.2 859.1h.8M735.7 857.1h.8M751.4 875.2h.8M744.6 884.5h.8M758.5 874.8h.8M748.7 873.4h.8M747 879.3h.8M748.7 866.7h.8M741.5 883.2h.8M753.8 865.3h.8M752.7 866.3h.8M740.8 864.9h.8M753.8 880.9h.8M730.8 887.1h.8M755.8 896.1h.8M745.3 866.6h.8M749.3 870.6h.8M747.1 870h.8M755.3 878.3h.8M751.8 868.7h.8M743.3 869.3h.8M752.1 874.9h.8M763 857.6h.8M748.3 853.8h.8M751.2 869.6h.8M750.8 872.6h.8M750.8 870.1h.8M753.1 855.4h.8M751.6 878.4h.8M757.5 884.3h.8M743.3 885.6h.8M749.9 892h.8M747.1 878.3h.8M753.9 893.6h.8M753.6 884.4h.8M748.8 874.6h.8M747.8 844.9h.8M741.9 875.2h.8M738.1 876.9h.8M750 887.7h.8M744.6 880.4h.8M749.2 871.1h.8M746.1 872.6h.8M753.2 859.8h.8M745.8 870.6h.8M757.9 858.5h.8M752.3 868.3h.8M741.5 885.2h.8M752.1 869.2h.8M749 885.4h.8M751.9 903.1h.8M735.1 874.3h.8M749.4 880.6h.8M746.6 883.9h.8M742.7 880.4h.8M756.1 883.6h.8M743 885.3h.8M761.9 869.5h.8M748.8 893.3h.8M741.2 861.2h.8M765.9 869.8h.8M747.9 859.9h.8M759.1 872.3h.8M730.9 888.5h.8M757.8 862.5h.8M749.5 877.8h.8M741.1 876.9h.8M742.4 889.2h.8M743.7 869.2h.8M747.6 866h.8M741.6 845.3h.8M764.4 866h.8M743.5 869.9h.8M750.8 878.5h.8M759.4 874.6h.8M745.4 877.8h.8M749.5 861.7h.8M742.4 881.4h.8M752.8 875.7h.8M762.5 895.8h.8M742.5 872.7h.8M747.1 858.5h.8M754.9 881.3h.8M762.4 872.8h.8M744.9 883h.8M757.9 859h.8M742.1 872.8h.8M765.8 869.2h.8M745.5 867.5h.8M757.2 867.9h.8M744.9 870.8h.8M738.4 884.8h.8M746.8 872.4h.8M746.9 877.9h.8M740.1 865.7h.8M745.7 867.1h.8M744.5 883.9h.8M751.6 877.2h.8M738.1 892.8h.8M739.1 861.9h.8M743.5 876.6h.8M740.7 877.4h.8M751.9 878.8h.8M750.4 873.4h.8M759.9 885.9h.8M745.8 892.5h.8M754.9 873.6h.8M749.7 881.9h.8M743.3 885.1h.8M753.2 862.1h.8M759.1 860h.8M746.6 884.6h.8M746 885.2h.8M745.3 859h.8M738.5 860.8h.8M748.8 886.8h.8M758.4 883.6h.8M738.7 868.4h.8M741.7 880.8h.8M741.8 888.5h.8M743.9 868.5h.8M735.8 872.2h.8M745.8 890.5h.8M757.5 858.4h.8M743.9 878.6h.8M745 857.5h.8M754.1 889h.8M754.9 868.2h.8M742 879.1h.8M747 882.6h.8M737.8 889.7h.8M745.9 865.7h.8M759.8 865.2h.8M767 869.9h.8M740.2 871.2h.8M747 871.6h.8M738.9 853.2h.8M764.2 878.8h.8M742.7 891.6h.8M745.5 887.6h.8M742.4 895.6h.8M757.9 867h.8M757.8 881h.8M749.9 875.5h.8M745 895.6h.8M740.8 871.5h.8M755.7 843.4h.8M759.5 876h.8M756.6 852.4h.8M746.7 884.3h.8M749.8 854h.8M751.9 856.2h.8M750.7 860h.8M759.8 882.8h.8M743.8 860.4h.8M755.9 854.6h.8M755.1 880.7h.8M757.3 871.9h.8M759.6 870.1h.8M731.9 893.3h.8M741.7 871h.8M748.8 881.4h.8M765 877.3h.8M746.9 866.9h.8M749.1 875.3h.8M754.8 886.9h.8M737.1 886.9h.8M751.3 860.3h.8M748.1 889.6h.8M738.6 882.8h.8M741.6 881.7h.8M726.2 890.2h.8M753.7 897.4h.8M738.9 883.8h.8M744.7 892.1h.8M737 886.6h.8M747.5 866.7h.8M758.9 873.3h.8M749.1 873.7h.8M737.6 876.5h.8M720.9 876h.8M737.7 900.1h.8M739 876.6h.8M740.6 887.8h.8M724.7 873.8h.8M761.8 870.1h.8M725.1 865.2h.8M760.2 898.2h.8M769.7 899h.8M743.2 868.9h.8M741.6 864.5h.8M759.3 897.7h.8M740.7 866h.8M742.5 876.6h.8M737.1 890.1h.8M748.9 882.8h.8M739.3 867.7h.8M752.9 876.7h.8M740.5 873.3h.8M740.3 874.1h.8M736.6 883.1h.8M741.9 880.6h.8M737.5 872.8h.8M737.8 897.6h.8M742.8 893.7h.8M727.3 882h.8M736.7 864.7h.8M761.8 853.5h.8M737.7 896.9h.8M725.2 885.2h.8M725.4 873.4h.8M750.2 870h.8M749.8 903.3h.8M744.2 892.1h.8M766.5 856.7h.8M758.5 884.6h.8M758.1 894.3h.8M737.4 889.5h.8M743.6 881.5h.8M739.3 931.4h.8M732.5 925h.8M741.7 915.2h.8M751.3 913.9h.8M741.8 939.5h.8M745.6 951h.8M742.9 932.5h.8M751.2 915.6h.8M745.6 934.5h.8M749.4 920.9h.8M747 910.5h.8M755 917.3h.8M751.8 916.9h.8M745 914.9h.8M734.6 930h.8M755.9 929h.8M751.1 923.1h.8M751.1 928h.8M738.2 906h.8M742.4 922.8h.8M731.4 919.8h.8M746 920.1h.8M730.9 929.5h.8M752.9 911h.8M754.2 918.8h.8M736.2 925.4h.8M751.2 946.3h.8M739.7 922.5h.8M753.1 931.3h.8M742.1 907.2h.8M739 943.9h.8M732.2 921.7h.8M735.6 914.8h.8M748.3 913.2h.8M743.5 919.3h.8M740.8 922.1h.8M727.6 921.9h.8M759.6 923.4h.8M729.3 926.1h.8M740.6 915h.8M749 916.4h.8M743.9 927.7h.8M742.7 937.5h.8M744.9 924.9h.8M757.7 921.6h.8M746.3 938.1h.8M735.9 929.4h.8M757.1 899.5h.8M731.8 913.5h.8M754.2 913.3h.8M737.1 883.1h.8M749.6 929.3h.8M751.6 915.4h.8M748.5 942.9h.8M749 931.9h.8M743.7 915.5h.8M748.1 938.1h.8M740.4 900.6h.8M738.8 924.5h.8M752.1 933.5h.8M733.7 923.5h.8M741.7 925.5h.8M744 927.4h.8M734.9 924.7h.8M730.6 914.2h.8M735.9 915.5h.8M745.1 934.5h.8M737 934.3h.8M740.8 920h.8M733.6 916h.8M748.8 929.9h.8M730.8 913.7h.8M753.2 921.4h.8M738.2 914.2h.8M753.7 927.6h.8M756.6 905.8h.8M755 923.5h.8M734.4 917h.8M752.5 908.8h.8M747.2 923.2h.8M758.5 925.8h.8M734.1 909h.8M739.2 933.7h.8M751.8 903.9h.8M736.8 932.4h.8M733.4 915h.8M740.9 890.5h.8M751.7 927.3h.8M742.7 918.6h.8M744.7 929.3h.8M748.9 922.4h.8M758.1 924.3h.8M729.6 934.2h.8M741.1 911.1h.8M744.9 923.4h.8M745.4 908.5h.8M741.1 926.5h.8M757.3 929.2h.8M752.1 938.5h.8M750.4 929.5h.8M736.6 926.3h.8M737.9 935.5h.8M752.9 926h.8M754 927.7h.8M743 922.4h.8M740.6 926.5h.8M752.9 909.7h.8M745.4 916.1h.8M749.8 944.6h.8M741.1 938.3h.8M745.9 929.8h.8M727.8 920.2h.8M750.9 912.3h.8M743.7 928.6h.8M730.9 927.9h.8M726.4 928.8h.8M747.5 936.2h.8M741.1 922.8h.8M734 933.1h.8M734.8 915.5h.8M739.4 922.6h.8M738.1 929.1h.8M733.7 916.2h.8M746.7 933.4h.8M727.6 923.2h.8M740 920.8h.8M744.6 920.4h.8M748.3 920.4h.8M727.2 924.3h.8M746.8 902.4h.8M749.8 926.8h.8M745.7 928.2h.8M746.6 917.8h.8M749.1 894h.8M747.3 913.5h.8M746.1 917.6h.8M742.6 931.8h.8M748.6 922.4h.8M744.8 922.8h.8M743.5 917.8h.8M743.6 925.8h.8M742.1 923.2h.8M755.1 928.3h.8M736.7 921.6h.8M743.4 934.2h.8M733.5 932.3h.8M742.1 923.2h.8M750.4 931.1h.8M749 915.5h.8M744.1 919.9h.8M754.4 925.3h.8M754.6 922.2h.8M737.7 928.2h.8M749.5 923.3h.8M729.3 929.6h.8M753.5 908.3h.8M731.3 917.5h.8M746.7 927.8h.8M735.6 929.4h.8M745.7 923.1h.8M745.8 932.3h.8M730.4 930.9h.8M752 917.7h.8M750.7 916h.8M692.3 870.6h.8M701.5 870.9h.8M700.2 873.5h.8M717.3 872.3h.8M707.9 887.6h.8M688.4 875.7h.8M700.3 877.6h.8M714.4 868.7h.8M696.2 863.5h.8M699.9 876.1h.8M703.8 890.7h.8M696.8 879.9h.8M693.6 875.3h.8M712.4 873h.8M704 877.5h.8M699.6 867.4h.8M720.9 903.1h.8M713.2 902h.8M725.1 895.7h.8M730.1 896.5h.8M723.3 906.4h.8M720.5 899h.8M726.7 878.1h.8M723.4 907.9h.8M718.4 908.7h.8M731.7 924.3h.8M722.9 940.9h.8M728.8 899.2h.8M724.2 911.1h.8M722.7 886h.8M722.4 917.8h.8M728 901.1h.8M719.6 883.8h.8M709.3 909.3h.8M727.1 922.5h.8M722.7 917.7h.8M710.6 922.7h.8M728 902.4h.8M730.4 906.5h.8M727.9 896.9h.8M715.6 888.4h.8M726.8 894.7h.8M718.6 901h.8M718.5 879.3h.8M670.9 933.1h.8M695.6 914h.8M678.5 929.1h.8M708.4 924.2h.8M708.3 911.8h.8M704.4 909.3h.8M699.9 921.1h.8M680.6 925.2h.8M685.5 920.9h.8M708.7 915.4h.8M693.1 923.2h.8M693.1 926.3h.8M679.2 923.1h.8M683.3 920.1h.8M694.9 918.8h.8M685.4 920.1h.8M709.3 915.3h.8M691.3 914.5h.8M677.8 926.1h.8M688.8 919.6h.8M687.5 921.3h.8M701.2 924.1h.8M701 908.3h.8M677.6 939.7h.8M691.9 918.6h.8M681 925.2h.8M685.6 926.3h.8M704.3 911.6h.8M705.3 910.6h.8M708.2 919.6h.8M698.4 922.9h.8M700.4 923.6h.8M697.1 922.6h.8M704.8 914.8h.8M667.6 929h.8M685.1 928.1h.8M707.1 910.6h.8M698 913.6h.8M700 920.8h.8M700.5 923.5h.8M697.1 914.7h.8M676.2 924.5h.8M677.4 920.4h.8M712.7 916.2h.8M679.5 925.7h.8M678.8 925.8h.8M698.8 923.6h.8M678.9 922.4h.8M700.1 918.6h.8M677.2 927h.8M704 917.8h.8M692.9 920.4h.8M680.5 923.4h.8M700.9 923.9h.8M678.5 919.1h.8M666 930.6h.8M703.4 908.1h.8M674.6 919.3h.8M687.4 936.7h.8M670.1 926.7h.8M706.6 921.6h.8M681.4 927h.8M686.4 918.7h.8M695.8 912.3h.8M681 927.2h.8M678.4 924.8h.8M667.6 922.6h.8M698.6 914.5h.8M690.1 928.3h.8M683.7 919.8h.8M677.5 919.4h.8M680.1 924.1h.8M685.6 924.2h.8M671.4 924h.8M705.1 919.7h.8M703 920.9h.8M706 916h.8M699.8 924.7h.8M705.5 907.1h.8M695.8 922.8h.8M678 927.9h.8M703.9 918.7h.8M700.9 906.4h.8M692.7 933h.8M709.4 914h.8M702 920.1h.8M702.8 918.6h.8M707.1 914.3h.8M669.8 927.6h.8M702.8 920.6h.8M701.7 914.4h.8M706.5 922.2h.8M703.2 924.5h.8M672.9 921h.8M702.7 910.4h.8M661.8 928.9h.8M681.1 924.1h.8M699.6 919.6h.8M702.1 921h.8M693.1 919.4h.8M693.5 917.1h.8M697 908.5h.8M678.5 925.8h.8M706.1 907.8h.8M711.6 919.2h.8M708.6 913.8h.8M661.7 939h.8M688.8 929.3h.8M669.9 926.9h.8M706.3 917.8h.8M684.1 920.8h.8M693.2 914.9h.8M683.9 934.6h.8M684.3 923.6h.8M689.1 921.7h.8M701.5 918.6h.8M699.8 915.5h.8M706.7 916.8h.8M698.6 915.9h.8M670.2 929.4h.8M703.7 914.7h.8M691.7 910.3h.8M691.4 922.2h.8M667.4 927.2h.8M699.4 910.7h.8M677.1 929.5h.8M688.9 918.3h.8M684.9 908.7h.8M717 918.8h.8M689.3 917.2h.8M695.6 914h.8M688.2 927.1h.8M703.3 920.8h.8M676.7 927.7h.8M699.1 927.2h.8M694.7 915.6h.8M710.7 919.7h.8M672.5 934.6h.8M689.7 922.6h.8M700.2 924.4h.8M685.9 924.3h.8M676.4 932h.8M686.5 927.8h.8M678.9 934.2h.8M680.2 922.8h.8M689.9 927.3h.8M712.5 921.4h.8M694.8 918.9h.8M688.9 929.1h.8M666.3 934.3h.8M705.2 921.8h.8M694.9 927h.8M700.5 919.6h.8M692.5 915.3h.8M679.2 918.5h.8M680.4 925.4h.8M688.3 915.9h.8M701.9 924.4h.8M699.2 913h.8M703.3 910.9h.8M701.9 918.1h.8M694.1 915.7h.8M697.2 912.2h.8M689.9 920h.8M668.8 929.4h.8M693.7 919.3h.8M689.2 928.6h.8M682.1 919.9h.8M675.2 936.8h.8M677.5 924.2h.8M695.8 926h.8M663.7 927.8h.8M687.9 929h.8M703.9 920.3h.8M684.9 925.5h.8M706.6 916.6h.8M695.8 913.6h.8M699.3 914.1h.8M676 929.5h.8M698 908.7h.8M674.7 930.9h.8M704.6 918h.8M704.7 923.4h.8M704.2 919.4h.8M686.9 926.7h.8M699 918.8h.8M691.2 914.2h.8M679.2 928.8h.8M709.5 911.8h.8M683.9 928.2h.8M701.8 917.5h.8M706.7 917.4h.8M691.3 923.3h.8M709.1 921.3h.8M696.9 930.5h.8M687.1 915.6h.8M676.8 919.6h.8M695 917.6h.8M692.7 916.8h.8M674.5 918.4h.8M699.1 917.6h.8M682.9 915h.8M695.4 912.3h.8M673.1 927.4h.8M690.6 924.7h.8M691.6 921.5h.8M683.4 917.6h.8M683.8 935.4h.8M691.8 918.8h.8M690.1 913.7h.8M666.4 927.3h.8M673.4 929.7h.8M676.9 928.4h.8M701.6 915.3h.8M697.2 918.4h.8M687.1 928.1h.8M715.5 913.7h.8M697.3 922.1h.8M699.7 921.7h.8M677.2 918.7h.8M683.1 933.7h.8M706.8 906.5h.8M706.4 910.3h.8M683.7 932h.8M689.8 926.7h.8M701.1 914.7h.8M703.8 909.9h.8M670.4 927.8h.8M705.5 909.9h.8M699.9 926.7h.8M682 920.2h.8M675.8 926.7h.8M691 929.3h.8M713.5 917.7h.8M699.1 918.5h.8M670.1 932.1h.8M662.1 931h.8M701.3 913.5h.8M677.5 927h.8M696.8 927.8h.8M680.2 932.6h.8M691.9 913.7h.8M688 917.2h.8M675.7 922.6h.8M676.6 929.6h.8M723.1 913.1h.8M685.9 918.9h.8M684.2 914.6h.8M711.7 910.9h.8M693.3 925.3h.8M687.5 918.6h.8M686.5 912.4h.8M704.8 910h.8M684.8 918.6h.8M672.2 922.6h.8M672.3 914.1h.8M681.8 922.4h.8M694.6 914.7h.8M700.5 920.9h.8M689.8 923.6h.8M676.1 932.5h.8M682.3 913.3h.8M696.7 922.1h.8M689.9 927.2h.8M714.7 918.2h.8M694.1 926.4h.8M690.6 926.4h.8M674.9 939.3h.8M676 924.1h.8M677 923.4h.8M680.4 924h.8M690.1 926.6h.8M695.2 924.2h.8M706.3 913.9h.8M706.4 914.3h.8M684.9 924.5h.8M716.8 914.3h.8M711.3 913.5h.8M685.9 925.1h.8M676.2 923.5h.8M692.9 928.3h.8M685.7 915.8h.8M686.5 927.1h.8M703.1 911.4h.8M670.6 930.5h.8M691.2 918.6h.8M662.3 936.3h.8M718.8 913h.8M688.8 919.1h.8M706.5 922.3h.8M704.8 916h.8M682.7 927.4h.8M700.3 918.9h.8M706.7 914.5h.8M703 919.2h.8M689 926.7h.8M690.8 920.2h.8M676.2 923.9h.8M685.3 934.4h.8M698.9 920.1h.8M690 919.8h.8M698.6 912.8h.8M684.2 917.1h.8M695.9 926h.8M675.5 922.4h.8M703.6 913.6h.8M702.6 915.7h.8M690 917.9h.8M691.7 924h.8M688.9 915.4h.8M693.9 922.5h.8M688.8 924.5h.8M704.8 914.2h.8M692.6 914.6h.8M691.9 924.2h.8M705.4 922.1h.8M680.9 914.1h.8M694.1 918.1h.8M701.4 911.7h.8M689.9 916.1h.8M693.6 927.4h.8M704.8 918.1h.8M692.4 927.6h.8M703.7 917.2h.8M703.8 918h.8M702.1 909.2h.8M681.4 923.1h.8M693.3 918.3h.8M701.5 927.9h.8M682.2 928.4h.8M678.9 930.9h.8M688.1 919h.8M710.7 911.7h.8M704.1 924.9h.8M677.3 924.7h.8M704.6 918h.8M697.5 921.2h.8M690.9 912h.8M659 925.4h.8M708 917.8h.8M702.6 920.6h.8M691.8 917.9h.8M697.8 912.3h.8M707.2 920.7h.8M678.1 918.1h.8M692.1 918.4h.8M688.6 919h.8M676.4 930.1h.8M675.8 929.1h.8M652.2 942.8h.8M699.2 909.5h.8M679.6 916.5h.8M677.6 930.2h.8M692.5 925.8h.8M670.8 918.7h.8M707 917.4h.8M696.2 924h.8M709 912.6h.8M686.6 928.8h.8M696.7 914.7h.8M701.5 913.8h.8M680.6 925.6h.8M665.6 929.8h.8M688.8 928.5h.8M660.4 931.1h.8M683.4 918.7h.8M700.1 923.4h.8M694.5 921.4h.8M711 910.4h.8M680.8 923.8h.8M661.5 928.4h.8M691.8 919.2h.8M675 922.4h.8M677.7 920.9h.8M700.4 914.8h.8M708.1 920h.8M685.5 918.6h.8M688 928h.8M668.3 927.9h.8M708.6 911.6h.8M701.9 922h.8M677.9 932.3h.8M705.8 913.3h.8M680.4 926.4h.8M692.7 921.1h.8M683.3 929.8h.8M691.8 926h.8M692.9 914.2h.8M686.7 923h.8M688.8 926.6h.8M680.6 924h.8M713.5 916.7h.8M678.3 930.4h.8M701.3 927.1h.8M712.4 918h.8M704.5 912.8h.8M690.3 919.9h.8M690.3 915.1h.8M684.2 923.5h.8M703.2 921.5h.8M695.6 917.5h.8M690 927.8h.8M675.8 927.6h.8M706.1 903.4h.8M708.9 918.3h.8M689.6 912.1h.8M692.7 924h.8M691.1 918.4h.8M721 917.5h.8M690.3 926.7h.8M707.1 916.6h.8M702.7 921.5h.8M696.2 924.3h.8M690.4 928.1h.8M674.7 933.9h.8M678.5 925.2h.8M707.1 923.2h.8M701.1 933.3h.8M704.3 918.1h.8M690.3 922.7h.8M705.3 916h.8M704.1 918.8h.8M708.4 917.6h.8M714.8 912h.8M700.4 909.2h.8M683.4 919.5h.8M686.7 929.5h.8M704.2 907.7h.8M705.3 921.9h.8M693.9 923.5h.8M702 924.2h.8M680.4 926.1h.8M704.3 924.3h.8M697.1 912.7h.8M696.4 917.6h.8M690.1 920.3h.8M668.1 935.5h.8M679.8 923.8h.8M689.5 934.8h.8M702.7 911.6h.8M694.4 914.7h.8M687.7 922.5h.8M690 927.2h.8M692.7 928.7h.8M696.5 925h.8M686.2 923.9h.8M680.7 925.9h.8M690.4 917.6h.8M710.3 913h.8M696.6 927.2h.8M690 914.7h.8M698.4 916.3h.8M703.2 922.3h.8M711.1 917.1h.8M685.5 930.3h.8M705.5 915.1h.8M704.1 909.1h.8M699.8 913.6h.8M673.7 926.7h.8M700.7 912.8h.8M682.6 918.7h.8M656.2 927.5h.8M687.7 934.9h.8M686.5 928.6h.8M673.8 927.8h.8M638.7 931h.8M691.9 933h.8M657.2 910h.8M681 934h.8M679.8 933.2h.8M679 929.4h.8M658.9 926.7h.8M665 939.9h.8M676 918.3h.8M689.4 940.4h.8M676 927h.8M674.9 935.9h.8M668.1 935.4h.8M675.1 932.5h.8M689.4 920.1h.8M691.8 911h.8M676.1 934.5h.8M684.3 926.6h.8M678.7 942h.8M669.7 919.5h.8M681.9 929.6h.8M665.3 935.2h.8M671.3 925.6h.8M668.1 924.7h.8M675.3 921.5h.8M651.3 928h.8M656.2 932.2h.8M672.8 926.9h.8M658.2 940.8h.8M671.1 920.5h.8M645.7 907.2h.8M691.2 933.6h.8M660.5 930.7h.8M693.1 939h.8M672.3 933.7h.8M660.1 933.1h.8M653.9 936h.8M680.1 922.3h.8M657.2 923.7h.8M672.3 918.9h.8M675.5 916.7h.8M666 915.5h.8M658.8 922.2h.8M674.9 924.2h.8M637.2 923.4h.8M657.2 933.3h.8M636.9 921.8h.8M683.3 925.5h.8M666.6 924.2h.8M636.1 930.4h.8M665.3 919.8h.8M655.4 920.9h.8M707.3 917.5h.8M700.3 932h.8M700.1 930.3h.8M711.5 925.7h.8M675.8 929h.8M670.9 922h.8M679.8 923.9h.8M671.1 932.3h.8M675.8 937.1h.8M667.2 930.7h.8M679.5 922.6h.8M675.5 926.5h.8M684.6 919.7h.8M656.2 930.8h.8M671.2 918.3h.8M679.4 927.3h.8M672.5 925.2h.8M661.5 933.1h.8M649.3 935.1h.8M657.9 930.2h.8M675 927.9h.8M652.6 920.6h.8M635.4 934.6h.8M661.8 931.2h.8M657.4 931.9h.8M674 929.7h.8M686.7 923.5h.8M635 930.6h.8M687.6 934.6h.8M657.6 928.8h.8M671.9 932.2h.8M693.8 927h.8M646.1 933.7h.8M653.4 931.8h.8M654.8 922.3h.8M679.1 923.4h.8M662.6 928.2h.8M678.4 922.5h.8M674 925.4h.8M647.1 941.4h.8M699.5 929h.8M656.5 926.7h.8M633.8 934.2h.8M678.1 934h.8M683.2 924.8h.8M672.2 924.9h.8M668.6 934h.8M700.9 928.6h.8M665.9 925.2h.8M675.9 915.3h.8M699.4 930.1h.8M668.4 923.2h.8M647.4 929.1h.8M682.4 934.2h.8M679.2 929.8h.8M669.8 928h.8M665.9 934.2h.8M687.2 930.8h.8M651.7 932.1h.8M664.3 932.2h.8M687.7 923.8h.8M648 930.7h.8M675.2 920.2h.8M669.8 924.9h.8M686.2 921.1h.8M675.5 931.3h.8M672.9 932.8h.8M661 922h.8M705.4 927.3h.8M695.6 926.2h.8M688 919.3h.8M667.1 925.4h.8M678.1 916.8h.8M664.8 932.9h.8M687.6 925.1h.8M682.2 931.3h.8M687.9 927.1h.8M654.5 932.8h.8M657.9 925.6h.8M639.2 936.4h.8M655.4 926.6h.8M664.1 924.4h.8M670.1 928.7h.8M682.1 924.4h.8M652.4 928.5h.8M657.1 923.8h.8M635 934.7h.8M645.4 937.8h.8M678.1 924.1h.8M667.8 913.7h.8M670.1 929.1h.8M661.5 925.8h.8M652.9 924.3h.8M649.3 925.7h.8M665.5 930.4h.8M695.3 930.9h.8M662 931.5h.8M685.5 929.1h.8M713.1 921h.8M664.4 930.8h.8M659.7 924.4h.8M658.9 932.1h.8M668 926.7h.8M679.6 920.2h.8M703.2 922.5h.8M662.6 915.4h.8M699.3 937.4h.8M679.4 921.7h.8M694.7 921.5h.8M712.1 917h.8M660.4 931.2h.8M663.7 930.9h.8M674.5 925.5h.8M658.7 919.4h.8M658.2 922.7h.8M671.2 932.5h.8M660.6 918h.8M661.7 922.7h.8M676.6 931.3h.8M645.4 934.2h.8M657.4 928.4h.8M650.5 925.4h.8M652.5 944.4h.8M675 929h.8M685.8 922.6h.8M664.7 935.8h.8M684.7 933.1h.8M648.3 933.7h.8M670.1 920.1h.8M681.3 920.1h.8M635 935.2h.8M701.7 918.4h.8M653.3 921.7h.8M715.2 925.4h.8M674.2 916h.8M685.2 932.2h.8M653.4 921.2h.8M669.4 908h.8M687.7 926.9h.8M690.7 933.1h.8M680.4 929.2h.8M672.4 919.5h.8M694.5 929.3h.8M695.6 925.7h.8M656.2 923h.8M677.5 930h.8M664.8 928.5h.8M661.4 932.8h.8M660.3 930h.8M676.9 923.7h.8M690.3 923.4h.8M668.9 923.8h.8M698.4 936.7h.8M644.9 920.7h.8M657.5 927.8h.8M664.6 921h.8M671.3 928.8h.8M686.8 921h.8M637.5 919.8h.8M662.5 930.8h.8M659.2 933.8h.8M679.8 934.9h.8M681.8 929.3h.8M674.9 920.7h.8M672.1 928.7h.8M683.9 927.4h.8M682.1 929.5h.8M675.5 926.2h.8M691.8 917.6h.8M691.1 932.6h.8M676.2 920.2h.8M667.1 932.2h.8M679.1 927.8h.8M687.8 922.9h.8M664.8 918.1h.8M670.4 931.5h.8M675.1 920.1h.8M661.4 928.4h.8M690.5 921.3h.8M675.1 927.3h.8M678.4 930.4h.8M672.9 921.6h.8M681.9 927.6h.8M674.3 928.3h.8M637.9 934.1h.8M691.7 938.3h.8M680.8 922.7h.8M681.2 922.9h.8M669.4 931.1h.8M684.6 921.2h.8M651.6 934.7h.8M652.2 926.6h.8M666.2 935.6h.8M678.3 925.9h.8M678.5 929.4h.8M664.5 932.2h.8M659.3 924.5h.8M668.2 929.5h.8M648.3 932.1h.8M665.3 935.4h.8M666.6 931.6h.8M691.2 928.2h.8M680.9 924h.8M674.7 939.5h.8M673.2 917.2h.8M680.5 918h.8M706 911.9h.8M671.3 908h.8M707.3 929.4h.8M653.2 938.2h.8M644.7 934.4h.8M676.2 929.9h.8M669.8 932.3h.8M688.5 930.5h.8M661.2 937.4h.8M657 924.9h.8M679 918.5h.8M675.2 936.6h.8M676.7 919.5h.8M675.2 927.1h.8M659.8 926.2h.8M688.8 931.1h.8M671.2 929.5h.8M668.6 931.6h.8M660.6 938.3h.8M686.4 929.4h.8M652.7 933.9h.8M675 915.6h.8M658 928.1h.8M647.9 927h.8M684.8 921.7h.8M670.7 920.7h.8M671.3 929h.8M692.9 924.4h.8M673.9 918.5h.8M678.7 917.7h.8M674.5 925.4h.8M681.6 921.3h.8M679.7 936.8h.8M675.4 937.1h.8M692.4 928.8h.8M682.1 923.5h.8M663.3 929.3h.8M662.7 926.9h.8M664.9 925.4h.8M651.3 926.4h.8M661.2 922.1h.8M704 914.7h.8M695.9 927.9h.8M639.5 928h.8M670.6 920.7h.8M688.2 919h.8M653.1 926.8h.8M675 922.1h.8M669.4 937.6h.8M671.1 934.4h.8M663.8 922.2h.8M690.2 919.6h.8M670.6 932.8h.8M700.8 926.5h.8M672.1 933.2h.8M652 929.9h.8M651.9 939.5h.8M650 924.3h.8M662.8 936.1h.8M679.9 929.3h.8M694.3 916.9h.8M686 927.1h.8M640.1 925.5h.8M686 918.8h.8M673.8 924.9h.8M653 923.8h.8M645 927.7h.8M717.1 915.3h.8M659.4 928.4h.8M674.5 926.9h.8M646.6 924h.8M656.5 924.6h.8M670.6 932.4h.8M660 936.4h.8M670.6 933.4h.8M635.5 926.8h.8M660.8 932.6h.8M678 928.1h.8M698.8 927.8h.8M692.7 925.9h.8M681.6 920.4h.8M688.7 920h.8M687.1 929.6h.8M669.1 925.6h.8M657.8 935.1h.8M653.1 929.9h.8M669.7 919.3h.8M679.2 926.2h.8M661.7 926.1h.8M657.1 925.2h.8M647.3 935.5h.8M684.5 923.5h.8M645.3 918.6h.8M649.1 941.7h.8M652.3 926h.8M677.8 926.4h.8M651.1 931.9h.8M645.4 939.3h.8M678.9 931.7h.8M650.4 936.4h.8M693.5 928.1h.8M686 929.4h.8M688.6 923.3h.8M672.5 926.2h.8M652.4 927.8h.8M658.8 932.4h.8M671.6 939.3h.8M674 923.8h.8M692.6 925.5h.8M688.2 922h.8M667.7 932.7h.8M705.2 934.8h.8M673.3 934.6h.8M673.2 923.1h.8M664.3 928.4h.8M678.9 925.1h.8M666.7 930.2h.8M675.7 939.5h.8M685 929h.8M704.9 931.4h.8M680.8 930.1h.8M684.6 925.6h.8M659.5 932.9h.8M689.5 931.5h.8M675.1 929.4h.8M692.2 931.2h.8M688.9 928.1h.8M654.7 927.9h.8M685.7 918.3h.8M662 924.4h.8M654.4 928.6h.8M675.9 921.3h.8M691.4 927.7h.8M641.3 933.1h.8M690.1 916.1h.8M663.8 932.4h.8M678.2 923.3h.8M688.1 928.9h.8M649.4 938.2h.8M645.6 926.5h.8M668.9 930.2h.8M688 917.6h.8M649.7 927.8h.8M648.8 922.3h.8M652.8 929.5h.8M660.3 934.2h.8M652.7 937.9h.8M692 926.5h.8M650.6 923.7h.8M666 920h.8M666 915.4h.8M698.3 925.4h.8M643.5 938.3h.8M672.3 918.2h.8M638.2 931.2h.8M690.9 919.9h.8M651 922.9h.8M660.3 937.9h.8M660.6 918.3h.8M680.5 919.5h.8M662.3 935h.8M680.2 918.8h.8M656.1 938.9h.8M667.4 935.7h.8M674.3 933.2h.8M655.3 934.7h.8M649.5 930.2h.8M637.5 932h.8M639.3 930.1h.8M684.2 922.8h.8M639 928.8h.8M665.7 936.9h.8M692.1 921.8h.8M664 936.4h.8M645 932.6h.8M697.1 919.8h.8M686.7 917.7h.8M658.1 924h.8M694.8 919.2h.8M715.3 924.5h.8M690.6 918.4h.8M650.7 936.2h.8M696.1 920h.8M671.3 920h.8M660.3 922.3h.8M646.6 935.6h.8M652.5 926h.8M649.9 939.5h.8M654.3 921.1h.8M696 921.4h.8M656.3 930.4h.8M662.4 937.9h.8M652.6 934.6h.8M644.8 935.4h.8M686.1 924.6h.8M696.2 919.8h.8M655.5 922.8h.8M655 921.1h.8M673.3 933.6h.8M660.4 935.6h.8M646.3 938.7h.8M660.8 935.4h.8M653.7 925.9h.8M643.4 938.4h.8M648.5 924.4h.8M685.9 933.4h.8M648.9 938.3h.8M687.5 932.3h.8M694.6 927.4h.8M644.4 926.6h.8M641.8 926.3h.8M662.6 910.2h.8M666.3 938.1h.8M700.4 926.6h.8M697.3 924.3h.8M659.6 920.8h.8M658 934.8h.8M678.1 920.4h.8M670.1 936.5h.8M653.1 935.8h.8M684.6 919.8h.8M661.4 919.6h.8M700 925.3h.8M696.1 924.6h.8M686.2 920.9h.8M655.9 917h.8M697.2 921.4h.8M653.1 936.4h.8M662.6 917.8h.8M649.4 924.4h.8M695.3 924.1h.8M691.7 926.8h.8M664.4 936h.8M650.8 936h.8M643.4 928.3h.8M689.4 926h.8M661.4 936.4h.8M691 925.6h.8M695.8 929.3h.8M679.3 936.1h.8M682.8 920.4h.8M673.2 932.9h.8M694.1 918.6h.8M655.6 922.3h.8M660.6 935h.8M638.4 935.1h.8M708.8 921.8h.8M694.6 926.9h.8M654.2 921.2h.8M660 921.2h.8M702.2 924.9h.8M647.9 934.8h.8M662.7 936.4h.8M688.7 923h.8M688.1 921.8h.8M683.2 934.5h.8M646 928.4h.8M689.4 918.7h.8M641.5 929.9h.8M651.6 931.6h.8M677.5 935.6h.8M650.4 923h.8M672.6 934.9h.8M660.9 921.3h.8M680.6 920.5h.8M653.9 934.4h.8M698.6 928.3h.8M654.6 940.2h.8M690.2 927.5h.8M646.3 941.3h.8M651.8 925.4h.8M682.6 938.9h.8M688.1 935.6h.8M661.2 936.1h.8M682.3 936.7h.8M683.3 921.4h.8M648.6 932.1h.8M640.3 922.6h.8M649.8 921.5h.8M659.9 918.3h.8M695.9 928h.8M671.7 935.6h.8M679.6 917.4h.8M648.1 928.8h.8M640.3 928.1h.8M659.3 934.4h.8M685.3 918.2h.8M668.2 921.7h.8M694.1 929.1h.8M649 924.3h.8M685.2 920.5h.8M665.7 919.6h.8M641.8 927.6h.8M639.3 926.9h.8M689.5 928.5h.8M666.9 919.1h.8M682.2 936h.8M637.4 936.3h.8M676.7 920.3h.8M649.8 941.6h.8M651.3 922.8h.8M669.4 920.5h.8M640.7 931.5h.8M649.2 923.5h.8M700.5 921.4h.8M655.8 924.6h.8M689.9 934.4h.8M693.6 927.4h.8M672.6 934.6h.8M672.7 933.8h.8M670.6 935.2h.8M692.2 922.3h.8M670.2 915.9h.8M652.4 935.5h.8M682.5 920.3h.8M690.4 930.7h.8M688.5 924.3h.8M659.2 936.5h.8M638.9 926.1h.8M690.8 923h.8M651.8 937.2h.8M679.5 933.7h.8M656.5 937.4h.8M670.2 918.3h.8M676.4 932.5h.8M688.6 922.6h.8M655.9 935.9h.8M643.5 922.8h.8M689.2 924.7h.8M690.4 928.9h.8M694.2 925.4h.8M653.9 936.4h.8M646.9 932.4h.8M651.4 924.7h.8M644.4 935.3h.8M652.7 942h.8M671.1 918.1h.8M668 919.5h.8M674 918.2h.8M660.1 922.3h.8M650.7 931.1h.8M645.9 929.4h.8M646.7 929.5h.8M658.3 935.9h.8M657.2 922.3h.8M698.9 926h.8M649.8 941.5h.8M663.8 935.6h.8M686.8 923h.8M666.1 920.3h.8M681 919h.8M678.8 932.8h.8M674.9 919.9h.8M688.8 928.4h.8M664.9 920.7h.8M700.3 918.1h.8M681.7 931.7h.8M648.6 926.5h.8M661.3 933h.8M658.2 936.1h.8M701 927h.8M648.9 935.3h.8M692.2 930.7h.8M657.1 938.8h.8M657.6 920.6h.8M691.6 932.2h.8M681.5 931.8h.8M645.4 932.5h.8M690.4 920.5h.8M663.1 937.3h.8M647.7 923.8h.8M694.2 919.2h.8M662.9 920.4h.8M664.4 920.7h.8M657.4 921.8h.8M689.5 923.5h.8M634.8 937.5h.8M687.7 922.9h.8M640.6 931.1h.8M637.5 936.9h.8M654.5 933.9h.8M648.4 927.4h.8M690 933.4h.8M651.7 931.4h.8M684.4 934.3h.8M667.3 917.5h.8M686.2 927h.8M652.1 923.6h.8M669.6 916.7h.8M642.5 929.4h.8M651.1 922.2h.8M687 931.4h.8M654.6 923.9h.8M684.5 922h.8M654.4 923.6h.8M654.1 937.1h.8M687 933.6h.8M680.1 933h.8M668.1 916.5h.8M686.2 919.6h.8M705.2 923.5h.8M652 929.7h.8M659.5 921h.8M693.1 930.4h.8M660.2 920.9h.8M657.1 935.4h.8M680.8 919.2h.8M657.9 924.8h.8M649.5 924.1h.8M691.3 925.3h.8M690.7 919.6h.8M640.9 932.9h.8M648.3 926.9h.8M650.2 937.3h.8M650.6 938.4h.8M662.7 937.4h.8M658.6 916.1h.8M686 931.8h.8M668.1 937.7h.8M649.5 937.7h.8M692.7 921.9h.8M680.6 934.1h.8M654.3 941.5h.8M646 937.1h.8M648.6 922h.8M649.7 920.7h.8M699.7 929.8h.8M644.9 924.6h.8M690.6 920.3h.8M681.4 930.2h.8M681.1 935.5h.8M689.4 920.1h.8M639.1 936.6h.8M673.6 918.1h.8M685.9 916.9h.8M703.9 921.2h.8M675.8 919.7h.8M688 921.9h.8M662.6 920.8h.8M710.1 926.3h.8M648.9 930.5h.8M687.3 932.3h.8M694.3 929.2h.8M651.3 934.5h.8M689.5 917.4h.8M647 928.4h.8M691.2 925.4h.8M687.1 936.2h.8M645.1 936.3h.8M688.9 930.1h.8M659.8 923.3h.8M678.6 917.5h.8M663 936h.8M649.6 935h.8M667.4 918.5h.8M683.7 922.4h.8M650.2 928.3h.8M693.8 916.6h.8M695.3 927.6h.8M648.2 921.9h.8M644.2 928h.8M696.6 926.3h.8M693 929.8h.8M690.9 932.5h.8M671.4 918.8h.8M653.7 936.4h.8M640.9 933.2h.8M693.2 922.4h.8M649.2 928.9h.8M668.1 922.3h.8M634.8 928.8h.8M677.7 933.2h.8M667.4 917.7h.8M695.3 930.2h.8M645.2 928h.8M648.2 937h.8M658.3 935.4h.8M646.1 930.1h.8M655.3 938.3h.8M669.6 936.7h.8M686.2 930.8h.8M696.8 920.6h.8M687.5 930.7h.8M650 932.2h.8M650 928.7h.8M689 934.8h.8M645.6 924.9h.8M654.6 924.9h.8M685.2 931.9h.8M641.8 932.2h.8M654.2 935h.8M651.2 931.1h.8M697.6 926.8h.8M673.8 934.7h.8M647.9 936.6h.8M684.5 917.1h.8M690.9 932.1h.8M653.3 924.8h.8M671.6 933.9h.8M662.5 918.3h.8M662.1 930.7h.8M653.8 922.1h.8M675.5 934.5h.8M689.7 922.1h.8M664.9 934.5h.8M666.5 935.3h.8M651 927.4h.8M651 917.2h.8M690.8 923.6h.8M645.9 932.9h.8M705 919.2h.8M688.3 926.6h.8M647.3 927.7h.8M660.4 940.1h.8M681.5 936.2h.8M676.3 920.3h.8M659.7 936.3h.8M661.7 936.4h.8M663.5 936.8h.8M652.7 922.9h.8M647.3 934.3h.8M650.7 929.5h.8M688.2 920.4h.8M709.9 923.8h.8M651.2 920h.8M687 928.5h.8M692.9 923.9h.8M657 923.5h.8M648.5 925.9h.8M685 919.4h.8M688.5 930.4h.8M648 933.3h.8M683.2 919.1h.8M678.2 936.7h.8M690.1 928h.8M693.6 918.1h.8M689.7 915.9h.8M656.1 928.1h.8M666.7 935.5h.8M685.5 931.5h.8M648.3 927.5h.8M684.2 931.5h.8M661 935.3h.8M654.5 939.7h.8M697.9 929h.8M684.3 932.1h.8M655.4 923.4h.8M635.7 929.8h.8M688.9 926.4h.8M652 924.6h.8M656.6 921.8h.8M688.7 932.6h.8M651.3 923.9h.8M664 935.4h.8M655.4 928.3h.8M642.9 927.1h.8M651.4 929.2h.8M651.1 935.9h.8M685.4 917.7h.8M655 935.8h.8M648 926.8h.8M684.8 918.9h.8M656.7 939.1h.8M641.6 926.2h.8M683.9 918.3h.8M670.6 920.6h.8M647.6 927.3h.8M674.6 919.4h.8M688.2 934.1h.8M695.4 925.2h.8M657.4 920.4h.8M650.9 933.8h.8M652.1 937.9h.8M694 924.7h.8M655.6 936.1h.8M647.8 929.4h.8M649.3 933.1h.8M681.6 915h.8M672.8 919.7h.8M689 924.2h.8M680.6 917.4h.8M648.4 927.6h.8M657.8 936.5h.8M683.3 935.1h.8M647.8 934.2h.8M660.4 921.5h.8M646.4 921.9h.8M695.5 924.3h.8M683.9 921.6h.8M666.2 935.8h.8M664.6 920.5h.8M686 931.3h.8M645.4 926.5h.8M649.9 926.2h.8M693.4 920.5h.8M672.6 936.4h.8M652.1 933.8h.8M686.5 936.4h.8M648.4 931.8h.8M677.6 934.1h.8M668.9 934.6h.8M643.4 927.1h.8M677.1 916.5h.8M689.7 919.4h.8M672.1 921.7h.8M645.6 931.3h.8M693.4 924.5h.8M698.2 924.4h.8M673.2 921.2h.8" stroke="#2b3cf0" stroke-width="0.8" fill="none"/><path d="M744.6 891.9h.8M730.9 873.4h.8M740 894.2h.8M751.1 875.1h.8M756.4 881.1h.8M757.1 873.3h.8M745.8 907h.8M749.5 897h.8M743.4 868.6h.8M745.5 873.2h.8M763.7 856.7h.8M745.3 881.2h.8M741.3 877.3h.8M743.6 886.1h.8M741.8 875.3h.8M748.8 881.9h.8M752.8 866.9h.8M757.3 880.8h.8M762.5 860.5h.8M744.3 893.6h.8M738 870.1h.8M755 871.5h.8M750.9 874h.8M743.4 875h.8M755.4 871h.8M753.9 866h.8M743.9 880.9h.8M737.7 877.4h.8M733.2 900.9h.8M752.7 858.7h.8M762.4 864.3h.8M736.6 884.5h.8M743.7 879.2h.8M753.5 872.7h.8M755.1 889.8h.8M755.6 878.6h.8M744.8 875.3h.8M751.3 881.3h.8M750.5 865.9h.8M746.5 871.3h.8M747 875.5h.8M761.2 880.7h.8M746.4 873.6h.8M747.1 852.5h.8M743.4 867.4h.8M754.2 875.1h.8M760.7 874.3h.8M747.9 865.6h.8M758.5 875h.8M750.3 873.5h.8M739.8 887.3h.8M739 871.1h.8M742.5 891.8h.8M736.5 881.9h.8M752.6 876.6h.8M750.2 876.2h.8M736.1 881.5h.8M745.3 876.1h.8M748.3 887.8h.8M743 876.7h.8M755.6 896.9h.8M748.1 874.4h.8M744.5 876.6h.8M747.3 868.1h.8M745.2 875h.8M746.6 869h.8M746 866.9h.8M748.8 871.2h.8M752.3 869.9h.8M751.4 888.1h.8M745.3 871h.8M750.7 878.4h.8M739.8 873.3h.8M742.3 864.6h.8M745.8 878.6h.8M739.8 889.2h.8M738.4 862.9h.8M742.7 875.9h.8M741.8 871.4h.8M745.5 860h.8M736.1 903.9h.8M742.6 892.2h.8M747.5 892.7h.8M746.9 889.1h.8M733.1 900.8h.8M750.3 861.9h.8M755 877.1h.8M754.1 890h.8M745.8 884.9h.8M741.9 858.8h.8M725.7 887.2h.8M745.6 888.9h.8M731.7 884.7h.8M745.1 891.5h.8M725.3 888.9h.8M746.6 875.8h.8M715.4 882.4h.8M756.4 896h.8M745.2 869h.8M738.9 879.4h.8M749.2 878.7h.8M737.1 880.8h.8M746.1 894.3h.8M746.8 911.6h.8M742.5 919.5h.8M733.7 918.4h.8M736.3 911.7h.8M759.3 917.9h.8M757.1 915.3h.8M732.5 922.9h.8M745.5 913.8h.8M748.6 925.8h.8M731.1 922h.8M733.1 916.4h.8M746 918.3h.8M731.6 912h.8M743 920.8h.8M747 913.9h.8M738.5 910.5h.8M758 923.3h.8M733.8 914.8h.8M739.7 917.1h.8M739.7 933.3h.8M741.7 929.8h.8M739.1 929h.8M730.3 907.4h.8M735.6 916.2h.8M754.9 922.7h.8M736.6 915.6h.8M748.6 932.3h.8M727.7 929.1h.8M756.9 923.2h.8M743.5 919.3h.8M742.8 918.5h.8M762.5 925.2h.8M738.3 918.4h.8M763.6 929.3h.8M749 909.7h.8M745.3 936.4h.8M749.6 928.4h.8M752.8 909.6h.8M741 920.9h.8M747.1 894.7h.8M735.5 911.2h.8M740.2 924.8h.8M750.9 931.8h.8M737.5 905.1h.8M755.7 921.5h.8M746.2 903.3h.8M744.1 919.8h.8M727.5 887.3h.8M746.1 934.7h.8M753.6 924h.8M755.4 916.9h.8M739.4 924.6h.8M724.7 919h.8M742.6 920.9h.8M727.8 915.8h.8M737.2 921.2h.8M728.7 916.4h.8M749.6 919.2h.8M744.4 912.3h.8M750.2 928.8h.8M732.6 910.6h.8M746 907.9h.8M745.1 922.4h.8M749.4 929h.8M749.7 917.9h.8M745.9 917.6h.8M755.2 915.2h.8M738.4 922.3h.8M749.6 911.8h.8M753.6 919.3h.8M747.9 924.2h.8M731.4 922.4h.8M743.5 914.9h.8M745.9 929.5h.8M747.7 918.2h.8M718.8 925.4h.8M695.8 869.5h.8M702.6 852.5h.8M682.8 868.7h.8M684.9 872.4h.8M705.3 879.4h.8M691.9 881.8h.8M714.7 903.1h.8M722.5 912.2h.8M721.9 906.3h.8M715.7 914.9h.8M715.9 917.8h.8M722.7 895.5h.8M726.9 913.4h.8M724.3 899.5h.8M734.3 897.9h.8M714.2 909.5h.8M704.9 918.7h.8M728.1 907.9h.8M691.6 924.1h.8M692.7 922.5h.8M687.5 921.5h.8M689.7 922.7h.8M690.4 924.6h.8M689.4 922.9h.8M689.3 923h.8M694.8 923.2h.8M702.5 915.8h.8M683 926.1h.8M702.4 919h.8M691.1 925.3h.8M696.4 919.1h.8M701.5 917.8h.8M686.3 920.3h.8M696.3 919.4h.8M687.1 924.9h.8M688.2 921.9h.8M693.9 918.5h.8M695.9 919.8h.8M683.3 924.4h.8M698.4 918h.8M694.2 921.9h.8M700.2 916.3h.8M693.9 920.6h.8M683.5 924.3h.8M694 925h.8M700.6 918.4h.8M697.6 920h.8M687.7 918.3h.8M698.1 920.2h.8M690.5 917.2h.8M692.9 924h.8M687.3 922.1h.8M692 925.9h.8M690.5 918.7h.8M686.4 920.9h.8M702.5 915.6h.8M683.6 924.7h.8M693.7 921.8h.8M697.4 922.2h.8M691.5 922.8h.8M683.6 922.8h.8M692.1 920.4h.8M694.4 915.8h.8M693.1 925.3h.8M698.7 921.6h.8M697.5 917.7h.8M697.3 922.6h.8M692.6 917.6h.8M683.3 922.3h.8M689.6 919.6h.8M693 919.7h.8M684.6 922.3h.8M695.5 918.6h.8M691.2 916.8h.8M691.1 922.5h.8M698.2 919.8h.8M683.3 924.5h.8M703.5 916.7h.8M689.7 921.3h.8M699.4 920.2h.8M701 919.1h.8M695.3 920h.8M695.9 916.4h.8M682.9 926h.8M696.1 917.2h.8M695.1 921h.8M696.2 922.1h.8M698.5 920.5h.8M698.9 921h.8M690.3 922h.8M695.7 917.3h.8M686 920.6h.8M693.3 923.9h.8M697.8 915.5h.8M695.2 922.5h.8M697.1 919.3h.8M700.6 919.7h.8M689.6 918.6h.8M689.5 919h.8M688.9 920.7h.8M699.1 918.3h.8M691.6 920.8h.8M698.3 915.9h.8M696.2 926.8h.8M676.6 929.8h.8M656 930.2h.8M652.7 927.9h.8M707.5 910.1h.8M668.5 930.1h.8M678.8 923.1h.8M666.8 928h.8M707.4 914.7h.8M651.5 932.2h.8M649.7 929.4h.8M665.5 929.7h.8M644.7 939.9h.8M659.4 921.1h.8M657.5 916.1h.8M650.8 927.1h.8M656.7 925.9h.8M686.7 931.5h.8M683.1 928.2h.8M678.2 926.5h.8M678.1 920h.8M660.5 932.6h.8M660.2 930.7h.8M661.2 918.9h.8M672.7 923.9h.8M673.7 926.3h.8M675.6 927.8h.8M655.2 926.5h.8M649.6 932h.8M694.6 935.4h.8M663.4 923.1h.8M677.4 939h.8M664.6 922.6h.8M656.6 928.4h.8M664.8 925h.8M649 929.2h.8M645.1 933.3h.8M659.4 922.6h.8M656.2 929.5h.8M676.4 928.5h.8M682.6 924.1h.8M685.8 931.5h.8M685.2 924.7h.8M648.3 924.5h.8M677.9 926h.8M648.6 926.7h.8M667.7 928.9h.8M638.3 935.6h.8M656.7 914.1h.8M675.8 928.5h.8M655.2 928h.8M695.8 918.8h.8M673.9 917.5h.8M687.4 924.1h.8M659.1 922.5h.8M680.5 927.2h.8M656.8 930.3h.8M653.1 933.7h.8M670.9 927.4h.8M666.9 932.9h.8M642.7 939.2h.8M671.5 918.8h.8M686.8 922.8h.8M663.7 935.7h.8M671.6 937.9h.8M688.3 918.5h.8M685.8 928.2h.8M678.3 927.3h.8M645.4 929.3h.8M667.4 926.7h.8M675 924.8h.8M665.9 932.9h.8M698.9 931.1h.8M671.3 932.5h.8M664.1 928.3h.8M673.4 930.5h.8M654.2 933.7h.8M696.8 915.4h.8M666.8 923.6h.8M672.6 921.2h.8M647 925h.8M642.5 922.5h.8M687.3 930h.8M654.3 928.3h.8M660.8 923h.8M706.5 934.6h.8M691 934.5h.8M670.9 928.9h.8M693.6 935.9h.8M652.9 929.3h.8M665.3 926h.8M672.9 916.6h.8M669 920.7h.8M647.7 936.2h.8M657.3 923.8h.8M647.1 935h.8M678.7 924.1h.8M677.5 924.8h.8M681.4 928.3h.8M654.8 936.5h.8M677.6 917.3h.8M677.1 938h.8M686.6 920.3h.8M650.2 940.1h.8M658.7 934.9h.8M687.7 930h.8M637.8 935.6h.8M662.8 930.7h.8M663.4 928.6h.8M652 929.9h.8M661.5 916.6h.8M659.5 927.3h.8M678.7 925h.8M673.9 927.2h.8M668 918.1h.8M711.1 908.9h.8M672.5 927.6h.8M661.4 926.2h.8M700 922.7h.8M700.3 931.3h.8M665.6 938.5h.8M664 930.7h.8M654.8 936.4h.8M668.6 921.3h.8M653.8 931h.8M645.1 931.2h.8M669.8 917.2h.8M662.7 933.5h.8M658.6 929.2h.8M654.2 927.9h.8M681.1 931h.8M686.5 921.2h.8M682.3 921h.8M657.5 926.8h.8M664.5 923.2h.8M660.3 923.9h.8M663 923.9h.8M677.1 922.3h.8M662.1 923.1h.8M652.1 925.9h.8M655.4 928.5h.8M665.7 923.3h.8M681.3 930.1h.8M671.8 921.6h.8M654.5 924.4h.8M651.8 932.2h.8M661.9 926.8h.8M675.2 919.7h.8M681.1 931.2h.8M687.6 925.7h.8M672 922.9h.8M665.8 934.3h.8M683.9 923.8h.8M649.3 929.9h.8M674.7 934.3h.8M648.5 932h.8M682.9 921.4h.8M675 923.1h.8M660.4 924.5h.8M657.7 931.6h.8M656.2 925h.8M650.6 925.5h.8M653.2 931.4h.8M652.4 932.5h.8M690.7 921.3h.8M657.6 927.1h.8M684.7 924h.8M662.5 924.4h.8M684.8 926.1h.8M658.5 932.9h.8M653.3 930.4h.8M683.5 926.5h.8M655.8 931.6h.8M670.5 922.3h.8M680.1 932.4h.8M657.4 933.7h.8M677.5 931.2h.8M658.7 924.5h.8M651.4 932.1h.8M656.1 923.3h.8M655.7 925.3h.8M651.8 927.4h.8M673.9 932.5h.8M662.7 921.9h.8M677.6 922.2h.8M681.3 931.9h.8M683.7 922.2h.8M666.3 921.5h.8M673 935.2h.8M670.1 920.7h.8M683.6 922.8h.8M665.7 922h.8M683.6 931.8h.8M680.8 931.7h.8M658.3 923.3h.8M687.3 922.5h.8M657.3 925.9h.8M658.8 932.4h.8M675.3 933.4h.8M675.2 933.2h.8M682.1 920.8h.8M690.7 924.5h.8M660.7 931.8h.8M686.4 929.9h.8M668 925.1h.8M659.8 927.5h.8M653.1 933.1h.8M656.8 926.2h.8M667.2 933.2h.8M656.5 924.7h.8M661.2 921.4h.8M660.1 921.9h.8M688.4 927.5h.8M664.7 932.8h.8M650.1 933.9h.8M683 921.5h.8M674.3 932.4h.8M685 929.3h.8M652.8 926.9h.8M658.6 923.6h.8M686.8 927.9h.8M662 922.1h.8M692.6 927.1h.8M651.7 935.4h.8M650.4 934.1h.8M651 931.5h.8M663.5 936.2h.8M657.7 932.8h.8M687.7 925.7h.8M677.8 922.2h.8M675 921.3h.8M678.5 922.8h.8M664.9 920.5h.8M665.3 932.6h.8M680.1 924.9h.8M650.4 929.4h.8M684.2 929h.8M691 924.6h.8M669.9 933.5h.8M685.5 925.1h.8M657 930.7h.8M685.8 923.8h.8M678.7 920.8h.8M656.9 925.1h.8M685.6 920.6h.8M662 922.2h.8M675.9 933.9h.8M692.9 922.9h.8M667.3 919.8h.8M686.6 926.4h.8M667.3 922.3h.8M668 922.4h.8M693.9 925.1h.8M655.8 927.5h.8M674.3 921.4h.8M656.4 932.5h.8M670.5 933.8h.8M666.8 935.1h.8M655.6 923.9h.8M689.6 923.1h.8M693.8 926h.8M679.2 928.7h.8M682.5 923.6h.8M684.6 921.2h.8M679.4 932.3h.8M660.7 933.2h.8M680.1 933.6h.8M681.8 922.5h.8M679.7 929.9h.8M686.3 925.5h.8M652.5 927h.8M651.2 929.4h.8M654.6 927.3h.8M673.1 933.7h.8M666.2 918.7h.8M655.3 926.6h.8M681.7 921.5h.8M686.5 927.4h.8M656.6 932.4h.8M660.9 933.2h.8M660.3 932.9h.8M678.1 924.7h.8M653.1 927.1h.8M654.4 926.1h.8M665.5 933.7h.8M656.5 926.2h.8M645.9 929.1h.8M655 925.9h.8M681.8 931.7h.8M677.7 922.5h.8M654.9 925.8h.8M673.4 920.4h.8M685.6 919.8h.8M687.3 923.6h.8M656.4 931.2h.8M654.9 924h.8M649.3 930.7h.8M689.1 929.1h.8M658.1 930.4h.8M687.1 925.5h.8M685.7 931.4h.8M688.6 923.2h.8M684.2 923.6h.8M664.7 921.9h.8M663.1 934.8h.8M691.9 920h.8M688.2 930.2h.8M673 933.6h.8M651 927.9h.8M689.1 927.1h.8M672.1 921.5h.8M685.3 926.1h.8M679.3 922.4h.8M647.8 929.7h.8M687.7 919.6h.8M658.5 930h.8M670.2 919.3h.8M690.9 926.7h.8M683.3 923.6h.8M655.9 923.3h.8M656.3 922h.8M669.4 918.9h.8M655.1 927.5h.8M677.6 931.2h.8M680.6 932.2h.8M660.2 931.8h.8M685.2 929.3h.8M687.7 928.7h.8M674.3 934h.8M687.4 929.2h.8M680.4 920.9h.8M658.6 923.1h.8M685.6 921.6h.8M689.7 923.9h.8M671.4 921.4h.8M683.3 924.1h.8M656 930.2h.8M682.2 922.2h.8M684.7 922.2h.8M689 929h.8M670.4 921.2h.8M678.2 924h.8M658 936h.8M660.8 933.5h.8M646.3 928.7h.8M683.2 930.6h.8M683.6 927.8h.8M666.1 936.8h.8M649.2 927.8h.8M677.7 920.7h.8M647.6 927.6h.8M655.5 930.6h.8M692.6 927.2h.8M662 920.9h.8M667.8 934.7h.8M646.5 931.8h.8M661 933.7h.8M660.8 923.5h.8M663.3 921.5h.8M679.6 922.3h.8M672.1 921.3h.8M656.2 934.2h.8M680.6 923.6h.8M661.1 921.2h.8M658.8 934.1h.8M672.2 922.5h.8M684.3 922.9h.8M662.9 932.8h.8M672.8 921.1h.8M661.2 934.5h.8M666.9 924h.8M651.4 928.9h.8M677.2 920.4h.8M652 928.2h.8M666.9 934.3h.8M682.1 922.1h.8M677.2 920.3h.8M665.4 933.7h.8M669.7 921h.8M652.3 931.6h.8M685.4 929.5h.8M689.8 928.5h.8M649 926.1h.8M679.4 932.2h.8M684.3 921.5h.8M679.1 921.7h.8M673.1 920.9h.8M679 931.7h.8M654.5 925.8h.8M666.5 921.8h.8M680.5 932.1h.8M684.3 920h.8M693.1 925.2h.8M663.6 934.5h.8M674.9 931.8h.8M653.3 934.3h.8M657 930.8h.8" stroke="#3f7bf5" stroke-width="0.8" fill="none"/><path d="M687.3 922.2h.8M697.4 921.7h.8M691.1 922.5h.8M693.5 920.4h.8M684.7 924.6h.8M695.1 917.3h.8M699.9 915.3h.8M695.6 916h.8M688.9 925.6h.8M694.5 919.3h.8M694.6 923.1h.8M697.2 918.5h.8M685 923.6h.8M686.7 921.5h.8M683.9 925.3h.8M699.4 919.8h.8M694.4 921.8h.8M696.9 921.7h.8M687.9 926h.8M699.3 918.6h.8M699 917.1h.8M694.7 918h.8M694.8 917.5h.8M683.4 926.8h.8M697.2 919.6h.8M693.4 920.6h.8M690.9 917.2h.8M691.4 925.7h.8M699.8 917.5h.8M692.3 923.1h.8M694.8 918.6h.8M684.7 922.9h.8M683.1 925.4h.8M691.2 924.4h.8M690.2 919.2h.8M687.1 925.4h.8M686.5 920.2h.8M694.6 916.8h.8M701.5 918.7h.8M694.1 917.3h.8M696.4 917.3h.8M694.6 921.9h.8M693.2 923.1h.8M702.5 918.7h.8M691.2 925h.8M697.5 917.3h.8M692.9 922h.8M692.7 918.5h.8M687 920.1h.8M693.5 916.7h.8M696.9 921.3h.8M687.5 925.5h.8M688.1 925h.8M684.6 922.2h.8M670.5 932.2h.8M649.7 934.6h.8M655.5 929.3h.8M685 925.2h.8M680.9 922.3h.8M670.8 924.4h.8M657.2 930.1h.8M663.9 933.9h.8M663.8 921.6h.8M662 930.7h.8M672.5 922.9h.8M657.1 930.3h.8M657 928.9h.8M672.1 933.7h.8M675.2 922.7h.8M664.9 923.3h.8M659.9 935.5h.8M662 932.9h.8M663.4 922.5h.8M683.8 926.8h.8M659.7 929.1h.8M677.1 922.6h.8M672 932.4h.8M672.3 923.3h.8M669.9 932.2h.8M684.6 928.2h.8M666.1 930.3h.8M660.1 933.7h.8M661.3 925.7h.8M673.4 923.4h.8M660.2 928.9h.8M657.8 932.7h.8M662.4 921.6h.8M677.5 932.2h.8M661.7 925.6h.8M669.3 922.9h.8M680.2 926.1h.8M657.4 929.4h.8M666.2 922.5h.8M666 931.6h.8M659.8 931.1h.8M656.1 931.3h.8M684.6 920.9h.8M676.9 929.2h.8M682.5 925.7h.8M685.6 923.1h.8M656.3 931.1h.8M686.5 926.6h.8M662.9 923.9h.8M681.8 924.2h.8M671.5 923.3h.8M682.1 927.3h.8M665 921.4h.8M672.3 922.6h.8M664.8 929.3h.8M688.1 930.9h.8M683.4 928.6h.8M664.5 925.9h.8M687.1 928.2h.8M679.1 930.6h.8M655.1 927h.8M682.3 922.5h.8M656.3 930.5h.8M669.4 923.9h.8M656.3 927.4h.8M683.6 930.9h.8M661.5 931.3h.8M669 933h.8M682.9 924.3h.8M658.4 930.7h.8M654 930.3h.8M674.3 934.5h.8M657.2 930.3h.8M682.3 922.1h.8M667.3 933.4h.8M681.8 923.3h.8M682.8 924.7h.8M667.4 923.8h.8M683 929.7h.8M666.2 926.3h.8M659.9 923.3h.8M662.9 919.8h.8M668.5 921.7h.8M662.9 933.4h.8M657.7 929.7h.8M655.9 927h.8M659.6 924.6h.8M674.1 925h.8M679 923.6h.8M676.3 930.5h.8M663.1 923h.8M661.2 933.4h.8M668.2 920.8h.8M690.1 925h.8M663.6 934.3h.8M660.7 929.3h.8M660.7 926h.8M660.7 929.5h.8M679.5 928.4h.8M681.6 923.8h.8M653.9 929.4h.8M655.4 929.3h.8M674.8 932.4h.8M664.8 933h.8M675.4 922.3h.8M678.6 929.8h.8M655.4 924.5h.8M659.1 927.3h.8M688.1 925.4h.8M664.8 930h.8M664.5 924.3h.8M683.5 929.6h.8M659.7 928.4h.8M667.5 922.3h.8M660.7 926h.8M673.3 922.7h.8M685.9 930.7h.8M679.4 931.2h.8M657.8 927.1h.8M676.7 929.9h.8M659.8 925.6h.8M659.4 923.2h.8M684 923.2h.8M670 932.6h.8M666.7 924.9h.8M686.1 926.8h.8M668.2 933.4h.8M684 929.4h.8M664.8 932h.8M660.7 927.2h.8M654.8 931.9h.8M664 924h.8M685.5 928.1h.8M655 926.6h.8M682.4 931.3h.8M676.3 929.8h.8M661.9 925h.8M673.7 922.5h.8M674.7 923.2h.8M683.6 925.4h.8M678.3 923.1h.8M674.6 923.7h.8M681.4 931.3h.8M682 921.8h.8M661.1 929.4h.8M680.7 931.9h.8M674.4 931.6h.8M686.5 925.9h.8M679.8 929.2h.8M674 933.2h.8M657.1 933.2h.8M673.7 925h.8M686.9 925.5h.8M682.2 926.4h.8M660 927.5h.8M674.4 922.1h.8M670.1 922.8h.8M655.9 926.8h.8M690.5 925.4h.8M672.4 923.1h.8M655.4 928.9h.8M668.3 932.4h.8M667.3 931.3h.8M673.8 931.6h.8M662.1 928.1h.8M669.5 933.8h.8M675.9 924.2h.8M679.6 928.9h.8M658.4 926h.8M655.4 927.1h.8M656.2 927.9h.8M679.2 922.8h.8M665.7 933.6h.8M670.1 921.1h.8M662 925.3h.8M679.3 929.1h.8M668.9 931.6h.8M682 928.6h.8M667.6 933.8h.8M660.2 924.4h.8M686.5 926.1h.8M658.3 930.1h.8M664.4 930h.8M682.6 927.2h.8M675.3 932.7h.8M667.7 923.4h.8M669.4 932h.8M675.4 922.5h.8M674.9 931.7h.8M680 930h.8M665.1 925.7h.8M684.2 929.3h.8M658.9 931.9h.8M677.3 918.9h.8M683.3 922.1h.8M659.4 927.1h.8M654.2 927.5h.8M661 926.1h.8M665.7 932.3h.8M651.2 926.4h.8M683.7 925.8h.8M660.2 932.5h.8M679.8 925.7h.8M659.8 925.6h.8M657.5 926.1h.8M669.8 921.5h.8M673.4 930.3h.8M678.4 923.2h.8M666.1 933.8h.8M675.5 922.3h.8M685.5 929.2h.8M659.9 933.7h.8M667.8 923.3h.8M654.1 929.2h.8M657.9 925.3h.8M664.7 923.7h.8M657.8 931.4h.8M674.1 932.4h.8M676.2 932.3h.8M669.4 932.8h.8M681.9 930.5h.8M682 926.6h.8M679.7 931.2h.8M662 928.4h.8M658.7 926.1h.8M653.4 927.8h.8M678.4 931.1h.8M655.8 926.7h.8M657.6 935.1h.8M676.3 930.6h.8M662 923.1h.8M682.5 930.6h.8M680.3 923.7h.8M684.2 928.3h.8M665.1 922.4h.8M658.7 925.4h.8M665.7 926.8h.8M676.6 930.4h.8M651.8 926.7h.8M675.4 931.9h.8M674.7 932.8h.8M651.3 930.7h.8M667.9 932.9h.8M670.3 931.8h.8M659.3 925.2h.8M680 924.8h.8M686.7 927.7h.8M671.7 932.5h.8M663 929.9h.8M687.2 928.3h.8M688.6 925.7h.8M677.3 927.3h.8M652.6 932.1h.8M678.6 923.2h.8M656.7 929.4h.8M683 928.9h.8M655.7 924.4h.8M661.6 925.1h.8M661.1 931.8h.8M674.6 931.9h.8M661.1 923h.8M655.1 925.5h.8M678.8 928.8h.8M680 932h.8M682.6 923.8h.8M650.2 929.9h.8M677.9 924.8h.8M675 932.9h.8M682.8 930.1h.8M679.1 925.6h.8M658.8 933.6h.8M663.3 931.8h.8M662.7 929.5h.8M656.1 931.6h.8M679.9 922.5h.8M668.4 924.9h.8M678.9 931.1h.8M651.6 929.1h.8M658.7 930.3h.8M663.5 930.3h.8M662.1 931.6h.8M685.4 924.7h.8M676.1 929.9h.8M654.7 925.9h.8M657.8 931.7h.8M676.6 923.8h.8M661.3 925h.8M666 931.5h.8M677.3 923.9h.8M672.6 924.2h.8M682.5 924.5h.8M664.5 925h.8M676.8 922.5h.8M680.1 931.8h.8M655.7 926.2h.8M666.7 933.8h.8M664.4 933.2h.8M663.5 931.7h.8M682.7 925.1h.8M683.4 923.5h.8M670.9 920.9h.8M657.5 926.9h.8M665.7 923.2h.8M662.8 924.9h.8M669.8 931.3h.8M658.3 931.2h.8M658.6 931.9h.8M666.5 931.4h.8M677.5 923h.8M667.2 932.4h.8M687.3 926.1h.8M653.6 924.4h.8M675.4 923.4h.8M666.8 932.6h.8M673.9 932.4h.8M689.1 927.4h.8M680.9 922.2h.8M661.1 932.8h.8M651.6 932.9h.8M664.3 923.1h.8M659.3 924.8h.8M657.1 928.2h.8M658.8 928h.8M674.2 922.8h.8M660.1 932.1h.8M660.6 931.6h.8M681.4 921.6h.8M687.6 925h.8M680.3 922.1h.8M675.4 920h.8M657.3 926.5h.8M669.5 931.9h.8M668.1 925.1h.8M669 934h.8M683.6 929.6h.8M678.7 928.1h.8M681.6 928.5h.8M671 922.5h.8M657.4 929.4h.8M687.3 924.9h.8M657.8 931h.8M661 926.8h.8M671.9 931.6h.8M655.9 926.6h.8M660.7 928.2h.8M660.1 922.4h.8M672.7 931.3h.8M684.2 926.6h.8M686.9 926h.8M686.4 929h.8M669.2 921.7h.8M652.7 928h.8M661.3 931.2h.8M663.4 924.5h.8M664.6 929h.8M674.4 922.9h.8M684.8 927.6h.8M675.2 930.5h.8M660.5 930.9h.8M673.6 933.6h.8M678.9 929.1h.8M675.4 932.3h.8M669.5 931.6h.8M655.6 932.2h.8M660 932.7h.8" stroke="#22c7d8" stroke-width="0.8" fill="none"/><path d="M660.8 931.3h.8M676.4 923.9h.8M677.4 931.6h.8M679.3 928.2h.8M670.6 930.3h.8M666.1 931.7h.8M674.1 930.3h.8M662.1 931.4h.8M658.7 931.1h.8M674.3 933.4h.8M669.8 932.9h.8M674 929.4h.8M669.7 932.3h.8M676.6 926h.8M660.7 927.6h.8M680.5 929.9h.8M679.6 929.4h.8M683.1 922.7h.8M676.5 927.1h.8M660.6 933.6h.8M687.2 927.6h.8M666.2 929h.8M677.8 929h.8M666.5 923.7h.8M660.6 926.6h.8M670.9 929.1h.8M658.4 926.7h.8M673.6 926.3h.8M673.4 925.1h.8M672.7 928.4h.8M663.7 933.2h.8M673 929.1h.8M663.2 925.7h.8M676.8 931.3h.8M666.7 927.1h.8M682.1 926.9h.8M666.8 921.8h.8M661.8 931.1h.8M664.6 928.5h.8M679.9 923.1h.8M687.2 928.9h.8M666.7 925.4h.8M665.9 925h.8M665 926.2h.8M674.3 925.1h.8M671 924.8h.8M681 928h.8M680.4 927.2h.8M665.5 927.3h.8M680.7 926.8h.8M677.4 927.6h.8M657.9 928.9h.8M665.8 924.4h.8M669.3 928.7h.8M680.4 924.6h.8M676.4 929h.8M679.6 925.1h.8M661.2 926.7h.8M667.8 930.6h.8M677.4 927h.8M660.1 923.8h.8M675.4 923.2h.8M664.5 930.8h.8M664.9 930.7h.8M672.4 923h.8M669.6 923.7h.8M662.1 926.9h.8M674.9 923.8h.8M668.1 929.9h.8M667.9 932.2h.8M683.3 925.2h.8M666.3 930.8h.8M677.1 926.7h.8M678 925.6h.8M675.5 930h.8M670.6 926.1h.8M680.3 929.5h.8M678.5 926.9h.8M674.5 928.9h.8M678.5 924h.8M665.3 929.1h.8M667.7 931.1h.8M667.7 925.1h.8M684.9 925.5h.8M664.3 924.5h.8M664.6 930.8h.8M668.9 925h.8M673.3 928.1h.8M662.4 927.5h.8M661.1 928.2h.8M670.8 924.6h.8M682.6 925.3h.8M669 925.4h.8M666.4 928.3h.8M673.5 931.4h.8M667.4 926.5h.8M677.8 930.2h.8M671.8 925.5h.8M675.6 924.4h.8M665.5 923.2h.8M678.8 925.6h.8M674.5 923.9h.8M657 929h.8M664.4 926.5h.8M677.9 926.2h.8M682.5 926.1h.8M661.2 931.7h.8M673.1 926.8h.8M670.8 923.5h.8M668.7 925.1h.8M676.2 931.8h.8M668.6 925.2h.8M670.8 921.5h.8M680.6 923.9h.8M667.3 924.6h.8M678.8 928.6h.8M674.4 924.5h.8M656.1 929.1h.8M668.7 931.9h.8M667.2 930.5h.8M674.1 924.6h.8M665.7 927.7h.8M663.1 931.1h.8M669.2 926.1h.8M662.7 924.7h.8M661.7 928.4h.8M663.1 929.7h.8M659.9 926.1h.8M674.7 930.2h.8M682.3 925.1h.8M653.7 931.3h.8M669.6 932.9h.8M661.1 925.4h.8M677.7 927.6h.8M670.3 924.5h.8M675.6 930.2h.8M680.4 924.6h.8M666.7 924h.8M672.3 929.5h.8M667.3 931.8h.8M679.9 926.6h.8M680.3 929.5h.8M673.7 931h.8M660.5 925.7h.8M659.3 930.3h.8M671.2 929.3h.8M667.6 928.9h.8M668.5 923.9h.8M669.8 929.6h.8M677.9 927.8h.8M673.2 922.8h.8M665.5 930.9h.8M669.7 927.1h.8M679.2 929.5h.8M669.5 923.6h.8M683.6 925.2h.8M667.4 924.4h.8M677.8 929.5h.8M662.7 924.6h.8M678 930.2h.8M655.6 927.1h.8M677.3 925.3h.8M658.4 926.6h.8M673 932.1h.8M677.3 928.5h.8M676.4 929.4h.8M674.8 921.3h.8M686.5 925.9h.8M655.6 927.4h.8M662 934.6h.8M666.6 925.8h.8M666.3 924.9h.8M668.2 924.8h.8M673.6 929.7h.8M661.6 927.7h.8M650.7 927.4h.8M666.2 929.5h.8M672.2 924.6h.8M668.7 929.1h.8M670.5 930.3h.8M676.7 926.3h.8M674.2 928h.8M663.6 931.2h.8M665.7 929h.8M662.1 925.4h.8M664.7 929.9h.8M677.1 928.7h.8M674.4 925.1h.8M662 930.6h.8M665.1 928.2h.8M669.5 924.6h.8M679.6 923.1h.8M658 930.7h.8M670.9 931.5h.8M679.7 928.3h.8M684.8 926.2h.8M675.3 930.4h.8M659.3 926.3h.8M679.4 925.9h.8M683.2 924.7h.8M661.4 927.6h.8M670.6 924.5h.8M683.1 926.5h.8M677.9 928.5h.8M685.4 927.3h.8M668.8 926.2h.8M664.6 924.9h.8M667.8 922.9h.8M677.9 930.4h.8M667.3 926.8h.8M675.3 928.6h.8M679.3 924.3h.8M664.7 931.3h.8M662.9 925.3h.8M665.1 924.5h.8M681.4 927.4h.8M657.4 928.1h.8M663 925.2h.8M681.2 928.7h.8M674.1 927.8h.8M668.1 930.1h.8M663.5 931.5h.8M670 924.8h.8M666.6 925.3h.8M663.8 931.1h.8M669.6 929.4h.8M662.7 930.6h.8M677.3 926.5h.8M658.7 928.6h.8M673.5 924.2h.8M678.8 928.1h.8M685.2 925.6h.8M658.1 933h.8M659.7 929.8h.8M670.7 925.6h.8M672.4 924.2h.8M677.1 925.5h.8M677.6 926h.8M668.9 924.8h.8M668.8 931.3h.8M655.6 930h.8M679.1 922.2h.8M667 933.2h.8M664.6 933.3h.8M658.9 932.3h.8M663.6 930.9h.8M680.4 927.1h.8M677.5 929.8h.8M663.6 923.5h.8M672.5 932h.8M658.6 929.2h.8M661.8 926.7h.8M660.9 926.4h.8M663.8 929h.8M681.4 928.2h.8M678.8 928.4h.8M679.1 927.9h.8M661.5 930.5h.8M665.9 925.5h.8M667.3 924.6h.8M654.8 927.1h.8M662.5 924.2h.8M660.9 933h.8M667.5 930.7h.8M666.6 931.3h.8M684.1 929.9h.8M681.5 925.9h.8M659.5 929.5h.8M665 924.1h.8M663.8 930.8h.8M666.2 926h.8M665.1 926.5h.8M672.7 924.5h.8M662.2 927.7h.8M665.5 926.7h.8M684.5 929.7h.8M678 928.3h.8M683.9 923h.8M679.4 931h.8M666.7 924.1h.8M664.5 928.7h.8M677.2 928.5h.8M666.1 932.2h.8M664.7 932h.8M663 930.7h.8M680.4 924.5h.8M671.9 923h.8M682.5 925.4h.8M678.1 929h.8M685 927.4h.8M678.2 925.6h.8M664.5 926.7h.8M681.1 925.4h.8M673.3 929.3h.8M664.8 927.3h.8M678.8 922.8h.8M674.6 929.5h.8M669.8 925.5h.8M677.6 925.8h.8M669.8 925.7h.8M672.5 930.3h.8M673.7 924.6h.8M664.7 930.3h.8M671.3 930.7h.8M658.3 929.1h.8M660.3 930.4h.8M659.8 929.8h.8M676.3 931h.8M662.8 928.6h.8M659.1 926.6h.8M674.7 929.6h.8M679.6 928.3h.8M665.5 929h.8M664.7 932.1h.8M669.7 932.7h.8M678.3 925.5h.8M676.8 930.4h.8M675.6 929.2h.8M663.3 927.7h.8M677.7 929.8h.8M673.6 923.4h.8M660.8 930.1h.8M680.2 927.8h.8M673.1 924.4h.8M680.8 924.1h.8M666 927.4h.8M666 931h.8M664.9 932.5h.8M673 931.8h.8M677.1 925.8h.8M670.6 931.4h.8M661.2 928.9h.8M670.1 931.3h.8M674.4 927.5h.8M665.9 930.1h.8M661.8 924.4h.8M661.2 928.7h.8M675.8 930.8h.8M677.2 922.6h.8M671.5 925.1h.8M658.1 929.3h.8M661.5 931.4h.8M674.4 923.7h.8M667.3 927.6h.8M671 935h.8M683.7 923.3h.8M675.7 929.7h.8M661.8 930.7h.8M663.4 930.9h.8M667.8 924.9h.8M664.8 933h.8M681.5 929.3h.8M662.9 928.4h.8M674.7 925.8h.8M679.2 924.6h.8M672.2 924.9h.8M674.8 929.7h.8M676.7 929.9h.8M667.2 924.1h.8M679 924.8h.8M682.6 927.7h.8M672 929.8h.8M672.8 923.4h.8M659 927.7h.8M674.5 924.4h.8M665 929.2h.8M663.3 931.4h.8M677.2 926.4h.8M669.1 931.1h.8M682.5 926.4h.8M668.1 928.9h.8M676.1 928.5h.8M667.7 925.8h.8M670.2 922.8h.8M667.2 926h.8M682.4 926.6h.8M676.3 930.5h.8M661.7 934h.8M666.8 925.7h.8M661.3 929.1h.8M670.1 923.4h.8M673.9 929.6h.8M660.2 932h.8M656.6 930.5h.8M676.5 930.4h.8M666.1 931.1h.8M680.5 926.5h.8M677.9 923.8h.8M688.9 926.5h.8M665.5 932.1h.8M679.9 926.9h.8M674.7 927.7h.8M667.3 930.2h.8M680.9 928h.8M682.4 924.5h.8M672.2 928.2h.8M676.8 925.9h.8M664 925.3h.8" stroke="#37d04a" stroke-width="0.8" fill="none"/><path d="M673.6 925h.8M674 929.9h.8M676.7 928.7h.8M672.9 929.2h.8M676.2 924.8h.8M667 927.5h.8M671 925.6h.8M677.1 924.9h.8M670.9 929.4h.8M671.3 925.3h.8M671.5 930.1h.8M661.9 928.1h.8M673.7 927.7h.8M661.5 932.2h.8M664.1 927.2h.8M678 925.2h.8M665.4 929.6h.8M670.6 932.1h.8M663.6 926.2h.8M669 926.6h.8M669.6 926.8h.8M667 927.1h.8M668.4 924.8h.8M664.3 930h.8M665.2 926.6h.8M661.4 932.2h.8M673.3 930.1h.8M672.1 929.2h.8M671.1 925.3h.8M666.2 925.1h.8M666.7 932.5h.8M679 926.4h.8M664.6 927.1h.8M664.6 928.4h.8M666.3 928.5h.8M663.6 927.6h.8M656.2 927.3h.8M665.9 928.2h.8M667.1 926.7h.8M673 927.5h.8M680.3 925.9h.8M662.6 928h.8M661 930.3h.8M668.4 925.7h.8M664.8 926.4h.8M683.1 926.9h.8M676.8 928.8h.8M680 929.9h.8M661.6 927h.8M666.1 931.4h.8M672.1 928.9h.8M674.1 925.2h.8M672 926.2h.8M670.3 929.3h.8M665.6 925.3h.8M668.2 929.8h.8M663.9 927.6h.8M670.9 926.4h.8M667.1 925h.8M677.2 925.2h.8M674.2 925.4h.8M671.8 925.7h.8M670.3 924.6h.8M672.5 926.3h.8M667.4 927.2h.8M669.5 926.4h.8M682.6 926.8h.8M676.8 927.1h.8M666.5 927.9h.8M664.9 929.4h.8M668.9 929.3h.8M669.1 925.2h.8M683.4 925.1h.8M661.6 931.3h.8M667.1 926.8h.8M661.7 929.2h.8M672.2 929.4h.8M668.6 925h.8M664.6 925.9h.8M670.8 924.7h.8M667 928.8h.8M676.5 924.8h.8M668.3 927.4h.8M678.7 926.4h.8M664.7 926.6h.8M675.3 928.7h.8M666.6 927h.8M671.6 930.6h.8M669.4 928.2h.8M667.8 927.5h.8M668.3 930.7h.8M675.6 924.9h.8M667 931.9h.8M672.9 924.8h.8M667.4 929.5h.8M678.6 926.5h.8M666.8 929.1h.8M672.3 928.6h.8M665.7 929.2h.8M661.6 928.8h.8M665.7 928.7h.8M665.5 929.3h.8M674.6 928.1h.8M669.5 928.1h.8M669.1 926.7h.8M656.9 930.9h.8M671.3 930.5h.8M673.9 925.2h.8M665.6 930.1h.8M676.6 926.1h.8M670.1 923h.8M681.8 926.8h.8M668.6 926.9h.8M669.6 929h.8M670.8 928.8h.8M677.9 925.4h.8M665.6 926.3h.8M669 930.6h.8M672.6 925h.8M681.3 926.1h.8M678.2 928.1h.8M672.1 924.8h.8M677.6 925.4h.8M671.4 928.5h.8M672 924.8h.8M672.4 929.3h.8M662.7 928.8h.8M670.2 928.7h.8M672 925.6h.8M666.2 929.3h.8M669.6 929.6h.8M671.2 925.7h.8M665.9 929.6h.8M669 929.4h.8M668.3 929.6h.8M676.4 924.1h.8M674.4 924.7h.8M665.2 923.9h.8M666 928.8h.8" stroke="#d8e02a" stroke-width="0.8" fill="none"/><path d="M662.3 929.5h.8M673 927h.8M668.5 926.7h.8M661.6 927h.8M676.2 930.8h.8M668.6 929.9h.8M669.6 929.2h.8M665.6 926.1h.8M673.3 928.1h.8M672.8 923.9h.8M675.9 928.8h.8M673.9 928.5h.8M675 927.4h.8M666.7 927.5h.8M663.9 929.8h.8M673 927.9h.8M659 931.6h.8M670 930.6h.8M678.8 926.4h.8M677.5 927.6h.8M674 927.6h.8M672.5 926.2h.8M668.6 928.6h.8M666.4 929.3h.8M670.8 926.3h.8M669.4 929.3h.8M663.1 929.8h.8M675.7 926.4h.8M664.8 929.6h.8M661.5 930.2h.8M668.7 931.6h.8M681.7 926.6h.8M668.1 928.3h.8M670.8 929h.8M671.2 929.5h.8M672.3 928.2h.8M671.3 926.8h.8M674.5 924.3h.8M665.5 928.6h.8M666.1 929.1h.8M673.7 927h.8M671.6 927.4h.8M676.4 928.1h.8M665.7 926.2h.8M665.2 930.1h.8M672.4 927.2h.8M668.3 927.4h.8M661.7 931.1h.8M662.2 930.7h.8M677.2 925.4h.8M671.9 926.3h.8M674 925.8h.8M672.4 923.8h.8M668.4 926.4h.8M666.5 925.4h.8M668.9 926.4h.8M669.4 928.7h.8M667.1 926.8h.8M675.1 927.6h.8M664.3 927h.8M669.5 928.5h.8M679.2 929h.8M668.5 927.2h.8M674.4 926.1h.8M664.7 928.6h.8M665.6 926.8h.8M667.7 928.3h.8M677.4 927.3h.8M670.3 926.3h.8M668 925.7h.8M666.5 929.1h.8M670.2 928h.8M674.8 925.5h.8M682.4 925.6h.8M671.3 925.6h.8" stroke="#f29a1c" stroke-width="0.8" fill="none"/><path d="M673.9 929.2h.8M669.5 928.6h.8M667 926.4h.8M668.9 927.8h.8M670.1 927h.8M669.3 927.8h.8M666.9 930.6h.8M672.8 925.8h.8M667.7 927.2h.8M672 926.2h.8M669.3 927.2h.8M670.1 928.2h.8M667.7 927.5h.8M669.2 925.5h.8M665.6 926.9h.8M672.1 925.9h.8M671.4 927.3h.8M668.1 928h.8M670.5 928.2h.8M667.5 929.2h.8M676.5 927.2h.8M668.4 927.9h.8M673.6 928.4h.8M666.1 929.3h.8M675.1 924.7h.8M663.8 928.2h.8M672 927.5h.8M668.1 927.2h.8M670 926.8h.8M665.2 928.6h.8M670.2 925.9h.8M673 926.7h.8M673.6 925.9h.8M674.4 928.7h.8M663.2 927.7h.8M670.1 925.4h.8M671.1 928.1h.8M668.1 927.5h.8M672.7 928.7h.8M665.9 929.6h.8M667.2 929.4h.8M670.6 927.6h.8M669.1 928.7h.8M670.3 928.2h.8M665.5 929h.8M668.1 928.6h.8M670.7 925.7h.8M664.8 928.1h.8M674.5 926.9h.8M669.9 928.2h.8M671.5 926.2h.8M667.2 927.4h.8M672.3 928.9h.8M676 927h.8M662.7 926.9h.8M668 926.3h.8M673.2 927.5h.8M663.4 927.5h.8M673 928h.8M668.1 928.6h.8M671.5 928.7h.8M670.6 926.7h.8M673.5 928h.8M677.4 929h.8M669.8 927.4h.8M670.7 926.3h.8M668.7 926.9h.8M675.6 924.2h.8M673.2 927.3h.8M677.3 927.2h.8M672.3 927.8h.8M668.4 926.9h.8M668.4 928.1h.8M673.6 926.4h.8M664.6 928.6h.8M671.9 927.8h.8M672.4 927.8h.8M668.5 927.3h.8M669.2 926.8h.8M673.7 926.5h.8" stroke="#ee3a1e" stroke-width="0.8" fill="none"/><path d="M716.2 820.1V974.6M633 902.9H787.9" stroke="#222" stroke-width="1.3" fill="none"/><path d="M651.1 974.6v4M701 974.6v4M737.6 974.6v4M772.9 974.6v4M634 974.6v2.2M639 974.6v2.2M643 974.6v2.2M646 974.6v2.2M655 974.6v2.2M659 974.6v2.2M663 974.6v2.2M678 974.6v2.2M685 974.6v2.2M690 974.6v2.2M694 974.6v2.2M697 974.6v2.2M699 974.6v2.2M712 974.6v2.2M719 974.6v2.2M723 974.6v2.2M727 974.6v2.2M730 974.6v2.2M732.5 974.6v2.2M735 974.6v2.2M748 974.6v2.2M755 974.6v2.2M760 974.6v2.2M763 974.6v2.2M766 974.6v2.2M768 974.6v2.2M770.5 974.6v2.2M783 974.6v2.2M633 834.5h-4M633 871.3h-4M633 913.5h-4M633 938.5h-4M633 964.4h-4M633 823.1h-2.2M633 826.1h-2.2M633 829.1h-2.2M633 842.1h-2.2M633 849.1h-2.2M633 853.1h-2.2M633 857.1h-2.2M633 860.1h-2.2M633 863.1h-2.2M633 866.1h-2.2M633 868.6h-2.2M633 882.1h-2.2M633 890.1h-2.2M633 895.1h-2.2M633 899.1h-2.2M633 902.1h-2.2M633 905.1h-2.2M633 908.1h-2.2M633 910.1h-2.2M633 920.1h-2.2M633 925.1h-2.2M633 929.1h-2.2M633 933.1h-2.2M633 943.1h-2.2M633 947.1h-2.2M633 951.1h-2.2M633 956.1h-2.2M633 960.1h-2.2M633 968.1h-2.2" stroke="#111" stroke-width="0.9" fill="none"/><path d="M648.7 974.6v3.5" stroke="#111" stroke-width="4" fill="none"/><path d="M633 938.5h-3.5" stroke="#111" stroke-width="5.5" fill="none"/><g class="ns2" font-size="5.3" fill="#111"><text x="651.5" y="987.4" text-anchor="middle">0</text><text x="704.5" y="987.4" text-anchor="middle">10<tspan dy="-2.3" font-size="4.3">3</tspan></text><text x="741" y="987.4" text-anchor="middle">10<tspan dy="-2.3" font-size="4.3">4</tspan></text><text x="776.5" y="987.4" text-anchor="middle">10<tspan dy="-2.3" font-size="4.3">5</tspan></text><text x="627" y="836.7" text-anchor="end">10<tspan dy="-2.3" font-size="4.3">5</tspan></text><text x="627" y="873.5" text-anchor="end">10<tspan dy="-2.3" font-size="4.3">4</tspan></text><text x="627" y="915.7" text-anchor="end">10<tspan dy="-2.3" font-size="4.3">3</tspan></text><text x="624" y="940.1" text-anchor="end">0</text><text x="627" y="966.6" text-anchor="end">-10<tspan dy="-2.3" font-size="4.3">3</tspan></text></g><g class="ns2" font-size="6.1" fill="#111"><text x="636.2" y="832.1">Q1</text><text x="636.2" y="841.9">0.51</text><text x="774.4" y="832.1" text-anchor="end">Q2</text><text x="774.4" y="841.9" text-anchor="end">7.09</text><text x="774.4" y="956.3" text-anchor="end">Q3</text><text x="774.4" y="966.1" text-anchor="end">6.58</text><text x="636.2" y="956.3">Q4</text><text x="636.2" y="966.1">85.8</text></g><text x="712.5" y="812.9" font-size="15.2" text-anchor="middle">TMP150</text></g>
<g><rect x="828" y="818.5" width="154.9" height="154.5" fill="#fff" stroke="#b0b0b0" stroke-width="0.9"/><path d="M945.4 868h.8M934.2 887.5h.8M958.5 852.2h.8M934.1 871.4h.8M963.5 878h.8M950.5 872h.8M929 887.7h.8M942 876.6h.8M967.3 855h.8M918.6 902.8h.8M949.4 875.7h.8M954.2 854.9h.8M957.9 840.2h.8M942.4 875h.8M935.6 900.6h.8M932.3 870.1h.8M961.5 863.3h.8M953.1 866.6h.8M930.7 893.5h.8M972.9 860.3h.8M958.6 897.2h.8M945.9 864.6h.8M967.8 871h.8M977.1 862.9h.8M951.2 887.1h.8M949 889.1h.8M976.1 850.6h.8M955.3 880.9h.8M959.3 869.8h.8M943.1 886h.8M948.6 869.7h.8M946.7 874.9h.8M937.6 878.8h.8M950.1 863.9h.8M927.9 870.1h.8M943.3 867.5h.8M931.6 903.5h.8M972.5 855.6h.8M946.3 860.2h.8M939.5 887.1h.8M931.9 889.7h.8M922.6 881.9h.8M943.5 882.8h.8M942.3 877.8h.8M957.9 875.4h.8M948.1 883.7h.8M941 874.9h.8M938.3 879h.8M941.6 857h.8M941.7 880.2h.8M960.1 881.9h.8M966.2 877.1h.8M945.7 870.3h.8M940.4 870.7h.8M956 872.9h.8M935.8 874.6h.8M957.5 880.7h.8M929.9 873.5h.8M975.1 875.9h.8M955.4 858.1h.8M957.2 874.3h.8M946.9 857.6h.8M953.6 876.2h.8M947.1 873.3h.8M964 868.4h.8M948.6 867.1h.8M944.5 876h.8M934.9 877.1h.8M935.8 863.4h.8M953.4 877.2h.8M962.4 861.4h.8M923 885.1h.8M959.6 871.9h.8M914.6 919.3h.8M942.4 876.9h.8M929.3 885.3h.8M948.1 868h.8M939.5 874.8h.8M955.5 871.1h.8M959.3 881.1h.8M951.6 852.5h.8M938.8 888.8h.8M942.5 879.1h.8M931.4 890.2h.8M950.3 889.2h.8M969.9 835h.8M940.5 871.1h.8M945.7 876.2h.8M953.1 888.6h.8M951.2 877.3h.8M948.8 899h.8M939 889.2h.8M937.6 872.5h.8M962.3 866.4h.8M941 886.9h.8M947.4 894.7h.8M932.5 882.1h.8M930.6 888.8h.8M954.7 876.5h.8M939.3 882.7h.8M936 881.6h.8M934.1 885.6h.8M951.7 875.6h.8M934.6 891.5h.8M947 879.2h.8M949.5 885.8h.8M975.8 857.7h.8M951.7 867h.8M950 878.4h.8M953.7 863.9h.8M952.7 884.6h.8M942.4 866.1h.8M953.6 857.7h.8M943.8 892.2h.8M940.9 892.3h.8M934.3 873.6h.8M912.7 896.4h.8M955.4 858.7h.8M946.3 899.1h.8M951.1 877.6h.8M950.3 872.5h.8M947.7 858.7h.8M927.3 886h.8M950.7 898.1h.8M933.7 870.4h.8M944.1 855.8h.8M956.9 893.2h.8M947.2 856.7h.8M933.8 901.2h.8M945.6 872h.8M948.7 876.9h.8M941.7 886.9h.8M936.1 882.9h.8M951.1 855h.8M953.9 878.1h.8M954.8 876.8h.8M953.3 839.1h.8M953.6 897.4h.8M935.6 898.2h.8M973.5 861.1h.8M951.7 862.7h.8M931.1 859.7h.8M946.7 869h.8M923.5 873.7h.8M944 885.7h.8M937.4 868.3h.8M964.8 882.6h.8M964.6 863.2h.8M956.3 872.4h.8M968.1 862.7h.8M949.4 875.2h.8M960.7 858h.8M940.6 871.4h.8M957.2 886h.8M962 858.1h.8M960.8 870.8h.8M949.6 882.1h.8M930.1 865.1h.8M939.5 864h.8M963 872.6h.8M941.9 889.6h.8M930.9 876.4h.8M937.6 887.7h.8M937.7 878.1h.8M956.7 885.2h.8M935.3 873.9h.8M952.3 892.7h.8M966.9 856.3h.8M913.1 878.1h.8M948.1 857.2h.8M952.1 900.9h.8M953.2 849h.8M958 848.2h.8M942.4 857.3h.8M913.4 887.4h.8M945.1 876.6h.8M957.8 853.8h.8M941.4 856.5h.8M948.4 864.7h.8M964 858.8h.8M943.5 860.6h.8M932.8 882.6h.8M948.4 878.5h.8M938.3 868.4h.8M942.1 898.2h.8M928 885.2h.8M959.5 860h.8M953 855.1h.8M946.3 877.4h.8M916.9 885h.8M955.3 884h.8M940 866.2h.8M947.7 864.6h.8M946.6 904.2h.8M959.1 874.2h.8M940.5 859.1h.8M920.4 896h.8M959.1 870.7h.8M951.7 882.6h.8M932.5 898.7h.8M947 874.5h.8M954.6 870.6h.8M962.9 870.9h.8M934.8 904.1h.8M958.9 850h.8M951.3 860h.8M940.2 882.6h.8M959.6 880.2h.8M953.5 880.1h.8M948.9 892.6h.8M941.1 868.3h.8M954.7 880.3h.8M950.9 853.3h.8M956.5 884.3h.8M954.3 877.7h.8M949.3 842.4h.8M951.5 870.7h.8M954.5 866.6h.8M969.5 846.7h.8M932.6 879.2h.8M945 860.7h.8M938.6 875.8h.8M952.7 883.2h.8M955.5 864.6h.8M934.7 883.4h.8M936.1 870.8h.8M929 879.4h.8M954 862.8h.8M931.4 874h.8M959 857.1h.8M957.6 889.5h.8M975.1 864.1h.8M935.4 893h.8M957.8 861.1h.8M945 888.1h.8M945.5 867.7h.8M957.3 867.4h.8M939.6 873.9h.8M945.4 880.5h.8M958.7 869.1h.8M924.7 877.8h.8M941.5 884.4h.8M956.1 879.9h.8M952.8 868.5h.8M958.5 876.1h.8M935.1 914.9h.8M943.1 936.4h.8M955.3 908h.8M946 928h.8M938.5 928.8h.8M952.1 931.7h.8M932.9 924.8h.8M936 912.9h.8M954.6 923.1h.8M945 941.1h.8M957 944.8h.8M951.6 913.9h.8M956.6 917.3h.8M958.8 911.1h.8M946.9 900.6h.8M934.6 931.7h.8M934.4 927.4h.8M910.7 930.1h.8M932.6 930.3h.8M955.3 924.8h.8M942.4 910.8h.8M940.9 922.2h.8M942.9 908.2h.8M955.3 907.9h.8M948.9 924.8h.8M946.4 932.3h.8M932.1 923.4h.8M939.6 934.2h.8M928 945.5h.8M950.8 940.2h.8M946.4 946.4h.8M926.4 936.7h.8M942.7 937h.8M953.7 934.7h.8M947.6 923h.8M948.5 935h.8M940.3 923.1h.8M935.4 928.8h.8M931.5 909.8h.8M946.9 913.7h.8M933.8 911.6h.8M946.5 933.2h.8M946.9 923.5h.8M948.1 943.2h.8M943.4 914h.8M949.5 900.8h.8M925.7 931.2h.8M931.9 931.5h.8M954.7 923.9h.8M952.3 930.7h.8M930.1 928.8h.8M948.6 908.8h.8M951.5 932.9h.8M934.7 942.8h.8M967.2 945.6h.8M927.3 946.5h.8M941.9 925.4h.8M929.1 928.6h.8M945.5 938h.8M944.3 933.6h.8M941.3 942h.8M937 920.9h.8M942.9 948.7h.8M947.5 930h.8M952.7 916.2h.8M933.2 950.3h.8M961.1 926.1h.8M937.4 929.9h.8M938.9 938.3h.8M944 932.6h.8M959.4 935.3h.8M938.6 921h.8M946.5 908.6h.8M943.1 925.8h.8M952.8 934.8h.8M944.9 925.1h.8M938.9 912.2h.8M928.7 928.5h.8M934.4 926.2h.8M961.5 930h.8M957.1 927.5h.8M953.5 924.3h.8M936.2 902.8h.8M936.1 948.2h.8M926.4 919.5h.8M933 941.9h.8M950 931.4h.8M933.5 936.5h.8M961.2 917.6h.8M950.1 918.7h.8M948.8 945.2h.8M942.2 928.5h.8M932.8 946h.8M951.7 900.5h.8M960.4 929.1h.8M948.5 921.9h.8M932.7 906h.8M929.9 952.9h.8M932.1 915.3h.8M941.8 946h.8M932.9 919h.8M936.4 917.1h.8M934.1 920.7h.8M930.7 909.9h.8M946.5 919.3h.8M930.1 921.8h.8M955.3 916h.8M933.9 936.8h.8M932.3 912.8h.8M950.3 924.4h.8M933.9 940.7h.8M956.6 925.4h.8M940 940.9h.8M937.7 931.2h.8M956 905.8h.8M942.1 906.7h.8M950.7 901.3h.8M949.3 921.5h.8M943.6 920h.8M954.8 934.5h.8M948.4 931.7h.8M947.7 938.7h.8M962 923h.8M951.7 930.3h.8M937.2 924.6h.8M938.1 937.8h.8M948.6 925.6h.8M957.9 935h.8M927.8 916h.8M927.3 921.6h.8M943.3 919.3h.8M943.5 931.4h.8M936.4 944.6h.8M934.5 924.1h.8M936.3 927.4h.8M954.8 926.9h.8M946 928.6h.8M945.7 931.3h.8M947.6 934.6h.8M944.4 891.9h.8M950.4 931.7h.8M933.3 914.2h.8M941 924.3h.8M938 927.5h.8M907.1 883h.8M901.6 875.9h.8M885.2 873.6h.8M911.8 881.9h.8M901.5 869.3h.8M907.4 870.6h.8M905.9 870.4h.8M898.5 876.3h.8M905.1 869.9h.8M905.2 885.9h.8M902 855.2h.8M904.9 870h.8M898.4 866.5h.8M894.5 871.5h.8M895.9 879.3h.8M903.1 876.4h.8M900 863.2h.8M894.4 880h.8M896.1 878.7h.8M902.8 865.7h.8M899.7 889.8h.8M894.9 884.8h.8M906.3 883.2h.8M892 881.7h.8M889.8 878.3h.8M902 880.4h.8M909.7 872.7h.8M916.4 914.2h.8M920.9 914.2h.8M932.5 909.7h.8M927.8 912.3h.8M928.9 896.5h.8M934 911.4h.8M930.7 906.6h.8M906 913.1h.8M923.8 907h.8M919.7 930.3h.8M922.8 911.7h.8M927.7 908.8h.8M924.8 902.4h.8M931.9 911.5h.8M922.9 911.8h.8M917.2 916.4h.8M926 907h.8M920.1 923.8h.8M914.5 920.1h.8M918.1 922.3h.8M910.8 894.2h.8M926.1 927h.8M875.1 929.5h.8M895.2 909.1h.8M899.1 920.9h.8M893.2 914.6h.8M896.3 915.6h.8M893.7 914.7h.8M904.9 906.7h.8M894.6 911.6h.8M892.7 915.4h.8M897.4 906.2h.8M917.4 902.7h.8M868.3 925.4h.8M893 920.9h.8M880 920.4h.8M872.8 920.8h.8M882.3 918.6h.8M906.7 905.2h.8M895.4 910.5h.8M903.2 903.2h.8M887.1 927h.8M872.2 930h.8M879.9 911.4h.8M902.5 906.9h.8M892.1 919.3h.8M901 921.3h.8M875.8 916.8h.8M871.4 927h.8M880.4 918.5h.8M885.8 912.1h.8M891.5 921.1h.8M903.7 918.1h.8M896.6 914.7h.8M885.7 913.2h.8M893.1 912.5h.8M878.2 928.6h.8M891 908.5h.8M869.7 922.5h.8M873.9 929.2h.8M879.9 922.2h.8M893.2 922.9h.8M889 925h.8M882 914.4h.8M885.1 914.8h.8M868.5 922.2h.8M902.5 911.3h.8M917.3 905.6h.8M915.8 911.4h.8M875.2 927h.8M903.2 908.6h.8M881 920.4h.8M894 913.5h.8M879.3 920.9h.8M885.9 922.2h.8M886.4 911.1h.8M903 907.4h.8M901.1 913.4h.8M898.5 915.5h.8M888.4 914.1h.8M908.6 912.9h.8M895.3 922h.8M890.3 923.5h.8M895.3 917.7h.8M870.7 921h.8M892.8 924.4h.8M885.1 918h.8M881.4 916.2h.8M874.3 922.4h.8M887.2 921h.8M871.7 920.4h.8M866.4 927.3h.8M866.6 929h.8M887.1 923.3h.8M883.6 914.3h.8M902.3 910.5h.8M884.5 920.2h.8M900.7 918.5h.8M880.4 912.9h.8M896.4 923.6h.8M900.2 921.5h.8M875.7 926.8h.8M881.5 930.7h.8M883 919.8h.8M898.8 920.8h.8M882.6 923.7h.8M893.1 921.5h.8M907.7 906.2h.8M897.4 918.5h.8M899.1 924.9h.8M900.5 911.3h.8M881.4 924.9h.8M885.3 923.4h.8M912.4 909.1h.8M879.7 918.7h.8M888.8 916.9h.8M911 909.3h.8M882.4 917.4h.8M894.5 914.5h.8M890.3 910.4h.8M879.3 927.2h.8M889.4 920.5h.8M877.9 926.6h.8M894.8 927.8h.8M901.5 903.8h.8M912.1 905.8h.8M897.7 922.7h.8M883.4 914.9h.8M908.4 915.2h.8M882.4 918.6h.8M903.9 909.9h.8M881.2 924.5h.8M915.5 900.3h.8M887.7 924.9h.8M890.3 923.3h.8M885.6 915.2h.8M888.5 911.5h.8M876.5 924.2h.8M893.9 929.1h.8M869.6 929.3h.8M849.1 934.3h.8M905.7 909.3h.8M875.7 918.2h.8M877.2 920.6h.8M873.9 921.3h.8M886 915.1h.8M879.2 930.9h.8M883.7 918.8h.8M883 908h.8M908.6 911.4h.8M899.1 912.8h.8M889.4 916.9h.8M890.7 904.4h.8M875.1 924.7h.8M905.8 915.9h.8M907.8 911.6h.8M900.6 915h.8M878.7 924.2h.8M889.6 921.7h.8M884.2 921.3h.8M902.5 915.7h.8M880.8 924.5h.8M890.3 921h.8M905.1 915.2h.8M880.9 932.7h.8M894.9 916.2h.8M896.5 910.7h.8M896.8 913.4h.8M889.5 913.9h.8M890.7 917.9h.8M895 922.3h.8M912.6 906.7h.8M880.7 912.3h.8M894.8 922.6h.8M876.9 923.6h.8M881.7 916.9h.8M919.9 900h.8M902.1 912.6h.8M871.7 917.8h.8M883.1 925.9h.8M893.9 914h.8M907.8 917h.8M913.5 910.3h.8M884 918.7h.8M881.5 924.9h.8M894.9 916.5h.8M863.1 928.7h.8M892.2 912.6h.8M884.2 925.9h.8M880.8 930h.8M895.5 923h.8M898.7 916.2h.8M880.7 931.2h.8M877 923.5h.8M866.4 929.1h.8M894.3 914.2h.8M911.9 908h.8M895.5 927.4h.8M867.1 926.3h.8M900.1 907.9h.8M899.3 905h.8M899.8 911.3h.8M882.5 914.6h.8M884.4 921.1h.8M900.2 915.5h.8M888.6 915.5h.8M904.3 910.6h.8M883.3 915.9h.8M913.6 907.9h.8M907.1 911.2h.8M889 909.2h.8M885.7 922.5h.8M910 921.4h.8M899.2 911.6h.8M895.2 919.2h.8M900.8 914.5h.8M885.9 920.1h.8M904.6 914.4h.8M902.5 910.3h.8M886.1 916h.8M878.9 921.2h.8M910.5 909.3h.8M901.7 907.3h.8M899.5 920.8h.8M874.2 923.4h.8M880.4 925.5h.8M875.7 917.2h.8M896.2 906.9h.8M874.7 924.3h.8M896.8 920.9h.8M897.3 922.9h.8M869 932.3h.8M880.6 919h.8M901.1 923.9h.8M886.8 927.6h.8M895.6 913.9h.8M901.5 901.5h.8M896.5 917.3h.8M891 908h.8M898.2 913.7h.8M875.2 931.3h.8M907 913.4h.8M883 921h.8M870.5 921.8h.8M895.5 919.1h.8M890.5 913.9h.8M885.5 922.4h.8M908 910.4h.8M907.2 909.8h.8M883.2 918.7h.8M903.4 912.7h.8M875.4 930.1h.8M900.8 915.1h.8M903.1 913.5h.8M892.2 913.2h.8M890.5 910.4h.8M912.6 910.4h.8M882.3 916.7h.8M888.4 910.7h.8M890.4 923.4h.8M879.7 926.3h.8M900.9 909.1h.8M907.2 905.3h.8M896.8 913.2h.8M893.5 925.5h.8M878.5 922h.8M914.4 906.5h.8M888.7 925.7h.8M886.9 916.3h.8M886.9 920.9h.8M895.5 916.8h.8M884.6 925.8h.8M918.4 906.8h.8M873.1 919.3h.8M891.1 917.2h.8M880.5 922.9h.8M877 918.9h.8M885.4 919.1h.8M884.1 925.4h.8M886 909.8h.8M887.9 923.7h.8M882.5 917.2h.8M884.6 910h.8M882.9 923.2h.8M900.2 917.9h.8M900.5 912.6h.8M899.3 921.3h.8M890.3 921.5h.8M887.3 915.5h.8M889.2 916.6h.8M902.4 916.1h.8M888.8 915.7h.8M900.1 913.7h.8M892.8 924.4h.8M884.8 913.5h.8M904.2 914.7h.8M909 909.9h.8M878.9 909.5h.8M897.1 914.5h.8M908.8 908.4h.8M897.7 905.9h.8M889.7 919.3h.8M883.9 913.8h.8M890.4 915.1h.8M903.1 916.7h.8M893.5 920.6h.8M894.1 910.7h.8M898.8 915.4h.8M887.8 922.2h.8M901.6 919h.8M911.3 909.6h.8M897.9 918.4h.8M897.9 912.2h.8M901.3 916.3h.8M906 912.2h.8M873.3 922.5h.8M890 913.7h.8M886.1 920.6h.8M907.3 904.5h.8M885.1 923.7h.8M889.4 919h.8M909.1 916.4h.8M877.1 919.4h.8M895 923.5h.8M879.4 924.7h.8M888.2 914.5h.8M873 927.4h.8M859.6 922.5h.8M900 909.6h.8M890.6 922.5h.8M897.7 920.6h.8M902.5 910.3h.8M893.2 911.9h.8M893.1 914h.8M878.2 923h.8M895.8 922h.8M896.6 919.3h.8M884.1 925h.8M898.4 916.5h.8M902.6 921.3h.8M883.4 922.9h.8M879.6 913.7h.8M898.7 916.8h.8M900.5 908.6h.8M904.2 920.2h.8M893.5 910.3h.8M908.6 912.4h.8M901 911.7h.8M892.7 908.1h.8M870 932.3h.8M889 918.8h.8M884.2 916.4h.8M896.7 920h.8M898.9 919.8h.8M881.8 924.4h.8M908 910.6h.8M909.7 907.3h.8M870.9 928.4h.8M888.2 927.7h.8M904.2 907.1h.8M909.6 905.3h.8M902.4 921.3h.8M877.4 913.6h.8M899.2 913.3h.8M906.5 915.6h.8M901.1 922.1h.8M872 928.4h.8M880.7 925.6h.8M884.3 926.8h.8M882 925.3h.8M913.6 911.9h.8M899.8 901.9h.8M892 927.9h.8M889.3 917.1h.8M887 919.3h.8M863.5 929h.8M905.7 910.2h.8M889.2 919.4h.8M881.5 916h.8M899.3 922.5h.8M906.1 917.2h.8M896.9 915.9h.8M909.1 904.6h.8M896.6 905.9h.8M906.4 910.5h.8M890.5 927.1h.8M905.8 911.4h.8M878.9 912.5h.8M892.8 922.9h.8M870.7 931.7h.8M884.2 928.7h.8M866 921.1h.8M876.9 919.8h.8M903.7 910h.8M902.9 912.8h.8M912.7 912.4h.8M894.5 924.5h.8M865.1 927.1h.8M896.3 912.9h.8M899.4 911h.8M886.6 930.9h.8M882.7 923.9h.8M893.7 909.9h.8M891.6 911.5h.8M908.2 913.7h.8M913.1 907.7h.8M869.2 927.3h.8M888.3 907.1h.8M878 930.3h.8M902.2 908.9h.8M865.4 936.4h.8M887.7 916.3h.8M865.1 933.1h.8M875.4 921.2h.8M891.4 908.3h.8M878.1 922.4h.8M893.3 915.4h.8M906.6 918.7h.8M880.6 917.4h.8M903.2 918.7h.8M908.8 910.3h.8M889.5 927.6h.8M902.9 911.8h.8M901.9 920.6h.8M912.9 908.1h.8M897.6 914.5h.8M867.7 933.3h.8M899.9 912.2h.8M911.6 911.3h.8M893.1 922.8h.8M903.7 912.3h.8M878.3 915.3h.8M896.4 916.1h.8M881.9 929.5h.8M908.2 913h.8M890.1 908.6h.8M889.3 918.9h.8M896.4 917.7h.8M907.8 910.2h.8M897.6 906.5h.8M903.4 918.7h.8M870.1 931h.8M886.3 928.2h.8M881 918h.8M903.2 914.9h.8M890.1 909.7h.8M902.5 904.4h.8M900.2 907.8h.8M910.8 909.3h.8M894.2 911.4h.8M887.3 922.4h.8M878.3 918.3h.8M886.6 925.2h.8M904.1 918.8h.8M899.3 915.5h.8M894.1 919.5h.8M887.3 920.6h.8M902.5 910.2h.8M881.8 918.8h.8M880.8 924.4h.8M889.6 927.4h.8M895.6 915.1h.8M887.3 918.3h.8M871.3 929.1h.8M881.2 913.2h.8M898.4 919.2h.8M902.5 905.5h.8M874 923.4h.8M898.2 923.3h.8M906.4 908.5h.8M900.7 910.4h.8M893.7 923.2h.8M900.3 918.4h.8M910.7 907.8h.8M900.8 914.2h.8M894.2 915.3h.8M888.7 923.5h.8M905.2 910h.8M901.3 918.9h.8M907 926.4h.8M876.8 915.4h.8M900.6 904.8h.8M911.7 910.9h.8M909.2 905.3h.8M886.9 935.4h.8M898.1 920.4h.8M895.9 922h.8M886.1 915.7h.8M900.5 920.8h.8M899.3 911.9h.8M895.2 906.2h.8M898.8 913.8h.8M882.2 919.3h.8M904.5 910h.8M880.6 924h.8M893.4 913.6h.8M904.6 910.8h.8M884.4 932.6h.8M875.4 932.5h.8M903.7 917.3h.8M882 918.6h.8M910.8 916.1h.8M889.5 915h.8M885 923h.8M897.2 921h.8M895.6 918.5h.8M878.3 919.7h.8M891.9 917.1h.8M899.3 914.9h.8M874 922.9h.8M905.5 912.3h.8M886.5 926.2h.8M901.4 917.1h.8M904.1 909.9h.8M889.9 917.3h.8M862.3 932.6h.8M896 924h.8M894 906h.8M897.1 912.7h.8M896.9 917.5h.8M877.7 924.2h.8M905.1 906.1h.8M884.3 922.7h.8M882.3 924.7h.8M893.7 924.4h.8M852.8 928.3h.8M903.7 918.9h.8M884 920.6h.8M901.6 918h.8M884.6 927.6h.8M902.3 907.7h.8M895.6 911.1h.8M881.3 912.7h.8M889 919.1h.8M863 927.8h.8M892 915.9h.8M888.8 908.1h.8M890.2 926.5h.8M886.9 914.5h.8M902.8 909.7h.8M904.4 917.8h.8M887.4 921.5h.8M877.2 921.4h.8M893.6 913.2h.8M907.9 911.6h.8M875.6 932.3h.8M891.6 926.1h.8M905 914.4h.8M900.8 917.3h.8M900.4 923.5h.8M879.6 922.4h.8M884.2 913h.8M896.1 917.5h.8M910.5 903h.8M888.3 913.6h.8M889.3 924.6h.8M891.1 921.4h.8M894.5 920h.8M880.7 927.9h.8M905.7 914h.8M872.2 931.6h.8M886.5 918.3h.8M898.4 919.5h.8M872 915.8h.8M879.5 926.3h.8M914.7 904.3h.8M902.2 912.6h.8M887.2 927.3h.8M878.6 927.3h.8M887.1 921.4h.8M919.6 904.1h.8M890.3 911.3h.8M878.2 931.2h.8M881.9 923.8h.8M890.7 910.2h.8M884.3 919h.8M882.2 921.1h.8M912.6 908.4h.8M891 926.9h.8M887.1 917.5h.8M886.8 923.1h.8M896.8 926.1h.8M873.7 932h.8M899.5 927.7h.8M890.7 915.1h.8M905.7 914.8h.8M886.3 911.7h.8M874.8 927.4h.8M875.9 916.5h.8M907.9 914.1h.8M894.9 927.4h.8M898.7 910.5h.8M870 923.2h.8M893.9 915.2h.8M905.3 909.7h.8M893.2 922.1h.8M904.8 912.2h.8M892.1 918.7h.8M887.6 913.6h.8M898.5 906.9h.8M877 926.9h.8M884.4 922.1h.8M893.2 923.3h.8M896.6 917.5h.8M894.1 919.3h.8M906.4 912.8h.8M897.7 920.4h.8M881.3 925.6h.8M903.3 914.7h.8M883.8 934h.8M901.4 906.9h.8M895.1 919.2h.8M898.4 920.1h.8M907.1 911h.8M908.6 901.4h.8M911.6 907.9h.8M879.1 919.2h.8M878.7 917.4h.8M916.5 905.1h.8M888.8 926h.8M875.7 924.5h.8M905 919.7h.8M901.2 909.6h.8M877.4 925.1h.8M871 922.3h.8M900.5 920.8h.8M898.5 912.2h.8M872.3 921.9h.8M907 914.5h.8M888.9 923.8h.8M895.3 917.8h.8M884.3 926.6h.8M901.8 916.7h.8M904.7 919.9h.8M878.9 921.7h.8M910.7 911.7h.8M895.5 909.6h.8M898.1 910.6h.8M907.8 911.6h.8M851.8 922.8h.8M866.2 924.3h.8M850.7 925.1h.8M882 915.7h.8M856.5 928.3h.8M845.9 925.7h.8M891.6 912.6h.8M870.7 917.8h.8M861.1 913.5h.8M866.2 926.4h.8M844.7 928.2h.8M903.2 923.6h.8M882.8 925.9h.8M852.1 927.9h.8M890.5 920.9h.8M875.5 910.3h.8M868.2 913.4h.8M855.5 933.7h.8M864.5 916.7h.8M898.3 918.8h.8M863.9 921.4h.8M881.9 933.1h.8M864.8 918.8h.8M874.6 925.3h.8M839.8 923.1h.8M862.2 930.3h.8M854.5 924.7h.8M847 931.3h.8M888.2 912.1h.8M875.2 924.9h.8M879.8 926h.8M867.9 926.1h.8M873.1 916h.8M888.1 913.2h.8M890.4 915h.8M854.6 932.7h.8M870.6 927.2h.8M877 921.4h.8M878.7 927.3h.8M858.8 920.4h.8M864 921.2h.8M860.6 934h.8M902.6 926.9h.8M861.8 926.3h.8M853.1 910.2h.8M851.6 941h.8M877.7 914.6h.8M845.3 923.8h.8M854.2 910.7h.8M871.5 914.5h.8M855.4 931.1h.8M885.3 925.6h.8M859 934.3h.8M858.8 931.9h.8M874.3 938.2h.8M864.3 916.8h.8M863.1 924.9h.8M877.9 913.9h.8M849.1 932h.8M873 932.5h.8M865.9 931.4h.8M868.2 927.5h.8M853.1 928.7h.8M886 922.2h.8M877.6 928.6h.8M888.9 924h.8M859.9 919.8h.8M881.5 929.9h.8M847.7 929.2h.8M874.5 924.5h.8M891.2 930.8h.8M862.9 926.8h.8M866 926.4h.8M859.9 939.1h.8M869.7 910.3h.8M903.2 912.6h.8M883.1 916.5h.8M887.3 921.2h.8M858.7 917.8h.8M861 929h.8M846.3 923.7h.8M851.8 926.3h.8M879.7 931.7h.8M859.7 933.5h.8M851.9 926.7h.8M862.1 931.2h.8M866.3 925.9h.8M889 920.4h.8M870.3 913.2h.8M867.8 925h.8M856.1 924.1h.8M850.6 938.1h.8M842.3 924.4h.8M904.3 921.4h.8M869 924.7h.8M854.3 925.9h.8M874.7 917.2h.8M863.9 931.8h.8M848.9 927.4h.8M882.3 921.3h.8M889.7 916.7h.8M857.3 931.2h.8M873.1 921.2h.8M874.5 928.8h.8M868.6 930h.8M864.9 927h.8M854.4 932.9h.8M855.6 921.8h.8M875.3 925.3h.8M850.1 921.9h.8M886.1 913.3h.8M867.7 923.4h.8M846.1 921.7h.8M860.3 928.6h.8M886.5 918.2h.8M874.9 935.6h.8M864.5 924.4h.8M885.6 922.7h.8M858.1 934.8h.8M852.5 928.7h.8M864.9 922.9h.8M845.8 924.4h.8M853.1 935.1h.8M864.7 914.3h.8M870 924.4h.8M882.4 923.8h.8M862.6 926.1h.8M864.8 922.1h.8M896.6 912.7h.8M861 927h.8M875.6 930.4h.8M858.1 926.7h.8M908.6 926.6h.8M852.8 919.6h.8M874 925.5h.8M904.6 921.3h.8M886.2 925.9h.8M885.3 924.3h.8M860.3 925h.8M870.1 937.7h.8M878.8 926.7h.8M871.7 927.5h.8M876.2 933.5h.8M868.5 925.8h.8M852.4 922.1h.8M870.5 913.7h.8M884.5 918.9h.8M878.5 928.5h.8M875.7 936.9h.8M868.4 921.4h.8M865.6 925.9h.8M848.4 931h.8M851.2 930.8h.8M872.1 924.8h.8M866.1 920.5h.8M856.7 922h.8M884.2 921.7h.8M837.4 932.6h.8M865.8 918.4h.8M866.4 922.9h.8M856.9 925.1h.8M877.9 920.1h.8M865.3 922.4h.8M893.2 930.4h.8M867.4 923.4h.8M858.6 933h.8M894.2 923.8h.8M890.7 905.5h.8M854.9 921.5h.8M885.2 934.1h.8M847.9 932.7h.8M857.1 935.8h.8M869.5 941.2h.8M869 926.1h.8M870.8 930.7h.8M837.3 929.3h.8M862.6 916.6h.8M876.9 935.3h.8M864.1 925.5h.8M888.6 923.2h.8M854.4 944.7h.8M883.1 921.9h.8M885.9 921.9h.8M865.8 921h.8M874.5 927.1h.8M855.9 923.9h.8M862.9 925.4h.8M866.2 931.2h.8M870.5 921.9h.8M854.4 930.3h.8M860.6 924.2h.8M901.3 922.6h.8M837.3 930.4h.8M883.6 925.9h.8M857.4 915.1h.8M870.5 920.8h.8M892.9 926.3h.8M866.2 919.9h.8M862.5 927.3h.8M867.9 927.5h.8M869.5 924.6h.8M852.9 923.4h.8M838.1 931.9h.8M866.9 918.7h.8M848.2 917.5h.8M867.7 922.3h.8M866.4 918.4h.8M860.1 936h.8M871.6 928.5h.8M880.9 936.1h.8M863.3 926.5h.8M850.5 927.1h.8M873.5 915.3h.8M887.6 921.3h.8M863.4 921.4h.8M874.1 937h.8M860 930.3h.8M879.4 933.7h.8M864.9 935.6h.8M849.9 921.7h.8M869 921.4h.8M856.3 927.8h.8M851 935.8h.8M884.6 933.6h.8M873.1 934.5h.8M862.5 934.7h.8M857.9 923.7h.8M892.1 919.9h.8M847.3 928.4h.8M855 931.6h.8M859.9 923.8h.8M869.8 922.5h.8M856.2 934.6h.8M868.7 926.8h.8M872 922.7h.8M880.4 923.1h.8M838.4 931.6h.8M885.3 933.8h.8M861.7 927.4h.8M877.7 920h.8M881.6 929.3h.8M867.7 925.9h.8M839.7 924.6h.8M888 930h.8M875 920.4h.8M861.1 936h.8M873.1 921.6h.8M879.5 922.6h.8M883.9 930.1h.8M862.9 923.4h.8M879 927.9h.8M864.6 925.4h.8M847 920.6h.8M834.1 935.6h.8M879.5 910.6h.8M880 914.9h.8M844 941h.8M856.1 926.2h.8M854.2 930.2h.8M880.5 928.2h.8M846.1 930.8h.8M862.8 925.7h.8M851.1 924.6h.8M879.5 931.2h.8M861.4 928.9h.8M856.8 931.2h.8M880 938.9h.8M871 932.6h.8M878.5 918.9h.8M882.1 918h.8M848 927.4h.8M849.2 919.7h.8M848.5 922.4h.8M860.8 912.9h.8M878.1 926.5h.8M847.9 925.4h.8M849.2 923h.8M857.6 927.6h.8M868 928.2h.8M866.1 923.3h.8M856.9 931.8h.8M868 917.4h.8M866.5 927.3h.8M855.4 928.3h.8M841.4 926.3h.8M873.9 929.5h.8M848.9 934.3h.8M876.8 923.7h.8M871 936.8h.8M849.9 923.1h.8M853.1 924.4h.8M860.9 927.7h.8M851.4 930h.8M857.9 910.1h.8M840 931.5h.8M876.7 921.4h.8M855.6 932.2h.8M838 937h.8M869.7 918.1h.8M844.6 922.3h.8M891.9 920.5h.8M865.8 928.3h.8M869.6 927h.8M882.9 926.6h.8M873.1 932.7h.8M855.9 923.5h.8M881.3 935.6h.8M857.4 928h.8M857.6 935h.8M846.4 935.2h.8M864.2 920.5h.8M836.6 939.3h.8M868.2 925.4h.8M861.1 925.1h.8M842.8 925.9h.8M858.5 936.1h.8M840.7 924.3h.8M874.7 920.5h.8M884.7 917.5h.8M853.3 918.7h.8M860.4 912.6h.8M854.3 940.1h.8M840.4 918.3h.8M898.6 927.8h.8M863.2 921.6h.8M854.8 923.5h.8M882.5 918.2h.8M845.5 931h.8M862.9 930.3h.8M874.2 928.4h.8M862.4 937.4h.8M857.1 920.1h.8M851.1 923.9h.8M870 922.6h.8M866.7 923.4h.8M879.4 920.8h.8M883.1 930h.8M871.8 918.1h.8M875.1 933.6h.8M880.2 937.8h.8M880.7 925.6h.8M863.5 921.9h.8M876.2 923.4h.8M873.1 944.6h.8M875.1 921.5h.8M860.6 922.1h.8M871.2 916.9h.8M872.8 921.5h.8M831.1 933.8h.8M871.5 931.7h.8M864.9 923.6h.8M848.1 931.4h.8M868.8 921.9h.8M873.5 922.7h.8M868.2 931.6h.8M854.1 933.1h.8M867.6 927.2h.8M868.9 939.6h.8M858.8 925.4h.8M869.1 920.9h.8M879.9 920.5h.8M880.4 916.3h.8M866.3 925.2h.8M862.8 934.4h.8M864.7 917.4h.8M878.3 931.9h.8M859.6 922.2h.8M845.5 920.3h.8M858.2 943h.8M867.5 927.8h.8M869.8 924.7h.8M890.6 916.5h.8M855.8 932.3h.8M900.8 917.1h.8M861.6 930.8h.8M868.4 932.5h.8M850.6 934.6h.8M870 920h.8M864.2 926.5h.8M876.2 917.2h.8M881.6 927.7h.8M875.1 930h.8M869.1 928.6h.8M882.8 934.9h.8M863.1 929.1h.8M876.9 919.7h.8M879.4 917h.8M870.2 925.4h.8M910.5 911.9h.8M835.8 925.8h.8M844.5 937.1h.8M888.4 921.7h.8M863.5 928.4h.8M865.6 929.5h.8M871.5 917.7h.8M885.1 930.6h.8M853 918.9h.8M872.4 929.2h.8M853.7 922.3h.8M869.5 921.6h.8M849.9 923.4h.8M841.8 926.3h.8M887.9 926h.8M884.7 929.7h.8M847.6 925.4h.8M877.7 930.4h.8M884.6 919.6h.8M843.8 925.8h.8M852.2 923.9h.8M892.7 924.2h.8M886.1 920.6h.8M868.5 932.9h.8M888.7 927h.8M853.5 934.1h.8M875.8 917.3h.8M861 935.6h.8M881.7 914.1h.8M840.5 925.2h.8M855 923.3h.8M850.1 921.5h.8M864.5 919.7h.8M850.5 940.1h.8M883.1 915h.8M872.3 920.7h.8M895.9 922.6h.8M864 915.1h.8M844.9 925.3h.8M845.9 929.7h.8M845.7 924h.8M848.1 923.1h.8M883.9 925.8h.8M848.7 931.4h.8M846.8 927.6h.8M890.8 918.5h.8M848.5 927.2h.8M872.1 918.1h.8M860.1 934.9h.8M869.1 917.3h.8M882.5 923.7h.8M875.9 918.3h.8M904.2 922.8h.8M877 918.2h.8M873.5 931.3h.8M873 915.9h.8M870.4 932.4h.8M862.3 935.9h.8M883.7 918.9h.8M857.3 933.6h.8M882.4 917.5h.8M880.8 930.9h.8M881.3 916h.8M879.5 932.5h.8M858.6 918.7h.8M872.6 919h.8M866.8 934.6h.8M873.5 931.1h.8M885.4 923.8h.8M850.6 926.8h.8M869.2 919.5h.8M883.8 919.1h.8M858 933.1h.8M889.9 931.6h.8M877.2 929.7h.8M874.8 918.2h.8M849.1 925.7h.8M877.5 919.3h.8M885.4 922h.8M870.4 931.6h.8M861.5 933.1h.8M872 917.2h.8M851.9 923.6h.8M859.4 921.5h.8M851.5 923.1h.8M854.4 929h.8M846.4 924.6h.8M855.3 922.7h.8M853.1 917h.8M853.3 922.3h.8M860.4 916.1h.8M857.8 919.5h.8M843.1 927.3h.8M889.3 927h.8M879.9 929.9h.8M858.4 933.6h.8M864.4 919h.8M838.8 929h.8M849 933.6h.8M856.7 921h.8M849.5 932.1h.8M854.5 925.7h.8M885.8 926.3h.8M856.8 934.2h.8M884.7 921.9h.8M848.1 939h.8M885.4 921.2h.8M884.3 922.9h.8M843.9 932.7h.8M846.3 927.6h.8M862.1 933h.8M848.3 931.3h.8M866.7 934.1h.8M883.1 921.7h.8M851.3 931.1h.8M857.1 920h.8M874.2 933.9h.8M889.1 927.3h.8M852.9 922.6h.8M889.4 929.1h.8M865.5 932.5h.8M869.6 932.5h.8M855 929.1h.8M845.7 931.7h.8M882 928.8h.8M884.4 931.3h.8M852.4 933.7h.8M883.6 925.2h.8M839.1 929.1h.8M890.9 920.1h.8M853.7 921.8h.8M888.5 924.9h.8M892.8 927.6h.8M867.4 920.8h.8M869.4 917.9h.8M882.6 922.2h.8M849 922.3h.8M842.2 929.2h.8M866.6 918.6h.8M879.3 929.4h.8M870.9 931.9h.8M883.2 928.2h.8M869.5 934.2h.8M877.4 931.4h.8M855.2 925.6h.8M875.8 933.4h.8M887.2 915h.8M870 931.7h.8M866.3 914.2h.8M888.2 926h.8M869.6 917.3h.8M864.4 916.7h.8M854.8 914.3h.8M846.8 923.5h.8M847.5 928.1h.8M857.2 934.7h.8M878.2 925.3h.8M891.5 920.3h.8M888.6 923.4h.8M870.3 914.3h.8M860.5 934h.8M852.4 924.9h.8M855.8 922.6h.8M854.4 930.6h.8M850.4 918.5h.8M884.6 925.3h.8M853.8 917.3h.8M855.2 924.4h.8M885.4 927.5h.8M878.3 919.3h.8M850.1 930.7h.8M880.7 934.9h.8M871.9 933.1h.8M885.5 918.7h.8M888.3 924.2h.8M880.5 930.4h.8M861.6 915h.8M883.3 932h.8M864.5 934h.8M881.9 931.9h.8M875.3 933.4h.8M873.5 918.1h.8M897.5 919.7h.8M890 925.9h.8M879.9 927.8h.8M848.2 924.9h.8M853.1 923.6h.8M844.3 930.7h.8M895.2 934.2h.8M885 919h.8M862.8 935.9h.8M883.3 918.3h.8M890 920.8h.8M880.7 916h.8M860.8 922h.8M853.4 922.7h.8M888.7 918.8h.8M891.8 925.2h.8M856.7 932.1h.8M844.6 933h.8M876.9 919.8h.8M860.3 934.5h.8M859.6 931.6h.8M855.1 932.9h.8M889.5 922.5h.8M892.6 926.5h.8M866.8 934.2h.8M849.7 921.1h.8M860.8 921.5h.8M854.7 938.3h.8M873 916.3h.8M857.3 923.5h.8M874.5 915.9h.8M882 916.3h.8M885.5 913.7h.8M843.7 929.2h.8M854.1 934h.8M878.9 931.3h.8M866.1 919.8h.8M848 934.6h.8M886.3 932.8h.8M872.5 936.6h.8M863.3 917.9h.8M852.6 921.4h.8M848 925.5h.8M872.2 931h.8M877 931.8h.8M850.6 929h.8M852.6 929.1h.8M881.8 929.7h.8M882.9 929.6h.8M855.7 933.5h.8M856.5 923.1h.8M880.2 917.6h.8M850.2 927.7h.8M854.8 921.2h.8M885.1 922.1h.8M865.5 934.4h.8M854 927.8h.8M853.4 929.4h.8M873.4 932.1h.8M854.9 919.6h.8M853.9 936.1h.8M862.8 922.1h.8M858.7 916.6h.8M877.5 919.4h.8M858.6 915h.8M854.4 921.2h.8M857.8 917.9h.8M885.4 926.7h.8M841.8 933.4h.8M853.1 931.2h.8M874.8 914.4h.8M856.4 933.2h.8M892.3 922.1h.8M888.2 922h.8M838.2 931.8h.8M854.5 920.6h.8M860.7 933.9h.8M853.3 921.8h.8M857.7 932.5h.8M865.2 917.3h.8M883.7 921.6h.8M846.2 926.2h.8M851.1 923.8h.8M859.6 921.6h.8M879.5 918.6h.8M846.3 936.3h.8M879.4 928.9h.8M884.7 922.5h.8M844.2 927.5h.8M875.6 917h.8M857.6 921.1h.8M883.8 926.3h.8M891.4 920.4h.8M849.3 929.8h.8M884.4 924.7h.8M871.2 917.9h.8M892.8 921.1h.8M857.6 920.3h.8M847.6 939.1h.8M848.7 913.7h.8M879.9 930.1h.8M846 925.2h.8M864.7 933.2h.8M849 926.4h.8M880.3 918.5h.8M871.2 914.3h.8M880.1 917.6h.8M849.3 934.4h.8M851.5 930.4h.8M889.6 929.3h.8M852.9 935.6h.8M848.6 922.4h.8M862.1 935h.8M880.9 928.7h.8M866.3 936.4h.8M863.2 935.3h.8M847 930.7h.8M858.4 916.8h.8M895.7 924.8h.8M881.9 921.3h.8M873.2 916h.8M845.9 928.7h.8M887.6 925.9h.8M845.4 926.7h.8M850.8 923.2h.8M874.7 932.4h.8M841.6 932.4h.8M855.1 933h.8M865 919h.8M841 914.1h.8M870.8 933.9h.8M842.1 929.7h.8M882.3 925.8h.8M884.7 929.2h.8M843.7 924.6h.8M888.3 921.1h.8M883 914.6h.8M895.7 925.7h.8M858 930.5h.8M849.9 927.6h.8M862.9 918.8h.8M868.3 916.7h.8M892.4 922.3h.8M863.2 935.2h.8M864.3 917h.8M865.8 918h.8M890.5 924.6h.8M877.9 928.4h.8M885.6 919.7h.8M859.4 917.4h.8M859.5 918.6h.8M884.9 921.3h.8M850.7 923.5h.8M873.2 915.1h.8M852.5 917.7h.8M885.2 921.8h.8M871.7 918h.8M864.1 918.3h.8M884.8 925.3h.8M887.4 920.3h.8M885.4 925.1h.8M868.6 917.6h.8M841.3 929.9h.8M879.3 926.9h.8M853.9 936.6h.8M877.1 916.8h.8M849.4 920.3h.8M862.4 917.2h.8M847.2 931.4h.8M842.6 929.2h.8M884.8 921.1h.8M883 918.8h.8M877.2 915.1h.8M859 932.7h.8M860.3 933.7h.8M865.2 918.7h.8M869.7 934.2h.8M847.6 922.4h.8M878.3 919.9h.8M875.7 932.8h.8M874.8 919.5h.8M850.4 926.4h.8M845.1 928.7h.8M841.5 932.1h.8M855 931.9h.8M846.6 925.4h.8M870.8 932.1h.8M881.9 928.5h.8M852.9 933.1h.8M854.1 936.3h.8M866.7 932.1h.8M871.1 917.8h.8M880.9 927.7h.8M870.5 931.5h.8M880.2 929.4h.8M867.6 915.9h.8M841.2 929.2h.8M867.5 934.9h.8M882.4 919h.8M850.2 921.2h.8M884 927.1h.8M888.8 927.8h.8M857.6 919.9h.8M884.5 924.2h.8M881.1 929.7h.8M886.7 914.4h.8M883.2 920.8h.8M865.4 934h.8M876.4 916.9h.8M881.8 930.4h.8M855.4 933.6h.8M877 931.9h.8M881 927h.8M849.5 937.6h.8M843.3 932.4h.8M848.6 933.2h.8M880.9 925.5h.8M849.2 926.7h.8M872 931.4h.8M886.9 921.5h.8M872.5 933.7h.8M844.9 934.3h.8M848 933.6h.8M847.8 927.2h.8M882.4 926.5h.8M855.1 919.4h.8M872.1 931.7h.8M863.2 936.6h.8" stroke="#2b3cf0" stroke-width="0.8" fill="none"/><path d="M930.2 885h.8M967.1 872.5h.8M940.9 893.7h.8M949.5 862.4h.8M958.4 855.3h.8M954.2 870.5h.8M933.7 860h.8M944.3 874.7h.8M962.6 846.1h.8M934 895.8h.8M953.4 862.5h.8M960.3 886.6h.8M932 868.7h.8M954.4 877.7h.8M925.8 901.9h.8M964.4 856.5h.8M939.7 889.7h.8M946.4 845.6h.8M958.2 858.5h.8M957.5 873.7h.8M951.7 859.4h.8M949.8 874.2h.8M934.1 878.7h.8M939.6 868.8h.8M929.5 904.2h.8M932.4 899h.8M929 893.6h.8M965.7 858.8h.8M939.7 903.7h.8M958.6 861.7h.8M935.6 901.8h.8M941.5 859.4h.8M943.7 879.3h.8M970 876.1h.8M943.8 892.3h.8M943.9 877.2h.8M971.9 861.2h.8M962.1 882.1h.8M949.8 889.5h.8M929.5 891h.8M935.4 881h.8M959.1 864h.8M941.7 873.9h.8M967.3 858.2h.8M949.7 888.4h.8M931.3 879.3h.8M955.7 866.6h.8M970.5 877.7h.8M957 871.8h.8M952.1 854.9h.8M937.6 882.7h.8M921 894.4h.8M928.2 863.6h.8M950.2 874.5h.8M969 864.1h.8M946.2 866.3h.8M950.5 888.4h.8M952.7 861h.8M931.9 909.9h.8M952.6 867h.8M942.6 863.3h.8M941.1 881.1h.8M952.2 889.7h.8M971.9 878.4h.8M956 843.9h.8M939.2 858.6h.8M960.5 868.8h.8M932 893.7h.8M939.3 885.8h.8M930 894.9h.8M952.7 886.4h.8M947.7 878.2h.8M960.7 863.9h.8M945.7 877.9h.8M944.6 869.4h.8M943.3 877.5h.8M955.3 860h.8M939.2 897.8h.8M945 872.3h.8M940.4 877.1h.8M970.2 853.1h.8M953.1 877.5h.8M942.4 885.3h.8M960.1 879.1h.8M960.3 850h.8M938.3 873.6h.8M946.6 877.8h.8M959.4 876.5h.8M946.6 891.3h.8M937.9 886.5h.8M967.7 865h.8M942 883.9h.8M940.1 879.7h.8M948 864.3h.8M963.9 864.2h.8M937.6 898.3h.8M971.5 872.1h.8M940.2 881.2h.8M941.1 883.5h.8M934.4 889.2h.8M940 873.5h.8M948.1 868.7h.8M947.1 882.4h.8M957.3 889.6h.8M949.6 869.3h.8M936.5 887.1h.8M941.4 864.8h.8M920.3 915.1h.8M955.4 932.9h.8M936.6 935.6h.8M946.1 929.2h.8M944.2 929h.8M943.6 917.6h.8M943 951.1h.8M945.7 930h.8M959.2 938.5h.8M943.9 919.8h.8M950.3 924.6h.8M937.9 903.2h.8M956.4 912.6h.8M944.9 928.2h.8M945 918h.8M931.7 927.9h.8M943.2 923.1h.8M941.4 937.3h.8M937.4 919h.8M931.5 930.5h.8M944 932.9h.8M933.6 916.2h.8M946.4 929.7h.8M936 918.1h.8M946.9 914.9h.8M934 930.2h.8M967 921.5h.8M953.4 921h.8M950.9 930.3h.8M953.7 906.4h.8M956.4 917.8h.8M953.5 948h.8M935.3 911.2h.8M960.5 924.1h.8M949.4 934.3h.8M940.7 926.5h.8M945.7 930.9h.8M960.5 900.2h.8M966.5 903.1h.8M940 915.5h.8M948.1 934.7h.8M931.6 930.5h.8M928.2 942.5h.8M916.5 920.1h.8M950.8 920.6h.8M941.1 947.8h.8M949.7 940.9h.8M943.9 921.7h.8M951.5 938.7h.8M922.6 945h.8M933.5 928.4h.8M944 919h.8M935.6 923.7h.8M921.6 936h.8M944.6 915.6h.8M945.3 908.4h.8M940.9 918.5h.8M937.1 938.3h.8M941.5 936.1h.8M950.9 928.5h.8M954.6 919.5h.8M924.1 920.7h.8M937.6 934.4h.8M944.5 910.5h.8M878.8 878.3h.8M899.3 880.7h.8M884.9 867.5h.8M889.9 877.8h.8M911.4 874.6h.8M902.9 875.1h.8M900.8 867.3h.8M900.7 877.8h.8M902.2 880.2h.8M923.5 902.2h.8M910.1 902.8h.8M908 927.1h.8M929.8 922.6h.8M923.6 911.4h.8M903.7 901.1h.8M911.6 918.2h.8M926.8 917.8h.8M925.7 897h.8M913.6 905.5h.8M909.1 922.9h.8M909.4 909.5h.8M927.2 907.6h.8M908 916.5h.8M916 926.7h.8M926.6 908.1h.8M924.2 902.3h.8M912.3 901.7h.8M891.7 914.3h.8M894.4 914.8h.8M884.9 924.1h.8M893.2 919h.8M900.3 913.3h.8M891.4 915.6h.8M890.7 915.4h.8M882.2 920.2h.8M893.3 921.5h.8M899.4 917.4h.8M886.8 922.9h.8M887.5 918.2h.8M889.8 913.7h.8M885.7 923.9h.8M886.8 916h.8M901.5 915.1h.8M894.8 912.7h.8M893.2 916.9h.8M882.7 919.8h.8M886 919.7h.8M892.9 921.6h.8M900.8 913.8h.8M887.5 921.1h.8M883.8 923h.8M888.7 922.9h.8M888.6 917.5h.8M891.4 917.7h.8M892.4 916.5h.8M882.6 920.5h.8M892.7 921.3h.8M883.2 922h.8M889.7 921.4h.8M893.2 920h.8M883.1 919.3h.8M893.1 920.4h.8M900.6 912.4h.8M901.5 912.9h.8M894.5 912.1h.8M885 923.1h.8M882.4 919.5h.8M889.1 917.6h.8M886.6 920.1h.8M895.8 914.4h.8M893.6 920.7h.8M887.8 915.3h.8M894.8 920.1h.8M900 913.8h.8M884.4 917.8h.8M897.4 918.1h.8M896.7 919.5h.8M883.3 917.7h.8M884.4 924h.8M888.7 922.4h.8M896 915.7h.8M891.7 917.9h.8M893.6 921h.8M890.4 920.1h.8M889.9 919.9h.8M893.4 919.3h.8M896.7 913.2h.8M883.1 919.9h.8M886.1 916.5h.8M892.9 916.4h.8M888.8 917.1h.8M898.1 918.8h.8M897.6 918.5h.8M884.3 918.3h.8M880.4 922.3h.8M895.6 919.6h.8M900.5 915.4h.8M883.2 923.2h.8M883.5 920.4h.8M892.3 921.6h.8M882.7 922.6h.8M892.5 913.2h.8M887.9 916.4h.8M899.4 917.2h.8M895.4 919.7h.8M886.5 916.2h.8M889.3 919.1h.8M890.7 919.9h.8M895.9 918.3h.8M882.4 922.5h.8M891.8 913h.8M897.4 914.8h.8M896.5 916.7h.8M900.9 911.9h.8M898 914.1h.8M896.2 920h.8M893.8 912.9h.8M897.7 917.1h.8M890.1 918.9h.8M885.8 921.6h.8M884.4 922.1h.8M892.7 916.2h.8M898 913.8h.8M889.7 919.1h.8M892.2 919.7h.8M893.2 920.2h.8M884.9 917h.8M890.7 920.5h.8M893.5 919.6h.8M885.2 916.8h.8M888.5 922.9h.8M883.7 919.9h.8M884.8 920.4h.8M889.4 919.1h.8M890.1 914.7h.8M882.7 922.7h.8M899.8 911.7h.8M895 917.6h.8M891.8 920.5h.8M902.1 913.6h.8M889.1 918.4h.8M895 915.6h.8M894 921h.8M874.1 937.8h.8M872.6 927.8h.8M851.8 927h.8M904.3 920.9h.8M871.4 920.1h.8M868.6 922.9h.8M848.2 937.9h.8M856.9 934.8h.8M845.3 931.7h.8M876.5 919.1h.8M856.4 931.3h.8M867 930.7h.8M872.8 927.6h.8M870.1 921.6h.8M868.1 926.3h.8M881.4 925.2h.8M888.9 920.6h.8M880.3 926.3h.8M858.6 929.4h.8M885.8 916.1h.8M849.3 925.1h.8M849.5 929.2h.8M834.8 931.8h.8M871.4 911.8h.8M849.3 927.2h.8M850.4 918.1h.8M860.5 936.4h.8M868.3 927.6h.8M853.2 924h.8M848.9 920.7h.8M900.3 923.7h.8M898.6 917.6h.8M851.9 931.6h.8M850.8 926.7h.8M856.8 925.4h.8M867.2 924.9h.8M875.8 927h.8M849.8 918.9h.8M858.5 921.9h.8M886.1 924.3h.8M879.1 919h.8M856.9 933.2h.8M876.5 916.9h.8M867 922h.8M857.7 935.6h.8M873.2 927.9h.8M889.2 911.6h.8M875.1 924.9h.8M853.5 922h.8M891.2 930.3h.8M876.8 923.4h.8M891.3 920.9h.8M861 927.8h.8M876.4 935.7h.8M871.2 923h.8M872.9 929.4h.8M867.7 925.7h.8M855.9 923.9h.8M850.8 928.8h.8M874.3 931.5h.8M854.7 921.2h.8M854.8 924.9h.8M860.8 921.8h.8M838.4 924.8h.8M845.9 922.3h.8M863.1 933.3h.8M864.2 924.1h.8M892.2 924.7h.8M856.9 925.3h.8M875.4 928h.8M842.7 921.3h.8M853.1 913.6h.8M863.7 923.8h.8M864.9 923.5h.8M851.4 928.8h.8M872.2 915.1h.8M857.9 919.8h.8M876.2 921.7h.8M854.5 920.6h.8M855.5 929.3h.8M873 929.5h.8M884.5 929.5h.8M894.5 921.3h.8M868.8 925.7h.8M863.4 928.1h.8M831.3 928.6h.8M869.9 928.4h.8M878.5 920.8h.8M856.5 941.1h.8M881.8 911.3h.8M878 923.2h.8M879 936.1h.8M860.3 918.7h.8M870.2 934.2h.8M871.8 938.5h.8M870.8 929h.8M872.6 934.8h.8M851.5 929.9h.8M882.8 915.6h.8M874.6 935.1h.8M883.6 919.5h.8M855 919h.8M831.5 924.3h.8M847.4 926.4h.8M889.7 930.6h.8M864.3 923.4h.8M860.8 921.9h.8M882.6 928.9h.8M875.8 925.9h.8M884.3 925.9h.8M872.2 920.5h.8M884.1 924.7h.8M882.5 922.6h.8M870.5 929.6h.8M859 929.2h.8M869.5 932h.8M858 923.2h.8M861.7 919.2h.8M883.3 925.4h.8M860.9 921.2h.8M860.9 932h.8M879.3 927.3h.8M860 931h.8M872.9 919.2h.8M852.4 932h.8M875.7 918.4h.8M881.2 921.1h.8M886.2 924.3h.8M881.8 923h.8M862 920.5h.8M856.7 932.1h.8M879.2 919.9h.8M879.4 927.2h.8M870.7 918.6h.8M854.5 928.1h.8M882.7 925.7h.8M877.2 926.1h.8M850.7 924.8h.8M850.4 924.9h.8M858.9 931.5h.8M858 923h.8M883.4 919.2h.8M850.1 927.7h.8M864.8 931h.8M876.8 920.3h.8M877.3 921h.8M867.2 931h.8M879.2 928.4h.8M880.9 926.6h.8M854.7 931.2h.8M865.2 919.5h.8M881.5 921.1h.8M880.2 926h.8M866.5 918.6h.8M881.8 921.9h.8M878.5 921.8h.8M857.4 924.7h.8M863.2 932.8h.8M881.9 922.4h.8M885.1 927.2h.8M855.5 931h.8M865.9 934.1h.8M879.1 922.5h.8M872.6 919.4h.8M858.8 921.3h.8M869.6 919h.8M857 921.9h.8M874.1 929.9h.8M869.2 931.2h.8M864.3 919.2h.8M874.5 920.5h.8M858.5 920.8h.8M866 931h.8M880.3 920.6h.8M852.9 931.5h.8M860 919.2h.8M856.4 928.4h.8M850.8 929.5h.8M849.1 926h.8M863.6 932.1h.8M862.9 920.1h.8M865.7 920.2h.8M866 930.8h.8M860.2 932.1h.8M866.6 932h.8M853.4 923.2h.8M878.8 923.4h.8M860 920.8h.8M878 919.4h.8M880.6 928.1h.8M868.1 931h.8M849.7 927.6h.8M852.1 932.8h.8M850.5 927.8h.8M875.4 927.2h.8M870.7 929.2h.8M885.1 922.3h.8M846.4 925.8h.8M860.4 931h.8M859.5 919h.8M857.1 931.7h.8M862 920.9h.8M865.7 932.2h.8M878.7 920h.8M861.2 933h.8M869.2 920.7h.8M854.2 924.9h.8M857 919.7h.8M854.5 930.1h.8M881.6 926.1h.8M881.4 924.2h.8M884.3 921.1h.8M871.9 931.5h.8M881 919.2h.8M871.2 930.3h.8M849.4 927.3h.8M885.2 920h.8M863.3 931.5h.8M855.2 925.3h.8M849.4 929.8h.8M886.9 921.1h.8M861.7 930.6h.8M861.8 931.8h.8M879.7 922.4h.8M852.9 928.2h.8M862.9 922.6h.8M854.9 926.4h.8M851.5 927.1h.8M850.1 931h.8M854.1 923.6h.8M869.2 931.5h.8M869.5 928.5h.8M853.3 928.6h.8M857.1 921.6h.8M884.4 920.6h.8M868.6 917.3h.8M877 919.1h.8M872.8 919h.8M879.6 925.5h.8M879.4 927.4h.8M878.1 918.7h.8M859 931.7h.8M864.3 932.1h.8M854.9 930.8h.8M863.8 931.1h.8M864.4 919.2h.8M850.9 926.3h.8M872.1 931.9h.8M855.7 933.6h.8M884.6 923.1h.8M881.2 925.4h.8M879.7 925.9h.8M876.4 918.1h.8M880.6 919.7h.8M862.5 919.6h.8M879 922.7h.8M870.2 934.4h.8M881.4 927.1h.8M881 920.1h.8M883.6 923.6h.8M857.8 932.7h.8M854.6 921.7h.8M853.8 928.8h.8M874.4 921.6h.8M863.1 919.4h.8M876.5 920.9h.8M845.8 930.2h.8M861.1 932.6h.8M853.9 923.9h.8M878.3 923.4h.8M882.5 924.2h.8M866.1 918.2h.8M878.6 929.4h.8M861.5 931.3h.8M879.7 920.8h.8M883.2 923.7h.8M860.1 932.6h.8M879.4 927.8h.8M855.7 924.2h.8M853.6 925.2h.8M849 928.4h.8M864.6 919.3h.8M868.6 919.4h.8M862.6 921.9h.8M870.1 931.7h.8M851.1 929.1h.8M879.7 927.5h.8M880.2 925.5h.8M873.3 921.3h.8M857.6 926.1h.8M875 931.5h.8M866.3 919.1h.8M863.2 921.1h.8M870.6 930.1h.8M881.8 926.6h.8M878.7 918.8h.8M855.2 923.8h.8M851.3 928h.8M853.8 924h.8M866 918.9h.8M849.5 926.2h.8M867.1 920.2h.8M863.3 920h.8M881.3 925.6h.8M886.8 923.9h.8M872.3 918.9h.8M866.5 931.1h.8M877.8 920.7h.8M870.8 931.4h.8M879.5 919.9h.8M868.7 917.8h.8M876.7 922.4h.8M865.2 919.9h.8M861 930h.8M867.4 930.7h.8M866 921h.8M868.1 918.3h.8M881.3 923.5h.8M861.5 919.2h.8M852.5 928.6h.8M881.1 919.5h.8M851.8 927.3h.8M877.1 928.9h.8M868.5 918.6h.8M876.9 920.3h.8M853.4 930h.8M878.2 922h.8M862.6 919.5h.8M872.6 919.1h.8M859.8 923.6h.8M867.9 919.1h.8M882.2 921.2h.8M864.5 930.6h.8M884.7 921.7h.8M880.6 925.9h.8M860.9 920.3h.8M851.2 929.2h.8M876.1 928.3h.8M855.4 921.2h.8M854.7 924.7h.8M855.4 924.3h.8M860.3 921.5h.8M867.4 919.8h.8M854.7 928.6h.8M855.6 931.5h.8M871.2 931.1h.8M874.9 927.3h.8M865.3 931.5h.8M881.2 928.4h.8M864.5 933.5h.8M854.6 930h.8M873.2 921.6h.8M880.3 925.1h.8M877.3 917.3h.8M878.8 928.4h.8M877.6 927.5h.8M862.4 920.1h.8M879.2 921.5h.8M881.5 923.8h.8M877 930.1h.8M856.6 931.8h.8M857.4 925.6h.8M875.3 927.4h.8M870.7 931.1h.8M868.4 932h.8M883.9 925.3h.8M881.6 922.4h.8M868.9 930.7h.8M856.3 929.9h.8M857.2 931.4h.8M849.6 927h.8M878.8 920.7h.8M877.7 928.1h.8M878.6 928h.8M855.9 926.6h.8M853.3 928.7h.8M853.6 931.2h.8M858.8 931.5h.8M862.5 920.6h.8M865.2 930.8h.8M876.4 919.5h.8M859.9 921.3h.8M868.6 920.3h.8M881.7 922.5h.8M861.8 930.8h.8M881.5 925.3h.8M863.7 930.1h.8M860.7 930.1h.8" stroke="#3f7bf5" stroke-width="0.8" fill="none"/><path d="M894.3 915.6h.8M898.9 913.5h.8M882.9 922.4h.8M890 920.3h.8M897.3 919.2h.8M895.2 916.9h.8M890.3 921.2h.8M897.6 917.4h.8M889 915.8h.8M890.9 917.4h.8M897.7 912h.8M892.8 913.4h.8M893.6 921.3h.8M894.1 917.9h.8M892.9 913.4h.8M894 916.3h.8M889.9 913.7h.8M883.1 919.8h.8M883.4 920.9h.8M896.5 912.4h.8M889.5 919.9h.8M894.8 914.3h.8M893.6 915.2h.8M887.6 923.2h.8M889.6 916.4h.8M883.5 918.4h.8M882.4 918.6h.8M885 916.9h.8M892.5 917.7h.8M895 920.2h.8M897.9 917.8h.8M901.9 915h.8M890.2 919.2h.8M895.7 920h.8M894.5 921.4h.8M881.8 921.2h.8M897.2 915.1h.8M896.2 913.8h.8M882.5 919.3h.8M894 921.7h.8M892.5 913.9h.8M884.8 921.3h.8M890.7 921.9h.8M892.7 916.3h.8M888.5 923h.8M889.7 916.9h.8M883.4 919.2h.8M897.6 911.5h.8M889.5 920.3h.8M897.1 915.3h.8M890.7 920.6h.8M891.9 921.6h.8M891.2 914.9h.8M895.9 919.5h.8M882.3 922.1h.8M897.7 913.4h.8M898 917.5h.8M883.1 918.7h.8M890.2 917.2h.8M896 920.6h.8M898.5 911.7h.8M892.6 915.2h.8M894.3 914.8h.8M888.9 914.4h.8M886.6 923.7h.8M885.6 922.6h.8M886 923.9h.8M861 928.2h.8M855.1 931.2h.8M877.2 921.8h.8M878.1 921.2h.8M856.7 930.1h.8M863.1 929.2h.8M862.3 933.6h.8M856.5 925.8h.8M856.4 930.7h.8M877.9 922.5h.8M857.2 929.6h.8M866.1 931.3h.8M866.6 929.2h.8M866 921.4h.8M873.9 918.8h.8M879.2 926.1h.8M855.2 927h.8M877.9 922.5h.8M879.1 921.5h.8M851.6 928.9h.8M854.5 925.7h.8M879.2 923.2h.8M862.4 923.8h.8M867.5 920.9h.8M873.2 924.8h.8M876.8 919.1h.8M856.4 928.4h.8M871 929.6h.8M874 929.1h.8M876.9 927.6h.8M861.7 923h.8M859.2 928.5h.8M867 930.1h.8M869.1 919.9h.8M856.6 928.8h.8M879.1 921.2h.8M855.3 923.2h.8M874.3 924.6h.8M869.8 931h.8M875.3 930.1h.8M857.5 922.7h.8M879.8 923.1h.8M875.8 929.9h.8M876.7 925.1h.8M859.6 926h.8M874.8 927.3h.8M864.9 930.4h.8M857.8 924.7h.8M850.1 929h.8M864.2 921.8h.8M859.7 925.2h.8M878.1 924h.8M857 930.3h.8M872 922h.8M876.4 922.4h.8M854.5 931h.8M868.2 920.7h.8M864 929.3h.8M859.2 924.2h.8M854.9 927.8h.8M865.3 929.5h.8M873.2 922.7h.8M859.5 923.9h.8M858.8 925.3h.8M864.7 920.7h.8M854.9 923.9h.8M880 922.3h.8M859.7 929.3h.8M875.9 925.3h.8M876.4 921.3h.8M881.5 923.3h.8M881.2 923.6h.8M856.6 929.3h.8M879.7 922h.8M857.3 927.8h.8M879.3 924.5h.8M866.6 930.6h.8M871.6 927.5h.8M874.8 926.6h.8M860.2 921.2h.8M872.6 919.1h.8M876.2 922.1h.8M870.1 925.6h.8M866.9 929.8h.8M870.8 920.8h.8M873 921.6h.8M878.6 922.7h.8M864.7 921.2h.8M863 929.7h.8M876 926.5h.8M875.4 926.4h.8M875 925.2h.8M864.2 923.2h.8M871.4 920.7h.8M862.3 921.1h.8M858.4 923.1h.8M865.4 931.3h.8M854.6 929.1h.8M877.7 927.5h.8M873 923.6h.8M856.3 926.2h.8M873.9 922.2h.8M865.5 930h.8M861 923.5h.8M875.3 921.7h.8M874.4 920.4h.8M871.9 921.7h.8M883.1 921.5h.8M864.6 922.5h.8M873.2 922.2h.8M855.5 924.7h.8M874.7 921.6h.8M862.8 928.3h.8M871.4 920.9h.8M853.6 926.2h.8M867.9 922.3h.8M850.8 925.7h.8M884.1 922.5h.8M862.3 923.9h.8M854.8 929.2h.8M854.1 929.1h.8M861 932.2h.8M879.6 927.9h.8M866.4 932.4h.8M877.8 928.8h.8M873.3 924.9h.8M883.7 923.8h.8M876.6 927.4h.8M859.2 929.9h.8M870 930.2h.8M874.3 921.4h.8M865.3 921.2h.8M876.9 920.4h.8M855.7 927.7h.8M865.6 922.4h.8M854.6 928.7h.8M875.5 923.7h.8M861.6 922.7h.8M863.6 928.3h.8M857.1 929.6h.8M859.1 928.4h.8M870 919.8h.8M863.4 921h.8M852.5 930.2h.8M877.3 927.7h.8M878.9 919.8h.8M874.7 921.4h.8M872.7 927.7h.8M855.9 926.2h.8M858.4 932.2h.8M871.7 920.6h.8M856 925.7h.8M870.3 927.5h.8M862.8 930.1h.8M876.1 921h.8M856.3 928.7h.8M869 920.1h.8M874.9 923h.8M861.6 928.9h.8M861.1 932.6h.8M858.1 928.2h.8M864 918.8h.8M873.8 928.1h.8M869.2 930.3h.8M874.3 919.7h.8M865.3 920.4h.8M874.3 928.2h.8M856.7 929.2h.8M859.2 925.8h.8M852.8 929.4h.8M863.2 929.8h.8M857.6 923.8h.8M855.1 929.3h.8M866.5 921.6h.8M866.7 930.1h.8M869.1 929.1h.8M854.5 926h.8M875.4 919.6h.8M859.7 922.6h.8M859.5 922.6h.8M858.2 929.2h.8M864.3 921.5h.8M866.9 929.4h.8M856.5 922.6h.8M867.8 930.6h.8M857.8 923.5h.8M862.9 920.4h.8M869 930.9h.8M857.1 930.5h.8M858.2 930h.8M873.6 922.8h.8M879.1 920.7h.8M870.2 921.9h.8M868.4 929.9h.8M878.8 922.8h.8M876 928h.8M874.8 923.5h.8M856.4 931.3h.8M873.4 919.8h.8M876.4 922.1h.8M876.8 921.9h.8M856.6 927.2h.8M858 925.9h.8M860.9 923.1h.8M855.2 929.3h.8M876.2 920.2h.8M865 921.9h.8M856.6 928.3h.8M862.2 921.8h.8M872.2 921.8h.8M860.4 923.9h.8M873.9 929.8h.8M873.1 926h.8M874.7 919.5h.8M870.1 929.9h.8M857.9 927.3h.8M873.4 921.9h.8M860.4 922h.8M856.4 928.2h.8M874 928.8h.8M872.3 928.4h.8M855.9 924.7h.8M874.2 922h.8M852.9 930.5h.8M868.2 919.3h.8M878.6 925h.8M875.7 924.4h.8M874 928.8h.8M867.2 921.4h.8M873.6 920.4h.8M859.3 924.7h.8M863.2 922.1h.8M868.7 919h.8M874.9 919.3h.8M862.1 921.6h.8M877 923.6h.8M879.3 922.6h.8M871.8 920.2h.8M871 927.4h.8M881 924.4h.8M878.6 924.7h.8M870.2 930.2h.8M876.1 926.3h.8M859.9 923.4h.8M873.9 924.2h.8M857.4 925.9h.8M857.9 928.6h.8M864.2 929.5h.8M859.2 924.9h.8M859.4 926.5h.8M855.8 921.9h.8M860.1 922.5h.8M855.4 928h.8M855.4 930.6h.8M881.8 923.3h.8M871.5 922.1h.8M876.8 922.9h.8M860.2 923.7h.8M880.5 922h.8M880.5 923.4h.8M874.6 920.1h.8M859.5 923.4h.8M855.5 923.8h.8M851.7 928.9h.8M866.8 931.7h.8M864.3 921.3h.8M877.7 928.4h.8M876.3 927.2h.8M875.6 927.1h.8M869.4 921.2h.8M862.2 931.9h.8M881.4 922.7h.8M868.6 920.9h.8M872.8 923.8h.8M879 927.7h.8M853.9 924.7h.8M860.1 923.3h.8M856.6 921.4h.8M863.5 920.4h.8M857.3 924.1h.8M859.8 925.2h.8M867.2 920.8h.8M878.2 923.2h.8M856.7 924.7h.8M876.8 921h.8M881.9 925.1h.8M856.6 926.3h.8M882.1 923.4h.8M867.8 930.6h.8M859.4 926.2h.8M873.5 920.4h.8M876 920.6h.8M858.6 924.2h.8M853.2 930.5h.8M863.7 928.8h.8M874 926.1h.8M867.9 919.8h.8M857 931.3h.8M859.4 926.3h.8M869.2 920.6h.8M855.1 924.2h.8M860.6 921.3h.8M878.7 923.3h.8M859.3 929.7h.8M863.4 921.1h.8M884.4 920.3h.8M854.5 926.3h.8M868.3 921.7h.8M877.8 921.5h.8M868 929.1h.8M870.3 921.7h.8M853.1 925h.8M871.1 929h.8M858.6 932.1h.8M875.6 927.7h.8M871.6 929.3h.8M856.1 924.7h.8M863 932.7h.8M857.1 924.1h.8M870.9 920.9h.8M878.8 923.3h.8M879.7 925.2h.8M861.6 924.3h.8M857 925h.8M877.5 926.8h.8M876 927.9h.8M858.8 923.2h.8M878.4 924.3h.8M872.8 920.1h.8M871.1 927.6h.8M878.6 922.9h.8M870.1 924.3h.8M872.7 919.2h.8M877.7 922.9h.8M867.9 930.1h.8M876.3 923.1h.8M872.8 921.6h.8M876.6 920h.8M857.1 925.6h.8M854.4 926.2h.8M872.3 919.5h.8M868.9 922.8h.8M857.8 924.9h.8M858.6 928.7h.8M872.3 931.9h.8M880.6 922h.8M875.9 927.3h.8M874.7 927.6h.8M874.3 919.9h.8" stroke="#22c7d8" stroke-width="0.8" fill="none"/><path d="M858.9 927.4h.8M881.1 926.5h.8M866.1 929.7h.8M867.8 922.7h.8M872 927.8h.8M861.4 922.9h.8M864.9 928.5h.8M861.4 925.3h.8M858.2 923.7h.8M870 927.1h.8M868.7 922.3h.8M862.9 926.5h.8M863 929.1h.8M862 924.4h.8M864.5 929.1h.8M873 924.1h.8M871.5 920.9h.8M872.8 924.2h.8M872.9 923.2h.8M859.7 925.7h.8M863.6 930.4h.8M867.2 930.1h.8M864.7 923.8h.8M872.9 929.1h.8M874.5 920.7h.8M862.5 928.9h.8M863 929.8h.8M859.9 924.9h.8M862.4 929.5h.8M875.7 923.9h.8M856 926h.8M859.2 926h.8M873.4 924.4h.8M875.4 924.6h.8M859.1 927.6h.8M870.1 923.8h.8M858 927.8h.8M864 929.8h.8M869.4 922.6h.8M863.7 928.5h.8M865.2 922.6h.8M862.2 926.7h.8M872 929.1h.8M871.1 926.1h.8M860.3 929h.8M859.6 927.9h.8M860.4 925.2h.8M861.7 929.8h.8M857 927.5h.8M865 922.9h.8M878.6 927.3h.8M861.9 928.6h.8M858.8 929.4h.8M875.4 925.8h.8M864.8 928.6h.8M860.2 924.6h.8M862.2 923.7h.8M867.2 929.9h.8M858.7 928.2h.8M873.7 924.1h.8M874.2 919.6h.8M874.4 922.5h.8M857.3 928.6h.8M870.2 922h.8M870.5 920.1h.8M858.3 930h.8M866.2 929.4h.8M875.8 925.4h.8M875.7 924h.8M865.9 929.2h.8M878.6 925.6h.8M876.2 921.1h.8M864.3 922.7h.8M871.5 921.1h.8M875.4 927.3h.8M866 923.1h.8M859.4 924.6h.8M866.9 923.5h.8M860.4 925.4h.8M872.9 926.6h.8M856.8 926h.8M870.8 928.3h.8M878.1 922.2h.8M869.9 923.3h.8M874 922.8h.8M863.4 930.3h.8M868.7 928.9h.8M869.5 929h.8M876.1 926.7h.8M863.3 929.1h.8M858 925.3h.8M872.3 926.6h.8M862.1 924.3h.8M871.2 923.7h.8M866.9 922.1h.8M869.4 928.1h.8M860 928.7h.8M855.6 927.5h.8M870 921.8h.8M865.8 924.3h.8M871.2 927.3h.8M868.1 920.1h.8M866.3 923.8h.8M870.4 926.6h.8M859.3 925.8h.8M867.2 922.8h.8M865.4 929.2h.8M877 925.5h.8M866.3 922.4h.8M862.9 924.4h.8M869.7 926.7h.8M861.2 926.1h.8M873.7 926.5h.8M874.1 927.1h.8M858 927.2h.8M858.4 926.4h.8M857.9 926.1h.8M860.5 924.3h.8M874.2 922.1h.8M870.5 927.2h.8M864.4 926h.8M873.8 923.4h.8M859.7 925h.8M867.3 928.4h.8M866.3 928.6h.8M864.8 923h.8M865 922.4h.8M857.4 924.9h.8M868.7 927.4h.8M870 926.7h.8M874 926.6h.8M861.2 928.5h.8M861.6 923.3h.8M860.1 924.7h.8M876.1 925.6h.8M868.4 921.8h.8M866.7 921.8h.8M874.3 926.1h.8M867.3 920.9h.8M869.8 924h.8M864.9 931.4h.8M876.1 922.8h.8M865.4 923.8h.8M865.1 931h.8M873.1 923.6h.8M859.4 925.2h.8M861.2 928h.8M858.8 929.1h.8M856.9 929.1h.8M873 926.9h.8M875 927.1h.8M874.1 927.2h.8M859.2 929.5h.8M875.3 924.5h.8M875.6 921.4h.8M876.8 927.1h.8M866.3 928.6h.8M858.7 925.4h.8M858.3 928.6h.8M857.1 927h.8M871.9 928.7h.8M869.6 921.5h.8M871.6 922.9h.8M862.1 930.6h.8M861.9 928.6h.8M869.8 929.4h.8M862.5 928.1h.8M872.6 925.8h.8M858.1 924.7h.8M857.4 929.3h.8M863.3 928h.8M873 920.5h.8M867.8 929.2h.8M861 926.7h.8M870.9 928h.8M867.7 929.6h.8M870.4 926.4h.8M862.5 928.4h.8M862.6 926.9h.8M864.4 928.1h.8M862.4 924.8h.8M868.7 922h.8M869.7 925.5h.8M870.1 922.6h.8M864.1 926.3h.8M866.6 927.1h.8M865 922.9h.8M866.8 923.3h.8M862.7 925.6h.8M856.9 924.2h.8M871.8 920.8h.8M867.8 927h.8M863.5 929.8h.8M863 923.6h.8M862.5 922.6h.8M856.3 927.5h.8M861.2 924.6h.8M857.1 925.7h.8M874.3 925.8h.8M866.9 923.8h.8M861.7 927.8h.8M862.4 926h.8M862.6 928.7h.8M872.1 923.7h.8M860.4 928.6h.8M874.9 925.2h.8M864.7 923.1h.8M870 922.4h.8M860.6 925.2h.8M874.8 923.5h.8M873.9 925.5h.8M876.7 924.4h.8M870 922.2h.8M867.3 928.3h.8M858.3 924.5h.8M869.9 924.5h.8M857.2 923h.8M876.9 925.5h.8M871.6 927.7h.8M873.1 923.6h.8M864.6 930.7h.8M869.1 924.5h.8M870.9 926h.8M863.6 930.3h.8M865.7 923.6h.8M862.6 922.8h.8M857.8 927.5h.8M874 924.2h.8M872.2 926.8h.8M865 924h.8M858.5 929.3h.8M873.2 924h.8M873.1 922.7h.8M864.6 929.9h.8M862.2 923.3h.8M857.9 925.2h.8M866.7 925.4h.8M867.4 925h.8M869 929.4h.8M863.9 930.5h.8M864.5 928.9h.8M874.2 922.8h.8M874.8 924.8h.8M860 929.3h.8M870.1 924h.8M859.2 926.4h.8M861.8 927.6h.8M865.1 929.4h.8M856.3 927.6h.8M861.3 925.8h.8M856.2 924.9h.8M874.4 924.4h.8M857.5 927.1h.8M869.1 929.7h.8M866.8 928.6h.8M863.7 928.3h.8M857.7 924h.8M882.7 924.2h.8M873.2 923.4h.8M879 925.5h.8M858.7 926.5h.8M875.2 921.4h.8M857.3 924.7h.8M876.8 924h.8M876.5 924h.8M862 925.7h.8M872.4 921.6h.8M878.5 923.2h.8M856.6 928.6h.8M861 929.6h.8M857.5 928h.8M860.1 923.5h.8M856 926.9h.8M858.9 924.7h.8M873.4 925.4h.8M865.7 923.7h.8M868 929.3h.8M865 921.4h.8M860.8 927.4h.8M861.6 928h.8M867.6 922h.8M874.1 926h.8M869.9 924.1h.8M862.7 926h.8M868 924.1h.8M866.7 930.9h.8M862.3 921.3h.8M859.9 924.9h.8M869.5 929.1h.8M867.5 926.3h.8M874.3 922.5h.8M870.9 922.5h.8M875.4 921.5h.8M872.1 923.1h.8M857.5 927.8h.8M870.5 926.1h.8M873.5 923.7h.8M863 930.2h.8M870 926.6h.8M872.9 921.8h.8M872.6 929.1h.8M871.4 923.2h.8M863.9 927.6h.8M856.5 928.6h.8M863.6 922.8h.8M867.7 924h.8M865.2 927.9h.8M856 924.2h.8M872.1 921.1h.8M873.8 920.2h.8M860.5 925.5h.8M868.2 923.3h.8M875.1 924.5h.8M875.4 923.4h.8M870.8 922.8h.8M871.9 925.4h.8M863.2 923.9h.8M860.4 930.3h.8M871.4 928.1h.8M866 924.9h.8M859.5 923.4h.8M867.3 923.6h.8M864.2 923.6h.8M871.9 924.7h.8M855 930.6h.8M861.1 921.7h.8M857.7 925.7h.8M877.9 926.2h.8M869.1 927.3h.8M872.1 920.7h.8M859.8 928h.8M861.9 924.5h.8M863.8 927.8h.8M868.9 924.1h.8M865.3 923.5h.8M874.1 925.5h.8M863.5 923.1h.8M858.2 927.1h.8M854.2 926.8h.8M864 924.6h.8M871.9 927.3h.8M868.3 921.6h.8M876.7 926.5h.8M872.4 928.5h.8M866 922.1h.8M867.7 923.7h.8M874.8 924.6h.8M859 924.6h.8M871 924.3h.8M868.6 924.5h.8M858.5 921.5h.8M874.1 925.4h.8M875.5 925.1h.8M860.3 924.9h.8M875 924.6h.8M873.3 922.6h.8M859.9 922h.8M860 927.1h.8M872.6 924.9h.8M877.1 924.5h.8M860.7 923.2h.8M875.5 924.4h.8M867.5 923.6h.8M876.7 926.9h.8M876.2 922.7h.8M861.9 931.3h.8M873.8 926.1h.8M876.8 923.1h.8M871.3 921.9h.8M863.9 922.8h.8M864 923.7h.8M859.2 928.2h.8M858.8 927.2h.8M858.5 928h.8M867.9 929.4h.8M876.3 924.4h.8M862.9 925.4h.8M867.2 929.5h.8M879.5 923.9h.8M867.3 929.4h.8M869.9 930.8h.8M859.9 926.4h.8M878.5 925.8h.8M864.9 923.2h.8M862.3 929.4h.8M860.6 927.1h.8M858.8 929.2h.8M874.8 922.3h.8M855.6 925.5h.8M872.3 922.9h.8M864.3 929.3h.8M858.5 925.6h.8M862.8 928.5h.8M869.9 927.9h.8M873.9 927.1h.8M861.8 928.7h.8M856.3 927.5h.8M860.8 926.8h.8M857 928.5h.8M865.7 930.1h.8M866.3 928.9h.8M871.9 929.1h.8M876.2 925h.8M873.9 924.7h.8M876.7 923.8h.8M871.1 923.9h.8M866.6 927.5h.8M857.7 924.3h.8" stroke="#37d04a" stroke-width="0.8" fill="none"/><path d="M856.7 926h.8M863.4 925h.8M867.4 923.4h.8M861.7 927.8h.8M861.8 927.2h.8M872.8 924.6h.8M861 927.6h.8M856.4 926.8h.8M870.9 926.5h.8M864.1 923.8h.8M867.5 924.7h.8M868.5 923.4h.8M868.8 922.2h.8M869.3 927.2h.8M858.6 927.7h.8M871.2 925.7h.8M861 927.5h.8M872.3 923.4h.8M863.1 926.7h.8M865.9 926.6h.8M864.3 924.1h.8M869.4 923.2h.8M868.5 927.1h.8M870.8 927.1h.8M864 928h.8M864.7 923.3h.8M859.7 928.2h.8M865.3 928.5h.8M867.2 928.5h.8M869.2 927h.8M862.9 925.6h.8M868.6 927.1h.8M869.1 924.9h.8M865 924.5h.8M866.4 924.1h.8M861.7 925.7h.8M870.4 926.6h.8M873.4 926h.8M869.2 926.2h.8M859.5 925h.8M865.7 921.9h.8M864.3 928.1h.8M859.1 925.1h.8M871.1 927.8h.8M877.2 922.7h.8M868.3 926.8h.8M867.6 927.2h.8M864.7 923.5h.8M870.8 928h.8M873 926.4h.8M878.6 923h.8M862.3 926.8h.8M863.3 923.1h.8M865.3 924.8h.8M866.2 929.5h.8M869.2 926.8h.8M871.5 927.9h.8M869.6 923.7h.8M867.9 928h.8M863.2 924.6h.8M866.7 923.6h.8M865.4 927.5h.8M869.4 922.8h.8M864.5 928h.8M873 926.1h.8M870 927h.8M869.5 924.8h.8M861.4 924.2h.8M867.1 926.4h.8M877.2 924.2h.8M869.5 924.2h.8M867.4 929.3h.8M868 924.2h.8M869.7 923.3h.8M866.6 927.7h.8M861.6 925.1h.8M866.7 923.9h.8M867.9 927.2h.8M866.2 926.1h.8M872.8 924.3h.8M870.3 923.6h.8M868.1 928.6h.8M864.5 927.7h.8M870.6 923.8h.8M863.3 923.7h.8M871.7 925.3h.8M863.3 924.9h.8M867.9 924h.8M872.1 925.6h.8M864.5 928.3h.8M865.5 929.3h.8M867 923.4h.8M870.1 924.9h.8M865.3 923.8h.8M873.6 924h.8M869.3 926.8h.8M868.2 927.8h.8M868.7 926.9h.8M866.9 928.1h.8M871 922.3h.8M863.7 926.6h.8M868.8 924.1h.8M869.6 923.8h.8M868.4 928h.8M868.7 927.8h.8M863.4 922.6h.8M865.3 927.7h.8M867 923.8h.8M866.7 923.2h.8M872.1 921.1h.8M867.7 925.6h.8M868.8 922.4h.8M866.7 929.2h.8M862.1 924.4h.8M870.1 926.3h.8M863.2 927h.8M864.3 922.1h.8M865.8 922.5h.8M871.2 925.5h.8M871 925.8h.8M862.4 925.2h.8M865.2 924.9h.8M870.2 922.4h.8M867.1 928h.8M863.1 926.8h.8M865.3 929h.8M867 929.5h.8M861.1 927.3h.8M871.5 925h.8M869.3 924.6h.8M865.2 922.2h.8M863 928.4h.8M867 927.4h.8M868.8 921.9h.8M869.6 923.1h.8M861.3 927h.8M867.5 924h.8M874.7 927.8h.8M861.3 926.4h.8M870.5 922.3h.8" stroke="#d8e02a" stroke-width="0.8" fill="none"/><path d="M870.8 924.9h.8M865.4 926.1h.8M870.8 924.2h.8M862.9 928h.8M865.4 923.8h.8M859.5 927.5h.8M867.1 927.2h.8M865.4 926.2h.8M869 927.5h.8M865 927.8h.8M865 924.1h.8M867 926h.8M862.8 925.9h.8M868.5 925h.8M863.2 927.8h.8M865.7 923.4h.8M866 928h.8M865.5 928.9h.8M871 922.4h.8M865.8 923.1h.8M865.8 924.2h.8M862.4 923.6h.8M869.4 925.1h.8M860.5 926.1h.8M867.1 926.2h.8M867.1 926.9h.8M865 923.7h.8M868.1 926.8h.8M867.1 923.4h.8M859.4 926.2h.8M867 923.7h.8M870.4 926.8h.8M869.5 925.8h.8M865.3 924.6h.8M865 926h.8M875.1 925.4h.8M863.4 924h.8M861.6 926.4h.8M870 926.1h.8M867.2 928.1h.8M864.5 926.2h.8M866.9 927.1h.8M869.3 928.9h.8M860.1 927.1h.8M864.1 928.4h.8M869.8 926.2h.8M860.7 924.8h.8M864.8 926.5h.8M867.5 927h.8M865.3 926.7h.8M868.7 924.8h.8M870.2 924h.8M865.6 929h.8M863.2 924.3h.8M862.5 925.4h.8M871.3 927.1h.8M862 926.7h.8M867.5 926.4h.8M867.4 925.2h.8M865.9 924.2h.8M868.8 924.5h.8M867 927.1h.8" stroke="#f29a1c" stroke-width="0.8" fill="none"/><path d="M865.7 924.9h.8M866.7 927.3h.8M870 923.8h.8M866.8 925.2h.8M869.1 927.5h.8M868.7 927.7h.8M862.1 925.8h.8M864.5 925.5h.8M866.3 925.3h.8M867.1 925.6h.8M867.6 923.6h.8M868.8 926.1h.8M865.4 926.2h.8M862.6 926h.8M865.2 925.9h.8M865.6 925.4h.8M865.3 925.8h.8M868.5 925.2h.8M867 925.2h.8M866.8 924.7h.8M868.2 925.1h.8M868.1 924.6h.8M864.5 925.4h.8M866.4 925.6h.8M865.5 925.2h.8M866.5 927.7h.8M864.7 925.7h.8M864.3 926.1h.8M866.2 926.3h.8M868.8 924.5h.8M861.9 925.8h.8M865.4 923.9h.8M866.9 925.3h.8M866.9 925.5h.8M868.3 927.5h.8M872.3 924.5h.8M864.9 925.3h.8M866.2 926.5h.8M865.2 925.6h.8M864.7 924.4h.8M866.2 925.8h.8M867.2 926.5h.8M865.6 927h.8M866.1 924.9h.8M869.8 923.8h.8M868.8 925.5h.8M869.2 925.3h.8M871.2 925.1h.8M862.7 928.1h.8M861.8 927.5h.8M866.5 922.6h.8M865.7 926h.8M865.6 926.9h.8M864.5 924h.8M869.8 925.9h.8M865.8 925.6h.8M869.3 926.7h.8M867.1 926h.8M871.2 926.3h.8M864 925h.8M868.5 926h.8M867.3 924.3h.8M865.5 925.2h.8M871.4 925.4h.8" stroke="#ee3a1e" stroke-width="0.8" fill="none"/><path d="M912.2 818.5V973M828 904.3H982.9" stroke="#222" stroke-width="1.1" fill="none"/><path d="M846.1 973v4M896 973v4M932.6 973v4M967.9 973v4M829 973v2.2M834 973v2.2M838 973v2.2M841 973v2.2M850 973v2.2M854 973v2.2M858 973v2.2M873 973v2.2M880 973v2.2M885 973v2.2M889 973v2.2M892 973v2.2M894 973v2.2M907 973v2.2M914 973v2.2M918 973v2.2M922 973v2.2M925 973v2.2M927.5 973v2.2M930 973v2.2M943 973v2.2M950 973v2.2M955 973v2.2M958 973v2.2M961 973v2.2M963 973v2.2M965.5 973v2.2M978 973v2.2M828 832.9h-4M828 869.7h-4M828 911.9h-4M828 936.9h-4M828 962.8h-4M828 821.5h-2.2M828 824.5h-2.2M828 827.5h-2.2M828 840.5h-2.2M828 847.5h-2.2M828 851.5h-2.2M828 855.5h-2.2M828 858.5h-2.2M828 861.5h-2.2M828 864.5h-2.2M828 867h-2.2M828 880.5h-2.2M828 888.5h-2.2M828 893.5h-2.2M828 897.5h-2.2M828 900.5h-2.2M828 903.5h-2.2M828 906.5h-2.2M828 908.5h-2.2M828 918.5h-2.2M828 923.5h-2.2M828 927.5h-2.2M828 931.5h-2.2M828 941.5h-2.2M828 945.5h-2.2M828 949.5h-2.2M828 954.5h-2.2M828 958.5h-2.2M828 966.5h-2.2" stroke="#111" stroke-width="0.9" fill="none"/><path d="M843.7 973v3.5" stroke="#111" stroke-width="4" fill="none"/><path d="M828 936.9h-3.5" stroke="#111" stroke-width="5.5" fill="none"/><g class="ns2" font-size="5.3" fill="#111"><text x="846.5" y="985.8" text-anchor="middle">0</text><text x="899.5" y="985.8" text-anchor="middle">10<tspan dy="-2.3" font-size="4.3">3</tspan></text><text x="936" y="985.8" text-anchor="middle">10<tspan dy="-2.3" font-size="4.3">4</tspan></text><text x="971.5" y="985.8" text-anchor="middle">10<tspan dy="-2.3" font-size="4.3">5</tspan></text><text x="822" y="835.1" text-anchor="end">10<tspan dy="-2.3" font-size="4.3">5</tspan></text><text x="822" y="871.9" text-anchor="end">10<tspan dy="-2.3" font-size="4.3">4</tspan></text><text x="822" y="914.1" text-anchor="end">10<tspan dy="-2.3" font-size="4.3">3</tspan></text><text x="819" y="938.5" text-anchor="end">0</text><text x="822" y="965" text-anchor="end">-10<tspan dy="-2.3" font-size="4.3">3</tspan></text></g><g class="ns2" font-size="6.1" fill="#111"><text x="831.2" y="830.5">Q1</text><text x="831.2" y="840.3">0.72</text><text x="969.4" y="830.5" text-anchor="end">Q2</text><text x="969.4" y="840.3" text-anchor="end">8.30</text><text x="969.4" y="954.7" text-anchor="end">Q3</text><text x="969.4" y="964.5" text-anchor="end">4.46</text><text x="831.2" y="954.7">Q4</text><text x="831.2" y="964.5">86.5</text></g><text x="909.5" y="812.5" font-size="15.2" text-anchor="middle">TMP200</text></g>
<path d="M18.4 829V1000.8H970" stroke="#000" stroke-width="3" fill="none"/>
<path d="M18.4 820L24.3 831.7H12.4ZM981 1000.8L969.5 1006.4V995.2Z" fill="#000"/>
<text font-size="16.5" text-anchor="middle" transform="translate(14.5 906) rotate(-90)">PI</text>
<text x="448.3" y="1019.3" font-size="17.4" word-spacing="2.7">Annexin V FITC</text>
<text x="9.5" y="797.6" font-size="21.5" text-anchor="start">G</text>
</svg>
</body></html>
